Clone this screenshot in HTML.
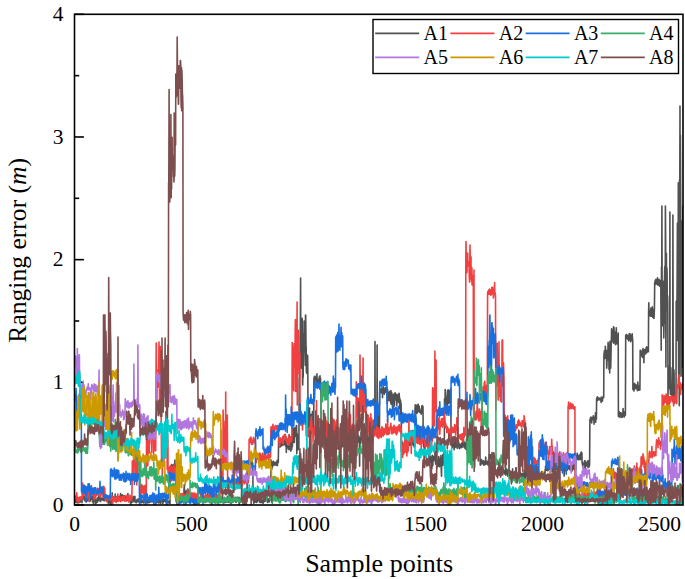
<!DOCTYPE html>
<html><head><meta charset="utf-8"><style>
html,body{margin:0;padding:0;background:#fff;}
body{width:685px;height:579px;overflow:hidden;}
svg{display:block;font-family:"Liberation Serif",serif;}
</style></head><body>
<svg width="685" height="579" viewBox="0 0 685 579">
<rect width="685" height="579" fill="#fff"/>
<line x1="74.5" y1="505.00" x2="83.9" y2="505.00" stroke="#000" stroke-width="1.6"/>
<line x1="74.5" y1="443.66" x2="79.2" y2="443.66" stroke="#000" stroke-width="1.6"/>
<text x="63.5" y="511.60" text-anchor="end" font-size="21.5">0</text>
<line x1="74.5" y1="382.32" x2="83.9" y2="382.32" stroke="#000" stroke-width="1.6"/>
<line x1="74.5" y1="320.99" x2="79.2" y2="320.99" stroke="#000" stroke-width="1.6"/>
<text x="63.5" y="388.93" text-anchor="end" font-size="21.5">1</text>
<line x1="74.5" y1="259.65" x2="83.9" y2="259.65" stroke="#000" stroke-width="1.6"/>
<line x1="74.5" y1="198.31" x2="79.2" y2="198.31" stroke="#000" stroke-width="1.6"/>
<text x="63.5" y="266.25" text-anchor="end" font-size="21.5">2</text>
<line x1="74.5" y1="136.98" x2="83.9" y2="136.98" stroke="#000" stroke-width="1.6"/>
<line x1="74.5" y1="75.64" x2="79.2" y2="75.64" stroke="#000" stroke-width="1.6"/>
<text x="63.5" y="143.58" text-anchor="end" font-size="21.5">3</text>
<line x1="74.5" y1="14.30" x2="83.9" y2="14.30" stroke="#000" stroke-width="1.6"/>
<text x="63.5" y="20.90" text-anchor="end" font-size="21.5">4</text>
<text x="74.50" y="531" text-anchor="middle" font-size="21.5">0</text>
<text x="191.52" y="531" text-anchor="middle" font-size="21.5">500</text>
<text x="308.54" y="531" text-anchor="middle" font-size="21.5">1000</text>
<text x="425.56" y="531" text-anchor="middle" font-size="21.5">1500</text>
<text x="542.58" y="531" text-anchor="middle" font-size="21.5">2000</text>
<text x="659.60" y="531" text-anchor="middle" font-size="21.5">2500</text>
<defs><clipPath id="clip"><rect x="74.5" y="14.3" width="608.5" height="490.7"/></clipPath></defs>
<g clip-path="url(#clip)"><path d="M74.5,501.6 74.7,502.0 75.0,499.0 75.2,500.4 75.4,499.7 75.7,499.9 75.9,502.1 76.1,499.4 76.4,500.3 76.6,501.5 76.8,502.1 77.1,502.8 77.3,501.6 77.5,501.6 77.8,502.4 78.0,502.8 78.2,502.1 78.5,500.7 78.7,500.3 78.9,501.8 79.2,498.3 79.4,499.5 79.6,502.4 79.9,500.5 80.1,500.8 80.4,501.8 80.6,500.5 80.8,500.7 81.1,499.7 81.3,501.2 81.5,501.6 81.8,500.5 82.0,502.8 82.2,496.5 82.5,500.8 82.7,498.5 82.9,495.9 83.2,496.4 83.4,498.8 83.6,497.3 83.9,497.6 84.1,496.0 84.3,497.2 84.6,497.9 84.8,500.6 85.0,500.0 85.3,501.0 85.5,498.0 85.7,500.6 86.0,498.7 86.2,501.7 86.4,498.8 86.7,497.4 86.9,499.2 87.1,500.7 87.4,499.4 87.6,500.9 87.8,496.7 88.1,496.4 88.3,499.7 88.5,499.4 88.8,496.1 89.0,496.1 89.2,499.0 89.5,500.8 89.7,496.5 89.9,496.8 90.2,501.3 90.4,497.5 90.6,499.4 90.9,497.3 91.1,498.3 91.4,495.9 91.6,499.2 91.8,498.4 92.1,496.2 92.3,499.3 92.5,502.0 92.8,497.1 93.0,499.3 93.2,500.6 93.5,503.6 93.7,499.8 93.9,501.6 94.2,499.1 94.4,500.4 94.6,498.6 94.9,499.2 95.1,500.7 95.3,500.0 95.6,503.9 95.8,501.0 96.0,501.1 96.3,502.9 96.5,500.6 96.7,500.9 97.0,498.8 97.2,500.1 97.4,502.1 97.7,499.5 97.9,497.5 98.1,500.8 98.4,499.8 98.6,497.4 98.8,495.7 99.1,498.7 99.3,499.0 99.5,496.2 99.8,493.5 100.0,500.7 100.2,501.5 100.5,501.5 100.7,500.2 100.9,501.0 101.2,498.7 101.4,498.2 101.6,498.6 101.9,498.1 102.1,498.1 102.4,498.4 102.6,499.2 102.8,500.2 103.1,498.5 103.3,500.5 103.5,499.1 103.8,498.9 104.0,498.4 104.2,499.5 104.5,500.7 104.7,498.9 104.9,498.2 105.2,495.5 105.4,500.2 105.6,499.9 105.9,495.8 106.1,499.1 106.3,496.9 106.6,500.4 106.8,498.5 107.0,501.0 107.3,498.2 107.5,498.4 107.7,500.1 108.0,497.8 108.2,503.3 108.4,501.6 108.7,499.7 108.9,502.1 109.1,497.7 109.4,499.1 109.6,500.7 109.8,500.1 110.1,504.5 110.3,498.1 110.5,498.8 110.8,500.5 111.0,500.6 111.2,498.6 111.5,500.6 111.7,506.4 111.9,501.5 112.2,492.7 112.4,498.4 112.6,502.9 112.9,500.5 113.1,500.4 113.4,496.8 113.6,500.4 113.8,497.6 114.1,498.8 114.3,500.5 114.5,497.9 114.8,498.4 115.0,501.2 115.2,494.1 115.5,498.4 115.7,500.0 115.9,501.1 116.2,500.4 116.4,497.0 116.6,497.5 116.9,498.0 117.1,499.7 117.3,500.4 117.6,499.9 117.8,500.8 118.0,499.5 118.3,500.6 118.5,496.5 118.7,498.7 119.0,496.3 119.2,497.2 119.4,499.3 119.7,498.0 119.9,497.5 120.1,497.9 120.4,495.8 120.6,493.6 120.8,496.1 121.1,496.5 121.3,495.8 121.5,500.0 121.8,497.3 122.0,496.1 122.2,494.9 122.5,498.8 122.7,495.7 122.9,496.3 123.2,496.4 123.4,497.3 123.6,498.4 123.9,495.5 124.1,500.3 124.4,496.4 124.6,496.4 124.8,495.5 125.1,497.2 125.3,499.0 125.5,497.0 125.8,499.0 126.0,500.9 126.2,498.3 126.5,497.8 126.7,496.7 126.9,497.4 127.2,500.6 127.4,500.1 127.6,495.7 127.9,493.5 128.1,498.2 128.3,497.2 128.6,500.3 128.8,497.9 129.0,498.5 129.3,498.9 129.5,500.8 129.7,501.0 130.0,499.1 130.2,499.2 130.4,497.1 130.7,506.7 130.9,496.6 131.1,501.6 131.4,497.5 131.6,502.6 131.8,498.1 132.1,502.1 132.3,500.9 132.5,497.5 132.8,500.7 133.0,498.0 133.2,501.8 133.5,496.5 133.7,500.5 133.9,498.0 134.2,500.5 134.4,498.2 134.6,499.2 134.9,496.4 135.1,502.1 135.3,500.4 135.6,500.5 135.8,501.6 136.1,502.1 136.3,502.7 136.5,501.7 136.8,501.9 137.0,499.5 137.2,499.3 137.5,499.4 137.7,500.8 137.9,501.6 138.2,500.0 138.4,499.0 138.6,499.3 138.9,501.9 139.1,499.1 139.3,500.4 139.6,502.6 139.8,499.7 140.0,502.2 140.3,499.5 140.5,501.5 140.7,500.4 141.0,502.8 141.2,501.5 141.4,500.0 141.7,502.8 141.9,502.5 142.1,502.4 142.4,501.5 142.6,502.0 142.8,502.1 143.1,499.7 143.3,500.8 143.5,501.7 143.8,503.0 144.0,500.5 144.2,502.3 144.5,501.4 144.7,500.1 144.9,501.0 145.2,499.7 145.4,501.7 145.6,501.8 145.9,502.5 146.1,501.2 146.3,499.7 146.6,500.4 146.8,501.1 147.1,503.2 147.3,500.8 147.5,502.0 147.8,500.8 148.0,502.2 148.2,501.8 148.5,499.7 148.7,502.8 148.9,499.5 149.2,502.1 149.4,502.5 149.6,501.2 149.9,499.3 150.1,499.9 150.3,499.8 150.6,501.9 150.8,500.5 151.0,499.8 151.3,500.6 151.5,500.8 151.7,501.8 152.0,498.8 152.2,498.4 152.4,499.8 152.7,501.8 152.9,499.4 153.1,502.0 153.4,499.7 153.6,501.1 153.8,500.2 154.1,499.8 154.3,500.3 154.5,500.4 154.8,499.7 155.0,499.9 155.2,502.2 155.5,503.4 155.7,501.9 155.9,503.1 156.2,500.8 156.4,502.6 156.6,499.8 156.9,501.6 157.1,500.1 157.3,499.4 157.6,499.3 157.8,500.5 158.1,502.7 158.3,502.5 158.5,503.0 158.8,501.1 159.0,502.0 159.2,501.4 159.5,498.2 159.7,499.8 159.9,502.1 160.2,502.9 160.4,503.4 160.6,500.2 160.9,500.5 161.1,501.3 161.3,499.8 161.6,501.0 161.8,500.6 162.0,501.5 162.3,502.2 162.5,503.3 162.7,498.5 163.0,503.1 163.2,502.4 163.4,500.7 163.7,500.3 163.9,501.2 164.1,500.4 164.4,499.7 164.6,500.2 164.8,501.5 165.1,499.8 165.3,501.7 165.5,501.1 165.8,501.3 166.0,499.2 166.2,502.7 166.5,504.6 166.7,500.1 166.9,500.6 167.2,501.6 167.4,500.6 167.6,501.2 167.9,501.4 168.1,502.6 168.3,502.8 168.6,501.9 168.8,501.2 169.1,501.0 169.3,503.3 169.5,500.9 169.8,503.6 170.0,503.7 170.2,468.8 170.5,465.7 170.7,466.2 170.9,467.7 171.2,467.4 171.4,467.9 171.6,464.5 171.9,467.0 172.1,464.9 172.3,465.3 172.6,465.7 172.8,473.6 173.0,466.6 173.3,468.3 173.5,467.5 173.7,468.6 174.0,464.3 174.2,468.6 174.4,468.8 174.7,466.9 174.9,460.0 175.1,467.6 175.4,467.0 175.6,465.3 175.8,466.7 176.1,498.2 176.3,502.0 176.5,499.5 176.8,499.9 177.0,499.1 177.2,499.1 177.5,499.6 177.7,500.1 177.9,500.0 178.2,502.2 178.4,502.0 178.6,502.2 178.9,499.3 179.1,501.7 179.3,500.8 179.6,500.2 179.8,500.4 180.1,499.8 180.3,499.3 180.5,498.5 180.8,498.7 181.0,499.6 181.2,498.1 181.5,500.6 181.7,498.2 181.9,499.6 182.2,498.0 182.4,498.9 182.6,501.2 182.9,500.1 183.1,499.1 183.3,498.6 183.6,501.5 183.8,499.6 184.0,489.8 184.3,484.6 184.5,492.5 184.7,490.1 185.0,491.3 185.2,493.0 185.4,491.7 185.7,495.4 185.9,495.3 186.1,494.6 186.4,493.7 186.6,491.5 186.8,490.3 187.1,492.3 187.3,491.6 187.5,490.3 187.8,489.4 188.0,489.3 188.2,490.0 188.5,491.9 188.7,493.7 188.9,494.6 189.2,491.6 189.4,494.3 189.6,493.7 189.9,493.7 190.1,500.2 190.3,501.5 190.6,499.8 190.8,501.9 191.1,500.3 191.3,499.1 191.5,500.6 191.8,499.4 192.0,498.5 192.2,499.5 192.5,500.6 192.7,502.2 192.9,502.1 193.2,499.3 193.4,499.9 193.6,501.6 193.9,498.0 194.1,505.7 194.3,498.5 194.6,500.4 194.8,500.7 195.0,502.7 195.3,501.7 195.5,500.9 195.7,497.0 196.0,498.0 196.2,501.0 196.4,500.4 196.7,498.5 196.9,502.5 197.1,497.7 197.4,498.9 197.6,502.5 197.8,500.2 198.1,501.8 198.3,503.2 198.5,503.4 198.8,501.5 199.0,500.6 199.2,501.1 199.5,498.9 199.7,498.3 199.9,501.5 200.2,498.3 200.4,497.4 200.6,501.9 200.9,495.6 201.1,501.5 201.3,499.4 201.6,499.1 201.8,498.3 202.1,499.1 202.3,500.6 202.5,501.2 202.8,498.6 203.0,498.2 203.2,499.1 203.5,499.5 203.7,500.9 203.9,498.1 204.2,501.4 204.4,499.9 204.6,498.3 204.9,502.5 205.1,495.7 205.3,500.6 205.6,502.4 205.8,499.7 206.0,501.0 206.3,501.6 206.5,497.2 206.7,501.0 207.0,499.6 207.2,497.5 207.4,493.7 207.7,501.1 207.9,497.1 208.1,498.7 208.4,495.3 208.6,498.9 208.8,500.8 209.1,497.2 209.3,497.6 209.5,497.7 209.8,499.3 210.0,501.2 210.2,502.4 210.5,500.5 210.7,498.9 210.9,499.8 211.2,500.2 211.4,505.0 211.6,501.0 211.9,500.6 212.1,501.4 212.3,501.7 212.6,497.2 212.8,499.0 213.1,498.3 213.3,497.6 213.5,499.1 213.8,497.7 214.0,495.1 214.2,502.8 214.5,500.6 214.7,500.3 214.9,498.5 215.2,501.3 215.4,501.7 215.6,500.2 215.9,494.6 216.1,501.2 216.3,499.2 216.6,497.1 216.8,499.6 217.0,495.3 217.3,501.0 217.5,503.5 217.7,502.0 218.0,500.5 218.2,502.1 218.4,498.0 218.7,501.9 218.9,498.6 219.1,501.6 219.4,500.3 219.6,498.7 219.8,497.8 220.1,501.9 220.3,502.6 220.5,498.8 220.8,500.7 221.0,498.2 221.2,497.5 221.5,500.5 221.7,498.0 221.9,498.2 222.2,499.2 222.4,500.3 222.6,498.5 222.9,497.5 223.1,501.3 223.3,500.3 223.6,503.5 223.8,499.1 224.1,502.3 224.3,500.3 224.5,502.4 224.8,499.9 225.0,499.6 225.2,500.0 225.5,501.5 225.7,501.9 225.9,502.3 226.2,498.7 226.4,501.5 226.6,498.6 226.9,499.1 227.1,500.9 227.3,496.5 227.6,502.3 227.8,501.8 228.0,501.8 228.3,499.5 228.5,498.5 228.7,502.1 229.0,501.5 229.2,500.2 229.4,498.8 229.7,499.8 229.9,502.6 230.1,500.5 230.4,501.5 230.6,499.5 230.8,503.4 231.1,503.6 231.3,501.2 231.5,500.9 231.8,501.8 232.0,501.3 232.2,500.1 232.5,500.8 232.7,500.8 232.9,499.9 233.2,502.0 233.4,497.5 233.6,499.1 233.9,498.3 234.1,500.7 234.3,498.9 234.6,498.8 234.8,501.2 235.1,498.1 235.3,497.2 235.5,498.6 235.8,499.0 236.0,502.4 236.2,497.8 236.5,497.5 236.7,498.3 236.9,500.0 237.2,499.8 237.4,497.3 237.6,497.6 237.9,497.5 238.1,498.6 238.3,500.8 238.6,502.2 238.8,498.8 239.0,497.4 239.3,506.5 239.5,501.1 239.7,500.2 240.0,502.5 240.2,502.3 240.4,501.8 240.7,501.7 240.9,498.4 241.1,498.3 241.4,498.2 241.6,501.7 241.8,498.8 242.1,499.7 242.3,500.0 242.5,497.8 242.8,496.4 243.0,499.0 243.2,500.4 243.5,498.3 243.7,500.8 243.9,499.2 244.2,498.1 244.4,492.1 244.6,501.0 244.9,504.6 245.1,498.7 245.3,500.2 245.6,497.1 245.8,497.2 246.1,499.3 246.3,498.6 246.5,500.7 246.8,500.1 247.0,501.4 247.2,464.4 247.5,466.3 247.7,463.8 247.9,462.3 248.2,464.1 248.4,465.5 248.6,470.7 248.9,461.2 249.1,463.4 249.3,465.3 249.6,464.8 249.8,465.4 250.0,460.5 250.3,466.0 250.5,461.1 250.7,462.4 251.0,464.2 251.2,466.6 251.4,466.0 251.7,465.6 251.9,463.3 252.1,465.1 252.4,464.7 252.6,462.8 252.8,465.2 253.1,500.4 253.3,497.8 253.5,499.5 253.8,503.4 254.0,500.9 254.2,499.0 254.5,498.2 254.7,500.9 254.9,502.2 255.2,499.7 255.4,500.9 255.6,498.6 255.9,498.3 256.1,499.6 256.3,502.5 256.6,501.2 256.8,497.6 257.0,498.9 257.3,501.8 257.5,500.9 257.8,497.3 258.0,500.3 258.2,499.0 258.5,497.8 258.7,500.2 258.9,499.9 259.2,498.2 259.4,502.0 259.6,499.3 259.9,502.5 260.1,500.8 260.3,501.7 260.6,498.5 260.8,495.3 261.0,502.5 261.3,499.9 261.5,497.2 261.7,500.4 262.0,502.4 262.2,499.8 262.4,501.5 262.7,501.8 262.9,501.6 263.1,503.5 263.4,500.1 263.6,502.0 263.8,502.1 264.1,499.4 264.3,498.9 264.5,497.8 264.8,501.3 265.0,497.4 265.2,494.0 265.5,498.9 265.7,499.1 265.9,497.5 266.2,500.4 266.4,500.3 266.6,499.3 266.9,497.0 267.1,501.2 267.3,500.2 267.6,502.4 267.8,498.6 268.0,501.5 268.3,501.6 268.5,502.0 268.8,500.7 269.0,498.8 269.2,499.7 269.5,501.8 269.7,498.1 269.9,498.7 270.2,500.0 270.4,498.3 270.6,497.3 270.9,459.7 271.1,466.8 271.3,464.1 271.6,462.0 271.8,469.4 272.0,462.0 272.3,467.5 272.5,462.1 272.7,463.4 273.0,464.8 273.2,463.4 273.4,461.2 273.7,464.5 273.9,465.5 274.1,463.6 274.4,462.7 274.6,462.4 274.8,462.5 275.1,463.3 275.3,463.5 275.5,464.9 275.8,462.3 276.0,465.1 276.2,464.5 276.5,462.1 276.7,462.0 276.9,463.5 277.2,460.3 277.4,465.6 277.6,461.7 277.9,462.8 278.1,462.6 278.3,462.2 278.6,440.7 278.8,441.9 279.0,443.8 279.3,442.1 279.5,443.8 279.8,444.9 280.0,445.8 280.2,447.0 280.5,442.4 280.7,446.3 280.9,445.0 281.2,445.0 281.4,442.8 281.6,445.8 281.9,445.4 282.1,442.1 282.3,443.9 282.6,442.3 282.8,443.8 283.0,445.1 283.3,442.9 283.5,443.0 283.7,440.5 284.0,444.5 284.2,444.1 284.4,444.0 284.7,442.7 284.9,443.7 285.1,437.3 285.4,446.0 285.6,442.5 285.8,438.4 286.1,438.9 286.3,452.5 286.5,445.5 286.8,449.3 287.0,446.5 287.2,446.8 287.5,445.8 287.7,446.4 287.9,447.7 288.2,443.4 288.4,446.7 288.6,440.4 288.9,449.7 289.1,434.5 289.3,449.2 289.6,440.8 289.8,438.3 290.0,444.8 290.3,437.8 290.5,448.5 290.8,451.1 291.0,443.8 291.2,450.0 291.5,448.9 291.7,449.6 291.9,441.1 292.2,441.0 292.4,446.8 292.6,425.0 292.9,431.9 293.1,431.9 293.3,437.1 293.6,428.5 293.8,442.5 294.0,442.5 294.3,442.5 294.5,436.8 294.7,432.0 295.0,427.5 295.2,427.5 295.4,433.7 295.7,433.7 295.9,433.7 296.1,436.6 296.4,425.5 296.6,425.5 296.8,453.7 297.1,433.4 297.3,434.8 297.5,445.4 297.8,442.1 298.0,449.8 298.2,448.7 298.5,440.5 298.7,449.2 298.9,446.8 299.2,378.4 299.4,378.4 299.6,358.7 299.9,364.7 300.1,355.7 300.3,327.4 300.6,278.0 300.8,344.6 301.0,368.2 301.3,353.5 301.5,342.1 301.8,358.7 302.0,348.6 302.2,318.3 302.5,383.0 302.7,385.0 302.9,377.1 303.2,377.1 303.4,341.0 303.6,333.9 303.9,346.8 304.1,321.0 304.3,343.6 304.6,338.1 304.8,352.8 305.0,352.8 305.3,365.5 305.5,315.2 305.7,315.1 306.0,345.9 306.2,347.3 306.4,371.7 306.7,373.2 306.9,373.2 307.1,367.7 307.4,367.7 307.6,355.2 307.8,367.2 308.1,428.3 308.3,420.9 308.5,420.9 308.8,427.5 309.0,427.5 309.2,427.5 309.5,408.1 309.7,426.9 309.9,420.5 310.2,417.4 310.4,420.6 310.6,423.4 310.9,414.2 311.1,414.2 311.3,415.2 311.6,415.2 311.8,415.1 312.0,417.5 312.3,427.5 312.5,411.5 312.8,411.5 313.0,424.9 313.2,429.1 313.5,433.8 313.7,433.8 313.9,379.2 314.2,377.1 314.4,380.7 314.6,376.3 314.9,378.3 315.1,376.4 315.3,380.7 315.6,384.1 315.8,385.4 316.0,380.9 316.3,379.3 316.5,385.2 316.7,379.0 317.0,373.9 317.2,383.1 317.4,383.2 317.7,383.3 317.9,384.4 318.1,381.2 318.4,379.6 318.6,383.0 318.8,379.0 319.1,379.7 319.3,376.7 319.5,383.7 319.8,380.4 320.0,375.7 320.2,381.0 320.5,378.2 320.7,385.0 320.9,384.2 321.2,433.2 321.4,445.2 321.6,441.5 321.9,445.3 322.1,434.1 322.3,446.9 322.6,437.2 322.8,434.9 323.0,442.3 323.3,442.4 323.5,438.9 323.8,436.7 324.0,438.8 324.2,434.9 324.5,439.5 324.7,436.2 324.9,435.8 325.2,422.9 325.4,445.4 325.6,437.2 325.9,433.6 326.1,440.3 326.3,443.2 326.6,441.1 326.8,446.6 327.0,442.7 327.3,438.0 327.5,440.6 327.7,448.3 328.0,439.5 328.2,438.9 328.4,445.4 328.7,438.8 328.9,436.8 329.1,442.7 329.4,436.0 329.6,433.2 329.8,438.7 330.1,458.7 330.3,435.8 330.5,433.4 330.8,446.2 331.0,436.7 331.2,435.4 331.5,433.4 331.7,445.6 331.9,443.2 332.2,434.1 332.4,442.7 332.6,430.9 332.9,446.3 333.1,439.5 333.3,446.2 333.6,438.5 333.8,437.9 334.0,437.0 334.3,440.1 334.5,440.4 334.8,443.3 335.0,436.9 335.2,436.1 335.5,434.2 335.7,444.4 335.9,443.9 336.2,445.8 336.4,436.3 336.6,440.6 336.9,439.4 337.1,440.6 337.3,435.2 337.6,434.1 337.8,442.3 338.0,442.7 338.3,441.5 338.5,436.3 338.7,444.2 339.0,433.2 339.2,443.1 339.4,446.6 339.7,448.8 339.9,441.4 340.1,437.3 340.4,451.1 340.6,446.0 340.8,440.0 341.1,437.1 341.3,447.9 341.5,447.3 341.8,442.4 342.0,440.0 342.2,446.8 342.5,442.0 342.7,438.7 342.9,439.5 343.2,439.2 343.4,440.4 343.6,445.2 343.9,444.8 344.1,443.1 344.3,442.0 344.6,435.5 344.8,430.2 345.0,443.9 345.3,433.6 345.5,427.1 345.8,433.8 346.0,440.5 346.2,432.9 346.5,438.8 346.7,442.3 346.9,429.5 347.2,439.1 347.4,425.3 347.6,444.2 347.9,438.2 348.1,428.5 348.3,444.1 348.6,427.9 348.8,442.1 349.0,448.3 349.3,439.0 349.5,447.5 349.7,438.5 350.0,440.9 350.2,433.3 350.4,448.6 350.7,432.4 350.9,435.9 351.1,447.1 351.4,441.7 351.6,447.4 351.8,444.5 352.1,442.2 352.3,446.9 352.5,432.6 352.8,441.0 353.0,438.1 353.2,436.6 353.5,435.2 353.7,444.0 353.9,425.3 354.2,447.0 354.4,436.2 354.6,444.3 354.9,447.7 355.1,444.3 355.3,436.0 355.6,448.6 355.8,442.2 356.0,449.3 356.3,440.9 356.5,451.7 356.8,455.7 357.0,423.0 357.2,433.4 357.5,440.6 357.7,442.3 357.9,441.1 358.2,441.8 358.4,436.5 358.6,435.6 358.9,442.0 359.1,437.5 359.3,437.3 359.6,466.2 359.8,445.3 360.0,443.2 360.3,440.3 360.5,440.2 360.7,443.3 361.0,436.9 361.2,432.4 361.4,432.0 361.7,438.5 361.9,434.7 362.1,437.4 362.4,430.9 362.6,442.5 362.8,439.0 363.1,437.0 363.3,445.9 363.5,439.3 363.8,439.1 364.0,434.6 364.2,442.2 364.5,435.2 364.7,423.7 364.9,437.0 365.2,429.1 365.4,433.6 365.6,439.5 365.9,446.4 366.1,444.5 366.3,439.2 366.6,439.1 366.8,438.6 367.0,448.5 367.3,448.5 367.5,434.8 367.8,448.8 368.0,437.1 368.2,442.4 368.5,438.4 368.7,448.9 368.9,446.5 369.2,448.4 369.4,446.4 369.6,434.8 369.9,443.9 370.1,443.3 370.3,431.8 370.6,434.4 370.8,443.1 371.0,435.6 371.3,437.3 371.5,438.6 371.7,434.8 372.0,442.3 372.2,421.8 372.4,442.2 372.7,445.9 372.9,437.6 373.1,427.1 373.4,420.2 373.6,424.3 373.8,421.2 374.1,425.3 374.3,431.6 374.5,425.7 374.8,421.8 375.0,341.5 375.2,420.6 375.5,429.8 375.7,422.4 375.9,420.3 376.2,427.2 376.4,421.6 376.6,419.5 376.9,432.2 377.1,345.0 377.3,427.5 377.6,428.3 377.8,423.2 378.0,409.5 378.3,423.6 378.5,430.3 378.8,425.7 379.0,430.5 379.2,431.7 379.5,426.2 379.7,392.5 379.9,390.2 380.2,391.2 380.4,392.4 380.6,389.0 380.9,392.5 381.1,388.5 381.3,392.7 381.6,388.1 381.8,388.7 382.0,390.6 382.3,390.9 382.5,397.6 382.7,392.9 383.0,389.6 383.2,386.5 383.4,388.9 383.7,391.9 383.9,392.8 384.1,389.8 384.4,394.2 384.6,391.6 384.8,390.6 385.1,388.5 385.3,387.5 385.5,392.1 385.8,390.3 386.0,389.7 386.2,389.2 386.5,392.0 386.7,391.1 386.9,387.7 387.2,403.5 387.4,400.4 387.6,389.5 387.9,398.2 388.1,394.7 388.3,396.2 388.6,394.3 388.8,392.6 389.0,400.7 389.3,394.5 389.5,391.6 389.7,392.2 390.0,398.6 390.2,400.1 390.5,393.7 390.7,403.0 390.9,390.6 391.2,404.3 391.4,398.0 391.6,392.4 391.9,393.6 392.1,401.0 392.3,397.2 392.6,410.5 392.8,395.6 393.0,395.8 393.3,401.6 393.5,404.6 393.7,394.3 394.0,395.4 394.2,397.5 394.4,405.9 394.7,393.2 394.9,397.5 395.1,392.8 395.4,395.5 395.6,393.5 395.8,400.0 396.1,399.0 396.3,398.7 396.5,394.8 396.8,405.6 397.0,394.5 397.2,401.8 397.5,395.0 397.7,398.2 397.9,400.1 398.2,400.4 398.4,398.5 398.6,402.4 398.9,393.5 399.1,393.3 399.3,396.2 399.6,398.7 399.8,408.7 400.0,399.1 400.3,418.0 400.5,400.3 400.7,402.5 401.0,403.1 401.2,406.5 401.5,448.0 401.7,445.3 401.9,441.0 402.2,443.3 402.4,446.9 402.6,442.9 402.9,445.5 403.1,444.7 403.3,444.2 403.6,444.4 403.8,446.0 404.0,445.4 404.3,445.5 404.5,446.7 404.7,441.4 405.0,444.4 405.2,441.3 405.4,440.5 405.7,441.7 405.9,442.8 406.1,434.5 406.4,443.7 406.6,444.5 406.8,445.6 407.1,441.8 407.3,441.8 407.5,443.1 407.8,441.8 408.0,441.0 408.2,442.9 408.5,444.7 408.7,441.4 408.9,442.2 409.2,444.0 409.4,441.6 409.6,445.3 409.9,442.0 410.1,443.5 410.3,441.2 410.6,441.4 410.8,445.4 411.0,443.5 411.3,439.3 411.5,442.2 411.7,444.5 412.0,443.9 412.2,439.4 412.5,442.2 412.7,440.2 412.9,443.6 413.2,443.5 413.4,445.6 413.6,444.0 413.9,443.8 414.1,443.1 414.3,447.1 414.6,446.3 414.8,446.2 415.0,408.8 415.3,404.9 415.5,405.4 415.7,412.4 416.0,408.1 416.2,410.3 416.4,406.6 416.7,413.8 416.9,406.1 417.1,405.0 417.4,412.8 417.6,405.1 417.8,409.0 418.1,405.8 418.3,404.2 418.5,410.5 418.8,411.3 419.0,411.6 419.2,406.2 419.5,412.2 419.7,408.6 419.9,412.1 420.2,412.5 420.4,411.5 420.6,412.9 420.9,411.8 421.1,410.6 421.3,414.2 421.6,410.8 421.8,406.0 422.0,409.9 422.3,405.5 422.5,405.6 422.7,406.4 423.0,406.9 423.2,441.7 423.5,441.6 423.7,446.9 423.9,443.4 424.2,436.9 424.4,445.6 424.6,445.2 424.9,454.2 425.1,442.3 425.3,442.0 425.6,440.0 425.8,440.2 426.0,443.1 426.3,444.2 426.5,442.3 426.7,442.8 427.0,444.3 427.2,438.0 427.4,433.1 427.7,437.5 427.9,437.9 428.1,436.6 428.4,439.8 428.6,440.3 428.8,437.3 429.1,462.2 429.3,447.5 429.5,442.6 429.8,456.4 430.0,456.4 430.2,462.6 430.5,456.6 430.7,458.1 430.9,459.5 431.2,458.0 431.4,465.9 431.6,464.6 431.9,468.7 432.1,457.5 432.3,455.3 432.6,464.4 432.8,465.8 433.0,456.0 433.3,458.5 433.5,458.2 433.7,461.0 434.0,459.0 434.2,456.2 434.5,459.8 434.7,458.1 434.9,456.1 435.2,445.0 435.4,455.3 435.6,464.1 435.9,458.5 436.1,462.3 436.3,461.3 436.6,459.1 436.8,460.1 437.0,467.9 437.3,458.8 437.5,462.4 437.7,464.7 438.0,457.2 438.2,465.9 438.4,461.4 438.7,456.6 438.9,460.5 439.1,463.0 439.4,466.8 439.6,460.6 439.8,461.5 440.1,466.0 440.3,463.2 440.5,458.1 440.8,458.0 441.0,455.2 441.2,468.0 441.5,476.2 441.7,458.0 441.9,462.6 442.2,465.6 442.4,465.0 442.6,459.9 442.9,454.6 443.1,465.1 443.3,459.7 443.6,458.6 443.8,455.5 444.0,452.8 444.3,459.4 444.5,398.8 444.7,402.0 445.0,404.5 445.2,389.5 445.5,397.5 445.7,397.0 445.9,397.8 446.2,402.4 446.4,404.6 446.6,402.6 446.9,399.1 447.1,412.7 447.3,395.2 447.6,390.4 447.8,392.3 448.0,401.8 448.3,389.9 448.5,392.4 448.7,403.8 449.0,403.8 449.2,392.0 449.4,390.9 449.7,394.2 449.9,393.2 450.1,390.5 450.4,402.2 450.6,388.7 450.8,389.3 451.1,445.2 451.3,440.6 451.5,439.9 451.8,439.6 452.0,439.8 452.2,447.7 452.5,441.3 452.7,444.6 452.9,446.1 453.2,445.8 453.4,436.9 453.6,446.4 453.9,444.2 454.1,449.8 454.3,448.9 454.6,443.2 454.8,442.6 455.0,442.4 455.3,440.6 455.5,447.1 455.7,441.0 456.0,443.8 456.2,441.6 456.5,443.5 456.7,446.8 456.9,443.2 457.2,448.3 457.4,446.4 457.6,435.3 457.9,442.0 458.1,446.0 458.3,440.6 458.6,442.0 458.8,447.0 459.0,443.6 459.3,448.6 459.5,448.8 459.7,447.3 460.0,447.0 460.2,446.7 460.4,444.3 460.7,444.8 460.9,447.4 461.1,445.9 461.4,447.7 461.6,443.5 461.8,445.4 462.1,442.2 462.3,445.4 462.5,446.4 462.8,441.4 463.0,447.1 463.2,445.9 463.5,437.9 463.7,444.8 463.9,444.5 464.2,442.9 464.4,444.7 464.6,442.3 464.9,448.1 465.1,445.0 465.3,443.0 465.6,447.4 465.8,449.1 466.0,446.0 466.3,447.8 466.5,439.2 466.7,442.6 467.0,443.5 467.2,453.8 467.5,450.2 467.7,447.4 467.9,448.2 468.2,453.5 468.4,446.1 468.6,446.9 468.9,448.9 469.1,449.2 469.3,446.4 469.6,452.9 469.8,449.8 470.0,451.3 470.3,450.3 470.5,453.0 470.7,454.6 471.0,452.8 471.2,449.7 471.4,452.2 471.7,452.5 471.9,450.9 472.1,453.9 472.4,452.9 472.6,454.9 472.8,449.8 473.1,451.5 473.3,450.4 473.5,453.4 473.8,446.4 474.0,453.3 474.2,437.3 474.5,452.0 474.7,445.2 474.9,450.7 475.2,449.4 475.4,446.9 475.6,452.8 475.9,458.6 476.1,446.0 476.3,444.8 476.6,445.2 476.8,443.6 477.0,450.1 477.3,451.3 477.5,447.2 477.7,448.3 478.0,452.5 478.2,452.9 478.5,450.0 478.7,453.3 478.9,447.1 479.2,451.4 479.4,453.1 479.6,445.7 479.9,448.1 480.1,461.1 480.3,465.1 480.6,464.9 480.8,465.0 481.0,464.3 481.3,462.3 481.5,459.6 481.7,462.1 482.0,460.5 482.2,462.6 482.4,463.3 482.7,463.6 482.9,461.6 483.1,463.1 483.4,464.4 483.6,460.9 483.8,465.3 484.1,462.1 484.3,461.7 484.5,465.0 484.8,464.3 485.0,461.2 485.2,461.6 485.5,464.5 485.7,457.0 485.9,463.3 486.2,463.5 486.4,461.2 486.6,463.7 486.9,461.8 487.1,463.1 487.3,462.4 487.6,464.7 487.8,461.9 488.0,462.2 488.3,460.2 488.5,465.4 488.7,465.6 489.0,461.2 489.2,454.6 489.5,456.5 489.7,454.5 489.9,455.0 490.2,458.7 490.4,456.8 490.6,454.7 490.9,457.3 491.1,460.2 491.3,454.7 491.6,454.8 491.8,456.7 492.0,457.0 492.3,456.7 492.5,458.3 492.7,457.8 493.0,455.8 493.2,457.2 493.4,453.8 493.7,455.5 493.9,455.8 494.1,454.0 494.4,461.5 494.6,457.1 494.8,456.9 495.1,471.3 495.3,473.6 495.5,471.6 495.8,472.1 496.0,474.4 496.2,470.0 496.5,473.7 496.7,474.0 496.9,473.9 497.2,472.2 497.4,472.4 497.6,474.3 497.9,467.8 498.1,469.8 498.3,472.3 498.6,471.8 498.8,470.0 499.0,469.4 499.3,469.9 499.5,472.0 499.7,472.8 500.0,463.6 500.2,471.3 500.4,469.3 500.7,473.1 500.9,470.5 501.2,471.2 501.4,471.1 501.6,469.8 501.9,468.0 502.1,465.5 502.3,472.9 502.6,471.2 502.8,467.8 503.0,468.7 503.3,471.7 503.5,470.7 503.7,472.2 504.0,470.8 504.2,471.2 504.4,474.0 504.7,471.8 504.9,471.9 505.1,470.7 505.4,468.9 505.6,467.9 505.8,475.1 506.1,468.6 506.3,472.9 506.5,469.7 506.8,471.2 507.0,473.5 507.2,472.6 507.5,474.0 507.7,476.2 507.9,472.2 508.2,469.4 508.4,469.5 508.6,470.9 508.9,470.9 509.1,473.0 509.3,473.5 509.6,472.5 509.8,474.5 510.0,472.1 510.3,476.6 510.5,474.8 510.7,475.0 511.0,474.9 511.2,472.7 511.4,472.1 511.7,476.4 511.9,476.9 512.2,472.6 512.4,475.7 512.6,468.9 512.9,476.5 513.1,473.3 513.3,475.0 513.6,472.7 513.8,475.2 514.0,476.9 514.3,472.6 514.5,471.7 514.7,473.6 515.0,475.0 515.2,475.4 515.4,471.0 515.7,474.0 515.9,473.3 516.1,467.9 516.4,474.8 516.6,473.0 516.8,475.8 517.1,476.8 517.3,473.6 517.5,479.9 517.8,473.3 518.0,477.0 518.2,476.6 518.5,476.2 518.7,475.2 518.9,472.4 519.2,476.2 519.4,474.1 519.6,472.4 519.9,476.8 520.1,474.5 520.3,472.5 520.6,475.3 520.8,474.0 521.0,474.7 521.3,474.9 521.5,473.5 521.7,476.2 522.0,474.3 522.2,477.6 522.4,474.6 522.7,473.4 522.9,473.4 523.2,476.5 523.4,476.2 523.6,480.5 523.9,476.0 524.1,473.7 524.3,470.1 524.6,477.4 524.8,471.6 525.0,472.2 525.3,473.6 525.5,480.3 525.7,473.0 526.0,472.9 526.2,473.7 526.4,472.7 526.7,473.0 526.9,472.6 527.1,476.2 527.4,472.1 527.6,472.2 527.8,470.5 528.1,474.8 528.3,475.0 528.5,475.1 528.8,474.5 529.0,474.2 529.2,476.8 529.5,476.2 529.7,472.1 529.9,471.6 530.2,472.8 530.4,475.9 530.6,475.3 530.9,474.0 531.1,475.7 531.3,474.8 531.6,476.2 531.8,476.8 532.0,475.7 532.3,475.7 532.5,471.6 532.7,475.1 533.0,476.4 533.2,476.9 533.4,474.7 533.7,472.7 533.9,475.4 534.2,473.0 534.4,473.6 534.6,472.5 534.9,474.4 535.1,475.4 535.3,471.8 535.6,472.4 535.8,474.3 536.0,476.0 536.3,474.2 536.5,473.0 536.7,476.0 537.0,474.8 537.2,469.2 537.4,472.6 537.7,472.3 537.9,474.4 538.1,475.7 538.4,471.4 538.6,469.7 538.8,472.0 539.1,474.7 539.3,474.0 539.5,477.2 539.8,474.1 540.0,473.5 540.2,475.1 540.5,475.1 540.7,474.0 540.9,475.8 541.2,473.1 541.4,472.4 541.6,471.7 541.9,471.6 542.1,473.1 542.3,477.4 542.6,473.1 542.8,476.9 543.0,473.4 543.3,476.3 543.5,473.4 543.7,473.2 544.0,472.8 544.2,474.9 544.4,472.4 544.7,472.0 544.9,476.2 545.2,469.4 545.4,470.7 545.6,466.1 545.9,467.5 546.1,469.4 546.3,470.2 546.6,470.1 546.8,467.6 547.0,469.9 547.3,469.9 547.5,470.8 547.7,468.9 548.0,465.8 548.2,468.4 548.4,470.1 548.7,469.2 548.9,465.5 549.1,468.2 549.4,469.4 549.6,468.7 549.8,469.0 550.1,465.5 550.3,467.3 550.5,468.3 550.8,466.9 551.0,468.2 551.2,467.4 551.5,470.1 551.7,470.4 551.9,471.5 552.2,468.2 552.4,469.8 552.6,468.2 552.9,468.5 553.1,469.6 553.3,475.6 553.6,466.1 553.8,466.3 554.0,468.2 554.3,468.3 554.5,466.3 554.7,468.9 555.0,464.9 555.2,468.8 555.4,467.1 555.7,467.4 555.9,467.8 556.2,464.8 556.4,469.4 556.6,467.1 556.9,465.8 557.1,465.5 557.3,469.8 557.6,469.8 557.8,469.5 558.0,470.2 558.3,470.7 558.5,469.6 558.7,469.9 559.0,471.9 559.2,469.7 559.4,469.1 559.7,467.0 559.9,466.7 560.1,466.8 560.4,468.2 560.6,466.8 560.8,468.1 561.1,466.5 561.3,469.4 561.5,470.1 561.8,469.7 562.0,468.6 562.2,469.7 562.5,465.6 562.7,466.7 562.9,466.0 563.2,469.5 563.4,467.9 563.6,470.6 563.9,466.4 564.1,476.1 564.3,470.8 564.6,469.5 564.8,465.5 565.0,468.6 565.3,471.0 565.5,464.7 565.7,469.5 566.0,467.9 566.2,466.8 566.4,468.2 566.7,467.4 566.9,467.7 567.2,470.2 567.4,469.7 567.6,467.4 567.9,464.9 568.1,465.2 568.3,465.2 568.6,466.9 568.8,468.8 569.0,466.1 569.3,465.9 569.5,466.8 569.7,468.1 570.0,469.8 570.2,467.7 570.4,468.7 570.7,466.8 570.9,462.7 571.1,468.2 571.4,467.3 571.6,470.3 571.8,465.9 572.1,471.0 572.3,469.2 572.5,465.9 572.8,468.4 573.0,463.0 573.2,468.9 573.5,466.6 573.7,467.6 573.9,469.5 574.2,468.7 574.4,469.7 574.6,461.3 574.9,469.5 575.1,469.4 575.3,469.3 575.6,468.9 575.8,457.8 576.0,457.8 576.3,457.4 576.5,456.0 576.7,456.9 577.0,455.5 577.2,453.3 577.4,459.3 577.7,455.4 577.9,457.8 578.2,459.8 578.4,456.9 578.6,458.1 578.9,458.4 579.1,455.0 579.3,459.4 579.6,459.1 579.8,455.2 580.0,454.8 580.3,459.7 580.5,457.1 580.7,452.8 581.0,452.6 581.2,458.6 581.4,452.1 581.7,458.6 581.9,452.9 582.1,462.4 582.4,464.4 582.6,465.3 582.8,463.0 583.1,468.0 583.3,465.3 583.5,465.3 583.8,466.6 584.0,467.1 584.2,462.0 584.5,466.4 584.7,460.7 584.9,460.6 585.2,468.4 585.4,461.7 585.6,462.2 585.9,464.7 586.1,466.3 586.3,462.8 586.6,464.2 586.8,462.8 587.0,463.3 587.3,465.5 587.5,461.1 587.7,461.1 588.0,467.7 588.2,465.8 588.4,460.9 588.7,461.1 588.9,466.4 589.2,466.9 589.4,465.4 589.6,464.9 589.9,419.3 590.1,420.9 590.3,421.5 590.6,417.4 590.8,420.4 591.0,418.8 591.3,419.4 591.5,417.3 591.7,422.9 592.0,417.7 592.2,418.1 592.4,419.6 592.7,417.9 592.9,417.1 593.1,418.7 593.4,415.7 593.6,418.2 593.8,417.1 594.1,424.2 594.3,418.1 594.5,417.4 594.8,418.1 595.0,420.1 595.2,421.4 595.5,412.7 595.7,422.3 595.9,415.4 596.2,416.6 596.4,419.1 596.6,398.5 596.9,401.5 597.1,397.6 597.3,396.8 597.6,400.3 597.8,399.4 598.0,398.6 598.3,399.8 598.5,397.9 598.7,398.0 599.0,399.3 599.2,398.4 599.4,399.6 599.7,398.2 599.9,399.9 600.2,399.3 600.4,399.0 600.6,399.5 600.9,398.8 601.1,402.4 601.3,397.0 601.6,399.5 601.8,398.8 602.0,398.2 602.3,401.1 602.5,400.8 602.7,397.4 603.0,398.1 603.2,397.3 603.4,396.2 603.7,397.4 603.9,356.7 604.1,353.4 604.4,350.8 604.6,356.6 604.8,355.3 605.1,358.5 605.3,346.3 605.5,348.2 605.8,350.6 606.0,355.5 606.2,356.7 606.5,354.0 606.7,368.1 606.9,365.2 607.2,350.6 607.4,360.4 607.6,353.1 607.9,353.4 608.1,342.3 608.3,344.2 608.6,350.3 608.8,351.0 609.0,369.6 609.3,352.0 609.5,357.0 609.7,373.0 610.0,341.2 610.2,347.0 610.4,362.4 610.7,368.2 610.9,359.2 611.2,344.3 611.4,339.6 611.6,328.8 611.9,342.2 612.1,339.8 612.3,334.4 612.6,338.8 612.8,339.8 613.0,330.0 613.3,334.5 613.5,326.9 613.7,343.2 614.0,327.3 614.2,333.6 614.4,333.5 614.7,338.3 614.9,340.0 615.1,332.4 615.4,344.6 615.6,331.7 615.8,339.9 616.1,337.9 616.3,327.7 616.5,337.3 616.8,343.9 617.0,339.3 617.2,341.2 617.5,339.6 617.7,335.8 617.9,337.7 618.2,333.0 618.4,416.6 618.6,415.5 618.9,414.0 619.1,413.8 619.3,411.8 619.6,415.8 619.8,415.7 620.0,417.4 620.3,415.6 620.5,412.8 620.7,416.5 621.0,412.8 621.2,414.6 621.4,416.0 621.7,415.9 621.9,417.5 622.1,417.1 622.4,417.2 622.6,413.9 622.9,412.5 623.1,408.6 623.3,411.9 623.6,414.0 623.8,411.6 624.0,416.2 624.3,417.0 624.5,412.7 624.7,415.2 625.0,414.0 625.2,415.4 625.4,414.7 625.7,335.2 625.9,339.1 626.1,335.5 626.4,334.4 626.6,338.0 626.8,335.8 627.1,337.3 627.3,335.3 627.5,336.7 627.8,339.4 628.0,338.9 628.2,337.4 628.5,335.5 628.7,337.4 628.9,341.0 629.2,333.6 629.4,339.8 629.6,339.2 629.9,334.0 630.1,334.0 630.3,336.0 630.6,337.7 630.8,341.7 631.0,340.0 631.3,336.5 631.5,336.2 631.7,335.0 632.0,340.0 632.2,333.8 632.4,337.7 632.7,340.1 632.9,389.4 633.1,388.8 633.4,386.1 633.6,385.2 633.9,390.9 634.1,390.3 634.3,384.1 634.6,383.2 634.8,387.8 635.0,386.6 635.3,388.6 635.5,385.9 635.7,388.1 636.0,384.8 636.2,387.2 636.4,386.9 636.7,388.5 636.9,386.9 637.1,386.1 637.4,390.8 637.6,386.4 637.8,382.0 638.1,387.3 638.3,386.4 638.5,390.2 638.8,386.5 639.0,389.9 639.2,389.0 639.5,385.8 639.7,388.4 639.9,390.2 640.2,350.2 640.4,354.3 640.6,351.1 640.9,350.5 641.1,352.4 641.3,353.7 641.6,353.4 641.8,356.3 642.0,352.1 642.3,354.8 642.5,357.5 642.7,351.1 643.0,348.5 643.2,353.7 643.4,351.0 643.7,351.5 643.9,362.8 644.1,351.5 644.4,349.7 644.6,354.7 644.9,352.7 645.1,349.8 645.3,351.9 645.6,353.0 645.8,353.8 646.0,348.1 646.3,347.6 646.5,348.0 646.7,346.9 647.0,352.4 647.2,349.0 647.4,348.2 647.7,350.3 647.9,349.1 648.1,347.6 648.4,351.7 648.6,312.8 648.8,302.8 649.1,315.5 649.3,314.7 649.5,313.8 649.8,312.4 650.0,313.7 650.2,316.1 650.5,310.3 650.7,310.8 650.9,308.1 651.2,313.2 651.4,312.7 651.6,316.2 651.9,308.3 652.1,310.6 652.3,306.7 652.6,311.2 652.8,317.4 653.0,309.3 653.3,312.0 653.5,310.7 653.7,318.2 654.0,318.4 654.2,313.1 654.4,309.8 654.7,282.2 654.9,285.1 655.1,281.0 655.4,280.1 655.6,283.6 655.9,279.4 656.1,284.0 656.3,283.7 656.6,281.2 656.8,280.0 657.0,284.2 657.3,282.6 657.5,277.9 657.7,283.1 658.0,285.2 658.2,284.1 658.4,282.2 658.7,284.1 658.9,283.8 659.1,279.3 659.4,285.2 659.6,286.1 659.8,280.3 660.1,285.3 660.3,282.4 660.5,281.1 660.8,281.4 661.0,320.5 661.2,350.2 661.5,267.1 661.7,299.9 661.9,206.0 662.2,312.8 662.4,325.8 662.6,293.0 662.9,296.8 663.1,313.9 663.3,281.3 663.6,293.6 663.8,338.0 664.0,326.3 664.3,285.5 664.5,278.5 664.7,268.1 665.0,266.0 665.2,323.4 665.4,206.0 665.7,243.2 665.9,367.0 666.1,313.9 666.4,253.3 666.6,310.1 666.9,268.1 667.1,273.2 667.3,307.3 667.6,295.7 667.8,303.1 668.0,398.7 668.3,365.6 668.5,365.6 668.7,376.1 669.0,376.1 669.2,376.1 669.4,376.1 669.7,389.0 669.9,212.0 670.1,383.7 670.4,394.3 670.6,367.7 670.8,367.7 671.1,384.7 671.3,384.7 671.5,392.3 671.8,398.4 672.0,398.4 672.2,398.4 672.5,398.4 672.7,398.4 672.9,215.0 673.2,371.8 673.4,371.8 673.6,371.8 673.9,369.7 674.1,373.7 674.3,403.2 674.6,403.2 674.8,403.2 675.0,400.6 675.3,400.6 675.5,400.6 675.7,400.6 676.0,400.6 676.2,301.9 676.4,300.9 676.7,302.7 676.9,314.2 677.1,285.3 677.4,223.4 677.6,340.4 677.9,271.8 678.1,335.4 678.3,182.9 678.6,377.1 678.8,235.2 679.0,358.4 679.3,405.7 679.5,180.0 679.7,211.2 680.0,106.0 680.2,264.9 680.4,135.3 680.7,205.5 680.9,309.8 681.1,376.3 681.4,347.1 681.6,290.0 681.8,290.9 682.1,220.7 682.3,367.5 682.5,298.8 682.8,210.0 683.0,205.3" fill="none" stroke="#515151" stroke-width="1.6" stroke-linejoin="round"/>
<path d="M74.5,501.5 74.7,497.6 75.0,497.2 75.2,496.0 75.4,497.3 75.7,497.8 75.9,498.8 76.1,498.0 76.4,496.0 76.6,496.2 76.8,492.8 77.1,501.2 77.3,497.5 77.5,497.5 77.8,497.4 78.0,499.3 78.2,500.3 78.5,502.0 78.7,502.7 78.9,498.4 79.2,501.3 79.4,497.4 79.6,497.6 79.9,497.3 80.1,496.8 80.4,497.1 80.6,498.2 80.8,497.4 81.1,499.8 81.3,500.0 81.5,500.4 81.8,498.9 82.0,498.8 82.2,495.2 82.5,491.0 82.7,483.1 82.9,497.7 83.2,491.9 83.4,494.9 83.6,489.7 83.9,495.1 84.1,495.0 84.3,490.1 84.6,489.0 84.8,493.9 85.0,489.8 85.3,493.2 85.5,491.8 85.7,494.0 86.0,494.0 86.2,498.5 86.4,491.2 86.7,491.9 86.9,490.7 87.1,498.3 87.4,496.6 87.6,489.5 87.8,495.8 88.1,490.3 88.3,488.4 88.5,493.9 88.8,494.2 89.0,495.4 89.2,501.8 89.5,489.6 89.7,490.9 89.9,492.2 90.2,492.6 90.4,494.7 90.6,490.3 90.9,496.2 91.1,491.3 91.4,485.6 91.6,489.6 91.8,491.8 92.1,495.2 92.3,492.4 92.5,491.2 92.8,494.3 93.0,491.2 93.2,492.3 93.5,488.6 93.7,496.0 93.9,499.7 94.2,496.7 94.4,491.8 94.6,493.2 94.9,489.9 95.1,490.1 95.3,493.0 95.6,498.1 95.8,496.2 96.0,493.6 96.3,494.6 96.5,493.9 96.7,495.3 97.0,494.9 97.2,488.6 97.4,492.7 97.7,493.3 97.9,488.2 98.1,491.8 98.4,491.1 98.6,488.9 98.8,488.8 99.1,491.0 99.3,496.1 99.5,495.9 99.8,494.3 100.0,494.3 100.2,494.5 100.5,490.1 100.7,497.1 100.9,491.8 101.2,494.9 101.4,493.0 101.6,491.1 101.9,488.2 102.1,488.5 102.4,487.9 102.6,488.9 102.8,491.7 103.1,497.2 103.3,493.9 103.5,495.8 103.8,486.4 104.0,490.1 104.2,489.2 104.5,491.8 104.7,488.1 104.9,494.1 105.2,499.5 105.4,497.1 105.6,500.0 105.9,497.3 106.1,496.8 106.3,497.8 106.6,501.7 106.8,500.2 107.0,500.4 107.3,500.5 107.5,500.3 107.7,495.6 108.0,498.0 108.2,498.0 108.4,499.3 108.7,499.2 108.9,499.2 109.1,496.9 109.4,496.7 109.6,498.0 109.8,500.4 110.1,497.4 110.3,498.3 110.5,497.8 110.8,499.5 111.0,497.2 111.2,497.0 111.5,499.3 111.7,497.0 111.9,499.7 112.2,496.1 112.4,505.8 112.6,497.5 112.9,499.9 113.1,500.4 113.4,497.2 113.6,498.8 113.8,497.4 114.1,498.7 114.3,499.4 114.5,500.7 114.8,498.9 115.0,500.7 115.2,497.4 115.5,501.0 115.7,499.5 115.9,501.9 116.2,502.5 116.4,500.4 116.6,500.8 116.9,497.2 117.1,496.7 117.3,497.4 117.6,501.1 117.8,494.0 118.0,499.5 118.3,497.7 118.5,498.2 118.7,501.5 119.0,497.3 119.2,497.6 119.4,498.1 119.7,498.2 119.9,499.8 120.1,496.9 120.4,498.4 120.6,501.7 120.8,499.1 121.1,500.3 121.3,499.7 121.5,499.4 121.8,500.6 122.0,496.7 122.2,497.0 122.5,500.6 122.7,496.6 122.9,497.3 123.2,498.9 123.4,499.9 123.6,497.6 123.9,497.1 124.1,500.5 124.4,495.7 124.6,501.3 124.8,497.9 125.1,498.9 125.3,499.9 125.5,500.2 125.8,499.6 126.0,499.5 126.2,501.0 126.5,499.0 126.7,500.3 126.9,495.2 127.2,496.8 127.4,498.3 127.6,498.0 127.9,495.7 128.1,496.3 128.3,500.6 128.6,498.2 128.8,500.5 129.0,502.2 129.3,500.8 129.5,497.5 129.7,500.0 130.0,495.1 130.2,495.9 130.4,497.8 130.7,500.1 130.9,500.4 131.1,500.1 131.4,496.6 131.6,497.0 131.8,499.9 132.1,485.0 132.3,461.0 132.5,472.4 132.8,472.4 133.0,471.3 133.2,479.5 133.5,474.2 133.7,451.0 133.9,451.0 134.2,466.1 134.4,462.2 134.6,462.2 134.9,464.9 135.1,453.6 135.3,478.7 135.6,464.1 135.8,476.8 136.1,481.2 136.3,445.0 136.5,460.0 136.8,485.0 137.0,459.5 137.2,475.7 137.5,461.9 137.7,472.9 137.9,472.9 138.2,448.9 138.4,465.4 138.6,465.4 138.9,464.9 139.1,465.1 139.3,455.9 139.6,455.9 139.8,455.9 140.0,493.2 140.3,489.9 140.5,491.8 140.7,493.8 141.0,494.4 141.2,484.4 141.4,492.5 141.7,493.0 141.9,491.2 142.1,488.7 142.4,485.4 142.6,492.6 142.8,486.9 143.1,488.1 143.3,487.3 143.5,495.8 143.8,492.3 144.0,489.1 144.2,485.8 144.5,491.5 144.7,495.1 144.9,488.7 145.2,486.8 145.4,485.3 145.6,489.1 145.9,491.7 146.1,491.4 146.3,494.5 146.6,419.0 146.8,423.4 147.1,438.3 147.3,465.7 147.5,465.7 147.8,465.7 148.0,448.1 148.2,438.9 148.5,448.5 148.7,425.3 148.9,424.2 149.2,453.0 149.4,437.4 149.6,437.4 149.9,437.1 150.1,436.9 150.3,426.2 150.6,435.4 150.8,435.4 151.0,435.4 151.3,443.5 151.5,428.2 151.7,452.6 152.0,425.5 152.2,439.9 152.4,419.8 152.7,419.8 152.9,429.1 153.1,429.9 153.4,429.9 153.6,454.9 153.8,422.7 154.1,438.0 154.3,450.3 154.5,450.3 154.8,450.3 155.0,428.9 155.2,450.8 155.5,450.8 155.7,450.8 155.9,405.0 156.2,343.0 156.4,343.0 156.6,372.4 156.9,410.3 157.1,369.9 157.3,380.8 157.6,380.8 157.8,387.1 158.1,383.3 158.3,383.3 158.5,383.3 158.8,359.4 159.0,342.0 159.2,359.4 159.5,404.8 159.7,394.6 159.9,387.7 160.2,412.0 160.4,346.6 160.6,403.4 160.9,403.4 161.1,410.0 161.3,433.1 161.6,465.4 161.8,465.4 162.0,437.9 162.3,480.0 162.5,451.0 162.7,446.2 163.0,446.2 163.2,452.8 163.4,452.8 163.7,452.8 163.9,460.6 164.1,454.2 164.4,429.6 164.6,426.9 164.8,443.8 165.1,451.4 165.3,425.1 165.5,441.6 165.8,411.6 166.0,419.1 166.2,441.9 166.5,414.1 166.7,414.1 166.9,427.9 167.2,469.4 167.4,433.4 167.6,434.0 167.9,441.6 168.1,473.1 168.3,472.7 168.6,470.6 168.8,472.0 169.1,469.0 169.3,467.5 169.5,467.8 169.8,481.9 170.0,473.3 170.2,473.0 170.5,466.1 170.7,473.4 170.9,466.0 171.2,470.3 171.4,473.8 171.6,481.0 171.9,466.4 172.1,472.7 172.3,467.6 172.6,470.4 172.8,469.0 173.0,467.3 173.3,475.2 173.5,475.1 173.7,474.9 174.0,473.4 174.2,465.4 174.4,469.1 174.7,471.0 174.9,469.9 175.1,474.0 175.4,470.2 175.6,475.3 175.8,467.7 176.1,499.1 176.3,497.4 176.5,495.7 176.8,500.0 177.0,505.2 177.2,497.4 177.5,495.2 177.7,497.9 177.9,498.2 178.2,498.5 178.4,495.1 178.6,502.2 178.9,498.7 179.1,499.2 179.3,494.7 179.6,494.1 179.8,493.7 180.1,499.3 180.3,500.5 180.5,499.2 180.8,493.8 181.0,497.8 181.2,497.8 181.5,498.8 181.7,494.9 181.9,498.8 182.2,493.6 182.4,495.4 182.6,495.3 182.9,497.8 183.1,500.1 183.3,493.8 183.6,500.0 183.8,499.8 184.0,494.4 184.3,494.7 184.5,498.9 184.7,500.4 185.0,496.1 185.2,496.1 185.4,494.8 185.7,495.0 185.9,499.7 186.1,497.9 186.4,501.1 186.6,496.8 186.8,496.3 187.1,491.9 187.3,498.0 187.5,501.4 187.8,489.1 188.0,499.6 188.2,497.4 188.5,497.8 188.7,495.3 188.9,494.9 189.2,494.8 189.4,493.9 189.6,498.5 189.9,494.3 190.1,493.2 190.3,497.7 190.6,494.8 190.8,497.2 191.1,494.5 191.3,498.2 191.5,498.2 191.8,492.7 192.0,493.4 192.2,496.6 192.5,494.6 192.7,497.3 192.9,493.0 193.2,493.5 193.4,494.3 193.6,496.6 193.9,494.3 194.1,498.1 194.3,498.9 194.6,499.1 194.8,493.0 195.0,496.2 195.3,497.4 195.5,495.5 195.7,495.5 196.0,499.0 196.2,494.1 196.4,494.7 196.7,497.8 196.9,500.4 197.1,499.3 197.4,493.5 197.6,498.7 197.8,499.3 198.1,500.9 198.3,496.3 198.5,499.7 198.8,499.2 199.0,500.1 199.2,497.7 199.5,500.0 199.7,498.2 199.9,499.5 200.2,497.0 200.4,497.3 200.6,493.4 200.9,497.4 201.1,501.5 201.3,500.2 201.6,494.2 201.8,494.1 202.1,494.4 202.3,495.3 202.5,493.9 202.8,498.3 203.0,493.7 203.2,496.7 203.5,499.1 203.7,497.3 203.9,496.3 204.2,497.4 204.4,501.5 204.6,500.8 204.9,500.8 205.1,496.3 205.3,498.1 205.6,493.9 205.8,495.1 206.0,497.8 206.3,495.6 206.5,497.8 206.7,496.5 207.0,498.3 207.2,495.8 207.4,495.7 207.7,496.5 207.9,499.8 208.1,496.8 208.4,498.2 208.6,498.2 208.8,500.2 209.1,496.6 209.3,493.4 209.5,495.0 209.8,497.3 210.0,499.0 210.2,494.6 210.5,497.4 210.7,496.3 210.9,493.5 211.2,493.2 211.4,498.8 211.6,498.9 211.9,492.6 212.1,499.1 212.3,499.1 212.6,495.4 212.8,498.3 213.1,495.1 213.3,497.2 213.5,499.5 213.8,495.6 214.0,496.5 214.2,497.1 214.5,494.0 214.7,496.5 214.9,499.6 215.2,494.6 215.4,498.7 215.6,493.5 215.9,499.6 216.1,498.3 216.3,497.8 216.6,494.0 216.8,494.0 217.0,496.0 217.3,497.2 217.5,496.8 217.7,498.6 218.0,495.4 218.2,497.3 218.4,497.8 218.7,496.2 218.9,498.0 219.1,494.8 219.4,497.5 219.6,495.6 219.8,498.6 220.1,492.2 220.3,464.3 220.5,464.3 220.8,485.4 221.0,430.0 221.2,475.6 221.5,469.0 221.7,449.7 221.9,479.3 222.2,467.8 222.4,462.6 222.6,462.6 222.9,491.8 223.1,410.0 223.3,425.1 223.6,454.3 223.8,443.4 224.1,438.6 224.3,438.6 224.5,465.0 224.8,444.0 225.0,421.0 225.2,436.0 225.5,436.0 225.7,392.0 225.9,462.5 226.2,417.6 226.4,444.7 226.6,432.5 226.9,465.0 227.1,415.0 227.3,415.0 227.6,479.5 227.8,477.6 228.0,486.8 228.3,480.0 228.5,484.0 228.7,481.9 229.0,484.4 229.2,482.7 229.4,481.4 229.7,484.7 229.9,482.1 230.1,484.5 230.4,486.4 230.6,485.4 230.8,481.7 231.1,480.7 231.3,485.3 231.5,481.9 231.8,484.2 232.0,486.8 232.2,482.8 232.5,482.2 232.7,482.3 232.9,476.9 233.2,476.9 233.4,470.8 233.6,478.6 233.9,480.2 234.1,479.8 234.3,481.7 234.6,485.1 234.8,484.8 235.1,483.6 235.3,481.7 235.5,481.0 235.8,480.7 236.0,480.1 236.2,481.0 236.5,484.6 236.7,482.3 236.9,484.0 237.2,483.4 237.4,479.0 237.6,485.1 237.9,479.0 238.1,481.6 238.3,485.3 238.6,479.9 238.8,481.3 239.0,480.8 239.3,484.7 239.5,481.1 239.7,482.4 240.0,482.3 240.2,481.0 240.4,482.9 240.7,480.5 240.9,480.0 241.1,484.8 241.4,478.1 241.6,478.5 241.8,490.4 242.1,482.6 242.3,484.2 242.5,485.6 242.8,478.8 243.0,480.8 243.2,481.5 243.5,482.2 243.7,481.1 243.9,481.0 244.2,483.0 244.4,477.2 244.6,483.7 244.9,482.4 245.1,480.1 245.3,478.9 245.6,477.7 245.8,477.2 246.1,478.2 246.3,482.7 246.5,475.0 246.8,481.4 247.0,483.4 247.2,480.6 247.5,481.9 247.7,478.0 247.9,480.0 248.2,483.0 248.4,480.5 248.6,479.5 248.9,468.3 249.1,440.0 249.3,439.1 249.6,442.7 249.8,440.5 250.0,440.0 250.3,441.0 250.5,437.2 250.7,438.7 251.0,437.1 251.2,443.9 251.4,438.6 251.7,443.5 251.9,442.3 252.1,444.4 252.4,442.6 252.6,444.2 252.8,442.2 253.1,440.0 253.3,440.5 253.5,437.3 253.8,440.4 254.0,440.7 254.2,442.3 254.5,439.3 254.7,442.5 254.9,442.6 255.2,443.7 255.4,443.5 255.6,457.1 255.9,458.4 256.1,456.8 256.3,462.8 256.6,457.9 256.8,458.6 257.0,453.1 257.3,458.4 257.5,458.5 257.8,459.0 258.0,455.9 258.2,454.9 258.5,454.0 258.7,458.9 258.9,453.8 259.2,454.1 259.4,460.1 259.6,458.7 259.9,453.1 260.1,455.8 260.3,453.9 260.6,458.9 260.8,466.3 261.0,455.6 261.3,457.1 261.5,457.9 261.7,457.2 262.0,460.4 262.2,458.8 262.4,453.4 262.7,457.6 262.9,458.0 263.1,456.9 263.4,460.6 263.6,457.5 263.8,462.9 264.1,461.0 264.3,450.9 264.5,457.2 264.8,449.0 265.0,462.2 265.2,453.9 265.5,454.1 265.7,457.9 265.9,455.8 266.2,459.0 266.4,457.0 266.6,459.6 266.9,456.4 267.1,459.0 267.3,456.2 267.6,457.1 267.8,456.6 268.0,453.2 268.3,454.1 268.5,456.4 268.8,460.7 269.0,457.5 269.2,457.5 269.5,454.5 269.7,456.0 269.9,458.0 270.2,455.6 270.4,457.4 270.6,455.5 270.9,428.8 271.1,426.8 271.3,430.1 271.6,432.5 271.8,432.4 272.0,427.9 272.3,431.3 272.5,428.5 272.7,426.4 273.0,424.4 273.2,427.5 273.4,429.8 273.7,427.1 273.9,430.1 274.1,429.4 274.4,429.9 274.6,430.4 274.8,431.6 275.1,426.0 275.3,425.8 275.5,425.9 275.8,425.6 276.0,428.4 276.2,428.4 276.5,426.2 276.7,429.4 276.9,429.3 277.2,426.3 277.4,425.5 277.6,427.7 277.9,428.2 278.1,426.7 278.3,429.0 278.6,442.1 278.8,435.6 279.0,441.8 279.3,442.2 279.5,447.3 279.8,439.6 280.0,438.2 280.2,442.0 280.5,438.0 280.7,438.9 280.9,442.7 281.2,441.5 281.4,441.4 281.6,439.6 281.9,439.4 282.1,441.9 282.3,438.2 282.6,436.6 282.8,439.0 283.0,443.9 283.3,442.4 283.5,440.1 283.7,435.9 284.0,436.5 284.2,435.7 284.4,434.6 284.7,435.8 284.9,435.6 285.1,435.6 285.4,434.2 285.6,440.3 285.8,437.7 286.1,440.2 286.3,436.7 286.5,440.4 286.8,442.5 287.0,440.5 287.2,439.2 287.5,438.8 287.7,441.3 287.9,440.3 288.2,439.4 288.4,444.3 288.6,443.2 288.9,436.8 289.1,443.6 289.3,445.1 289.6,438.5 289.8,438.5 290.0,442.0 290.3,438.3 290.5,438.3 290.8,436.6 291.0,437.8 291.2,441.6 291.5,437.2 291.7,440.3 291.9,438.2 292.2,342.6 292.4,385.6 292.6,389.3 292.9,389.3 293.1,348.4 293.3,384.4 293.6,350.1 293.8,391.0 294.0,343.7 294.3,364.1 294.5,352.4 294.7,359.7 295.0,367.4 295.2,330.8 295.4,319.5 295.7,391.4 295.9,391.4 296.1,373.0 296.4,389.0 296.6,389.0 296.8,359.3 297.1,302.0 297.3,405.0 297.5,359.4 297.8,374.0 298.0,374.0 298.2,346.1 298.5,330.2 298.7,335.0 298.9,369.5 299.2,369.5 299.4,369.5 299.6,369.5 299.9,353.5 300.1,419.2 300.3,418.0 300.6,410.6 300.8,416.9 301.0,418.1 301.3,422.1 301.5,416.2 301.8,419.9 302.0,420.9 302.2,419.6 302.5,429.9 302.7,422.7 302.9,423.5 303.2,418.7 303.4,419.0 303.6,422.3 303.9,418.8 304.1,421.0 304.3,416.9 304.6,420.0 304.8,419.3 305.0,418.9 305.3,418.4 305.5,414.8 305.7,420.1 306.0,420.6 306.2,435.7 306.4,431.7 306.7,434.4 306.9,427.8 307.1,429.4 307.4,432.9 307.6,436.5 307.8,430.7 308.1,429.6 308.3,432.0 308.5,430.3 308.8,431.5 309.0,436.6 309.2,432.8 309.5,435.7 309.7,426.8 309.9,430.4 310.2,436.4 310.4,435.6 310.6,420.8 310.9,421.0 311.1,433.5 311.3,416.7 311.6,430.9 311.8,421.1 312.0,426.2 312.3,430.0 312.5,429.6 312.8,428.5 313.0,442.5 313.2,428.8 313.5,438.4 313.7,431.4 313.9,434.9 314.2,432.8 314.4,426.6 314.6,427.1 314.9,426.0 315.1,430.0 315.3,426.2 315.6,437.8 315.8,429.0 316.0,431.0 316.3,429.3 316.5,400.6 316.7,421.9 317.0,422.8 317.2,422.2 317.4,428.1 317.7,426.0 317.9,422.9 318.1,421.6 318.4,426.6 318.6,436.8 318.8,425.0 319.1,426.3 319.3,422.6 319.5,418.8 319.8,430.6 320.0,434.5 320.2,430.0 320.5,439.2 320.7,432.4 320.9,427.7 321.2,431.6 321.4,421.8 321.6,424.6 321.9,426.8 322.1,429.0 322.3,439.9 322.6,429.4 322.8,425.2 323.0,439.8 323.3,430.1 323.5,424.3 323.8,435.8 324.0,433.7 324.2,434.4 324.5,439.2 324.7,429.3 324.9,434.4 325.2,448.0 325.4,432.0 325.6,417.3 325.9,436.8 326.1,430.0 326.3,433.0 326.6,421.6 326.8,426.0 327.0,421.1 327.3,422.4 327.5,435.4 327.7,438.0 328.0,426.9 328.2,425.5 328.4,434.4 328.7,436.7 328.9,434.1 329.1,434.7 329.4,424.6 329.6,425.9 329.8,433.8 330.1,436.9 330.3,429.2 330.5,436.2 330.8,430.0 331.0,438.2 331.2,439.1 331.5,427.3 331.7,435.3 331.9,436.2 332.2,438.5 332.4,441.0 332.6,418.1 332.9,432.3 333.1,431.6 333.3,438.4 333.6,428.4 333.8,436.2 334.0,419.9 334.3,422.3 334.5,426.2 334.8,432.3 335.0,421.2 335.2,425.3 335.5,428.2 335.7,429.2 335.9,432.9 336.2,430.8 336.4,432.7 336.6,439.8 336.9,419.7 337.1,437.2 337.3,448.6 337.6,436.1 337.8,427.8 338.0,434.0 338.3,435.8 338.5,429.3 338.7,427.6 339.0,443.8 339.2,438.3 339.4,434.1 339.7,429.3 339.9,439.0 340.1,434.3 340.4,432.3 340.6,432.8 340.8,433.5 341.1,432.4 341.3,434.3 341.5,429.5 341.8,432.3 342.0,432.0 342.2,433.3 342.5,435.7 342.7,436.4 342.9,432.6 343.2,438.2 343.4,438.2 343.6,446.6 343.9,433.6 344.1,428.4 344.3,423.7 344.6,427.0 344.8,433.1 345.0,431.3 345.3,429.5 345.5,434.5 345.8,432.3 346.0,429.3 346.2,425.4 346.5,440.2 346.7,429.3 346.9,426.2 347.2,420.4 347.4,426.1 347.6,434.2 347.9,434.0 348.1,427.9 348.3,418.3 348.6,422.9 348.8,433.4 349.0,423.8 349.3,412.3 349.5,431.0 349.7,428.8 350.0,422.2 350.2,428.4 350.4,414.5 350.7,436.1 350.9,426.1 351.1,438.6 351.4,433.7 351.6,428.2 351.8,429.7 352.1,432.2 352.3,425.5 352.5,424.3 352.8,431.7 353.0,425.8 353.2,429.2 353.5,424.5 353.7,431.4 353.9,429.2 354.2,434.5 354.4,430.6 354.6,430.3 354.9,429.8 355.1,427.0 355.3,428.4 355.6,430.8 355.8,435.9 356.0,424.1 356.3,381.9 356.5,406.6 356.8,393.5 357.0,414.0 357.2,414.0 357.5,401.5 357.7,418.1 357.9,398.2 358.2,398.2 358.4,398.2 358.6,403.4 358.9,399.1 359.1,421.4 359.3,404.8 359.6,415.1 359.8,415.1 360.0,355.0 360.3,385.3 360.5,399.0 360.7,405.5 361.0,411.2 361.2,411.4 361.4,411.4 361.7,404.7 361.9,404.7 362.1,382.5 362.4,404.5 362.6,394.9 362.8,382.3 363.1,358.0 363.3,419.5 363.5,400.7 363.8,400.7 364.0,400.7 364.2,410.7 364.5,383.2 364.7,412.0 364.9,412.0 365.2,406.8 365.4,394.3 365.6,403.0 365.9,399.1 366.1,422.2 366.3,418.6 366.6,423.0 366.8,415.1 367.0,414.9 367.3,414.9 367.5,433.5 367.8,425.3 368.0,435.2 368.2,415.4 368.5,426.7 368.7,420.1 368.9,417.6 369.2,420.2 369.4,430.6 369.6,430.6 369.9,435.9 370.1,423.9 370.3,423.9 370.6,426.7 370.8,413.7 371.0,436.0 371.3,436.0 371.5,421.5 371.7,418.5 372.0,422.7 372.2,422.7 372.4,426.3 372.7,424.6 372.9,421.5 373.1,432.0 373.4,428.2 373.6,428.8 373.8,436.7 374.1,428.9 374.3,435.8 374.5,434.5 374.8,432.5 375.0,428.2 375.2,428.4 375.5,433.6 375.7,432.5 375.9,430.4 376.2,436.0 376.4,426.2 376.6,426.5 376.9,430.0 377.1,436.9 377.3,428.8 377.6,437.7 377.8,436.0 378.0,434.7 378.3,428.1 378.5,430.5 378.8,438.4 379.0,431.3 379.2,434.5 379.5,436.5 379.7,436.5 379.9,429.4 380.2,436.7 380.4,435.6 380.6,434.5 380.9,432.8 381.1,428.8 381.3,437.5 381.6,434.7 381.8,426.9 382.0,426.9 382.3,434.5 382.5,428.0 382.7,427.9 383.0,433.5 383.2,436.0 383.4,435.4 383.7,433.5 383.9,431.2 384.1,428.8 384.4,434.4 384.6,430.9 384.8,429.6 385.1,432.7 385.3,429.6 385.5,429.7 385.8,424.0 386.0,432.9 386.2,431.9 386.5,426.9 386.7,428.5 386.9,434.6 387.2,428.6 387.4,430.3 387.6,419.3 387.9,431.1 388.1,434.4 388.3,427.9 388.6,434.3 388.8,433.3 389.0,430.1 389.3,433.5 389.5,429.4 389.7,429.7 390.0,426.8 390.2,426.9 390.5,428.6 390.7,428.4 390.9,423.3 391.2,430.2 391.4,431.4 391.6,433.6 391.9,427.4 392.1,429.4 392.3,430.2 392.6,428.0 392.8,433.6 393.0,431.8 393.3,431.6 393.5,426.5 393.7,427.0 394.0,425.4 394.2,432.5 394.4,426.1 394.7,427.0 394.9,431.1 395.1,427.3 395.4,432.1 395.6,430.6 395.8,433.6 396.1,427.0 396.3,430.6 396.5,434.7 396.8,430.2 397.0,433.5 397.2,429.8 397.5,432.4 397.7,429.7 397.9,426.2 398.2,430.2 398.4,426.3 398.6,429.5 398.9,430.4 399.1,427.2 399.3,424.6 399.6,427.6 399.8,425.3 400.0,431.8 400.3,426.2 400.5,430.9 400.7,429.4 401.0,426.9 401.2,451.2 401.5,442.9 401.7,449.9 401.9,450.2 402.2,457.3 402.4,446.8 402.6,457.4 402.9,450.9 403.1,453.5 403.3,444.2 403.6,454.5 403.8,446.3 404.0,443.4 404.3,443.0 404.5,446.8 404.7,439.7 405.0,452.5 405.2,449.8 405.4,441.5 405.7,450.8 405.9,440.1 406.1,435.9 406.4,447.9 406.6,444.0 406.8,455.9 407.1,448.3 407.3,441.1 407.5,444.9 407.8,452.2 408.0,442.5 408.2,450.9 408.5,438.7 408.7,439.6 408.9,419.7 409.2,440.0 409.4,436.4 409.6,441.1 409.9,441.5 410.1,432.0 410.3,436.9 410.6,432.7 410.8,432.9 411.0,437.4 411.3,453.4 411.5,430.7 411.7,433.7 412.0,431.7 412.2,433.3 412.5,431.2 412.7,430.9 412.9,430.3 413.2,441.7 413.4,430.9 413.6,440.6 413.9,437.3 414.1,442.7 414.3,442.3 414.6,437.4 414.8,431.1 415.0,435.3 415.3,438.8 415.5,439.6 415.7,437.1 416.0,436.4 416.2,431.5 416.4,437.8 416.7,442.6 416.9,427.0 417.1,432.3 417.4,432.7 417.6,443.5 417.8,439.4 418.1,430.7 418.3,440.9 418.5,443.5 418.8,442.5 419.0,428.2 419.2,442.8 419.5,444.2 419.7,434.0 419.9,435.1 420.2,443.9 420.4,437.8 420.6,434.2 420.9,434.2 421.1,442.2 421.3,449.6 421.6,435.6 421.8,435.7 422.0,443.7 422.3,441.0 422.5,426.3 422.7,430.5 423.0,432.8 423.2,430.4 423.5,439.2 423.7,429.4 423.9,438.1 424.2,440.8 424.4,443.0 424.6,444.3 424.9,445.6 425.1,447.0 425.3,442.6 425.6,443.8 425.8,446.5 426.0,440.7 426.3,444.8 426.5,438.5 426.7,443.3 427.0,440.3 427.2,446.8 427.4,444.2 427.7,447.3 427.9,432.9 428.1,442.4 428.4,437.5 428.6,439.6 428.8,447.8 429.1,437.7 429.3,449.3 429.5,450.1 429.8,443.8 430.0,446.8 430.2,452.1 430.5,448.9 430.7,445.7 430.9,441.9 431.2,441.4 431.4,439.7 431.6,445.5 431.9,438.8 432.1,441.5 432.3,440.8 432.6,387.9 432.8,387.9 433.0,429.7 433.3,390.2 433.5,405.0 433.7,399.9 434.0,388.6 434.2,388.6 434.5,425.7 434.7,425.7 434.9,351.0 435.2,401.5 435.4,401.5 435.6,380.0 435.9,401.2 436.1,360.0 436.3,411.6 436.6,411.6 436.8,411.6 437.0,411.9 437.3,411.9 437.5,437.7 437.7,428.3 438.0,426.1 438.2,424.2 438.4,428.9 438.7,423.2 438.9,418.1 439.1,419.2 439.4,423.1 439.6,421.5 439.8,434.2 440.1,428.3 440.3,423.3 440.5,424.6 440.8,426.1 441.0,421.1 441.2,421.1 441.5,418.7 441.7,418.9 441.9,424.0 442.2,426.3 442.4,419.9 442.6,427.2 442.9,425.4 443.1,418.1 443.3,425.5 443.6,421.8 443.8,422.2 444.0,425.3 444.3,408.2 444.5,418.2 444.7,417.5 445.0,422.6 445.2,422.0 445.5,427.8 445.7,423.6 445.9,424.3 446.2,427.9 446.4,428.5 446.6,428.3 446.9,432.7 447.1,426.6 447.3,429.0 447.6,428.6 447.8,427.6 448.0,428.5 448.3,432.4 448.5,430.3 448.7,433.3 449.0,437.6 449.2,431.9 449.4,432.2 449.7,429.0 449.9,432.5 450.1,432.8 450.4,436.9 450.6,434.4 450.8,431.2 451.1,429.1 451.3,433.2 451.5,426.7 451.8,432.7 452.0,427.0 452.2,430.2 452.5,432.0 452.7,431.2 452.9,427.8 453.2,432.4 453.4,430.8 453.6,432.4 453.9,429.6 454.1,432.3 454.3,429.8 454.6,424.5 454.8,425.1 455.0,431.8 455.3,426.0 455.5,432.7 455.7,434.9 456.0,431.9 456.2,425.5 456.5,426.1 456.7,424.7 456.9,417.8 457.2,430.3 457.4,425.7 457.6,427.5 457.9,429.9 458.1,436.6 458.3,438.7 458.6,438.0 458.8,435.2 459.0,436.5 459.3,437.0 459.5,436.2 459.7,437.6 460.0,434.7 460.2,438.9 460.4,436.1 460.7,439.4 460.9,434.9 461.1,436.9 461.4,437.6 461.6,440.0 461.8,436.8 462.1,433.5 462.3,439.2 462.5,433.8 462.8,434.4 463.0,442.3 463.2,433.5 463.5,435.4 463.7,435.6 463.9,427.4 464.2,437.1 464.4,433.1 464.6,434.6 464.9,433.1 465.1,434.2 465.3,435.3 465.6,434.9 465.8,266.4 466.0,241.5 466.3,266.4 466.5,272.7 466.7,272.7 467.0,272.7 467.2,263.2 467.5,264.0 467.7,253.0 467.9,266.3 468.2,266.3 468.4,262.0 468.6,261.9 468.9,266.1 469.1,266.1 469.3,276.9 469.6,282.1 469.8,260.9 470.0,245.0 470.3,260.9 470.5,272.6 470.7,272.6 471.0,256.7 471.2,279.4 471.4,279.4 471.7,282.0 471.9,267.7 472.1,284.9 472.4,277.1 472.6,277.1 472.8,277.1 473.1,277.1 473.3,275.3 473.5,407.3 473.8,418.8 474.0,270.0 474.2,416.3 474.5,411.9 474.7,419.4 474.9,415.9 475.2,419.9 475.4,419.4 475.6,416.6 475.9,413.7 476.1,418.8 476.3,411.1 476.6,419.6 476.8,417.0 477.0,414.6 477.3,400.5 477.5,415.1 477.7,408.2 478.0,415.3 478.2,417.6 478.5,418.1 478.7,414.5 478.9,421.1 479.2,419.6 479.4,414.8 479.6,409.1 479.9,420.0 480.1,418.5 480.3,419.0 480.6,415.4 480.8,412.3 481.0,411.6 481.3,427.8 481.5,414.3 481.7,419.1 482.0,418.6 482.2,401.8 482.4,393.6 482.7,393.6 482.9,394.9 483.1,387.2 483.4,386.6 483.6,386.6 483.8,386.6 484.1,395.7 484.3,382.6 484.5,389.9 484.8,381.4 485.0,386.5 485.2,386.5 485.5,385.2 485.7,385.2 485.9,396.5 486.2,399.3 486.4,399.3 486.6,389.8 486.9,392.0 487.1,389.0 487.3,384.9 487.6,294.1 487.8,291.5 488.0,291.3 488.3,294.5 488.5,293.2 488.7,292.0 489.0,289.7 489.2,294.2 489.5,289.1 489.7,294.3 489.9,290.9 490.2,293.1 490.4,290.9 490.6,293.4 490.9,295.3 491.1,289.7 491.3,294.7 491.6,293.2 491.8,287.3 492.0,290.8 492.3,293.2 492.5,293.8 492.7,287.3 493.0,290.9 493.2,292.5 493.4,298.0 493.7,293.2 493.9,293.6 494.1,290.1 494.4,293.9 494.6,282.5 494.8,292.5 495.1,293.0 495.3,294.9 495.5,295.0 495.8,410.3 496.0,386.8 496.2,386.8 496.5,357.9 496.7,357.9 496.9,385.2 497.2,343.2 497.4,362.8 497.6,362.8 497.9,375.0 498.1,400.1 498.3,394.8 498.6,393.9 498.8,387.5 499.0,341.8 499.3,396.2 499.5,396.2 499.7,375.6 500.0,376.2 500.2,392.2 500.4,400.9 500.7,390.8 500.9,390.8 501.2,390.8 501.4,402.1 501.6,402.1 501.9,370.9 502.1,340.0 502.3,340.0 502.6,340.0 502.8,376.1 503.0,367.1 503.3,386.3 503.5,362.6 503.7,369.9 504.0,380.3 504.2,418.4 504.4,429.0 504.7,421.1 504.9,428.8 505.1,417.5 505.4,421.6 505.6,424.3 505.8,428.6 506.1,426.2 506.3,427.7 506.5,417.3 506.8,420.0 507.0,417.8 507.2,424.3 507.5,426.6 507.7,415.7 507.9,419.3 508.2,425.2 508.4,422.0 508.6,424.8 508.9,420.2 509.1,425.1 509.3,427.8 509.6,431.0 509.8,442.3 510.0,428.0 510.3,422.2 510.5,430.7 510.7,430.1 511.0,430.1 511.2,426.9 511.4,432.9 511.7,433.9 511.9,427.1 512.2,427.5 512.4,426.4 512.6,426.7 512.9,425.3 513.1,424.6 513.3,435.1 513.6,426.1 513.8,430.5 514.0,425.6 514.3,425.8 514.5,432.2 514.7,428.3 515.0,427.7 515.2,426.8 515.4,429.9 515.7,430.4 515.9,426.6 516.1,424.7 516.4,424.9 516.6,428.3 516.8,428.3 517.1,427.9 517.3,426.9 517.5,425.6 517.8,421.2 518.0,425.5 518.2,425.4 518.5,425.4 518.7,419.7 518.9,423.0 519.2,421.5 519.4,421.1 519.6,425.4 519.9,422.3 520.1,423.8 520.3,423.8 520.6,425.2 520.8,425.1 521.0,423.5 521.3,427.2 521.5,423.8 521.7,424.5 522.0,421.1 522.2,422.2 522.4,420.6 522.7,424.0 522.9,422.1 523.2,426.9 523.4,427.0 523.6,422.2 523.9,424.0 524.1,415.7 524.3,417.6 524.6,422.9 524.8,420.4 525.0,467.3 525.3,459.1 525.5,468.6 525.7,467.0 526.0,468.1 526.2,465.4 526.4,468.9 526.7,469.4 526.9,466.7 527.1,464.9 527.4,470.4 527.6,471.2 527.8,464.9 528.1,467.8 528.3,469.3 528.5,467.4 528.8,468.7 529.0,467.7 529.2,465.8 529.5,467.2 529.7,464.1 529.9,465.8 530.2,470.9 530.4,471.4 530.6,465.5 530.9,466.9 531.1,467.3 531.3,465.2 531.6,470.4 531.8,465.9 532.0,455.1 532.3,464.6 532.5,459.6 532.7,460.5 533.0,462.6 533.2,462.2 533.4,461.2 533.7,464.2 533.9,457.4 534.2,457.6 534.4,462.8 534.6,461.5 534.9,463.1 535.1,458.8 535.3,459.1 535.6,464.8 535.8,464.8 536.0,462.0 536.3,463.2 536.5,465.9 536.7,462.5 537.0,460.8 537.2,464.7 537.4,461.8 537.7,462.2 537.9,464.1 538.1,459.1 538.4,458.9 538.6,459.5 538.8,459.1 539.1,443.1 539.3,446.8 539.5,442.4 539.8,446.4 540.0,440.7 540.2,447.2 540.5,445.9 540.7,441.4 540.9,445.3 541.2,445.1 541.4,441.1 541.6,444.0 541.9,444.1 542.1,444.2 542.3,442.2 542.6,446.2 542.8,438.9 543.0,441.0 543.3,440.6 543.5,441.7 543.7,451.0 544.0,444.1 544.2,446.4 544.4,448.9 544.7,450.3 544.9,449.1 545.2,445.3 545.4,448.0 545.6,444.9 545.9,444.2 546.1,449.6 546.3,442.3 546.6,449.6 546.8,450.8 547.0,449.4 547.3,447.7 547.5,446.6 547.7,451.4 548.0,454.1 548.2,452.1 548.4,452.7 548.7,461.8 548.9,451.0 549.1,451.2 549.4,452.1 549.6,454.4 549.8,446.5 550.1,454.1 550.3,449.6 550.5,451.5 550.8,447.5 551.0,446.6 551.2,453.4 551.5,448.9 551.7,439.3 551.9,445.1 552.2,446.3 552.4,447.4 552.6,454.7 552.9,453.7 553.1,451.8 553.3,456.6 553.6,458.9 553.8,452.0 554.0,454.5 554.3,454.4 554.5,468.7 554.7,461.9 555.0,455.2 555.2,465.1 555.4,457.3 555.7,457.9 555.9,454.2 556.2,454.4 556.4,459.0 556.6,459.8 556.9,458.7 557.1,455.8 557.3,454.3 557.6,460.4 557.8,453.3 558.0,453.4 558.3,457.6 558.5,453.7 558.7,459.0 559.0,457.1 559.2,459.0 559.4,453.8 559.7,451.8 559.9,459.6 560.1,452.7 560.4,458.9 560.6,455.1 560.8,458.5 561.1,454.6 561.3,459.4 561.5,454.0 561.8,461.6 562.0,455.6 562.2,458.7 562.5,459.7 562.7,459.2 562.9,459.6 563.2,460.7 563.4,452.9 563.6,457.5 563.9,458.0 564.1,461.4 564.3,459.9 564.6,458.2 564.8,457.8 565.0,454.3 565.3,469.0 565.5,463.3 565.7,459.9 566.0,456.9 566.2,457.3 566.4,453.5 566.7,459.4 566.9,456.5 567.2,452.4 567.4,456.0 567.6,454.5 567.9,455.1 568.1,406.2 568.3,408.8 568.6,402.1 568.8,405.3 569.0,405.4 569.3,405.4 569.5,405.9 569.7,409.0 570.0,408.4 570.2,406.9 570.4,403.1 570.7,405.1 570.9,404.5 571.1,405.4 571.4,408.5 571.6,406.4 571.8,404.8 572.1,403.7 572.3,406.1 572.5,404.6 572.8,408.3 573.0,404.7 573.2,405.5 573.5,408.4 573.7,409.0 573.9,408.1 574.2,406.9 574.4,407.2 574.6,408.5 574.9,406.9 575.1,490.9 575.3,493.6 575.6,498.0 575.8,494.2 576.0,493.5 576.3,493.5 576.5,496.5 576.7,494.0 577.0,486.1 577.2,493.2 577.4,494.6 577.7,496.9 577.9,495.7 578.2,494.5 578.4,496.0 578.6,492.4 578.9,498.9 579.1,493.8 579.3,495.8 579.6,496.1 579.8,495.6 580.0,495.5 580.3,496.1 580.5,495.7 580.7,495.4 581.0,494.5 581.2,496.3 581.4,495.0 581.7,493.9 581.9,494.8 582.1,493.3 582.4,497.6 582.6,496.5 582.8,496.2 583.1,491.7 583.3,493.2 583.5,497.7 583.8,501.3 584.0,491.3 584.2,491.4 584.5,492.4 584.7,496.3 584.9,496.7 585.2,494.1 585.4,498.2 585.6,496.3 585.9,497.8 586.1,492.4 586.3,488.1 586.6,497.8 586.8,495.0 587.0,493.3 587.3,497.1 587.5,492.7 587.7,491.4 588.0,496.1 588.2,492.6 588.4,491.1 588.7,492.0 588.9,493.9 589.2,493.4 589.4,498.6 589.6,493.3 589.9,495.7 590.1,495.8 590.3,498.5 590.6,494.7 590.8,498.2 591.0,493.1 591.3,495.5 591.5,496.6 591.7,493.6 592.0,494.8 592.2,497.7 592.4,497.0 592.7,495.3 592.9,492.3 593.1,494.4 593.4,493.7 593.6,491.6 593.8,494.3 594.1,497.9 594.3,495.1 594.5,492.7 594.8,492.4 595.0,496.9 595.2,494.8 595.5,494.7 595.7,499.5 595.9,497.2 596.2,492.0 596.4,493.2 596.6,491.7 596.9,491.1 597.1,494.3 597.3,492.8 597.6,492.4 597.8,495.9 598.0,492.9 598.3,502.0 598.5,492.9 598.7,494.4 599.0,496.6 599.2,497.4 599.4,494.0 599.7,494.4 599.9,485.5 600.2,491.8 600.4,496.9 600.6,496.5 600.9,493.0 601.1,493.5 601.3,491.6 601.6,497.1 601.8,493.3 602.0,495.8 602.3,497.4 602.5,497.6 602.7,498.0 603.0,496.1 603.2,492.8 603.4,492.0 603.7,494.6 603.9,492.3 604.1,497.5 604.4,495.4 604.6,489.6 604.8,495.8 605.1,493.1 605.3,497.6 605.5,493.8 605.8,492.1 606.0,492.5 606.2,498.0 606.5,499.1 606.7,505.3 606.9,494.7 607.2,504.1 607.4,494.5 607.6,500.6 607.9,500.4 608.1,495.0 608.3,495.6 608.6,491.9 608.8,498.0 609.0,494.5 609.3,493.7 609.5,494.4 609.7,495.9 610.0,496.2 610.2,497.2 610.4,493.8 610.7,492.3 610.9,493.8 611.2,496.1 611.4,492.8 611.6,472.4 611.9,474.6 612.1,472.4 612.3,476.2 612.6,476.0 612.8,474.2 613.0,476.0 613.3,472.4 613.5,468.8 613.7,477.7 614.0,475.5 614.2,474.8 614.4,478.4 614.7,472.4 614.9,475.8 615.1,476.1 615.4,479.8 615.6,472.6 615.8,476.3 616.1,477.8 616.3,477.1 616.5,479.1 616.8,479.0 617.0,478.6 617.2,474.2 617.5,478.4 617.7,476.3 617.9,478.0 618.2,474.0 618.4,474.9 618.6,476.6 618.9,476.2 619.1,477.3 619.3,480.7 619.6,483.0 619.8,479.2 620.0,480.1 620.3,479.4 620.5,477.2 620.7,479.4 621.0,478.9 621.2,484.7 621.4,480.0 621.7,485.4 621.9,480.8 622.1,474.7 622.4,477.0 622.6,477.3 622.9,478.0 623.1,477.7 623.3,476.6 623.6,482.3 623.8,483.7 624.0,480.5 624.3,482.2 624.5,482.3 624.7,477.9 625.0,475.0 625.2,479.0 625.4,480.0 625.7,472.8 625.9,482.5 626.1,478.7 626.4,480.8 626.6,474.7 626.8,482.5 627.1,476.0 627.3,475.1 627.5,476.0 627.8,480.2 628.0,477.3 628.2,475.6 628.5,482.8 628.7,476.6 628.9,483.7 629.2,482.4 629.4,479.5 629.6,470.4 629.9,480.7 630.1,477.1 630.3,481.3 630.6,483.8 630.8,482.6 631.0,480.4 631.3,480.9 631.5,478.2 631.7,476.4 632.0,468.8 632.2,470.9 632.4,469.1 632.7,474.9 632.9,475.7 633.1,473.8 633.4,469.9 633.6,469.7 633.9,468.9 634.1,468.4 634.3,466.0 634.6,472.8 634.8,466.8 635.0,472.4 635.3,474.3 635.5,474.0 635.7,469.5 636.0,473.5 636.2,474.6 636.4,468.9 636.7,470.2 636.9,463.0 637.1,471.9 637.4,475.9 637.6,475.5 637.8,468.1 638.1,472.1 638.3,469.2 638.5,472.4 638.8,471.5 639.0,469.9 639.2,470.8 639.5,470.5 639.7,478.5 639.9,467.9 640.2,469.5 640.4,466.1 640.6,473.6 640.9,467.2 641.1,457.7 641.3,456.7 641.6,466.2 641.8,457.2 642.0,464.0 642.3,464.3 642.5,458.5 642.7,463.5 643.0,453.9 643.2,456.2 643.4,455.3 643.7,458.1 643.9,458.3 644.1,467.6 644.4,460.4 644.6,460.4 644.9,473.2 645.1,462.2 645.3,462.2 645.6,467.0 645.8,464.1 646.0,468.9 646.3,482.0 646.5,468.6 646.7,463.8 647.0,463.8 647.2,460.0 647.4,460.0 647.7,468.5 647.9,468.5 648.1,470.3 648.4,470.7 648.6,471.6 648.8,464.9 649.1,453.2 649.3,453.3 649.5,451.2 649.8,452.3 650.0,453.9 650.2,457.4 650.5,452.9 650.7,456.9 650.9,454.9 651.2,455.8 651.4,455.3 651.6,454.4 651.9,446.6 652.1,455.7 652.3,457.8 652.6,452.1 652.8,454.7 653.0,452.6 653.3,453.0 653.5,451.9 653.7,453.0 654.0,454.2 654.2,456.1 654.4,454.2 654.7,454.4 654.9,451.9 655.1,455.1 655.4,452.1 655.6,452.8 655.9,455.7 656.1,445.3 656.3,444.9 656.6,439.9 656.8,442.4 657.0,443.0 657.3,443.8 657.5,440.9 657.7,442.2 658.0,447.8 658.2,440.7 658.4,440.9 658.7,437.9 658.9,442.9 659.1,439.7 659.4,441.6 659.6,441.1 659.8,444.5 660.1,441.2 660.3,442.9 660.5,449.1 660.8,445.2 661.0,443.5 661.2,445.8 661.5,442.8 661.7,440.8 661.9,442.1 662.2,394.7 662.4,398.1 662.6,403.3 662.9,414.6 663.1,397.6 663.3,397.4 663.6,407.3 663.8,402.6 664.0,395.5 664.3,403.1 664.5,402.0 664.7,401.0 665.0,397.1 665.2,396.3 665.4,402.3 665.7,399.9 665.9,397.6 666.1,394.0 666.4,398.0 666.6,401.4 666.9,404.9 667.1,396.8 667.3,401.1 667.6,405.6 667.8,404.2 668.0,404.3 668.3,403.4 668.5,396.1 668.7,405.6 669.0,401.2 669.2,406.6 669.4,397.5 669.7,403.5 669.9,396.8 670.1,402.1 670.4,399.0 670.6,398.6 670.8,396.8 671.1,398.8 671.3,398.9 671.5,396.0 671.8,396.7 672.0,400.7 672.2,401.7 672.5,396.3 672.7,400.2 672.9,401.0 673.2,401.0 673.4,401.6 673.6,406.0 673.9,403.0 674.1,397.0 674.3,396.8 674.6,397.7 674.8,400.7 675.0,395.3 675.3,397.9 675.5,395.9 675.7,399.9 676.0,399.4 676.2,400.1 676.4,400.8 676.7,403.6 676.9,402.1 677.1,386.9 677.4,385.1 677.6,386.9 677.9,387.6 678.1,388.0 678.3,377.9 678.6,383.3 678.8,385.1 679.0,374.9 679.3,382.4 679.5,382.5 679.7,385.5 680.0,385.6 680.2,385.3 680.4,383.0 680.7,394.5 680.9,385.7 681.1,384.4 681.4,384.6 681.6,389.6 681.8,387.1 682.1,385.9 682.3,386.9 682.5,385.5 682.8,387.1 683.0,382.5" fill="none" stroke="#F14040" stroke-width="1.6" stroke-linejoin="round"/>
<path d="M74.5,402.1 74.7,409.6 75.0,408.5 75.2,395.1 75.4,395.1 75.7,403.6 75.9,399.2 76.1,388.5 76.4,411.4 76.6,406.9 76.8,406.6 77.1,418.9 77.3,415.4 77.5,418.8 77.8,417.9 78.0,417.5 78.2,417.5 78.5,403.3 78.7,403.5 78.9,407.8 79.2,395.6 79.4,393.5 79.6,398.4 79.9,390.8 80.1,396.7 80.4,396.7 80.6,396.7 80.8,386.6 81.1,425.0 81.3,387.1 81.5,491.6 81.8,491.3 82.0,493.1 82.2,488.5 82.5,490.8 82.7,489.2 82.9,489.1 83.2,487.8 83.4,485.2 83.6,489.6 83.9,492.5 84.1,490.0 84.3,492.0 84.6,485.2 84.8,493.4 85.0,488.3 85.3,486.2 85.5,489.2 85.7,489.9 86.0,491.6 86.2,502.1 86.4,486.7 86.7,491.6 86.9,493.3 87.1,486.9 87.4,490.8 87.6,491.0 87.8,489.9 88.1,483.9 88.3,491.3 88.5,488.6 88.8,487.7 89.0,485.9 89.2,483.8 89.5,485.7 89.7,487.9 89.9,491.0 90.2,492.6 90.4,486.9 90.6,496.7 90.9,497.8 91.1,489.0 91.4,488.5 91.6,488.8 91.8,492.1 92.1,488.1 92.3,490.0 92.5,494.2 92.8,493.4 93.0,493.8 93.2,489.5 93.5,488.3 93.7,492.7 93.9,489.0 94.2,493.4 94.4,489.5 94.6,487.7 94.9,488.2 95.1,489.7 95.3,487.8 95.6,487.8 95.8,488.6 96.0,490.7 96.3,493.0 96.5,492.6 96.7,493.7 97.0,492.1 97.2,492.6 97.4,493.2 97.7,490.1 97.9,494.1 98.1,493.4 98.4,493.0 98.6,490.4 98.8,490.8 99.1,492.1 99.3,490.0 99.5,490.7 99.8,487.8 100.0,481.4 100.2,488.2 100.5,491.5 100.7,489.3 100.9,487.9 101.2,493.0 101.4,487.2 101.6,490.8 101.9,492.3 102.1,489.1 102.4,486.7 102.6,490.2 102.8,490.0 103.1,491.8 103.3,489.1 103.5,496.5 103.8,496.3 104.0,495.6 104.2,497.8 104.5,497.9 104.7,496.9 104.9,498.2 105.2,495.0 105.4,494.7 105.6,496.0 105.9,497.2 106.1,497.6 106.3,497.6 106.6,495.1 106.8,496.6 107.0,495.6 107.3,496.0 107.5,497.3 107.7,498.5 108.0,496.1 108.2,499.0 108.4,498.1 108.7,498.2 108.9,498.3 109.1,496.0 109.4,497.0 109.6,498.3 109.8,498.7 110.1,494.0 110.3,497.2 110.5,469.7 110.8,473.1 111.0,468.9 111.2,472.2 111.5,469.1 111.7,475.1 111.9,474.7 112.2,476.7 112.4,471.4 112.6,474.5 112.9,470.4 113.1,471.7 113.4,474.7 113.6,476.0 113.8,472.6 114.1,474.9 114.3,468.0 114.5,477.6 114.8,477.9 115.0,479.1 115.2,476.8 115.5,470.8 115.7,470.7 115.9,470.1 116.2,470.9 116.4,478.6 116.6,475.6 116.9,469.8 117.1,475.3 117.3,471.2 117.6,477.7 117.8,476.3 118.0,470.4 118.3,472.7 118.5,475.3 118.7,470.7 119.0,475.0 119.2,479.3 119.4,480.1 119.7,478.7 119.9,478.5 120.1,476.7 120.4,480.0 120.6,474.5 120.8,478.4 121.1,479.6 121.3,480.2 121.5,474.2 121.8,475.5 122.0,475.2 122.2,477.8 122.5,475.5 122.7,477.3 122.9,474.2 123.2,479.1 123.4,473.1 123.6,481.1 123.9,478.7 124.1,479.8 124.4,473.8 124.6,475.0 124.8,474.6 125.1,481.9 125.3,480.9 125.5,474.0 125.8,479.2 126.0,471.4 126.2,481.2 126.5,477.0 126.7,480.4 126.9,476.3 127.2,474.0 127.4,478.2 127.6,475.9 127.9,473.4 128.1,475.8 128.3,474.3 128.6,479.8 128.8,476.8 129.0,475.9 129.3,474.6 129.5,480.1 129.7,473.5 130.0,474.4 130.2,479.5 130.4,479.3 130.7,484.5 130.9,479.0 131.1,480.1 131.4,480.5 131.6,477.5 131.8,473.8 132.1,479.1 132.3,479.5 132.5,476.5 132.8,473.6 133.0,475.5 133.2,477.3 133.5,477.1 133.7,476.1 133.9,480.6 134.2,475.9 134.4,484.4 134.6,473.5 134.9,478.3 135.1,478.3 135.3,481.1 135.6,474.1 135.8,479.7 136.1,480.9 136.3,475.3 136.5,479.2 136.8,481.1 137.0,474.8 137.2,481.0 137.5,479.8 137.7,473.9 137.9,473.7 138.2,477.4 138.4,477.0 138.6,474.3 138.9,474.2 139.1,473.7 139.3,480.2 139.6,506.7 139.8,501.2 140.0,495.7 140.3,500.6 140.5,495.9 140.7,494.8 141.0,499.9 141.2,497.5 141.4,495.6 141.7,495.6 141.9,498.5 142.1,498.1 142.4,495.7 142.6,497.4 142.8,495.8 143.1,497.5 143.3,497.6 143.5,497.0 143.8,498.3 144.0,501.2 144.2,497.7 144.5,497.9 144.7,499.9 144.9,494.6 145.2,497.5 145.4,500.1 145.6,508.1 145.9,499.3 146.1,493.9 146.3,494.7 146.6,495.0 146.8,493.5 147.1,496.9 147.3,494.3 147.5,497.2 147.8,499.7 148.0,499.0 148.2,498.1 148.5,500.7 148.7,497.6 148.9,499.6 149.2,500.7 149.4,499.8 149.6,496.7 149.9,495.6 150.1,498.9 150.3,500.7 150.6,496.5 150.8,499.2 151.0,501.2 151.3,495.6 151.5,495.0 151.7,495.7 152.0,500.7 152.2,500.1 152.4,496.4 152.7,496.5 152.9,492.9 153.1,495.8 153.4,497.8 153.6,496.8 153.8,504.3 154.1,494.5 154.3,496.2 154.5,493.9 154.8,494.9 155.0,496.1 155.2,497.5 155.5,498.2 155.7,506.3 155.9,500.3 156.2,497.8 156.4,496.2 156.6,495.4 156.9,494.8 157.1,496.1 157.3,498.8 157.6,496.3 157.8,500.9 158.1,499.6 158.3,499.4 158.5,498.2 158.8,487.3 159.0,497.9 159.2,494.3 159.5,494.4 159.7,493.8 159.9,493.7 160.2,499.9 160.4,499.2 160.6,500.0 160.9,499.5 161.1,498.0 161.3,493.7 161.6,500.4 161.8,494.3 162.0,495.1 162.3,499.8 162.5,493.4 162.7,497.2 163.0,493.8 163.2,498.3 163.4,493.5 163.7,495.5 163.9,496.2 164.1,496.4 164.4,495.2 164.6,497.7 164.8,492.9 165.1,498.3 165.3,496.6 165.5,497.9 165.8,499.1 166.0,498.9 166.2,493.1 166.5,497.1 166.7,494.8 166.9,505.7 167.2,494.7 167.4,496.6 167.6,496.1 167.9,495.6 168.1,495.9 168.3,496.0 168.6,498.8 168.8,496.8 169.1,472.9 169.3,478.1 169.5,474.3 169.8,474.6 170.0,480.2 170.2,477.4 170.5,475.3 170.7,472.5 170.9,476.1 171.2,479.0 171.4,478.4 171.6,474.2 171.9,475.1 172.1,473.8 172.3,478.7 172.6,473.9 172.8,477.1 173.0,475.7 173.3,480.4 173.5,476.3 173.7,479.3 174.0,474.2 174.2,474.2 174.4,473.5 174.7,477.8 174.9,479.2 175.1,481.0 175.4,478.9 175.6,476.6 175.8,475.7 176.1,498.7 176.3,499.1 176.5,499.6 176.8,501.8 177.0,503.0 177.2,502.7 177.5,501.2 177.7,500.9 177.9,499.7 178.2,500.5 178.4,502.4 178.6,508.5 178.9,499.6 179.1,499.9 179.3,498.5 179.6,500.5 179.8,500.3 180.1,503.3 180.3,498.2 180.5,502.0 180.8,502.7 181.0,500.3 181.2,501.7 181.5,498.2 181.7,502.8 181.9,500.0 182.2,501.5 182.4,501.9 182.6,499.7 182.9,500.3 183.1,498.1 183.3,497.8 183.6,498.1 183.8,502.4 184.0,500.0 184.3,498.5 184.5,501.8 184.7,498.3 185.0,498.7 185.2,499.4 185.4,502.0 185.7,504.9 185.9,499.8 186.1,500.1 186.4,502.0 186.6,502.8 186.8,500.8 187.1,499.4 187.3,499.7 187.5,499.9 187.8,497.1 188.0,498.6 188.2,498.8 188.5,502.1 188.7,502.0 188.9,499.6 189.2,499.2 189.4,502.1 189.6,501.7 189.9,503.2 190.1,499.9 190.3,498.1 190.6,503.2 190.8,499.6 191.1,497.9 191.3,497.8 191.5,500.0 191.8,498.2 192.0,498.3 192.2,501.2 192.5,500.8 192.7,502.1 192.9,499.9 193.2,502.6 193.4,502.5 193.6,503.6 193.9,503.4 194.1,503.4 194.3,500.1 194.6,502.7 194.8,502.9 195.0,499.8 195.3,498.9 195.5,503.2 195.7,503.6 196.0,500.7 196.2,501.4 196.4,504.1 196.7,502.7 196.9,502.4 197.1,499.5 197.4,503.1 197.6,500.4 197.8,501.8 198.1,486.3 198.3,489.3 198.5,487.9 198.8,494.0 199.0,491.8 199.2,493.0 199.5,489.8 199.7,487.7 199.9,491.5 200.2,487.7 200.4,491.6 200.6,489.4 200.9,489.8 201.1,494.1 201.3,491.4 201.6,494.0 201.8,490.2 202.1,487.4 202.3,492.3 202.5,491.2 202.8,493.6 203.0,504.6 203.2,487.5 203.5,488.0 203.7,492.8 203.9,493.0 204.2,488.5 204.4,490.3 204.6,490.6 204.9,482.4 205.1,493.4 205.3,493.4 205.6,491.5 205.8,476.7 206.0,489.8 206.3,491.2 206.5,487.6 206.7,492.0 207.0,484.5 207.2,492.1 207.4,489.5 207.7,489.9 207.9,488.1 208.1,486.7 208.4,492.6 208.6,493.0 208.8,489.1 209.1,488.3 209.3,485.0 209.5,492.1 209.8,492.4 210.0,494.7 210.2,488.2 210.5,490.9 210.7,487.5 210.9,486.2 211.2,488.6 211.4,488.7 211.6,488.2 211.9,505.5 212.1,489.4 212.3,490.3 212.6,496.3 212.8,489.4 213.1,487.6 213.3,488.5 213.5,483.1 213.8,490.2 214.0,496.9 214.2,488.6 214.5,487.5 214.7,486.5 214.9,490.6 215.2,479.8 215.4,485.7 215.6,488.7 215.9,490.7 216.1,494.8 216.3,488.6 216.6,489.0 216.8,487.4 217.0,492.5 217.3,491.2 217.5,487.6 217.7,486.0 218.0,491.7 218.2,481.2 218.4,486.1 218.7,492.6 218.9,490.2 219.1,488.9 219.4,486.6 219.6,477.3 219.8,485.2 220.1,480.0 220.3,478.5 220.5,481.5 220.8,478.1 221.0,481.8 221.2,477.2 221.5,477.8 221.7,479.4 221.9,478.2 222.2,480.1 222.4,480.3 222.6,477.3 222.9,482.4 223.1,477.6 223.3,482.2 223.6,480.1 223.8,481.9 224.1,483.2 224.3,480.7 224.5,482.0 224.8,481.3 225.0,480.6 225.2,481.0 225.5,483.3 225.7,480.9 225.9,485.4 226.2,482.2 226.4,482.1 226.6,480.9 226.9,481.5 227.1,485.1 227.3,479.8 227.6,479.5 227.8,479.3 228.0,478.1 228.3,477.5 228.5,481.3 228.7,477.7 229.0,478.2 229.2,480.8 229.4,481.9 229.7,480.0 229.9,482.7 230.1,483.6 230.4,480.8 230.6,481.6 230.8,480.3 231.1,481.3 231.3,482.0 231.5,480.3 231.8,478.8 232.0,482.4 232.2,475.0 232.5,482.2 232.7,478.9 232.9,482.7 233.2,478.3 233.4,478.7 233.6,479.9 233.9,480.4 234.1,481.0 234.3,479.0 234.6,480.9 234.8,482.2 235.1,481.7 235.3,482.5 235.5,479.4 235.8,482.9 236.0,479.1 236.2,480.0 236.5,481.1 236.7,480.9 236.9,481.5 237.2,482.5 237.4,481.6 237.6,476.6 237.9,478.1 238.1,479.0 238.3,481.1 238.6,481.0 238.8,479.1 239.0,479.0 239.3,477.6 239.5,481.8 239.7,477.7 240.0,479.6 240.2,482.3 240.4,481.2 240.7,478.7 240.9,478.0 241.1,478.8 241.4,481.5 241.6,465.2 241.8,462.8 242.1,468.5 242.3,461.8 242.5,465.0 242.8,462.2 243.0,461.3 243.2,464.3 243.5,463.0 243.7,467.4 243.9,464.0 244.2,463.7 244.4,462.1 244.6,461.0 244.9,461.7 245.1,461.7 245.3,464.3 245.6,465.0 245.8,461.3 246.1,463.0 246.3,464.8 246.5,466.2 246.8,464.8 247.0,464.0 247.2,460.7 247.5,462.7 247.7,460.9 247.9,464.1 248.2,463.3 248.4,463.0 248.6,463.4 248.9,463.2 249.1,464.1 249.3,462.7 249.6,458.2 249.8,456.7 250.0,462.8 250.3,462.0 250.5,460.6 250.7,468.5 251.0,461.4 251.2,464.4 251.4,467.1 251.7,464.7 251.9,467.8 252.1,465.6 252.4,467.6 252.6,466.7 252.8,465.8 253.1,468.5 253.3,466.0 253.5,468.9 253.8,466.7 254.0,466.0 254.2,467.3 254.5,470.2 254.7,467.3 254.9,467.2 255.2,467.7 255.4,469.9 255.6,433.7 255.9,431.7 256.1,428.7 256.3,431.3 256.6,432.3 256.8,431.6 257.0,433.6 257.3,436.4 257.5,432.2 257.8,438.7 258.0,433.4 258.2,435.5 258.5,429.8 258.7,433.9 258.9,435.6 259.2,430.6 259.4,431.6 259.6,433.5 259.9,426.9 260.1,433.6 260.3,435.4 260.6,435.8 260.8,432.7 261.0,434.2 261.3,431.6 261.5,429.7 261.7,430.4 262.0,431.2 262.2,434.8 262.4,431.7 262.7,429.4 262.9,428.8 263.1,449.1 263.4,448.8 263.6,449.6 263.8,446.7 264.1,450.2 264.3,450.5 264.5,450.4 264.8,453.7 265.0,450.0 265.2,451.4 265.5,450.9 265.7,449.3 265.9,453.8 266.2,450.0 266.4,450.5 266.6,451.7 266.9,452.7 267.1,447.6 267.3,449.9 267.6,450.0 267.8,449.7 268.0,446.2 268.3,449.1 268.5,452.5 268.8,447.9 269.0,452.4 269.2,451.5 269.5,449.9 269.7,452.4 269.9,446.1 270.2,445.9 270.4,450.4 270.6,445.6 270.9,438.0 271.1,438.5 271.3,442.0 271.6,431.8 271.8,430.5 272.0,432.0 272.3,445.6 272.5,435.0 272.7,432.5 273.0,431.1 273.2,437.1 273.4,432.7 273.7,433.0 273.9,430.6 274.1,438.5 274.4,432.7 274.6,435.0 274.8,439.8 275.1,433.3 275.3,433.5 275.5,437.9 275.8,432.8 276.0,436.8 276.2,437.2 276.5,434.4 276.7,431.8 276.9,435.2 277.2,430.6 277.4,430.8 277.6,432.9 277.9,434.4 278.1,433.9 278.3,436.5 278.6,428.9 278.8,425.5 279.0,430.0 279.3,431.0 279.5,426.0 279.8,423.6 280.0,429.6 280.2,426.8 280.5,429.4 280.7,423.1 280.9,425.5 281.2,427.8 281.4,425.6 281.6,429.2 281.9,422.7 282.1,429.3 282.3,428.4 282.6,426.2 282.8,429.8 283.0,423.9 283.3,428.0 283.5,424.5 283.7,427.1 284.0,429.0 284.2,425.9 284.4,424.3 284.7,425.2 284.9,427.2 285.1,418.6 285.4,431.1 285.6,395.0 285.8,422.1 286.1,408.9 286.3,416.2 286.5,423.4 286.8,414.4 287.0,417.2 287.2,432.5 287.5,419.6 287.7,426.8 287.9,420.4 288.2,414.5 288.4,421.7 288.6,423.9 288.9,424.6 289.1,420.2 289.3,421.3 289.6,414.8 289.8,424.1 290.0,420.0 290.3,421.1 290.5,425.4 290.8,423.8 291.0,420.8 291.2,406.8 291.5,419.7 291.7,420.4 291.9,417.4 292.2,428.3 292.4,416.0 292.6,414.6 292.9,412.4 293.1,413.4 293.3,415.6 293.6,421.8 293.8,425.9 294.0,415.6 294.3,420.3 294.5,412.5 294.7,418.9 295.0,418.3 295.2,412.0 295.4,413.8 295.7,415.0 295.9,417.2 296.1,419.5 296.4,412.0 296.6,414.0 296.8,414.5 297.1,422.0 297.3,412.1 297.5,421.0 297.8,419.1 298.0,416.3 298.2,422.6 298.5,414.7 298.7,419.0 298.9,413.0 299.2,416.6 299.4,419.2 299.6,420.0 299.9,423.3 300.1,403.8 300.3,419.7 300.6,411.3 300.8,421.4 301.0,425.2 301.3,412.4 301.5,419.8 301.8,414.0 302.0,422.9 302.2,418.7 302.5,420.4 302.7,414.3 302.9,417.8 303.2,423.7 303.4,422.1 303.6,419.7 303.9,424.3 304.1,415.5 304.3,421.4 304.6,417.1 304.8,411.9 305.0,412.8 305.3,421.5 305.5,416.7 305.7,420.2 306.0,424.4 306.2,416.1 306.4,422.0 306.7,408.1 306.9,423.2 307.1,408.8 307.4,423.3 307.6,397.5 307.8,402.5 308.1,398.8 308.3,401.3 308.5,400.0 308.8,398.1 309.0,403.4 309.2,400.2 309.5,403.2 309.7,402.3 309.9,401.3 310.2,401.8 310.4,400.5 310.6,402.2 310.9,394.6 311.1,398.4 311.3,403.5 311.6,401.5 311.8,400.7 312.0,400.1 312.3,399.4 312.5,401.9 312.8,402.2 313.0,404.2 313.2,402.6 313.5,401.2 313.7,400.1 313.9,399.2 314.2,401.5 314.4,399.4 314.6,397.7 314.9,387.5 315.1,382.5 315.3,384.3 315.6,380.7 315.8,385.9 316.0,386.3 316.3,386.0 316.5,387.5 316.7,383.4 317.0,383.8 317.2,388.5 317.4,383.9 317.7,385.9 317.9,387.2 318.1,385.8 318.4,382.9 318.6,385.2 318.8,385.0 319.1,387.8 319.3,384.8 319.5,387.5 319.8,389.1 320.0,389.1 320.2,384.8 320.5,389.4 320.7,389.7 320.9,383.6 321.2,388.2 321.4,387.8 321.6,388.2 321.9,387.8 322.1,383.4 322.3,385.6 322.6,382.6 322.8,384.6 323.0,382.8 323.3,387.4 323.5,383.0 323.8,385.3 324.0,381.5 324.2,385.4 324.5,381.1 324.7,393.3 324.9,387.9 325.2,388.7 325.4,384.3 325.6,387.0 325.9,385.2 326.1,385.9 326.3,382.2 326.6,384.6 326.8,385.3 327.0,384.9 327.3,386.9 327.5,387.7 327.7,383.4 328.0,385.8 328.2,392.4 328.4,394.5 328.7,392.4 328.9,392.1 329.1,385.8 329.4,393.0 329.6,388.8 329.8,388.9 330.1,392.0 330.3,393.2 330.5,387.1 330.8,395.1 331.0,390.5 331.2,390.9 331.5,387.0 331.7,387.9 331.9,383.3 332.2,388.2 332.4,389.5 332.6,392.3 332.9,384.7 333.1,391.8 333.3,376.1 333.6,388.5 333.8,378.5 334.0,386.6 334.3,384.4 334.5,388.7 334.8,393.2 335.0,394.2 335.2,386.0 335.5,387.8 335.7,337.1 335.9,351.3 336.2,339.4 336.4,341.2 336.6,335.0 336.9,351.9 337.1,345.2 337.3,348.3 337.6,343.2 337.8,332.6 338.0,351.2 338.3,345.1 338.5,334.9 338.7,337.6 339.0,324.0 339.2,341.1 339.4,348.9 339.7,344.5 339.9,350.2 340.1,336.8 340.4,341.1 340.6,342.2 340.8,335.2 341.1,327.2 341.3,342.7 341.5,346.8 341.8,332.7 342.0,338.9 342.2,344.2 342.5,335.8 342.7,336.1 342.9,366.9 343.2,369.2 343.4,368.1 343.6,367.2 343.9,362.0 344.1,369.8 344.3,366.5 344.6,362.6 344.8,369.2 345.0,364.4 345.3,363.2 345.5,361.0 345.8,360.7 346.0,358.9 346.2,359.9 346.5,366.1 346.7,359.3 346.9,361.8 347.2,361.4 347.4,360.3 347.6,361.8 347.9,362.9 348.1,360.0 348.3,361.0 348.6,366.8 348.8,369.0 349.0,367.2 349.3,364.7 349.5,366.8 349.7,368.7 350.0,367.9 350.2,369.9 350.4,371.2 350.7,370.1 350.9,365.0 351.1,394.0 351.4,391.8 351.6,388.9 351.8,392.1 352.1,392.8 352.3,393.6 352.5,391.3 352.8,389.6 353.0,394.9 353.2,389.5 353.5,389.6 353.7,391.7 353.9,395.8 354.2,393.6 354.4,393.4 354.6,395.2 354.9,389.3 355.1,393.4 355.3,390.1 355.6,396.7 355.8,389.5 356.0,393.0 356.3,393.0 356.5,387.9 356.8,394.8 357.0,392.5 357.2,384.6 357.5,385.9 357.7,387.8 357.9,385.4 358.2,383.7 358.4,387.0 358.6,383.9 358.9,385.9 359.1,388.4 359.3,388.6 359.6,387.4 359.8,386.7 360.0,382.7 360.3,383.7 360.5,385.6 360.7,382.7 361.0,385.0 361.2,389.2 361.4,376.0 361.7,388.2 361.9,386.5 362.1,387.2 362.4,388.4 362.6,385.1 362.8,384.6 363.1,389.1 363.3,388.7 363.5,389.4 363.8,389.8 364.0,383.1 364.2,388.7 364.5,392.9 364.7,388.4 364.9,386.5 365.2,386.8 365.4,384.9 365.6,388.5 365.9,389.6 366.1,403.7 366.3,402.4 366.6,404.7 366.8,407.0 367.0,404.1 367.3,404.7 367.5,399.9 367.8,399.5 368.0,401.5 368.2,402.4 368.5,405.6 368.7,404.2 368.9,405.6 369.2,402.0 369.4,405.1 369.6,401.9 369.9,401.1 370.1,403.6 370.3,404.4 370.6,405.9 370.8,406.1 371.0,400.9 371.3,402.3 371.5,401.4 371.7,404.9 372.0,404.4 372.2,403.4 372.4,400.5 372.7,400.2 372.9,405.3 373.1,401.4 373.4,399.0 373.6,402.7 373.8,404.6 374.1,405.3 374.3,404.9 374.5,405.8 374.8,410.7 375.0,419.2 375.2,429.1 375.5,416.1 375.7,417.0 375.9,403.5 376.2,402.4 376.4,414.8 376.6,424.3 376.9,401.5 377.1,412.9 377.3,404.3 377.6,413.2 377.8,413.7 378.0,407.1 378.3,404.9 378.5,412.0 378.8,408.2 379.0,415.4 379.2,402.0 379.5,404.2 379.7,383.7 379.9,381.3 380.2,383.3 380.4,384.7 380.6,383.1 380.9,382.9 381.1,383.6 381.3,386.5 381.6,380.8 381.8,383.2 382.0,384.7 382.3,379.3 382.5,379.7 382.7,381.3 383.0,383.9 383.2,382.9 383.4,385.9 383.7,385.0 383.9,379.7 384.1,378.7 384.4,379.3 384.6,385.1 384.8,381.7 385.1,385.5 385.3,383.7 385.5,381.1 385.8,384.4 386.0,381.7 386.2,376.3 386.5,384.3 386.7,386.2 386.9,381.6 387.2,412.6 387.4,411.3 387.6,421.8 387.9,413.5 388.1,411.2 388.3,411.4 388.6,413.8 388.8,414.7 389.0,411.7 389.3,410.9 389.5,411.3 389.7,409.1 390.0,414.3 390.2,409.7 390.5,409.1 390.7,412.8 390.9,411.1 391.2,414.8 391.4,417.2 391.6,409.7 391.9,412.7 392.1,410.8 392.3,416.4 392.6,415.4 392.8,410.3 393.0,412.5 393.3,404.6 393.5,412.3 393.7,409.4 394.0,413.4 394.2,410.3 394.4,419.8 394.7,414.0 394.9,408.5 395.1,409.7 395.4,407.5 395.6,409.9 395.8,408.1 396.1,407.5 396.3,410.2 396.5,409.0 396.8,414.6 397.0,409.3 397.2,413.9 397.5,411.2 397.7,412.8 397.9,410.0 398.2,406.5 398.4,413.5 398.6,412.2 398.9,411.8 399.1,420.1 399.3,421.0 399.6,413.7 399.8,415.8 400.0,420.8 400.3,416.9 400.5,419.9 400.7,415.9 401.0,419.1 401.2,415.1 401.5,422.7 401.7,420.4 401.9,423.4 402.2,419.1 402.4,420.7 402.6,418.4 402.9,412.8 403.1,414.1 403.3,420.0 403.6,422.6 403.8,421.5 404.0,418.3 404.3,419.7 404.5,419.1 404.7,414.1 405.0,421.4 405.2,413.9 405.4,421.0 405.7,416.7 405.9,414.0 406.1,417.9 406.4,421.9 406.6,415.0 406.8,418.7 407.1,415.3 407.3,422.2 407.5,416.6 407.8,414.2 408.0,420.1 408.2,415.8 408.5,414.4 408.7,418.1 408.9,419.0 409.2,413.7 409.4,414.3 409.6,417.5 409.9,415.7 410.1,421.0 410.3,420.5 410.6,417.2 410.8,414.6 411.0,418.5 411.3,417.1 411.5,421.4 411.7,414.0 412.0,421.1 412.2,413.7 412.5,415.5 412.7,410.6 412.9,415.3 413.2,422.2 413.4,418.1 413.6,422.5 413.9,419.5 414.1,421.7 414.3,421.2 414.6,414.4 414.8,419.5 415.0,427.6 415.3,415.6 415.5,420.2 415.7,414.7 416.0,417.8 416.2,418.9 416.4,436.3 416.7,426.9 416.9,429.2 417.1,425.1 417.4,437.3 417.6,432.7 417.8,433.2 418.1,429.7 418.3,427.1 418.5,425.5 418.8,426.7 419.0,434.3 419.2,431.4 419.5,436.0 419.7,439.2 419.9,439.5 420.2,433.6 420.4,426.5 420.6,429.4 420.9,429.4 421.1,426.7 421.3,432.2 421.6,430.5 421.8,430.9 422.0,431.2 422.3,437.3 422.5,436.7 422.7,433.7 423.0,429.0 423.2,425.5 423.5,436.3 423.7,434.5 423.9,427.0 424.2,436.1 424.4,427.0 424.6,434.5 424.9,438.5 425.1,432.2 425.3,429.3 425.6,431.7 425.8,432.0 426.0,430.7 426.3,432.9 426.5,434.5 426.7,430.0 427.0,427.4 427.2,444.0 427.4,432.6 427.7,433.9 427.9,426.1 428.1,425.8 428.4,431.4 428.6,430.1 428.8,432.2 429.1,427.5 429.3,429.6 429.5,441.6 429.8,440.1 430.0,429.4 430.2,433.4 430.5,436.7 430.7,431.3 430.9,441.7 431.2,436.7 431.4,433.3 431.6,432.9 431.9,428.9 432.1,432.2 432.3,431.9 432.6,431.8 432.8,426.3 433.0,438.4 433.3,433.8 433.5,433.5 433.7,434.0 434.0,434.3 434.2,429.2 434.5,430.1 434.7,436.3 434.9,437.7 435.2,434.3 435.4,437.6 435.6,429.0 435.9,437.4 436.1,427.1 436.3,428.6 436.6,431.1 436.8,415.9 437.0,415.8 437.3,410.0 437.5,413.5 437.7,413.6 438.0,413.4 438.2,415.1 438.4,409.1 438.7,411.6 438.9,407.4 439.1,410.6 439.4,412.4 439.6,417.1 439.8,401.7 440.1,414.8 440.3,410.4 440.5,413.9 440.8,412.8 441.0,415.3 441.2,413.4 441.5,408.9 441.7,409.4 441.9,415.1 442.2,408.6 442.4,414.0 442.6,413.0 442.9,408.1 443.1,413.6 443.3,415.3 443.6,408.4 443.8,409.5 444.0,409.0 444.3,408.1 444.5,408.2 444.7,407.3 445.0,405.4 445.2,403.8 445.5,411.9 445.7,413.3 445.9,412.7 446.2,408.1 446.4,412.7 446.6,411.7 446.9,415.3 447.1,405.9 447.3,407.4 447.6,410.5 447.8,409.6 448.0,406.8 448.3,407.1 448.5,409.4 448.7,415.3 449.0,406.0 449.2,409.1 449.4,409.9 449.7,406.5 449.9,407.5 450.1,411.4 450.4,405.3 450.6,415.9 450.8,414.0 451.1,381.3 451.3,377.1 451.5,383.1 451.8,379.6 452.0,379.5 452.2,382.1 452.5,376.8 452.7,381.3 452.9,376.4 453.2,378.6 453.4,378.0 453.6,378.7 453.9,381.8 454.1,382.8 454.3,379.6 454.6,378.4 454.8,385.4 455.0,379.6 455.3,379.4 455.5,381.7 455.7,379.6 456.0,380.6 456.2,380.7 456.5,376.2 456.7,377.6 456.9,380.0 457.2,383.0 457.4,382.0 457.6,378.7 457.9,374.3 458.1,385.6 458.3,379.0 458.6,378.6 458.8,383.6 459.0,385.3 459.3,380.2 459.5,383.1 459.7,404.4 460.0,401.4 460.2,399.9 460.4,402.7 460.7,401.1 460.9,403.9 461.1,400.7 461.4,399.8 461.6,404.1 461.8,401.8 462.1,405.1 462.3,403.5 462.5,404.3 462.8,407.7 463.0,402.8 463.2,406.7 463.5,403.2 463.7,405.0 463.9,401.0 464.2,404.3 464.4,404.6 464.6,405.7 464.9,400.8 465.1,402.9 465.3,405.2 465.6,399.5 465.8,403.8 466.0,406.6 466.3,401.8 466.5,406.9 466.7,409.1 467.0,392.2 467.2,407.4 467.5,404.9 467.7,404.1 467.9,401.2 468.2,408.2 468.4,409.0 468.6,407.5 468.9,402.9 469.1,405.9 469.3,405.3 469.6,407.3 469.8,401.0 470.0,394.6 470.3,405.4 470.5,410.0 470.7,415.5 471.0,403.8 471.2,405.4 471.4,409.5 471.7,407.1 471.9,400.6 472.1,405.7 472.4,402.7 472.6,401.9 472.8,404.8 473.1,402.2 473.3,402.6 473.5,397.7 473.8,398.2 474.0,401.3 474.2,402.7 474.5,403.8 474.7,401.8 474.9,403.5 475.2,401.2 475.4,396.5 475.6,388.6 475.9,403.4 476.1,402.1 476.3,402.2 476.6,394.4 476.8,402.3 477.0,399.0 477.3,397.4 477.5,392.7 477.7,403.9 478.0,395.4 478.2,394.4 478.5,395.2 478.7,398.5 478.9,398.0 479.2,401.7 479.4,400.3 479.6,397.9 479.9,399.4 480.1,394.5 480.3,398.8 480.6,393.5 480.8,396.6 481.0,400.0 481.3,397.8 481.5,393.1 481.7,392.4 482.0,391.8 482.2,395.9 482.4,394.9 482.7,394.3 482.9,394.1 483.1,391.5 483.4,397.1 483.6,400.4 483.8,399.4 484.1,401.5 484.3,401.0 484.5,394.6 484.8,391.9 485.0,393.5 485.2,397.9 485.5,402.5 485.7,401.3 485.9,400.5 486.2,404.4 486.4,398.8 486.6,393.9 486.9,398.7 487.1,404.1 487.3,393.0 487.6,396.8 487.8,394.5 488.0,346.3 488.3,359.9 488.5,367.4 488.7,367.4 489.0,362.9 489.2,340.4 489.5,340.4 489.7,320.0 489.9,315.0 490.2,342.7 490.4,348.6 490.6,370.1 490.9,335.3 491.1,344.5 491.3,372.5 491.6,363.0 491.8,322.8 492.0,322.8 492.3,343.4 492.5,326.3 492.7,337.6 493.0,337.6 493.2,337.6 493.4,328.5 493.7,358.0 493.9,358.0 494.1,355.4 494.4,351.2 494.6,351.2 494.8,346.4 495.1,333.7 495.3,333.7 495.5,341.6 495.8,364.5 496.0,370.3 496.2,374.8 496.5,374.2 496.7,371.0 496.9,372.0 497.2,370.2 497.4,370.8 497.6,370.4 497.9,373.5 498.1,373.1 498.3,367.3 498.6,373.7 498.8,370.7 499.0,373.8 499.3,365.8 499.5,375.6 499.7,382.3 500.0,375.9 500.2,370.8 500.4,374.0 500.7,369.9 500.9,368.1 501.2,369.1 501.4,373.9 501.6,371.2 501.9,373.7 502.1,370.7 502.3,370.6 502.6,372.5 502.8,372.3 503.0,367.4 503.3,369.8 503.5,419.6 503.7,436.2 504.0,427.4 504.2,436.8 504.4,435.5 504.7,425.1 504.9,427.9 505.1,417.7 505.4,421.2 505.6,428.2 505.8,438.3 506.1,438.3 506.3,438.3 506.5,438.3 506.8,438.3 507.0,428.9 507.2,442.0 507.5,432.1 507.7,442.0 507.9,425.0 508.2,420.0 508.4,426.6 508.6,434.2 508.9,434.2 509.1,420.9 509.3,449.9 509.6,424.0 509.8,424.0 510.0,438.1 510.3,440.2 510.5,440.2 510.7,415.2 511.0,437.9 511.2,439.4 511.4,439.4 511.7,415.0 511.9,417.3 512.2,429.8 512.4,434.9 512.6,415.0 512.9,432.6 513.1,446.8 513.3,438.4 513.6,425.1 513.8,445.1 514.0,445.1 514.3,418.0 514.5,427.2 514.7,436.8 515.0,435.9 515.2,443.9 515.4,443.9 515.7,436.1 515.9,437.1 516.1,434.0 516.4,434.0 516.6,435.9 516.8,435.9 517.1,454.0 517.3,454.9 517.5,453.3 517.8,449.8 518.0,454.6 518.2,451.1 518.5,453.2 518.7,449.9 518.9,448.8 519.2,452.0 519.4,453.3 519.6,446.7 519.9,449.8 520.1,453.2 520.3,453.5 520.6,447.6 520.8,452.6 521.0,446.2 521.3,450.0 521.5,446.6 521.7,448.6 522.0,453.0 522.2,447.3 522.4,448.1 522.7,450.7 522.9,449.6 523.2,452.0 523.4,447.5 523.6,451.1 523.9,447.0 524.1,450.8 524.3,453.7 524.6,454.0 524.8,451.2 525.0,450.2 525.3,439.9 525.5,433.4 525.7,450.6 526.0,460.8 526.2,470.1 526.4,470.1 526.7,446.6 526.9,448.0 527.1,463.4 527.4,463.4 527.6,472.6 527.8,472.6 528.1,472.6 528.3,436.8 528.5,445.2 528.8,475.0 529.0,450.2 529.2,474.1 529.5,439.8 529.7,451.0 529.9,451.0 530.2,459.5 530.4,437.8 530.6,435.3 530.9,452.4 531.1,452.4 531.3,431.9 531.6,464.6 531.8,438.8 532.0,461.4 532.3,454.0 532.5,446.9 532.7,471.6 533.0,475.4 533.2,473.7 533.4,472.6 533.7,469.4 533.9,471.5 534.2,465.0 534.4,466.7 534.6,471.3 534.9,465.8 535.1,471.3 535.3,473.5 535.6,465.3 535.8,465.4 536.0,467.2 536.3,471.9 536.5,464.7 536.7,466.7 537.0,467.5 537.2,468.5 537.4,470.2 537.7,470.1 537.9,467.0 538.1,466.2 538.4,468.4 538.6,471.8 538.8,471.9 539.1,450.9 539.3,450.9 539.5,455.7 539.8,455.7 540.0,455.7 540.2,454.8 540.5,454.8 540.7,454.8 540.9,439.9 541.2,456.5 541.4,456.5 541.6,442.4 541.9,438.7 542.1,450.9 542.3,434.8 542.6,439.7 542.8,459.2 543.0,459.2 543.3,459.2 543.5,450.5 543.7,445.5 544.0,459.8 544.2,448.5 544.4,448.5 544.7,448.5 544.9,447.6 545.2,447.6 545.4,442.9 545.6,454.8 545.9,442.3 546.1,465.6 546.3,448.0 546.6,452.3 546.8,468.0 547.0,468.6 547.3,467.6 547.5,467.8 547.7,465.4 548.0,463.1 548.2,461.3 548.4,464.5 548.7,463.2 548.9,465.9 549.1,468.5 549.4,461.0 549.6,463.1 549.8,468.6 550.1,464.5 550.3,463.7 550.5,465.7 550.8,461.4 551.0,466.8 551.2,465.1 551.5,466.1 551.7,465.9 551.9,464.3 552.2,465.2 552.4,467.0 552.6,462.6 552.9,468.3 553.1,467.6 553.3,466.4 553.6,465.3 553.8,463.6 554.0,463.6 554.3,462.1 554.5,468.8 554.7,465.6 555.0,462.4 555.2,467.8 555.4,466.8 555.7,468.5 555.9,466.4 556.2,465.3 556.4,464.5 556.6,463.9 556.9,463.2 557.1,467.2 557.3,462.9 557.6,463.9 557.8,467.7 558.0,464.7 558.3,469.0 558.5,464.4 558.7,463.2 559.0,468.0 559.2,463.9 559.4,464.3 559.7,464.7 559.9,465.5 560.1,464.8 560.4,458.7 560.6,469.9 560.8,466.2 561.1,464.9 561.3,466.7 561.5,465.5 561.8,462.4 562.0,462.1 562.2,468.1 562.5,473.0 562.7,465.1 562.9,461.3 563.2,468.0 563.4,463.5 563.6,467.3 563.9,463.7 564.1,463.6 564.3,464.9 564.6,467.3 564.8,468.3 565.0,463.2 565.3,466.9 565.5,464.8 565.7,462.7 566.0,462.3 566.2,474.2 566.4,462.3 566.7,467.0 566.9,462.4 567.2,468.3 567.4,467.4 567.6,464.6 567.9,464.7 568.1,453.4 568.3,454.1 568.6,457.5 568.8,453.7 569.0,460.0 569.3,456.1 569.5,454.0 569.7,457.6 570.0,456.5 570.2,454.6 570.4,453.9 570.7,457.8 570.9,457.5 571.1,456.2 571.4,455.4 571.6,457.8 571.8,455.0 572.1,454.3 572.3,455.0 572.5,458.1 572.8,456.4 573.0,454.5 573.2,459.3 573.5,458.4 573.7,457.6 573.9,456.2 574.2,455.3 574.4,453.5 574.6,458.1 574.9,458.0 575.1,454.0 575.3,457.4 575.6,453.8 575.8,484.6 576.0,485.4 576.3,485.0 576.5,487.4 576.7,485.9 577.0,481.9 577.2,483.5 577.4,485.7 577.7,484.2 577.9,483.9 578.2,483.6 578.4,484.7 578.6,487.0 578.9,486.2 579.1,492.1 579.3,493.9 579.6,487.3 579.8,482.5 580.0,487.1 580.3,486.6 580.5,487.4 580.7,483.7 581.0,487.2 581.2,483.0 581.4,485.6 581.7,486.4 581.9,483.4 582.1,483.3 582.4,484.6 582.6,487.2 582.8,484.2 583.1,485.3 583.3,482.7 583.5,486.2 583.8,481.8 584.0,486.2 584.2,484.4 584.5,482.0 584.7,483.3 584.9,483.7 585.2,485.0 585.4,483.2 585.6,485.9 585.9,483.3 586.1,485.6 586.3,482.9 586.6,485.6 586.8,484.9 587.0,486.2 587.3,483.3 587.5,482.8 587.7,484.0 588.0,486.1 588.2,484.8 588.4,486.6 588.7,485.9 588.9,487.1 589.2,486.0 589.4,484.1 589.6,486.4 589.9,482.4 590.1,484.9 590.3,482.6 590.6,484.3 590.8,483.2 591.0,483.3 591.3,486.8 591.5,482.3 591.7,484.1 592.0,482.6 592.2,482.5 592.4,486.0 592.7,484.7 592.9,483.8 593.1,487.9 593.4,480.2 593.6,487.8 593.8,487.4 594.1,487.9 594.3,482.9 594.5,486.6 594.8,485.6 595.0,487.4 595.2,486.5 595.5,487.3 595.7,485.6 595.9,485.7 596.2,485.0 596.4,481.8 596.6,482.0 596.9,484.1 597.1,482.8 597.3,482.7 597.6,492.9 597.8,492.2 598.0,493.8 598.3,494.6 598.5,490.4 598.7,490.4 599.0,492.0 599.2,497.9 599.4,490.9 599.7,490.5 599.9,493.3 600.2,491.9 600.4,495.7 600.6,493.1 600.9,494.2 601.1,493.4 601.3,494.9 601.6,493.8 601.8,491.3 602.0,494.4 602.3,492.3 602.5,491.7 602.7,493.4 603.0,494.1 603.2,495.5 603.4,495.6 603.7,495.3 603.9,492.6 604.1,492.6 604.4,490.9 604.6,494.2 604.8,492.9 605.1,493.2 605.3,493.4 605.5,492.5 605.8,491.1 606.0,493.3 606.2,493.8 606.5,493.7 606.7,494.1 606.9,493.9 607.2,492.7 607.4,493.1 607.6,490.9 607.9,492.1 608.1,492.0 608.3,490.1 608.6,493.6 608.8,495.7 609.0,490.1 609.3,495.3 609.5,494.8 609.7,494.4 610.0,495.6 610.2,491.4 610.4,491.1 610.7,492.1 610.9,490.6 611.2,498.3 611.4,491.5 611.6,461.4 611.9,465.8 612.1,464.5 612.3,463.1 612.6,459.1 612.8,461.4 613.0,462.7 613.3,463.2 613.5,462.0 613.7,461.8 614.0,462.0 614.2,462.9 614.4,460.7 614.7,460.4 614.9,464.0 615.1,458.9 615.4,460.7 615.6,460.5 615.8,462.8 616.1,463.6 616.3,460.3 616.5,464.4 616.8,459.9 617.0,461.0 617.2,460.0 617.5,459.5 617.7,457.4 617.9,465.0 618.2,463.8 618.4,458.1 618.6,464.1 618.9,458.0 619.1,493.6 619.3,492.9 619.6,493.2 619.8,494.0 620.0,494.2 620.3,484.5 620.5,498.3 620.7,495.8 621.0,491.6 621.2,492.8 621.4,491.4 621.7,490.3 621.9,495.2 622.1,485.1 622.4,496.4 622.6,494.0 622.9,493.7 623.1,494.1 623.3,491.2 623.6,491.1 623.8,491.9 624.0,494.2 624.3,494.4 624.5,488.8 624.7,492.8 625.0,495.1 625.2,490.0 625.4,488.6 625.7,489.8 625.9,493.5 626.1,489.1 626.4,495.4 626.6,489.2 626.8,492.5 627.1,493.5 627.3,489.6 627.5,492.7 627.8,492.8 628.0,491.2 628.2,490.0 628.5,493.7 628.7,495.5 628.9,491.8 629.2,499.1 629.4,489.9 629.6,498.1 629.9,489.2 630.1,489.1 630.3,490.4 630.6,494.8 630.8,492.5 631.0,488.2 631.3,494.5 631.5,493.5 631.7,491.7 632.0,490.2 632.2,494.1 632.4,494.4 632.7,499.6 632.9,494.7 633.1,488.4 633.4,490.7 633.6,488.9 633.9,491.5 634.1,488.7 634.3,493.0 634.6,492.3 634.8,494.9 635.0,489.6 635.3,491.7 635.5,492.1 635.7,495.1 636.0,491.8 636.2,490.5 636.4,493.5 636.7,489.1 636.9,488.6 637.1,488.2 637.4,491.2 637.6,489.8 637.8,496.4 638.1,494.5 638.3,494.1 638.5,489.6 638.8,494.0 639.0,489.9 639.2,493.5 639.5,494.5 639.7,495.1 639.9,493.3 640.2,495.4 640.4,492.9 640.6,496.8 640.9,494.1 641.1,480.9 641.3,478.3 641.6,469.3 641.8,480.8 642.0,474.0 642.3,482.1 642.5,480.6 642.7,475.2 643.0,476.0 643.2,476.6 643.4,474.6 643.7,475.7 643.9,476.1 644.1,480.1 644.4,481.3 644.6,473.8 644.9,475.8 645.1,478.1 645.3,477.1 645.6,473.3 645.8,474.1 646.0,477.6 646.3,473.3 646.5,474.9 646.7,479.7 647.0,478.8 647.2,475.4 647.4,476.0 647.7,476.5 647.9,473.4 648.1,475.1 648.4,472.7 648.6,473.9 648.8,477.8 649.1,474.0 649.3,471.8 649.5,477.3 649.8,478.9 650.0,477.8 650.2,475.7 650.5,477.2 650.7,473.6 650.9,476.2 651.2,472.4 651.4,476.1 651.6,474.5 651.9,474.3 652.1,477.7 652.3,481.4 652.6,489.3 652.8,475.4 653.0,473.6 653.3,481.0 653.5,479.5 653.7,478.8 654.0,473.1 654.2,479.3 654.4,475.5 654.7,475.9 654.9,476.6 655.1,477.4 655.4,473.7 655.6,478.6 655.9,479.8 656.1,480.1 656.3,479.3 656.6,477.8 656.8,473.3 657.0,473.3 657.3,477.6 657.5,473.9 657.7,474.1 658.0,478.3 658.2,474.7 658.4,470.3 658.7,472.9 658.9,470.3 659.1,478.3 659.4,481.3 659.6,475.7 659.8,477.7 660.1,474.2 660.3,474.8 660.5,477.7 660.8,473.6 661.0,476.2 661.2,481.5 661.5,481.0 661.7,476.4 661.9,471.5 662.2,468.5 662.4,472.9 662.6,477.4 662.9,475.1 663.1,489.3 663.3,488.9 663.6,490.8 663.8,488.0 664.0,482.9 664.3,482.6 664.5,482.4 664.7,482.1 665.0,481.0 665.2,478.7 665.4,486.9 665.7,488.1 665.9,486.9 666.1,484.4 666.4,487.7 666.6,483.0 666.9,483.2 667.1,483.2 667.3,489.1 667.6,490.9 667.8,481.6 668.0,481.8 668.3,483.2 668.5,487.8 668.7,487.5 669.0,487.6 669.2,484.3 669.4,481.2 669.7,487.3 669.9,490.8 670.1,490.3 670.4,483.2 670.6,487.7 670.8,490.6 671.1,489.6 671.3,490.8 671.5,480.6 671.8,488.0 672.0,449.3 672.2,462.3 672.5,460.6 672.7,453.0 672.9,456.3 673.2,456.3 673.4,456.7 673.6,451.5 673.9,447.6 674.1,451.1 674.3,439.3 674.6,452.4 674.8,455.0 675.0,464.1 675.3,451.0 675.5,456.8 675.7,452.9 676.0,455.5 676.2,458.2 676.4,447.7 676.7,445.9 676.9,447.9 677.1,454.4 677.4,456.7 677.6,458.8 677.9,449.2 678.1,451.2 678.3,458.4 678.6,447.8 678.8,458.5 679.0,450.6 679.3,457.9 679.5,445.8 679.7,453.9 680.0,448.4 680.2,456.7 680.4,456.0 680.7,460.7 680.9,452.9 681.1,454.1 681.4,457.2 681.6,452.6 681.8,446.0 682.1,470.7 682.3,457.8 682.5,456.7 682.8,446.3 683.0,449.9" fill="none" stroke="#1A6FDF" stroke-width="1.6" stroke-linejoin="round"/>
<path d="M74.5,451.8 74.7,450.7 75.0,451.9 75.2,445.5 75.4,448.7 75.7,451.2 75.9,451.1 76.1,451.0 76.4,452.5 76.6,450.2 76.8,452.1 77.1,450.2 77.3,452.4 77.5,453.0 77.8,447.6 78.0,451.4 78.2,452.2 78.5,448.9 78.7,448.0 78.9,449.9 79.2,448.4 79.4,449.1 79.6,449.2 79.9,450.3 80.1,450.3 80.4,449.5 80.6,451.4 80.8,450.3 81.1,451.4 81.3,448.4 81.5,450.4 81.8,448.5 82.0,451.3 82.2,451.4 82.5,450.7 82.7,449.1 82.9,449.6 83.2,447.0 83.4,448.1 83.6,449.7 83.9,448.8 84.1,448.2 84.3,450.9 84.6,451.0 84.8,450.2 85.0,451.4 85.3,447.8 85.5,449.0 85.7,453.3 86.0,452.1 86.2,449.4 86.4,447.9 86.7,453.1 86.9,448.5 87.1,451.0 87.4,453.4 87.6,448.3 87.8,448.8 88.1,413.7 88.3,413.7 88.5,424.2 88.8,409.1 89.0,421.7 89.2,423.2 89.5,423.2 89.7,418.4 89.9,418.4 90.2,408.1 90.4,414.0 90.6,427.0 90.9,427.0 91.1,412.1 91.4,414.4 91.6,418.3 91.8,418.3 92.1,418.3 92.3,409.2 92.5,414.1 92.8,410.2 93.0,410.2 93.2,422.2 93.5,408.7 93.7,421.8 93.9,411.8 94.2,421.7 94.4,412.6 94.6,412.1 94.9,409.4 95.1,412.7 95.3,412.7 95.6,424.6 95.8,423.2 96.0,427.0 96.3,418.2 96.5,425.6 96.7,424.0 97.0,424.0 97.2,424.0 97.4,427.0 97.7,423.3 97.9,409.6 98.1,409.6 98.4,409.6 98.6,417.3 98.8,416.8 99.1,433.3 99.3,435.9 99.5,437.9 99.8,446.1 100.0,441.8 100.2,442.6 100.5,443.5 100.7,437.8 100.9,443.5 101.2,439.8 101.4,435.9 101.6,440.1 101.9,438.3 102.1,434.9 102.4,444.3 102.6,440.9 102.8,444.3 103.1,439.1 103.3,444.3 103.5,441.7 103.8,435.2 104.0,440.9 104.2,434.1 104.5,444.5 104.7,442.7 104.9,439.8 105.2,442.3 105.4,439.3 105.6,439.8 105.9,438.9 106.1,439.2 106.3,438.8 106.6,440.8 106.8,439.0 107.0,437.1 107.3,443.9 107.5,445.2 107.7,440.7 108.0,438.8 108.2,436.2 108.4,437.9 108.7,438.3 108.9,445.5 109.1,432.9 109.4,445.2 109.6,444.7 109.8,446.4 110.1,424.7 110.3,433.4 110.5,444.6 110.8,451.1 111.0,432.6 111.2,427.9 111.5,431.9 111.7,439.4 111.9,446.1 112.2,444.3 112.4,439.3 112.6,448.4 112.9,449.4 113.1,442.2 113.4,445.0 113.6,439.9 113.8,442.6 114.1,445.5 114.3,448.1 114.5,441.1 114.8,437.6 115.0,449.4 115.2,419.3 115.5,420.6 115.7,433.3 115.9,451.5 116.2,437.3 116.4,444.1 116.6,441.1 116.9,435.3 117.1,436.4 117.3,439.5 117.6,451.0 117.8,452.3 118.0,440.6 118.3,460.1 118.5,449.4 118.7,418.3 119.0,434.0 119.2,448.3 119.4,440.2 119.7,442.4 119.9,431.1 120.1,434.5 120.4,438.0 120.6,439.6 120.8,450.0 121.1,440.7 121.3,441.8 121.5,442.6 121.8,446.7 122.0,434.6 122.2,450.2 122.5,447.3 122.7,434.8 122.9,436.1 123.2,432.2 123.4,434.7 123.6,445.7 123.9,430.1 124.1,443.4 124.4,443.1 124.6,439.7 124.8,444.3 125.1,452.3 125.3,452.3 125.5,452.7 125.8,450.6 126.0,451.9 126.2,450.0 126.5,450.4 126.7,452.7 126.9,451.5 127.2,446.0 127.4,448.6 127.6,449.6 127.9,451.4 128.1,451.4 128.3,455.8 128.6,455.7 128.8,453.5 129.0,454.6 129.3,451.7 129.5,452.2 129.7,452.9 130.0,454.0 130.2,450.8 130.4,454.3 130.7,450.2 130.9,451.1 131.1,448.8 131.4,455.1 131.6,452.5 131.8,455.1 132.1,452.9 132.3,452.4 132.5,451.7 132.8,450.9 133.0,454.0 133.2,454.5 133.5,454.2 133.7,451.3 133.9,455.6 134.2,452.1 134.4,452.1 134.6,454.5 134.9,454.0 135.1,450.7 135.3,455.3 135.6,449.3 135.8,461.9 136.1,454.2 136.3,449.4 136.5,447.3 136.8,443.7 137.0,448.9 137.2,451.0 137.5,449.1 137.7,451.2 137.9,449.8 138.2,450.6 138.4,452.9 138.6,453.9 138.9,453.4 139.1,472.5 139.3,471.7 139.6,472.5 139.8,465.8 140.0,485.3 140.3,470.4 140.5,474.3 140.7,460.0 141.0,471.4 141.2,470.9 141.4,471.1 141.7,476.1 141.9,472.6 142.1,476.6 142.4,475.1 142.6,476.3 142.8,476.3 143.1,468.5 143.3,469.8 143.5,470.6 143.8,470.7 144.0,472.3 144.2,474.0 144.5,474.9 144.7,465.8 144.9,458.5 145.2,469.0 145.4,468.5 145.6,473.7 145.9,470.4 146.1,477.3 146.3,468.6 146.6,474.7 146.8,472.4 147.1,471.6 147.3,475.5 147.5,477.7 147.8,476.0 148.0,475.7 148.2,475.5 148.5,478.7 148.7,474.2 148.9,471.4 149.2,474.9 149.4,475.3 149.6,467.4 149.9,471.1 150.1,466.7 150.3,466.9 150.6,468.4 150.8,474.9 151.0,475.8 151.3,466.9 151.5,475.7 151.7,469.6 152.0,476.1 152.2,468.0 152.4,468.4 152.7,471.2 152.9,470.7 153.1,474.6 153.4,469.8 153.6,473.1 153.8,462.1 154.1,478.4 154.3,478.9 154.5,479.2 154.8,478.6 155.0,476.4 155.2,470.9 155.5,469.0 155.7,490.0 155.9,474.5 156.2,475.0 156.4,473.9 156.6,469.7 156.9,468.5 157.1,481.3 157.3,480.2 157.6,479.3 157.8,476.6 158.1,480.3 158.3,477.9 158.5,476.6 158.8,477.6 159.0,477.9 159.2,482.8 159.5,477.1 159.7,476.0 159.9,476.0 160.2,483.1 160.4,481.8 160.6,478.8 160.9,477.4 161.1,482.5 161.3,480.5 161.6,477.8 161.8,475.9 162.0,478.0 162.3,477.9 162.5,475.3 162.7,482.3 163.0,480.5 163.2,483.9 163.4,482.0 163.7,477.5 163.9,481.5 164.1,484.0 164.4,482.7 164.6,482.6 164.8,476.9 165.1,478.7 165.3,475.3 165.5,482.2 165.8,474.3 166.0,476.4 166.2,480.1 166.5,475.7 166.7,479.5 166.9,474.9 167.2,475.4 167.4,478.8 167.6,480.2 167.9,481.7 168.1,482.4 168.3,478.9 168.6,477.0 168.8,484.1 169.1,487.5 169.3,487.0 169.5,484.7 169.8,485.0 170.0,482.9 170.2,486.8 170.5,483.3 170.7,484.8 170.9,486.1 171.2,484.7 171.4,487.2 171.6,486.2 171.9,487.1 172.1,486.4 172.3,485.0 172.6,484.2 172.8,488.2 173.0,485.0 173.3,483.4 173.5,483.8 173.7,487.3 174.0,484.8 174.2,486.3 174.4,484.1 174.7,485.6 174.9,486.0 175.1,487.6 175.4,485.3 175.6,486.6 175.8,487.4 176.1,500.1 176.3,497.2 176.5,500.0 176.8,500.9 177.0,501.1 177.2,497.6 177.5,501.3 177.7,500.6 177.9,498.8 178.2,501.8 178.4,501.1 178.6,500.3 178.9,500.2 179.1,496.7 179.3,496.4 179.6,499.8 179.8,498.1 180.1,497.4 180.3,500.7 180.5,498.3 180.8,500.8 181.0,500.5 181.2,494.8 181.5,498.6 181.7,496.2 181.9,500.0 182.2,500.1 182.4,496.5 182.6,499.0 182.9,499.9 183.1,497.6 183.3,497.7 183.6,498.0 183.8,505.4 184.0,500.5 184.3,497.9 184.5,496.9 184.7,500.2 185.0,496.8 185.2,498.7 185.4,501.3 185.7,497.5 185.9,496.2 186.1,500.4 186.4,495.3 186.6,494.3 186.8,499.4 187.1,499.9 187.3,501.8 187.5,496.9 187.8,501.3 188.0,499.1 188.2,500.5 188.5,497.7 188.7,495.2 188.9,498.4 189.2,495.3 189.4,495.3 189.6,496.3 189.9,496.2 190.1,480.3 190.3,486.1 190.6,485.0 190.8,486.4 191.1,484.6 191.3,484.1 191.5,487.4 191.8,484.1 192.0,483.1 192.2,487.4 192.5,487.6 192.7,482.3 192.9,482.9 193.2,484.0 193.4,485.1 193.6,485.1 193.9,486.5 194.1,485.7 194.3,485.9 194.6,483.8 194.8,483.0 195.0,483.8 195.3,483.3 195.5,485.4 195.7,485.3 196.0,487.8 196.2,485.1 196.4,486.8 196.7,486.6 196.9,483.7 197.1,483.6 197.4,488.1 197.6,486.0 197.8,485.9 198.1,502.2 198.3,497.8 198.5,502.4 198.8,499.1 199.0,498.2 199.2,501.5 199.5,503.3 199.7,498.3 199.9,499.0 200.2,499.1 200.4,497.4 200.6,497.5 200.9,500.3 201.1,501.6 201.3,498.9 201.6,500.1 201.8,501.5 202.1,500.2 202.3,501.1 202.5,498.9 202.8,501.9 203.0,498.6 203.2,499.5 203.5,499.5 203.7,501.0 203.9,500.7 204.2,502.1 204.4,498.9 204.6,501.2 204.9,498.5 205.1,498.8 205.3,500.8 205.6,502.0 205.8,501.4 206.0,500.7 206.3,501.7 206.5,497.8 206.7,501.5 207.0,499.6 207.2,500.8 207.4,498.3 207.7,501.7 207.9,501.6 208.1,501.5 208.4,498.3 208.6,499.0 208.8,499.6 209.1,498.3 209.3,502.4 209.5,498.2 209.8,502.8 210.0,501.8 210.2,502.1 210.5,500.8 210.7,502.3 210.9,502.2 211.2,498.1 211.4,502.4 211.6,497.9 211.9,501.1 212.1,500.6 212.3,502.4 212.6,502.4 212.8,499.0 213.1,498.7 213.3,502.0 213.5,502.2 213.8,502.3 214.0,501.0 214.2,499.7 214.5,497.9 214.7,497.8 214.9,499.6 215.2,497.7 215.4,499.1 215.6,503.1 215.9,502.7 216.1,501.4 216.3,498.8 216.6,501.9 216.8,498.2 217.0,500.3 217.3,498.3 217.5,502.6 217.7,503.4 218.0,499.7 218.2,499.6 218.4,505.9 218.7,501.1 218.9,492.5 219.1,501.3 219.4,501.2 219.6,500.9 219.8,497.6 220.1,500.1 220.3,500.6 220.5,499.0 220.8,502.1 221.0,496.1 221.2,501.6 221.5,502.2 221.7,499.4 221.9,501.8 222.2,502.4 222.4,501.8 222.6,500.0 222.9,499.8 223.1,500.6 223.3,503.4 223.6,498.9 223.8,501.8 224.1,499.4 224.3,499.2 224.5,497.3 224.8,499.9 225.0,501.3 225.2,501.2 225.5,498.1 225.7,500.0 225.9,498.3 226.2,501.7 226.4,501.7 226.6,501.5 226.9,502.2 227.1,498.9 227.3,501.6 227.6,501.8 227.8,500.7 228.0,499.6 228.3,497.6 228.5,493.6 228.7,498.0 229.0,499.8 229.2,499.6 229.4,497.8 229.7,502.2 229.9,499.1 230.1,500.8 230.4,503.0 230.6,499.0 230.8,497.2 231.1,497.6 231.3,501.5 231.5,500.9 231.8,501.7 232.0,502.7 232.2,497.5 232.5,496.0 232.7,502.3 232.9,500.1 233.2,497.5 233.4,495.2 233.6,499.3 233.9,501.2 234.1,499.6 234.3,501.5 234.6,498.7 234.8,501.1 235.1,500.8 235.3,500.4 235.5,498.9 235.8,497.9 236.0,497.9 236.2,497.9 236.5,500.7 236.7,499.6 236.9,501.2 237.2,499.2 237.4,497.3 237.6,497.7 237.9,501.0 238.1,498.4 238.3,499.4 238.6,502.2 238.8,501.4 239.0,502.2 239.3,500.1 239.5,499.7 239.7,500.5 240.0,501.5 240.2,500.4 240.4,499.8 240.7,500.0 240.9,499.3 241.1,500.8 241.4,501.8 241.6,494.9 241.8,494.0 242.1,493.1 242.3,491.6 242.5,494.7 242.8,494.5 243.0,492.5 243.2,493.8 243.5,493.7 243.7,491.5 243.9,493.1 244.2,495.2 244.4,493.8 244.6,492.6 244.9,494.2 245.1,495.0 245.3,492.4 245.6,492.8 245.8,491.5 246.1,491.3 246.3,493.6 246.5,492.5 246.8,489.2 247.0,492.7 247.2,492.9 247.5,495.6 247.7,492.4 247.9,490.0 248.2,496.2 248.4,490.2 248.6,493.2 248.9,496.8 249.1,493.6 249.3,489.3 249.6,491.5 249.8,495.0 250.0,489.9 250.3,490.9 250.5,493.3 250.7,493.4 251.0,493.3 251.2,491.2 251.4,495.9 251.7,495.9 251.9,492.7 252.1,495.5 252.4,493.2 252.6,495.9 252.8,491.5 253.1,494.6 253.3,493.6 253.5,493.5 253.8,490.8 254.0,490.7 254.2,494.9 254.5,494.8 254.7,493.5 254.9,492.8 255.2,495.6 255.4,492.3 255.6,493.7 255.9,495.6 256.1,492.5 256.3,493.1 256.6,492.0 256.8,491.5 257.0,490.9 257.3,492.9 257.5,486.1 257.8,494.2 258.0,492.4 258.2,494.9 258.5,491.8 258.7,494.4 258.9,494.1 259.2,494.4 259.4,492.6 259.6,493.5 259.9,489.7 260.1,493.6 260.3,494.3 260.6,489.6 260.8,490.9 261.0,494.5 261.3,494.6 261.5,490.6 261.7,490.8 262.0,492.4 262.2,491.2 262.4,492.5 262.7,495.2 262.9,490.4 263.1,492.6 263.4,494.1 263.6,492.0 263.8,491.9 264.1,492.1 264.3,494.9 264.5,494.6 264.8,491.9 265.0,494.9 265.2,493.3 265.5,494.8 265.7,491.2 265.9,492.0 266.2,492.8 266.4,491.7 266.6,500.4 266.9,493.7 267.1,493.2 267.3,491.3 267.6,490.6 267.8,492.2 268.0,493.5 268.3,493.1 268.5,494.1 268.8,491.3 269.0,494.2 269.2,494.2 269.5,494.4 269.7,493.0 269.9,493.8 270.2,499.7 270.4,499.2 270.6,497.8 270.9,499.0 271.1,499.6 271.3,493.6 271.6,499.2 271.8,499.2 272.0,495.0 272.3,503.5 272.5,498.9 272.7,498.7 273.0,499.7 273.2,500.4 273.4,499.8 273.7,497.3 273.9,496.5 274.1,500.7 274.4,499.7 274.6,500.1 274.8,495.5 275.1,494.7 275.3,499.5 275.5,500.1 275.8,498.7 276.0,501.4 276.2,493.1 276.5,496.5 276.7,500.5 276.9,496.7 277.2,500.2 277.4,496.2 277.6,495.6 277.9,498.0 278.1,499.6 278.3,501.8 278.6,498.6 278.8,501.2 279.0,500.2 279.3,496.1 279.5,503.0 279.8,500.6 280.0,500.6 280.2,498.6 280.5,502.7 280.7,501.1 280.9,499.4 281.2,496.9 281.4,499.1 281.6,498.8 281.9,499.9 282.1,500.3 282.3,497.8 282.6,498.4 282.8,495.0 283.0,498.4 283.3,497.1 283.5,500.2 283.7,497.2 284.0,495.4 284.2,499.2 284.4,494.6 284.7,495.5 284.9,501.1 285.1,501.5 285.4,495.4 285.6,501.6 285.8,498.2 286.1,498.5 286.3,501.3 286.5,500.3 286.8,498.9 287.0,496.1 287.2,498.3 287.5,494.4 287.7,495.7 287.9,499.6 288.2,498.0 288.4,497.8 288.6,500.8 288.9,496.6 289.1,500.9 289.3,500.5 289.6,500.6 289.8,500.7 290.0,500.5 290.3,498.6 290.5,496.8 290.8,498.4 291.0,498.7 291.2,497.2 291.5,491.0 291.7,498.5 291.9,496.5 292.2,496.6 292.4,494.7 292.6,498.1 292.9,501.7 293.1,498.0 293.3,489.2 293.6,502.6 293.8,500.7 294.0,500.1 294.3,496.1 294.5,495.0 294.7,495.4 295.0,497.6 295.2,494.7 295.4,496.0 295.7,499.2 295.9,497.2 296.1,496.4 296.4,496.2 296.6,498.6 296.8,496.9 297.1,494.4 297.3,496.5 297.5,497.6 297.8,501.6 298.0,497.5 298.2,504.6 298.5,497.9 298.7,501.5 298.9,499.8 299.2,497.7 299.4,498.3 299.6,498.2 299.9,495.9 300.1,497.3 300.3,502.3 300.6,492.0 300.8,497.0 301.0,496.2 301.3,495.7 301.5,491.1 301.8,491.4 302.0,493.6 302.2,490.9 302.5,497.1 302.7,494.8 302.9,496.4 303.2,493.0 303.4,495.7 303.6,494.7 303.9,494.6 304.1,492.9 304.3,494.1 304.6,488.6 304.8,496.6 305.0,496.1 305.3,494.4 305.5,492.8 305.7,494.6 306.0,497.0 306.2,486.6 306.4,491.0 306.7,496.8 306.9,498.1 307.1,494.4 307.4,493.7 307.6,492.6 307.8,495.5 308.1,494.7 308.3,491.7 308.5,495.6 308.8,493.8 309.0,493.2 309.2,494.4 309.5,493.7 309.7,495.9 309.9,491.6 310.2,497.7 310.4,492.4 310.6,497.6 310.9,497.3 311.1,497.5 311.3,496.0 311.6,494.9 311.8,496.2 312.0,491.9 312.3,496.0 312.5,490.5 312.8,497.5 313.0,497.2 313.2,490.7 313.5,493.3 313.7,494.4 313.9,496.7 314.2,497.9 314.4,497.9 314.6,489.8 314.9,492.2 315.1,494.8 315.3,496.5 315.6,494.3 315.8,494.0 316.0,493.4 316.3,500.0 316.5,499.2 316.7,492.5 317.0,494.8 317.2,497.0 317.4,493.4 317.7,494.5 317.9,495.2 318.1,487.6 318.4,495.4 318.6,496.5 318.8,496.9 319.1,506.6 319.3,494.5 319.5,496.2 319.8,494.8 320.0,494.5 320.2,497.4 320.5,495.4 320.7,494.0 320.9,494.8 321.2,392.5 321.4,392.5 321.6,383.9 321.9,396.9 322.1,401.8 322.3,401.8 322.6,401.8 322.8,385.2 323.0,383.4 323.3,382.6 323.5,382.6 323.8,396.0 324.0,383.1 324.2,394.2 324.5,394.2 324.7,394.2 324.9,400.0 325.2,400.0 325.4,400.0 325.6,391.5 325.9,391.5 326.1,383.7 326.3,394.9 326.6,394.9 326.8,391.4 327.0,399.8 327.3,390.0 327.5,383.1 327.7,381.3 328.0,381.6 328.2,470.6 328.4,467.9 328.7,467.5 328.9,469.4 329.1,467.1 329.4,469.9 329.6,465.7 329.8,468.8 330.1,470.2 330.3,470.7 330.5,468.6 330.8,464.9 331.0,471.0 331.2,458.7 331.5,471.5 331.7,473.4 331.9,473.1 332.2,477.0 332.4,467.3 332.6,472.0 332.9,471.1 333.1,469.7 333.3,471.7 333.6,470.7 333.8,471.3 334.0,459.8 334.3,461.2 334.5,466.6 334.8,466.6 335.0,469.3 335.2,461.3 335.5,468.2 335.7,458.7 335.9,465.4 336.2,467.2 336.4,459.1 336.6,462.5 336.9,464.7 337.1,459.4 337.3,457.7 337.6,461.3 337.8,462.0 338.0,456.1 338.3,468.3 338.5,465.9 338.7,463.5 339.0,460.3 339.2,451.6 339.4,457.6 339.7,460.2 339.9,460.9 340.1,462.4 340.4,456.1 340.6,454.4 340.8,463.3 341.1,456.9 341.3,462.8 341.5,458.8 341.8,466.1 342.0,460.6 342.2,461.6 342.5,461.2 342.7,465.5 342.9,466.6 343.2,460.9 343.4,470.6 343.6,467.4 343.9,461.5 344.1,460.8 344.3,462.2 344.6,453.2 344.8,457.1 345.0,462.8 345.3,457.9 345.5,456.7 345.8,462.1 346.0,459.2 346.2,463.0 346.5,462.8 346.7,459.6 346.9,457.8 347.2,456.0 347.4,458.5 347.6,460.6 347.9,455.4 348.1,467.6 348.3,455.9 348.6,462.9 348.8,466.7 349.0,459.2 349.3,458.2 349.5,457.7 349.7,461.0 350.0,462.1 350.2,456.5 350.4,455.8 350.7,459.2 350.9,456.2 351.1,454.8 351.4,461.2 351.6,456.1 351.8,460.3 352.1,463.4 352.3,458.3 352.5,462.5 352.8,458.1 353.0,460.4 353.2,458.9 353.5,459.2 353.7,463.1 353.9,460.5 354.2,463.2 354.4,462.7 354.6,459.1 354.9,458.2 355.1,459.6 355.3,460.5 355.6,461.9 355.8,459.2 356.0,451.6 356.3,450.3 356.5,450.7 356.8,449.4 357.0,447.2 357.2,449.4 357.5,448.6 357.7,452.9 357.9,452.5 358.2,450.9 358.4,449.6 358.6,448.7 358.9,451.5 359.1,453.1 359.3,449.8 359.6,450.6 359.8,449.4 360.0,451.2 360.3,451.3 360.5,452.5 360.7,445.1 361.0,448.5 361.2,448.6 361.4,451.8 361.7,453.2 361.9,452.5 362.1,451.3 362.4,449.6 362.6,449.0 362.8,452.6 363.1,453.5 363.3,449.9 363.5,451.4 363.8,450.8 364.0,446.9 364.2,446.3 364.5,445.6 364.7,450.9 364.9,445.0 365.2,451.6 365.4,446.6 365.6,450.9 365.9,451.7 366.1,450.9 366.3,449.9 366.6,449.8 366.8,446.8 367.0,447.6 367.3,447.8 367.5,450.7 367.8,448.7 368.0,444.4 368.2,447.8 368.5,451.1 368.7,445.4 368.9,450.8 369.2,446.5 369.4,446.2 369.6,447.8 369.9,446.9 370.1,448.9 370.3,447.9 370.6,446.6 370.8,452.2 371.0,451.0 371.3,448.7 371.5,448.0 371.7,452.1 372.0,452.5 372.2,447.8 372.4,448.6 372.7,449.5 372.9,451.6 373.1,484.2 373.4,475.1 373.6,483.4 373.8,462.5 374.1,462.5 374.3,478.2 374.5,470.6 374.8,479.0 375.0,479.0 375.2,477.9 375.5,454.0 375.7,467.2 375.9,467.6 376.2,476.0 376.4,477.4 376.6,477.4 376.9,476.9 377.1,455.1 377.3,464.8 377.6,465.5 377.8,460.4 378.0,460.4 378.3,460.4 378.5,473.8 378.8,461.8 379.0,473.7 379.2,470.9 379.5,470.9 379.7,453.7 379.9,469.8 380.2,466.0 380.4,458.4 380.6,458.4 380.9,465.4 381.1,454.1 381.3,457.2 381.6,457.2 381.8,474.7 382.0,458.4 382.3,469.1 382.5,466.7 382.7,474.7 383.0,474.7 383.2,468.1 383.4,460.9 383.7,472.8 383.9,472.8 384.1,450.0 384.4,450.0 384.6,452.3 384.8,452.3 385.1,458.5 385.3,474.3 385.5,462.8 385.8,475.4 386.0,475.4 386.2,475.4 386.5,451.9 386.7,461.3 386.9,461.3 387.2,461.3 387.4,461.3 387.6,457.1 387.9,474.7 388.1,471.0 388.3,459.1 388.6,492.4 388.8,487.5 389.0,486.8 389.3,489.8 389.5,498.7 389.7,493.9 390.0,493.0 390.2,483.9 390.5,488.8 390.7,492.3 390.9,489.2 391.2,487.8 391.4,487.7 391.6,492.3 391.9,491.2 392.1,489.1 392.3,490.9 392.6,489.8 392.8,490.3 393.0,489.9 393.3,491.1 393.5,489.9 393.7,489.5 394.0,485.9 394.2,490.9 394.4,489.0 394.7,492.0 394.9,487.2 395.1,489.6 395.4,488.4 395.6,486.3 395.8,487.8 396.1,487.2 396.3,490.0 396.5,491.6 396.8,492.6 397.0,486.8 397.2,489.8 397.5,491.3 397.7,490.6 397.9,493.2 398.2,491.7 398.4,491.6 398.6,489.5 398.9,490.6 399.1,486.6 399.3,491.1 399.6,488.3 399.8,493.3 400.0,491.6 400.3,487.3 400.5,489.1 400.7,486.5 401.0,486.9 401.2,489.8 401.5,487.1 401.7,487.9 401.9,492.1 402.2,491.4 402.4,490.6 402.6,488.9 402.9,492.8 403.1,489.5 403.3,491.9 403.6,486.7 403.8,488.3 404.0,487.2 404.3,487.3 404.5,488.9 404.7,487.2 405.0,491.6 405.2,488.9 405.4,488.9 405.7,489.1 405.9,491.4 406.1,492.9 406.4,492.2 406.6,493.0 406.8,491.6 407.1,489.6 407.3,484.9 407.5,491.0 407.8,488.0 408.0,491.7 408.2,489.4 408.5,486.5 408.7,490.5 408.9,489.9 409.2,491.7 409.4,493.4 409.6,487.5 409.9,492.6 410.1,489.7 410.3,489.5 410.6,490.4 410.8,488.6 411.0,490.0 411.3,490.0 411.5,492.3 411.7,491.3 412.0,488.2 412.2,487.5 412.5,489.5 412.7,486.3 412.9,488.2 413.2,491.7 413.4,489.5 413.6,488.2 413.9,489.4 414.1,488.7 414.3,492.7 414.6,488.6 414.8,491.2 415.0,490.9 415.3,492.4 415.5,490.6 415.7,489.3 416.0,499.1 416.2,498.8 416.4,487.1 416.7,488.5 416.9,488.2 417.1,486.2 417.4,490.9 417.6,486.8 417.8,490.4 418.1,486.7 418.3,488.1 418.5,490.6 418.8,488.8 419.0,491.8 419.2,490.5 419.5,489.6 419.7,487.5 419.9,487.8 420.2,493.2 420.4,487.9 420.6,489.2 420.9,490.2 421.1,487.7 421.3,488.9 421.6,484.0 421.8,492.5 422.0,491.2 422.3,489.0 422.5,493.6 422.7,491.4 423.0,488.2 423.2,492.7 423.5,494.2 423.7,489.6 423.9,487.4 424.2,489.7 424.4,490.1 424.6,487.7 424.9,491.1 425.1,492.8 425.3,493.5 425.6,492.0 425.8,491.3 426.0,493.5 426.3,492.1 426.5,488.0 426.7,493.6 427.0,490.9 427.2,493.0 427.4,491.3 427.7,490.8 427.9,488.5 428.1,489.2 428.4,487.0 428.6,488.5 428.8,492.3 429.1,488.1 429.3,490.7 429.5,488.3 429.8,487.7 430.0,492.0 430.2,490.7 430.5,490.3 430.7,491.0 430.9,491.3 431.2,488.4 431.4,491.2 431.6,492.1 431.9,493.9 432.1,488.0 432.3,491.0 432.6,494.7 432.8,489.5 433.0,490.1 433.3,493.8 433.5,488.0 433.7,492.9 434.0,491.9 434.2,489.0 434.5,492.7 434.7,488.3 434.9,492.1 435.2,485.9 435.4,492.1 435.6,487.5 435.9,486.9 436.1,489.8 436.3,491.2 436.6,493.3 436.8,489.2 437.0,494.3 437.3,495.2 437.5,491.3 437.7,495.8 438.0,498.6 438.2,494.3 438.4,494.2 438.7,493.3 438.9,495.5 439.1,494.7 439.4,492.4 439.6,494.1 439.8,493.6 440.1,492.0 440.3,498.8 440.5,492.6 440.8,490.0 441.0,494.0 441.2,489.3 441.5,491.7 441.7,493.6 441.9,489.8 442.2,489.7 442.4,492.5 442.6,492.3 442.9,489.1 443.1,487.1 443.3,489.6 443.6,500.6 443.8,482.9 444.0,489.5 444.3,489.6 444.5,492.8 444.7,494.7 445.0,485.5 445.2,490.1 445.5,493.6 445.7,500.0 445.9,490.8 446.2,489.2 446.4,492.6 446.6,488.8 446.9,489.4 447.1,494.0 447.3,490.9 447.6,490.9 447.8,492.2 448.0,495.1 448.3,494.1 448.5,493.6 448.7,489.7 449.0,488.8 449.2,495.0 449.4,493.1 449.7,492.3 449.9,492.4 450.1,494.7 450.4,495.9 450.6,493.3 450.8,489.8 451.1,493.4 451.3,495.5 451.5,494.5 451.8,493.0 452.0,493.3 452.2,494.0 452.5,490.8 452.7,495.3 452.9,489.6 453.2,490.0 453.4,491.3 453.6,495.3 453.9,492.7 454.1,488.2 454.3,493.8 454.6,495.2 454.8,493.6 455.0,494.1 455.3,492.6 455.5,490.5 455.7,492.8 456.0,493.0 456.2,495.3 456.5,489.1 456.7,489.3 456.9,489.1 457.2,494.5 457.4,490.6 457.6,496.8 457.9,491.4 458.1,495.0 458.3,491.3 458.6,491.5 458.8,492.7 459.0,492.3 459.3,492.1 459.5,491.0 459.7,493.2 460.0,489.3 460.2,493.0 460.4,493.3 460.7,491.6 460.9,493.9 461.1,492.7 461.4,492.7 461.6,494.3 461.8,492.0 462.1,492.2 462.3,493.8 462.5,488.0 462.8,494.6 463.0,492.0 463.2,487.8 463.5,491.1 463.7,493.7 463.9,490.2 464.2,489.6 464.4,486.8 464.6,500.6 464.9,494.7 465.1,495.8 465.3,488.8 465.6,492.2 465.8,494.4 466.0,491.5 466.3,499.8 466.5,490.3 466.7,490.1 467.0,496.1 467.2,433.3 467.5,442.6 467.7,464.3 467.9,436.7 468.2,455.3 468.4,439.4 468.6,441.8 468.9,459.8 469.1,444.1 469.3,462.4 469.6,422.1 469.8,430.3 470.0,421.7 470.3,423.9 470.5,430.2 470.7,464.5 471.0,424.5 471.2,416.8 471.4,425.4 471.7,446.1 471.9,417.7 472.1,468.0 472.4,461.4 472.6,424.9 472.8,419.6 473.1,444.1 473.3,447.7 473.5,447.8 473.8,400.5 474.0,370.3 474.2,383.4 474.5,383.4 474.7,383.4 474.9,383.4 475.2,382.4 475.4,382.4 475.6,377.2 475.9,377.2 476.1,377.2 476.3,358.3 476.6,358.3 476.8,385.8 477.0,384.1 477.3,362.1 477.5,375.4 477.7,375.4 478.0,375.4 478.2,375.4 478.5,359.7 478.7,374.8 478.9,374.8 479.2,365.6 479.4,387.6 479.6,403.0 479.9,386.1 480.1,382.3 480.3,373.9 480.6,373.9 480.8,390.9 481.0,390.9 481.3,367.7 481.5,384.0 481.7,391.3 482.0,393.5 482.2,425.7 482.4,422.5 482.7,419.2 482.9,422.3 483.1,419.8 483.4,424.1 483.6,424.0 483.8,425.4 484.1,411.6 484.3,416.5 484.5,411.2 484.8,418.2 485.0,422.3 485.2,424.5 485.5,422.2 485.7,413.4 485.9,426.7 486.2,414.5 486.4,413.4 486.6,415.0 486.9,428.2 487.1,415.6 487.3,415.2 487.6,415.2 487.8,429.6 488.0,378.0 488.3,375.8 488.5,380.2 488.7,380.2 489.0,380.2 489.2,371.9 489.5,383.3 489.7,383.3 489.9,382.0 490.2,382.0 490.4,366.0 490.6,366.9 490.9,380.1 491.1,379.6 491.3,383.2 491.6,381.0 491.8,381.0 492.0,376.5 492.3,373.4 492.5,369.9 492.7,374.7 493.0,381.6 493.2,381.6 493.4,372.2 493.7,377.0 493.9,377.6 494.1,377.6 494.4,377.6 494.6,382.0 494.8,378.3 495.1,375.0 495.3,375.0 495.5,382.8 495.8,368.5 496.0,464.1 496.2,461.0 496.5,459.1 496.7,462.1 496.9,464.6 497.2,460.7 497.4,460.2 497.6,460.7 497.9,463.2 498.1,462.7 498.3,464.6 498.6,463.0 498.8,463.6 499.0,461.1 499.3,463.8 499.5,458.7 499.7,460.9 500.0,464.5 500.2,459.6 500.4,462.8 500.7,463.4 500.9,458.3 501.2,455.0 501.4,458.7 501.6,460.7 501.9,461.8 502.1,460.1 502.3,461.3 502.6,456.7 502.8,464.3 503.0,449.9 503.3,451.9 503.5,447.3 503.7,443.6 504.0,442.8 504.2,447.2 504.4,455.6 504.7,451.5 504.9,451.5 505.1,433.4 505.4,438.0 505.6,433.0 505.8,448.6 506.1,444.4 506.3,448.4 506.5,448.4 506.8,448.4 507.0,448.4 507.2,443.0 507.5,445.8 507.7,445.8 507.9,445.7 508.2,445.7 508.4,445.7 508.6,446.9 508.9,441.8 509.1,478.9 509.3,477.4 509.6,479.2 509.8,479.0 510.0,476.8 510.3,478.8 510.5,477.4 510.7,476.9 511.0,478.9 511.2,479.4 511.4,481.7 511.7,482.1 511.9,482.2 512.2,482.1 512.4,481.5 512.6,478.1 512.9,477.5 513.1,479.8 513.3,477.2 513.6,478.9 513.8,480.1 514.0,480.3 514.3,479.4 514.5,476.9 514.7,478.6 515.0,477.2 515.2,481.7 515.4,478.7 515.7,478.8 515.9,482.8 516.1,481.3 516.4,480.6 516.6,481.0 516.8,480.5 517.1,479.8 517.3,482.2 517.5,475.0 517.8,477.2 518.0,477.8 518.2,477.7 518.5,479.3 518.7,479.8 518.9,473.6 519.2,481.7 519.4,478.2 519.6,483.2 519.9,482.0 520.1,479.3 520.3,479.8 520.6,480.9 520.8,479.5 521.0,482.0 521.3,480.8 521.5,478.1 521.7,481.1 522.0,478.3 522.2,481.6 522.4,477.4 522.7,479.8 522.9,477.4 523.2,481.2 523.4,477.8 523.6,485.5 523.9,478.4 524.1,479.3 524.3,479.4 524.6,481.8 524.8,480.6 525.0,497.4 525.3,499.9 525.5,498.8 525.7,496.9 526.0,499.0 526.2,498.4 526.4,500.4 526.7,499.4 526.9,502.3 527.1,497.5 527.4,500.5 527.6,500.6 527.8,497.4 528.1,497.3 528.3,499.5 528.5,498.1 528.8,495.3 529.0,495.6 529.2,496.9 529.5,500.4 529.7,501.1 529.9,497.9 530.2,499.4 530.4,497.9 530.6,503.0 530.9,500.9 531.1,497.8 531.3,498.7 531.6,500.9 531.8,500.4 532.0,500.0 532.3,498.0 532.5,501.0 532.7,496.2 533.0,496.4 533.2,492.9 533.4,499.1 533.7,498.3 533.9,497.2 534.2,498.9 534.4,498.0 534.6,496.1 534.9,498.4 535.1,498.7 535.3,501.6 535.6,498.9 535.8,501.8 536.0,497.5 536.3,499.2 536.5,497.1 536.7,502.6 537.0,502.0 537.2,501.6 537.4,498.1 537.7,500.5 537.9,496.7 538.1,495.4 538.4,499.8 538.6,497.0 538.8,496.9 539.1,497.5 539.3,499.4 539.5,498.6 539.8,498.0 540.0,499.1 540.2,498.8 540.5,500.3 540.7,501.0 540.9,500.1 541.2,500.0 541.4,498.5 541.6,500.5 541.9,497.5 542.1,497.5 542.3,497.1 542.6,500.3 542.8,500.5 543.0,500.8 543.3,499.4 543.5,497.4 543.7,496.8 544.0,498.4 544.2,492.6 544.4,498.4 544.7,497.0 544.9,494.9 545.2,502.4 545.4,501.3 545.6,501.4 545.9,501.0 546.1,497.4 546.3,500.8 546.6,498.9 546.8,496.7 547.0,499.4 547.3,499.6 547.5,499.4 547.7,501.2 548.0,504.8 548.2,498.2 548.4,499.7 548.7,496.9 548.9,501.3 549.1,500.9 549.4,497.2 549.6,496.6 549.8,495.8 550.1,501.0 550.3,501.1 550.5,500.9 550.8,498.2 551.0,501.1 551.2,501.0 551.5,498.5 551.7,499.9 551.9,501.7 552.2,499.7 552.4,500.8 552.6,500.5 552.9,496.7 553.1,496.7 553.3,497.8 553.6,500.7 553.8,500.4 554.0,491.1 554.3,499.4 554.5,500.1 554.7,498.1 555.0,501.7 555.2,494.2 555.4,497.6 555.7,499.8 555.9,497.8 556.2,498.4 556.4,501.2 556.6,500.2 556.9,497.3 557.1,502.3 557.3,498.6 557.6,500.6 557.8,499.3 558.0,500.4 558.3,499.2 558.5,498.9 558.7,497.2 559.0,498.1 559.2,497.0 559.4,496.8 559.7,498.3 559.9,496.8 560.1,499.1 560.4,499.1 560.6,500.2 560.8,499.5 561.1,492.2 561.3,497.5 561.5,497.0 561.8,496.2 562.0,497.4 562.2,499.6 562.5,501.0 562.7,498.2 562.9,498.4 563.2,500.1 563.4,500.5 563.6,500.3 563.9,499.3 564.1,500.6 564.3,498.6 564.6,499.0 564.8,498.9 565.0,498.6 565.3,499.4 565.5,500.6 565.7,497.6 566.0,496.3 566.2,497.6 566.4,495.8 566.7,496.9 566.9,501.1 567.2,496.1 567.4,498.4 567.6,495.9 567.9,500.1 568.1,500.2 568.3,498.1 568.6,500.0 568.8,501.4 569.0,501.3 569.3,497.5 569.5,498.1 569.7,497.0 570.0,497.5 570.2,496.5 570.4,496.8 570.7,498.4 570.9,499.8 571.1,503.8 571.4,492.7 571.6,498.3 571.8,496.3 572.1,495.6 572.3,498.8 572.5,496.9 572.8,498.4 573.0,496.4 573.2,498.1 573.5,495.3 573.7,497.5 573.9,500.6 574.2,498.4 574.4,492.0 574.6,499.2 574.9,499.3 575.1,499.2 575.3,499.2 575.6,496.1 575.8,498.9 576.0,497.1 576.3,498.8 576.5,496.8 576.7,498.0 577.0,503.3 577.2,499.2 577.4,493.5 577.7,499.7 577.9,497.6 578.2,496.0 578.4,496.6 578.6,499.0 578.9,500.6 579.1,500.2 579.3,495.5 579.6,497.9 579.8,498.4 580.0,496.4 580.3,498.7 580.5,496.7 580.7,499.8 581.0,499.8 581.2,497.5 581.4,497.9 581.7,501.0 581.9,497.1 582.1,500.3 582.4,499.8 582.6,496.1 582.8,495.1 583.1,498.6 583.3,499.9 583.5,497.4 583.8,500.9 584.0,497.0 584.2,497.1 584.5,496.5 584.7,506.7 584.9,500.7 585.2,501.6 585.4,497.6 585.6,499.1 585.9,499.9 586.1,498.0 586.3,502.3 586.6,498.8 586.8,496.8 587.0,498.4 587.3,496.8 587.5,505.6 587.7,496.8 588.0,501.0 588.2,497.0 588.4,496.5 588.7,499.7 588.9,497.0 589.2,501.5 589.4,496.2 589.6,498.8 589.9,497.2 590.1,500.7 590.3,498.6 590.6,497.7 590.8,500.1 591.0,499.8 591.3,498.7 591.5,497.3 591.7,496.9 592.0,498.8 592.2,500.0 592.4,499.5 592.7,497.2 592.9,498.8 593.1,496.2 593.4,500.8 593.6,501.3 593.8,500.2 594.1,500.0 594.3,498.5 594.5,499.1 594.8,496.6 595.0,503.1 595.2,498.5 595.5,499.7 595.7,500.6 595.9,500.2 596.2,496.6 596.4,499.3 596.6,495.8 596.9,497.5 597.1,500.8 597.3,501.8 597.6,496.6 597.8,500.8 598.0,498.7 598.3,499.8 598.5,498.7 598.7,497.7 599.0,499.2 599.2,497.6 599.4,501.4 599.7,500.2 599.9,500.2 600.2,500.4 600.4,497.4 600.6,501.0 600.9,499.1 601.1,502.3 601.3,501.1 601.6,499.8 601.8,498.4 602.0,500.9 602.3,500.2 602.5,504.9 602.7,497.4 603.0,498.1 603.2,500.1 603.4,498.3 603.7,499.1 603.9,500.5 604.1,495.4 604.4,496.4 604.6,496.4 604.8,495.7 605.1,497.1 605.3,500.9 605.5,498.2 605.8,499.5 606.0,504.3 606.2,499.9 606.5,495.8 606.7,498.5 606.9,500.0 607.2,499.8 607.4,498.5 607.6,500.8 607.9,501.4 608.1,497.8 608.3,497.2 608.6,501.0 608.8,499.4 609.0,496.7 609.3,499.0 609.5,500.2 609.7,498.1 610.0,498.5 610.2,501.5 610.4,500.8 610.7,505.5 610.9,499.2 611.2,499.2 611.4,501.7 611.6,498.7 611.9,502.0 612.1,502.6 612.3,499.3 612.6,500.0 612.8,497.5 613.0,503.1 613.3,500.6 613.5,501.1 613.7,502.6 614.0,502.2 614.2,502.1 614.4,503.6 614.7,501.0 614.9,498.4 615.1,497.8 615.4,499.0 615.6,498.7 615.8,499.5 616.1,497.2 616.3,497.6 616.5,497.8 616.8,497.6 617.0,493.2 617.2,499.7 617.5,499.3 617.7,499.0 617.9,497.0 618.2,499.6 618.4,500.5 618.6,500.5 618.9,497.0 619.1,474.3 619.3,475.9 619.6,476.0 619.8,475.4 620.0,470.7 620.3,470.5 620.5,469.6 620.7,473.6 621.0,474.4 621.2,469.3 621.4,475.1 621.7,477.9 621.9,477.5 622.1,483.5 622.4,472.6 622.6,470.0 622.9,477.5 623.1,473.0 623.3,473.2 623.6,473.0 623.8,476.4 624.0,477.9 624.3,477.8 624.5,476.9 624.7,473.3 625.0,477.9 625.2,472.7 625.4,473.1 625.7,479.3 625.9,471.3 626.1,479.4 626.4,472.8 626.6,475.4 626.8,477.9 627.1,478.5 627.3,475.4 627.5,464.7 627.8,479.8 628.0,473.6 628.2,471.5 628.5,471.8 628.7,472.9 628.9,474.6 629.2,471.0 629.4,472.8 629.6,467.9 629.9,470.0 630.1,473.8 630.3,469.6 630.6,474.5 630.8,472.4 631.0,478.2 631.3,479.4 631.5,478.1 631.7,477.8 632.0,499.5 632.2,495.4 632.4,496.9 632.7,497.8 632.9,500.8 633.1,499.2 633.4,502.3 633.6,500.7 633.9,498.8 634.1,500.9 634.3,494.1 634.6,496.3 634.8,497.2 635.0,497.5 635.3,497.9 635.5,502.2 635.7,497.5 636.0,497.4 636.2,499.6 636.4,498.7 636.7,499.4 636.9,501.1 637.1,496.2 637.4,498.9 637.6,500.2 637.8,497.3 638.1,500.6 638.3,495.5 638.5,499.8 638.8,499.5 639.0,497.7 639.2,499.0 639.5,505.0 639.7,497.6 639.9,496.3 640.2,500.4 640.4,501.7 640.6,498.5 640.9,499.5 641.1,497.3 641.3,498.9 641.6,501.8 641.8,501.1 642.0,498.6 642.3,496.4 642.5,495.7 642.7,499.1 643.0,498.9 643.2,500.9 643.4,497.6 643.7,497.0 643.9,498.5 644.1,496.9 644.4,496.8 644.6,500.2 644.9,498.5 645.1,497.3 645.3,496.2 645.6,496.5 645.8,497.0 646.0,497.0 646.3,497.5 646.5,497.0 646.7,495.8 647.0,498.2 647.2,499.4 647.4,497.4 647.7,500.7 647.9,499.4 648.1,497.4 648.4,500.5 648.6,499.8 648.8,498.2 649.1,494.7 649.3,498.3 649.5,500.6 649.8,497.2 650.0,499.7 650.2,499.0 650.5,496.4 650.7,497.9 650.9,499.2 651.2,499.9 651.4,500.9 651.6,496.8 651.9,501.7 652.1,498.1 652.3,499.2 652.6,500.4 652.8,497.7 653.0,498.9 653.3,499.3 653.5,499.6 653.7,498.5 654.0,498.1 654.2,499.0 654.4,497.2 654.7,498.7 654.9,501.2 655.1,497.4 655.4,497.3 655.6,500.5 655.9,497.7 656.1,499.8 656.3,505.3 656.6,498.4 656.8,500.8 657.0,500.0 657.3,499.6 657.5,501.7 657.7,497.0 658.0,499.9 658.2,496.9 658.4,501.8 658.7,497.9 658.9,501.1 659.1,499.0 659.4,499.2 659.6,498.5 659.8,500.8 660.1,496.7 660.3,500.0 660.5,499.9 660.8,500.6 661.0,495.6 661.2,497.9 661.5,500.7 661.7,497.4 661.9,500.5 662.2,497.5 662.4,501.1 662.6,498.2 662.9,502.1 663.1,496.9 663.3,497.1 663.6,499.7 663.8,499.2 664.0,499.7 664.3,501.0 664.5,501.4 664.7,501.5 665.0,501.1 665.2,500.7 665.4,497.5 665.7,496.7 665.9,498.9 666.1,498.3 666.4,498.1 666.6,501.0 666.9,499.6 667.1,499.0 667.3,500.8 667.6,501.0 667.8,500.7 668.0,502.6 668.3,500.3 668.5,502.0 668.7,499.4 669.0,498.1 669.2,492.8 669.4,488.5 669.7,489.3 669.9,491.8 670.1,489.7 670.4,494.9 670.6,488.3 670.8,493.5 671.1,486.0 671.3,491.2 671.5,492.6 671.8,485.5 672.0,490.8 672.2,489.5 672.5,489.5 672.7,490.3 672.9,490.3 673.2,493.2 673.4,498.7 673.6,488.6 673.9,488.0 674.1,487.6 674.3,490.3 674.6,491.9 674.8,487.6 675.0,488.9 675.3,494.1 675.5,493.5 675.7,493.0 676.0,493.9 676.2,487.5 676.4,491.6 676.7,490.0 676.9,493.8 677.1,493.9 677.4,489.0 677.6,486.2 677.9,492.2 678.1,487.8 678.3,485.8 678.6,486.1 678.8,491.9 679.0,492.4 679.3,485.1 679.5,488.0 679.7,487.3 680.0,483.6 680.2,487.3 680.4,485.7 680.7,484.4 680.9,493.9 681.1,489.2 681.4,487.3 681.6,492.2 681.8,503.4 682.1,494.0 682.3,494.6 682.5,486.7 682.8,494.3 683.0,491.1" fill="none" stroke="#37AD6B" stroke-width="1.6" stroke-linejoin="round"/>
<path d="M74.5,363.0 74.7,364.1 75.0,364.6 75.2,362.4 75.4,355.8 75.7,359.9 75.9,356.7 76.1,378.7 76.4,369.8 76.6,360.0 76.8,360.0 77.1,383.0 77.3,348.5 77.5,355.7 77.8,364.4 78.0,371.7 78.2,363.7 78.5,381.7 78.7,369.4 78.9,365.9 79.2,354.8 79.4,354.8 79.6,376.1 79.9,376.1 80.1,387.2 80.4,385.0 80.6,394.2 80.8,389.4 81.1,385.7 81.3,389.6 81.5,389.5 81.8,392.8 82.0,383.7 82.2,400.3 82.5,386.0 82.7,399.8 82.9,394.0 83.2,381.2 83.4,396.6 83.6,387.4 83.9,384.8 84.1,392.4 84.3,397.7 84.6,397.0 84.8,390.9 85.0,396.3 85.3,398.0 85.5,397.6 85.7,392.8 86.0,393.8 86.2,389.4 86.4,390.6 86.7,389.9 86.9,389.5 87.1,388.5 87.4,386.6 87.6,389.7 87.8,388.1 88.1,390.0 88.3,383.7 88.5,387.9 88.8,389.7 89.0,388.7 89.2,387.9 89.5,389.7 89.7,388.3 89.9,388.0 90.2,389.3 90.4,389.8 90.6,392.5 90.9,399.1 91.1,391.1 91.4,393.7 91.6,385.9 91.8,384.6 92.1,387.2 92.3,385.2 92.5,386.0 92.8,387.6 93.0,387.3 93.2,388.4 93.5,390.5 93.7,386.2 93.9,387.4 94.2,383.9 94.4,386.6 94.6,384.4 94.9,392.0 95.1,391.4 95.3,390.4 95.6,389.2 95.8,384.8 96.0,390.9 96.3,390.3 96.5,388.8 96.7,391.6 97.0,386.2 97.2,389.6 97.4,395.5 97.7,389.4 97.9,390.3 98.1,387.0 98.4,385.6 98.6,388.2 98.8,384.1 99.1,370.0 99.3,431.3 99.5,431.3 99.8,437.0 100.0,444.4 100.2,441.8 100.5,448.5 100.7,448.5 100.9,434.6 101.2,445.5 101.4,433.4 101.6,447.2 101.9,433.3 102.1,415.7 102.4,425.8 102.6,425.8 102.8,416.7 103.1,416.7 103.3,416.7 103.5,405.5 103.8,422.2 104.0,426.0 104.2,412.2 104.5,424.9 104.7,411.9 104.9,405.8 105.2,427.1 105.4,427.1 105.6,429.2 105.9,408.6 106.1,419.7 106.3,415.1 106.6,414.8 106.8,418.1 107.0,421.7 107.3,418.4 107.5,419.2 107.7,419.2 108.0,407.1 108.2,414.0 108.4,418.7 108.7,427.8 108.9,413.0 109.1,419.4 109.4,412.4 109.6,401.5 109.8,413.7 110.1,413.5 110.3,413.5 110.5,407.2 110.8,407.2 111.0,418.5 111.2,411.4 111.5,407.5 111.7,407.5 111.9,420.9 112.2,405.5 112.4,405.5 112.6,403.2 112.9,395.4 113.1,385.0 113.4,422.0 113.6,401.3 113.8,406.1 114.1,406.1 114.3,406.1 114.5,416.2 114.8,408.6 115.0,408.6 115.2,411.2 115.5,407.1 115.7,393.2 115.9,393.2 116.2,393.7 116.4,412.3 116.6,382.8 116.9,410.7 117.1,396.5 117.3,411.1 117.6,414.2 117.8,399.6 118.0,405.9 118.3,407.6 118.5,405.8 118.7,415.3 119.0,385.2 119.2,410.0 119.4,415.9 119.7,404.2 119.9,411.5 120.1,411.2 120.4,412.0 120.6,414.7 120.8,412.7 121.1,417.3 121.3,414.6 121.5,415.6 121.8,412.3 122.0,413.5 122.2,414.4 122.5,410.1 122.7,414.6 122.9,411.9 123.2,411.8 123.4,411.4 123.6,419.8 123.9,413.0 124.1,419.4 124.4,416.6 124.6,415.0 124.8,416.4 125.1,407.5 125.3,398.7 125.5,407.5 125.8,404.2 126.0,401.4 126.2,406.4 126.5,406.5 126.7,403.5 126.9,406.5 127.2,407.1 127.4,402.7 127.6,406.1 127.9,400.9 128.1,403.7 128.3,402.4 128.6,407.9 128.8,403.2 129.0,406.6 129.3,408.0 129.5,405.8 129.7,404.7 130.0,403.8 130.2,402.7 130.4,406.8 130.7,405.6 130.9,403.3 131.1,403.8 131.4,406.9 131.6,405.5 131.8,402.2 132.1,405.2 132.3,406.1 132.5,401.5 132.8,404.5 133.0,404.9 133.2,403.9 133.5,400.2 133.7,403.8 133.9,364.0 134.2,404.8 134.4,400.4 134.6,401.7 134.9,404.9 135.1,406.0 135.3,401.3 135.6,402.2 135.8,402.0 136.1,404.4 136.3,406.6 136.5,401.8 136.8,402.6 137.0,407.1 137.2,398.2 137.5,404.1 137.7,407.2 137.9,345.0 138.2,403.4 138.4,403.8 138.6,404.9 138.9,403.9 139.1,405.6 139.3,407.6 139.6,404.8 139.8,405.3 140.0,427.8 140.3,417.1 140.5,422.5 140.7,421.0 141.0,415.0 141.2,421.5 141.4,414.3 141.7,421.3 141.9,425.1 142.1,416.3 142.4,424.5 142.6,423.9 142.8,416.6 143.1,421.1 143.3,416.5 143.5,413.9 143.8,420.4 144.0,426.7 144.2,423.3 144.5,414.5 144.7,426.3 144.9,422.4 145.2,419.2 145.4,426.9 145.6,418.9 145.9,420.5 146.1,419.2 146.3,418.4 146.6,421.1 146.8,417.3 147.1,426.0 147.3,421.6 147.5,416.3 147.8,421.1 148.0,415.7 148.2,438.4 148.5,435.2 148.7,439.4 148.9,436.7 149.2,436.0 149.4,433.1 149.6,434.7 149.9,434.7 150.1,433.2 150.3,436.8 150.6,437.6 150.8,434.4 151.0,435.9 151.3,434.7 151.5,439.5 151.7,436.4 152.0,433.1 152.2,434.7 152.4,432.6 152.7,437.1 152.9,438.3 153.1,436.6 153.4,433.0 153.6,437.3 153.8,430.2 154.1,439.5 154.3,433.9 154.5,439.6 154.8,439.2 155.0,437.4 155.2,437.7 155.5,429.1 155.7,432.0 155.9,433.5 156.2,379.3 156.4,375.4 156.6,380.3 156.9,376.9 157.1,378.6 157.3,372.5 157.6,374.4 157.8,373.1 158.1,378.7 158.3,376.1 158.5,381.0 158.8,381.0 159.0,382.0 159.2,379.6 159.5,375.7 159.7,379.1 159.9,381.4 160.2,380.1 160.4,388.8 160.6,374.3 160.9,381.7 161.1,385.7 161.3,387.8 161.6,385.1 161.8,389.4 162.0,385.6 162.3,385.0 162.5,391.2 162.7,393.8 163.0,394.4 163.2,388.6 163.4,386.2 163.7,396.2 163.9,386.4 164.1,386.2 164.4,392.9 164.6,387.6 164.8,397.1 165.1,390.9 165.3,396.7 165.5,394.8 165.8,391.3 166.0,397.1 166.2,390.7 166.5,385.1 166.7,390.9 166.9,391.1 167.2,386.7 167.4,389.0 167.6,387.2 167.9,392.7 168.1,388.3 168.3,384.9 168.6,393.8 168.8,386.0 169.1,387.1 169.3,389.1 169.5,392.2 169.8,388.7 170.0,384.5 170.2,401.9 170.5,397.2 170.7,397.3 170.9,401.0 171.2,397.2 171.4,398.8 171.6,402.8 171.9,399.4 172.1,400.9 172.3,398.3 172.6,396.3 172.8,401.3 173.0,399.6 173.3,396.6 173.5,404.3 173.7,402.2 174.0,400.8 174.2,402.6 174.4,395.8 174.7,397.9 174.9,401.7 175.1,404.3 175.4,399.0 175.6,403.8 175.8,399.9 176.1,403.2 176.3,402.9 176.5,401.0 176.8,399.4 177.0,427.8 177.2,423.7 177.5,433.5 177.7,423.3 177.9,422.2 178.2,423.3 178.4,427.9 178.6,419.2 178.9,423.4 179.1,424.8 179.3,423.7 179.6,426.3 179.8,419.5 180.1,429.3 180.3,421.0 180.5,421.4 180.8,428.9 181.0,428.1 181.2,429.7 181.5,427.2 181.7,422.4 181.9,422.6 182.2,423.4 182.4,428.4 182.6,424.4 182.9,424.8 183.1,421.2 183.3,422.0 183.6,426.0 183.8,427.1 184.0,427.8 184.3,421.7 184.5,424.9 184.7,420.5 185.0,422.6 185.2,420.9 185.4,426.8 185.7,421.1 185.9,424.9 186.1,421.7 186.4,428.2 186.6,421.1 186.8,423.1 187.1,419.0 187.3,427.7 187.5,422.4 187.8,420.8 188.0,426.8 188.2,423.6 188.5,418.0 188.7,425.1 188.9,429.1 189.2,422.4 189.4,423.4 189.6,426.6 189.9,426.2 190.1,421.9 190.3,427.0 190.6,423.0 190.8,422.8 191.1,426.3 191.3,426.1 191.5,423.4 191.8,427.6 192.0,421.8 192.2,425.1 192.5,427.7 192.7,431.1 192.9,422.1 193.2,424.5 193.4,417.8 193.6,423.0 193.9,421.9 194.1,423.0 194.3,423.3 194.6,420.8 194.8,423.9 195.0,424.0 195.3,420.7 195.5,420.8 195.7,421.7 196.0,423.5 196.2,425.7 196.4,424.1 196.7,428.6 196.9,428.5 197.1,426.3 197.4,425.2 197.6,425.7 197.8,420.8 198.1,441.9 198.3,442.7 198.5,440.5 198.8,442.8 199.0,435.6 199.2,439.2 199.5,435.8 199.7,439.2 199.9,438.6 200.2,437.0 200.4,441.8 200.6,441.0 200.9,443.6 201.1,442.8 201.3,441.7 201.6,439.2 201.8,438.7 202.1,442.9 202.3,441.5 202.5,440.0 202.8,438.4 203.0,442.0 203.2,440.5 203.5,442.0 203.7,443.1 203.9,442.5 204.2,438.2 204.4,442.6 204.6,439.9 204.9,442.6 205.1,438.0 205.3,438.0 205.6,437.2 205.8,441.8 206.0,432.2 206.3,435.1 206.5,432.0 206.7,431.7 207.0,433.0 207.2,436.4 207.4,435.4 207.7,436.2 207.9,436.8 208.1,436.5 208.4,437.4 208.6,433.0 208.8,432.2 209.1,436.3 209.3,432.9 209.5,435.8 209.8,434.5 210.0,437.4 210.2,436.9 210.5,435.3 210.7,433.9 210.9,437.6 211.2,437.0 211.4,435.9 211.6,438.2 211.9,436.2 212.1,453.2 212.3,450.5 212.6,451.4 212.8,451.1 213.1,451.2 213.3,446.0 213.5,451.5 213.8,453.5 214.0,451.2 214.2,454.8 214.5,451.8 214.7,451.3 214.9,451.3 215.2,452.4 215.4,451.3 215.6,449.1 215.9,451.9 216.1,450.1 216.3,450.4 216.6,450.6 216.8,452.5 217.0,451.4 217.3,451.7 217.5,454.2 217.7,453.6 218.0,451.9 218.2,451.1 218.4,449.8 218.7,451.7 218.9,451.3 219.1,454.6 219.4,450.2 219.6,451.3 219.8,452.8 220.1,455.5 220.3,453.0 220.5,456.0 220.8,452.1 221.0,448.7 221.2,452.9 221.5,451.4 221.7,450.3 221.9,450.6 222.2,450.7 222.4,454.3 222.6,453.4 222.9,452.3 223.1,454.0 223.3,451.4 223.6,449.5 223.8,449.1 224.1,451.8 224.3,454.7 224.5,455.0 224.8,456.3 225.0,450.2 225.2,456.3 225.5,456.7 225.7,451.5 225.9,451.7 226.2,455.1 226.4,454.7 226.6,456.6 226.9,453.5 227.1,454.0 227.3,454.1 227.6,466.7 227.8,464.8 228.0,466.0 228.3,464.0 228.5,463.2 228.7,466.2 229.0,463.1 229.2,464.6 229.4,463.9 229.7,466.7 229.9,465.8 230.1,466.0 230.4,464.2 230.6,463.8 230.8,463.9 231.1,464.2 231.3,462.1 231.5,466.7 231.8,466.2 232.0,465.2 232.2,465.9 232.5,472.8 232.7,464.0 232.9,467.6 233.2,463.1 233.4,465.6 233.6,463.8 233.9,467.2 234.1,472.7 234.3,468.4 234.6,473.2 234.8,468.1 235.1,471.8 235.3,471.2 235.5,468.5 235.8,471.4 236.0,471.0 236.2,472.5 236.5,475.9 236.7,466.3 236.9,469.5 237.2,472.9 237.4,472.5 237.6,469.6 237.9,470.3 238.1,469.1 238.3,472.3 238.6,472.4 238.8,468.7 239.0,468.3 239.3,472.0 239.5,470.2 239.7,472.5 240.0,472.8 240.2,472.3 240.4,470.2 240.7,473.5 240.9,473.6 241.1,470.2 241.4,472.1 241.6,471.8 241.8,477.1 242.1,478.2 242.3,475.5 242.5,479.5 242.8,475.4 243.0,477.4 243.2,475.6 243.5,477.4 243.7,478.3 243.9,475.4 244.2,478.6 244.4,480.1 244.6,480.2 244.9,477.8 245.1,475.3 245.3,475.2 245.6,478.8 245.8,473.5 246.1,478.8 246.3,475.3 246.5,476.4 246.8,482.5 247.0,475.8 247.2,477.2 247.5,478.5 247.7,478.8 247.9,477.9 248.2,475.9 248.4,479.1 248.6,478.2 248.9,476.5 249.1,473.3 249.3,472.5 249.6,470.2 249.8,474.3 250.0,474.9 250.3,473.2 250.5,465.9 250.7,469.4 251.0,474.7 251.2,470.9 251.4,473.4 251.7,471.3 251.9,472.9 252.1,471.4 252.4,474.6 252.6,475.8 252.8,472.4 253.1,474.4 253.3,472.6 253.5,470.5 253.8,471.1 254.0,467.8 254.2,473.1 254.5,472.3 254.7,473.4 254.9,474.1 255.2,475.5 255.4,471.5 255.6,474.0 255.9,472.2 256.1,473.3 256.3,473.1 256.6,471.9 256.8,474.0 257.0,479.1 257.3,480.3 257.5,481.0 257.8,481.6 258.0,478.6 258.2,481.5 258.5,481.9 258.7,478.8 258.9,482.1 259.2,478.6 259.4,481.5 259.6,481.5 259.9,478.9 260.1,482.2 260.3,482.6 260.6,480.8 260.8,478.0 261.0,480.3 261.3,481.6 261.5,482.5 261.7,482.2 262.0,481.2 262.2,484.1 262.4,479.4 262.7,479.9 262.9,481.6 263.1,477.9 263.4,482.2 263.6,479.4 263.8,479.7 264.1,478.2 264.3,478.2 264.5,479.9 264.8,478.1 265.0,480.0 265.2,482.5 265.5,481.9 265.7,479.9 265.9,479.5 266.2,479.3 266.4,479.3 266.6,481.1 266.9,479.0 267.1,481.6 267.3,477.8 267.6,477.4 267.8,477.7 268.0,484.9 268.3,478.0 268.5,478.3 268.8,476.2 269.0,479.5 269.2,479.0 269.5,480.5 269.7,481.0 269.9,479.7 270.2,481.2 270.4,478.4 270.6,480.5 270.9,491.7 271.1,485.9 271.3,489.6 271.6,485.0 271.8,485.1 272.0,487.1 272.3,486.2 272.5,490.4 272.7,491.3 273.0,483.9 273.2,486.7 273.4,487.9 273.7,493.0 273.9,492.3 274.1,492.5 274.4,492.6 274.6,491.4 274.8,485.5 275.1,493.2 275.3,484.9 275.5,490.5 275.8,489.7 276.0,490.5 276.2,490.7 276.5,486.0 276.7,492.6 276.9,483.7 277.2,489.7 277.4,487.5 277.6,491.7 277.9,492.0 278.1,488.3 278.3,487.0 278.6,487.8 278.8,490.4 279.0,487.4 279.3,492.7 279.5,491.0 279.8,491.0 280.0,492.0 280.2,499.3 280.5,483.9 280.7,486.2 280.9,490.2 281.2,479.9 281.4,486.6 281.6,486.5 281.9,488.7 282.1,489.1 282.3,492.3 282.6,485.6 282.8,479.4 283.0,488.0 283.3,487.2 283.5,486.4 283.7,488.4 284.0,489.5 284.2,487.5 284.4,487.1 284.7,487.3 284.9,499.2 285.1,500.3 285.4,497.1 285.6,494.3 285.8,495.7 286.1,499.9 286.3,500.1 286.5,497.4 286.8,497.2 287.0,501.0 287.2,496.3 287.5,497.8 287.7,497.3 287.9,496.3 288.2,497.7 288.4,495.1 288.6,498.1 288.9,500.0 289.1,496.4 289.3,495.1 289.6,498.0 289.8,497.2 290.0,498.8 290.3,496.0 290.5,494.8 290.8,506.9 291.0,497.8 291.2,493.6 291.5,495.1 291.7,495.1 291.9,499.4 292.2,499.2 292.4,499.3 292.6,499.7 292.9,498.2 293.1,499.0 293.3,499.4 293.6,496.8 293.8,498.1 294.0,491.1 294.3,499.2 294.5,498.5 294.7,492.7 295.0,499.4 295.2,496.0 295.4,499.2 295.7,496.4 295.9,490.8 296.1,494.1 296.4,499.1 296.6,490.3 296.8,495.1 297.1,495.4 297.3,493.8 297.5,496.5 297.8,499.0 298.0,500.5 298.2,494.7 298.5,495.5 298.7,498.2 298.9,496.5 299.2,498.4 299.4,497.0 299.6,499.2 299.9,496.5 300.1,499.2 300.3,498.4 300.6,500.9 300.8,498.9 301.0,498.8 301.3,498.1 301.5,498.7 301.8,497.3 302.0,498.9 302.2,499.2 302.5,497.1 302.7,494.1 302.9,502.5 303.2,501.0 303.4,501.7 303.6,499.4 303.9,502.5 304.1,499.8 304.3,500.7 304.6,499.7 304.8,498.1 305.0,500.0 305.3,498.1 305.5,497.4 305.7,500.4 306.0,501.5 306.2,498.5 306.4,499.3 306.7,502.2 306.9,501.5 307.1,501.7 307.4,502.1 307.6,500.5 307.8,498.6 308.1,497.5 308.3,496.8 308.5,496.8 308.8,500.9 309.0,501.4 309.2,503.2 309.5,502.4 309.7,500.6 309.9,500.0 310.2,499.3 310.4,500.5 310.6,502.7 310.9,502.5 311.1,501.5 311.3,498.2 311.6,498.6 311.8,498.7 312.0,501.5 312.3,501.3 312.5,500.5 312.8,502.5 313.0,499.1 313.2,498.7 313.5,502.1 313.7,500.4 313.9,501.0 314.2,500.9 314.4,499.2 314.6,499.4 314.9,501.5 315.1,500.2 315.3,502.3 315.6,498.7 315.8,499.5 316.0,500.9 316.3,502.2 316.5,502.1 316.7,499.7 317.0,503.1 317.2,502.0 317.4,499.4 317.7,503.5 317.9,502.4 318.1,498.7 318.4,499.9 318.6,500.4 318.8,499.3 319.1,500.1 319.3,501.9 319.5,499.6 319.8,498.4 320.0,498.9 320.2,501.1 320.5,497.9 320.7,501.1 320.9,503.6 321.2,499.9 321.4,499.6 321.6,499.2 321.9,495.6 322.1,497.4 322.3,501.9 322.6,499.4 322.8,498.4 323.0,498.0 323.3,500.7 323.5,499.4 323.8,499.2 324.0,502.3 324.2,500.9 324.5,502.0 324.7,502.7 324.9,504.6 325.2,498.2 325.4,501.3 325.6,499.8 325.9,499.3 326.1,497.1 326.3,500.5 326.6,501.0 326.8,497.5 327.0,498.6 327.3,499.9 327.5,497.2 327.7,497.7 328.0,501.1 328.2,502.4 328.4,493.3 328.7,501.0 328.9,501.2 329.1,498.7 329.4,501.2 329.6,501.4 329.8,498.8 330.1,499.5 330.3,499.6 330.5,501.0 330.8,500.3 331.0,501.9 331.2,500.5 331.5,498.1 331.7,498.4 331.9,498.6 332.2,499.4 332.4,503.6 332.6,501.9 332.9,506.2 333.1,502.2 333.3,501.2 333.6,502.6 333.8,500.8 334.0,501.9 334.3,500.7 334.5,498.6 334.8,503.4 335.0,503.1 335.2,502.6 335.5,502.5 335.7,502.0 335.9,500.6 336.2,501.0 336.4,499.3 336.6,501.9 336.9,501.4 337.1,493.9 337.3,498.8 337.6,499.1 337.8,499.6 338.0,501.0 338.3,502.1 338.5,500.5 338.7,500.8 339.0,498.6 339.2,502.2 339.4,499.4 339.7,497.4 339.9,500.4 340.1,499.8 340.4,497.6 340.6,502.8 340.8,498.4 341.1,502.9 341.3,499.3 341.5,501.6 341.8,496.3 342.0,500.5 342.2,501.4 342.5,505.6 342.7,497.9 342.9,502.7 343.2,499.4 343.4,502.0 343.6,500.5 343.9,502.3 344.1,501.7 344.3,502.1 344.6,501.8 344.8,502.5 345.0,501.5 345.3,499.6 345.5,498.9 345.8,499.9 346.0,498.7 346.2,500.3 346.5,497.6 346.7,502.0 346.9,499.0 347.2,498.8 347.4,503.0 347.6,498.3 347.9,499.8 348.1,496.9 348.3,497.7 348.6,498.6 348.8,501.6 349.0,501.2 349.3,498.0 349.5,495.5 349.7,500.6 350.0,500.9 350.2,501.1 350.4,499.0 350.7,502.7 350.9,503.0 351.1,495.2 351.4,500.2 351.6,499.1 351.8,502.9 352.1,499.8 352.3,498.3 352.5,501.5 352.8,499.4 353.0,499.9 353.2,501.7 353.5,498.6 353.7,501.8 353.9,498.9 354.2,503.6 354.4,499.1 354.6,502.8 354.9,498.2 355.1,500.8 355.3,501.3 355.6,501.7 355.8,500.3 356.0,499.5 356.3,496.7 356.5,498.3 356.8,499.7 357.0,498.4 357.2,497.9 357.5,499.7 357.7,498.9 357.9,498.7 358.2,500.7 358.4,497.5 358.6,501.3 358.9,499.6 359.1,500.5 359.3,501.5 359.6,499.5 359.8,502.6 360.0,504.4 360.3,499.4 360.5,499.8 360.7,500.1 361.0,497.7 361.2,499.5 361.4,502.3 361.7,500.0 361.9,502.4 362.1,501.1 362.4,501.9 362.6,500.6 362.8,503.2 363.1,500.9 363.3,500.6 363.5,499.6 363.8,500.6 364.0,497.2 364.2,502.2 364.5,501.4 364.7,502.3 364.9,495.8 365.2,502.0 365.4,501.1 365.6,501.7 365.9,502.5 366.1,498.3 366.3,499.3 366.6,501.1 366.8,501.5 367.0,503.1 367.3,501.4 367.5,499.8 367.8,502.3 368.0,500.3 368.2,501.8 368.5,497.7 368.7,498.0 368.9,501.7 369.2,498.2 369.4,499.0 369.6,494.4 369.9,498.8 370.1,498.8 370.3,501.4 370.6,499.7 370.8,501.9 371.0,499.3 371.3,503.4 371.5,499.8 371.7,501.8 372.0,502.9 372.2,497.9 372.4,496.9 372.7,500.9 372.9,500.4 373.1,499.6 373.4,497.4 373.6,501.0 373.8,498.9 374.1,499.8 374.3,499.4 374.5,496.0 374.8,496.7 375.0,497.8 375.2,499.3 375.5,500.1 375.7,499.1 375.9,500.7 376.2,499.1 376.4,501.0 376.6,500.6 376.9,498.6 377.1,498.9 377.3,501.5 377.6,497.2 377.8,497.4 378.0,502.1 378.3,501.0 378.5,499.8 378.8,497.7 379.0,499.2 379.2,501.6 379.5,499.0 379.7,501.0 379.9,498.8 380.2,499.6 380.4,500.7 380.6,498.5 380.9,500.0 381.1,500.0 381.3,501.0 381.6,497.9 381.8,502.6 382.0,499.9 382.3,499.7 382.5,502.0 382.7,497.7 383.0,496.4 383.2,497.2 383.4,499.6 383.7,501.1 383.9,501.5 384.1,498.7 384.4,500.3 384.6,498.2 384.8,499.5 385.1,499.4 385.3,496.0 385.5,496.8 385.8,498.0 386.0,498.6 386.2,497.1 386.5,499.8 386.7,498.1 386.9,496.1 387.2,498.8 387.4,499.3 387.6,497.3 387.9,500.3 388.1,489.6 388.3,496.0 388.6,494.1 388.8,489.2 389.0,490.8 389.3,491.8 389.5,489.5 389.7,493.0 390.0,490.8 390.2,493.3 390.5,489.3 390.7,494.1 390.9,494.5 391.2,493.6 391.4,493.6 391.6,489.4 391.9,491.8 392.1,495.5 392.3,493.1 392.6,494.8 392.8,491.6 393.0,493.8 393.3,485.4 393.5,492.6 393.7,493.8 394.0,495.6 394.2,490.4 394.4,493.3 394.7,495.4 394.9,494.8 395.1,496.5 395.4,491.3 395.6,492.0 395.8,492.8 396.1,497.4 396.3,491.7 396.5,491.5 396.8,490.6 397.0,493.6 397.2,493.2 397.5,492.6 397.7,488.8 397.9,492.4 398.2,498.0 398.4,499.4 398.6,501.5 398.9,497.3 399.1,501.1 399.3,501.6 399.6,501.0 399.8,499.6 400.0,500.5 400.3,502.3 400.5,498.6 400.7,500.0 401.0,501.5 401.2,499.0 401.5,500.1 401.7,500.8 401.9,502.8 402.2,502.3 402.4,498.6 402.6,501.1 402.9,499.5 403.1,498.2 403.3,502.1 403.6,501.1 403.8,502.1 404.0,497.7 404.3,498.7 404.5,500.7 404.7,497.7 405.0,501.5 405.2,502.4 405.4,500.9 405.7,499.8 405.9,500.3 406.1,499.0 406.4,503.3 406.6,503.3 406.8,502.7 407.1,500.8 407.3,499.5 407.5,501.7 407.8,500.3 408.0,503.4 408.2,500.2 408.5,502.5 408.7,501.0 408.9,500.7 409.2,498.0 409.4,502.0 409.6,498.2 409.9,499.8 410.1,497.9 410.3,497.4 410.6,498.7 410.8,499.0 411.0,497.9 411.3,499.2 411.5,501.6 411.7,499.5 412.0,499.3 412.2,501.1 412.5,501.4 412.7,498.5 412.9,497.8 413.2,501.8 413.4,498.5 413.6,497.9 413.9,498.4 414.1,501.9 414.3,501.7 414.6,501.0 414.8,501.7 415.0,501.3 415.3,499.8 415.5,499.1 415.7,502.1 416.0,499.4 416.2,498.9 416.4,502.8 416.7,500.5 416.9,497.5 417.1,498.7 417.4,499.1 417.6,496.9 417.8,499.1 418.1,500.3 418.3,499.7 418.5,502.6 418.8,500.9 419.0,498.7 419.2,500.3 419.5,500.2 419.7,499.2 419.9,498.6 420.2,500.8 420.4,499.3 420.6,498.7 420.9,499.5 421.1,501.2 421.3,498.8 421.6,498.7 421.8,502.4 422.0,500.2 422.3,497.9 422.5,502.0 422.7,500.4 423.0,497.9 423.2,502.0 423.5,502.1 423.7,501.0 423.9,501.2 424.2,491.3 424.4,494.2 424.6,491.6 424.9,492.5 425.1,489.8 425.3,492.2 425.6,491.8 425.8,493.3 426.0,495.5 426.3,495.5 426.5,490.7 426.7,496.8 427.0,495.8 427.2,493.2 427.4,493.6 427.7,493.2 427.9,496.7 428.1,490.8 428.4,494.7 428.6,497.6 428.8,495.0 429.1,489.2 429.3,493.1 429.5,498.5 429.8,492.0 430.0,490.8 430.2,490.3 430.5,492.3 430.7,494.5 430.9,493.7 431.2,500.0 431.4,493.9 431.6,490.9 431.9,489.2 432.1,490.9 432.3,491.4 432.6,490.5 432.8,495.6 433.0,493.4 433.3,489.7 433.5,492.3 433.7,493.7 434.0,490.4 434.2,490.8 434.5,491.5 434.7,492.6 434.9,490.4 435.2,489.3 435.4,494.7 435.6,490.3 435.9,491.2 436.1,498.6 436.3,499.7 436.6,501.1 436.8,500.2 437.0,500.1 437.3,502.2 437.5,499.9 437.7,501.2 438.0,501.9 438.2,500.8 438.4,499.6 438.7,497.8 438.9,500.9 439.1,498.1 439.4,499.3 439.6,499.2 439.8,499.0 440.1,498.0 440.3,500.3 440.5,496.5 440.8,502.0 441.0,501.1 441.2,502.2 441.5,499.4 441.7,500.8 441.9,500.2 442.2,498.8 442.4,502.0 442.6,502.0 442.9,502.6 443.1,503.3 443.3,501.9 443.6,497.8 443.8,498.3 444.0,498.5 444.3,499.2 444.5,498.0 444.7,502.0 445.0,498.8 445.2,499.5 445.5,500.5 445.7,501.3 445.9,497.0 446.2,502.1 446.4,498.8 446.6,502.2 446.9,501.0 447.1,501.6 447.3,499.0 447.6,498.4 447.8,498.4 448.0,497.6 448.3,499.9 448.5,500.7 448.7,501.1 449.0,501.1 449.2,499.3 449.4,497.9 449.7,501.5 449.9,499.7 450.1,497.0 450.4,498.7 450.6,502.5 450.8,501.7 451.1,499.7 451.3,501.8 451.5,500.6 451.8,500.0 452.0,500.2 452.2,499.8 452.5,498.3 452.7,497.1 452.9,498.0 453.2,501.8 453.4,499.1 453.6,500.1 453.9,497.6 454.1,498.1 454.3,498.8 454.6,501.3 454.8,499.5 455.0,497.4 455.3,500.4 455.5,499.4 455.7,497.2 456.0,497.8 456.2,500.1 456.5,497.0 456.7,499.3 456.9,502.5 457.2,498.0 457.4,506.6 457.6,501.4 457.9,499.3 458.1,502.2 458.3,503.2 458.6,501.4 458.8,498.9 459.0,498.2 459.3,501.5 459.5,499.9 459.7,500.8 460.0,499.7 460.2,498.0 460.4,499.9 460.7,498.6 460.9,498.2 461.1,501.3 461.4,497.5 461.6,500.8 461.8,499.5 462.1,502.2 462.3,497.8 462.5,502.0 462.8,498.8 463.0,501.5 463.2,499.3 463.5,500.9 463.7,501.1 463.9,500.5 464.2,498.7 464.4,500.0 464.6,503.1 464.9,499.5 465.1,500.7 465.3,502.6 465.6,499.4 465.8,500.4 466.0,498.6 466.3,499.1 466.5,500.2 466.7,498.2 467.0,499.1 467.2,501.5 467.5,502.2 467.7,499.3 467.9,497.2 468.2,501.7 468.4,498.8 468.6,500.0 468.9,501.3 469.1,499.5 469.3,501.4 469.6,498.9 469.8,500.8 470.0,502.4 470.3,497.8 470.5,499.9 470.7,498.2 471.0,500.8 471.2,499.2 471.4,502.4 471.7,500.5 471.9,500.8 472.1,498.1 472.4,501.5 472.6,501.4 472.8,502.8 473.1,502.2 473.3,498.8 473.5,502.5 473.8,502.3 474.0,500.8 474.2,501.7 474.5,502.6 474.7,500.6 474.9,498.6 475.2,497.2 475.4,495.3 475.6,500.9 475.9,499.6 476.1,498.3 476.3,498.3 476.6,500.9 476.8,502.9 477.0,502.3 477.3,501.2 477.5,502.6 477.7,498.8 478.0,501.8 478.2,500.1 478.5,502.5 478.7,499.7 478.9,500.5 479.2,502.8 479.4,501.2 479.6,500.6 479.9,501.0 480.1,500.0 480.3,500.1 480.6,501.2 480.8,499.8 481.0,499.2 481.3,501.1 481.5,502.4 481.7,503.0 482.0,501.9 482.2,499.2 482.4,501.6 482.7,497.9 482.9,500.0 483.1,501.1 483.4,501.3 483.6,502.2 483.8,502.7 484.1,500.3 484.3,501.4 484.5,500.5 484.8,499.5 485.0,499.1 485.2,497.4 485.5,499.5 485.7,500.3 485.9,502.3 486.2,502.5 486.4,499.1 486.6,498.2 486.9,500.7 487.1,498.6 487.3,499.8 487.6,493.0 487.8,499.6 488.0,497.8 488.3,498.1 488.5,498.8 488.7,500.6 489.0,502.6 489.2,501.0 489.5,498.0 489.7,499.3 489.9,501.2 490.2,500.5 490.4,498.9 490.6,501.1 490.9,506.2 491.1,497.2 491.3,500.3 491.6,499.6 491.8,497.7 492.0,500.3 492.3,501.5 492.5,496.7 492.7,502.2 493.0,502.3 493.2,496.5 493.4,501.1 493.7,494.4 493.9,497.4 494.1,498.7 494.4,501.0 494.6,501.2 494.8,499.2 495.1,501.7 495.3,499.3 495.5,507.7 495.8,500.4 496.0,500.2 496.2,498.6 496.5,501.9 496.7,499.8 496.9,497.6 497.2,501.7 497.4,500.0 497.6,499.8 497.9,500.5 498.1,500.6 498.3,500.8 498.6,499.5 498.8,497.0 499.0,500.3 499.3,501.8 499.5,498.8 499.7,502.0 500.0,497.7 500.2,501.3 500.4,498.9 500.7,501.0 500.9,499.4 501.2,498.0 501.4,500.6 501.6,498.7 501.9,497.3 502.1,497.3 502.3,500.4 502.6,500.1 502.8,501.8 503.0,499.9 503.3,500.2 503.5,497.6 503.7,498.6 504.0,500.4 504.2,502.1 504.4,494.4 504.7,497.0 504.9,496.5 505.1,499.2 505.4,499.8 505.6,500.7 505.8,498.4 506.1,500.8 506.3,500.3 506.5,500.9 506.8,500.4 507.0,497.2 507.2,499.9 507.5,508.3 507.7,501.9 507.9,499.4 508.2,498.9 508.4,501.1 508.6,501.5 508.9,500.5 509.1,500.0 509.3,497.0 509.6,499.5 509.8,498.3 510.0,498.2 510.3,496.6 510.5,499.0 510.7,501.5 511.0,500.4 511.2,498.3 511.4,499.0 511.7,503.0 511.9,499.3 512.2,499.1 512.4,498.3 512.6,498.8 512.9,497.8 513.1,502.3 513.3,502.7 513.6,500.1 513.8,499.9 514.0,498.1 514.3,499.5 514.5,500.8 514.7,499.1 515.0,498.1 515.2,497.9 515.4,499.9 515.7,500.7 515.9,498.4 516.1,500.2 516.4,499.0 516.6,492.6 516.8,500.8 517.1,501.8 517.3,498.7 517.5,500.6 517.8,499.7 518.0,500.4 518.2,499.5 518.5,500.0 518.7,500.8 518.9,498.6 519.2,499.7 519.4,501.3 519.6,500.3 519.9,504.0 520.1,497.0 520.3,497.1 520.6,497.6 520.8,498.1 521.0,499.8 521.3,499.9 521.5,498.7 521.7,498.4 522.0,499.9 522.2,500.3 522.4,500.0 522.7,499.5 522.9,493.1 523.2,497.8 523.4,502.3 523.6,499.7 523.9,500.1 524.1,498.4 524.3,500.6 524.6,498.0 524.8,499.7 525.0,493.1 525.3,495.0 525.5,492.8 525.7,488.1 526.0,493.1 526.2,487.5 526.4,492.8 526.7,485.9 526.9,488.8 527.1,489.5 527.4,490.1 527.6,495.2 527.8,488.6 528.1,490.0 528.3,490.8 528.5,488.7 528.8,490.8 529.0,494.4 529.2,490.1 529.5,492.4 529.7,500.1 529.9,495.8 530.2,495.6 530.4,492.6 530.6,496.3 530.9,495.3 531.1,489.8 531.3,491.2 531.6,488.7 531.8,486.8 532.0,489.9 532.3,496.9 532.5,491.4 532.7,489.3 533.0,494.2 533.2,489.3 533.4,488.8 533.7,491.5 533.9,493.1 534.2,491.6 534.4,492.2 534.6,491.2 534.9,492.4 535.1,493.8 535.3,488.5 535.6,492.5 535.8,488.8 536.0,485.3 536.3,495.1 536.5,489.6 536.7,492.2 537.0,487.3 537.2,491.9 537.4,489.0 537.7,490.0 537.9,491.1 538.1,488.5 538.4,490.6 538.6,493.1 538.8,495.3 539.1,489.7 539.3,492.9 539.5,492.0 539.8,492.8 540.0,501.2 540.2,505.0 540.5,500.7 540.7,494.0 540.9,497.3 541.2,497.0 541.4,499.7 541.6,491.5 541.9,499.9 542.1,500.2 542.3,496.5 542.6,495.3 542.8,496.8 543.0,499.4 543.3,495.9 543.5,497.2 543.7,496.7 544.0,497.9 544.2,497.2 544.4,500.1 544.7,504.4 544.9,497.3 545.2,492.8 545.4,497.4 545.6,496.0 545.9,499.9 546.1,500.6 546.3,497.1 546.6,497.5 546.8,498.6 547.0,499.5 547.3,496.1 547.5,497.1 547.7,492.9 548.0,497.5 548.2,499.3 548.4,498.7 548.7,500.3 548.9,501.0 549.1,497.2 549.4,500.6 549.6,498.9 549.8,497.6 550.1,504.6 550.3,499.1 550.5,498.2 550.8,496.9 551.0,447.5 551.2,456.2 551.5,458.8 551.7,461.7 551.9,461.9 552.2,456.2 552.4,465.0 552.6,460.0 552.9,466.0 553.1,466.0 553.3,461.8 553.6,468.3 553.8,458.0 554.0,460.9 554.3,461.5 554.5,459.5 554.7,465.2 555.0,462.8 555.2,447.3 555.4,460.9 555.7,462.8 555.9,455.4 556.2,458.6 556.4,457.4 556.6,458.6 556.9,462.1 557.1,441.9 557.3,445.8 557.6,458.2 557.8,473.1 558.0,456.8 558.3,461.1 558.5,464.8 558.7,460.8 559.0,458.1 559.2,457.5 559.4,455.5 559.7,455.7 559.9,456.9 560.1,457.3 560.4,455.4 560.6,458.7 560.8,452.3 561.1,455.8 561.3,457.8 561.5,456.2 561.8,460.6 562.0,461.4 562.2,457.5 562.5,456.5 562.7,459.1 562.9,456.8 563.2,455.3 563.4,456.6 563.6,457.5 563.9,456.4 564.1,460.1 564.3,460.7 564.6,460.7 564.8,454.8 565.0,455.4 565.3,456.2 565.5,454.1 565.7,455.4 566.0,463.6 566.2,458.0 566.4,453.4 566.7,455.7 566.9,453.5 567.2,458.5 567.4,454.3 567.6,455.9 567.9,456.5 568.1,459.4 568.3,459.4 568.6,464.6 568.8,458.5 569.0,462.4 569.3,460.0 569.5,462.7 569.7,462.7 570.0,462.7 570.2,462.0 570.4,459.7 570.7,462.8 570.9,462.0 571.1,472.9 571.4,463.2 571.6,465.1 571.8,463.0 572.1,463.6 572.3,463.9 572.5,461.2 572.8,461.3 573.0,464.1 573.2,459.3 573.5,459.4 573.7,458.1 573.9,461.1 574.2,459.6 574.4,462.9 574.6,456.5 574.9,460.9 575.1,461.9 575.3,456.3 575.6,459.0 575.8,483.4 576.0,487.3 576.3,475.0 576.5,480.9 576.7,478.7 577.0,476.3 577.2,479.3 577.4,481.8 577.7,481.8 577.9,478.5 578.2,483.1 578.4,486.3 578.6,480.6 578.9,477.0 579.1,485.2 579.3,477.7 579.6,482.7 579.8,485.4 580.0,485.0 580.3,474.9 580.5,486.6 580.7,475.5 581.0,483.9 581.2,475.2 581.4,489.0 581.7,485.0 581.9,495.8 582.1,472.0 582.4,471.0 582.6,473.7 582.8,470.4 583.1,472.6 583.3,466.1 583.5,473.2 583.8,473.4 584.0,476.3 584.2,472.7 584.5,469.8 584.7,474.2 584.9,468.7 585.2,474.4 585.4,471.5 585.6,472.8 585.9,470.2 586.1,469.6 586.3,472.9 586.6,468.9 586.8,477.9 587.0,475.0 587.3,470.7 587.5,474.4 587.7,473.3 588.0,470.9 588.2,472.3 588.4,470.6 588.7,470.1 588.9,473.3 589.2,469.8 589.4,471.8 589.6,474.8 589.9,478.8 590.1,479.7 590.3,479.6 590.6,479.2 590.8,480.6 591.0,481.1 591.3,480.6 591.5,480.6 591.7,479.2 592.0,480.4 592.2,481.8 592.4,482.4 592.7,480.1 592.9,481.2 593.1,479.3 593.4,477.7 593.6,478.9 593.8,480.7 594.1,474.5 594.3,479.9 594.5,479.3 594.8,476.7 595.0,473.3 595.2,478.4 595.5,478.3 595.7,481.1 595.9,477.8 596.2,477.6 596.4,485.4 596.6,477.7 596.9,480.2 597.1,478.7 597.3,477.3 597.6,482.1 597.8,482.8 598.0,482.7 598.3,484.4 598.5,482.4 598.7,483.5 599.0,484.5 599.2,482.8 599.4,483.9 599.7,484.7 599.9,483.6 600.2,481.5 600.4,486.5 600.6,483.0 600.9,485.4 601.1,482.3 601.3,481.9 601.6,485.2 601.8,483.5 602.0,481.1 602.3,485.8 602.5,487.3 602.7,486.1 603.0,482.6 603.2,485.2 603.4,485.6 603.7,480.7 603.9,480.7 604.1,481.6 604.4,482.1 604.6,479.9 604.8,481.6 605.1,483.9 605.3,482.9 605.5,483.3 605.8,486.8 606.0,483.4 606.2,487.3 606.5,485.8 606.7,489.7 606.9,488.1 607.2,482.4 607.4,485.9 607.6,489.5 607.9,488.1 608.1,484.8 608.3,486.4 608.6,483.3 608.8,485.3 609.0,487.1 609.3,486.6 609.5,483.6 609.7,483.2 610.0,485.8 610.2,490.8 610.4,482.9 610.7,482.2 610.9,484.6 611.2,486.7 611.4,486.6 611.6,486.7 611.9,487.8 612.1,485.1 612.3,485.3 612.6,485.1 612.8,485.0 613.0,485.2 613.3,482.6 613.5,483.6 613.7,485.3 614.0,484.8 614.2,482.8 614.4,488.8 614.7,485.6 614.9,487.7 615.1,480.8 615.4,485.4 615.6,481.8 615.8,485.6 616.1,478.2 616.3,488.3 616.5,479.0 616.8,479.7 617.0,479.0 617.2,481.7 617.5,477.5 617.7,482.0 617.9,479.3 618.2,485.4 618.4,480.1 618.6,477.2 618.9,481.0 619.1,481.7 619.3,476.6 619.6,479.8 619.8,483.3 620.0,477.9 620.3,477.2 620.5,476.2 620.7,481.0 621.0,480.1 621.2,476.9 621.4,481.1 621.7,480.5 621.9,477.9 622.1,476.3 622.4,476.9 622.6,475.6 622.9,479.8 623.1,482.0 623.3,481.4 623.6,479.6 623.8,477.5 624.0,482.4 624.3,483.4 624.5,482.6 624.7,479.6 625.0,479.8 625.2,481.2 625.4,482.8 625.7,477.3 625.9,474.2 626.1,475.3 626.4,475.0 626.6,472.8 626.8,474.7 627.1,471.1 627.3,474.3 627.5,473.2 627.8,472.6 628.0,473.3 628.2,477.2 628.5,475.8 628.7,471.8 628.9,472.8 629.2,477.1 629.4,475.9 629.6,475.9 629.9,477.9 630.1,476.9 630.3,475.8 630.6,474.9 630.8,477.6 631.0,479.7 631.3,477.5 631.5,474.6 631.7,477.7 632.0,474.2 632.2,473.1 632.4,476.1 632.7,474.0 632.9,477.4 633.1,476.3 633.4,476.3 633.6,471.9 633.9,473.0 634.1,475.5 634.3,467.8 634.6,476.7 634.8,474.5 635.0,483.4 635.3,480.2 635.5,481.0 635.7,476.6 636.0,480.8 636.2,481.4 636.4,477.1 636.7,482.1 636.9,477.5 637.1,478.9 637.4,478.7 637.6,476.7 637.8,482.5 638.1,476.5 638.3,475.7 638.5,478.3 638.8,477.4 639.0,474.2 639.2,474.9 639.5,475.1 639.7,478.8 639.9,489.7 640.2,475.7 640.4,477.6 640.6,477.5 640.9,481.1 641.1,479.7 641.3,475.1 641.6,477.0 641.8,479.6 642.0,478.5 642.3,480.4 642.5,475.8 642.7,487.3 643.0,478.0 643.2,480.5 643.4,476.1 643.7,484.0 643.9,483.0 644.1,478.4 644.4,483.1 644.6,480.4 644.9,481.5 645.1,483.3 645.3,477.9 645.6,481.9 645.8,480.1 646.0,477.8 646.3,484.4 646.5,475.5 646.7,475.4 647.0,474.9 647.2,466.2 647.4,470.5 647.7,464.1 647.9,476.1 648.1,474.6 648.4,474.3 648.6,468.5 648.8,474.2 649.1,468.4 649.3,463.2 649.5,467.1 649.8,469.7 650.0,466.7 650.2,468.0 650.5,467.4 650.7,471.0 650.9,463.2 651.2,470.8 651.4,466.1 651.6,476.7 651.9,468.7 652.1,462.0 652.3,469.0 652.6,469.5 652.8,463.7 653.0,472.7 653.3,471.3 653.5,467.9 653.7,473.4 654.0,468.7 654.2,467.4 654.4,465.0 654.7,469.7 654.9,470.6 655.1,468.8 655.4,472.1 655.6,469.9 655.9,473.1 656.1,476.7 656.3,468.4 656.6,466.0 656.8,472.4 657.0,468.0 657.3,468.7 657.5,474.6 657.7,467.9 658.0,468.7 658.2,473.5 658.4,474.3 658.7,468.9 658.9,467.8 659.1,473.4 659.4,468.5 659.6,472.4 659.8,473.9 660.1,471.8 660.3,474.0 660.5,472.4 660.8,474.1 661.0,476.0 661.2,467.3 661.5,471.5 661.7,474.4 661.9,475.3 662.2,462.5 662.4,456.5 662.6,425.1 662.9,458.6 663.1,458.6 663.3,458.6 663.6,458.6 663.8,442.3 664.0,440.7 664.3,450.5 664.5,450.5 664.7,432.7 665.0,446.4 665.2,452.1 665.4,440.5 665.7,446.5 665.9,452.9 666.1,452.9 666.4,452.5 666.6,433.8 666.9,433.8 667.1,430.0 667.3,455.2 667.6,453.2 667.8,458.9 668.0,480.4 668.3,474.5 668.5,455.0 668.7,455.0 669.0,473.7 669.2,462.1 669.4,467.8 669.7,467.8 669.9,467.8 670.1,467.8 670.4,468.9 670.6,478.6 670.8,478.6 671.1,481.2 671.3,461.6 671.5,481.6 671.8,463.9 672.0,468.8 672.2,467.4 672.5,479.8 672.7,479.8 672.9,479.8 673.2,479.8 673.4,466.0 673.6,463.6 673.9,466.1 674.1,466.1 674.3,463.9 674.6,477.2 674.8,477.2 675.0,467.1 675.3,469.8 675.5,477.2 675.7,477.2 676.0,477.2 676.2,474.3 676.4,471.5 676.7,455.0 676.9,480.1 677.1,480.1 677.4,480.2 677.6,475.0 677.9,475.6 678.1,473.7 678.3,473.7 678.6,473.7 678.8,474.1 679.0,477.8 679.3,475.8 679.5,463.2 679.7,463.2 680.0,463.2 680.2,473.5 680.4,473.4 680.7,468.3 680.9,467.5 681.1,469.7 681.4,469.7 681.6,463.1 681.8,466.2 682.1,473.2 682.3,481.9 682.5,476.9 682.8,471.8 683.0,481.9" fill="none" stroke="#B177DE" stroke-width="1.6" stroke-linejoin="round"/>
<path d="M74.5,429.7 74.7,429.7 75.0,415.2 75.2,402.2 75.4,420.7 75.7,426.5 75.9,426.5 76.1,431.0 76.4,426.2 76.6,426.2 76.8,411.3 77.1,411.3 77.3,411.3 77.5,430.0 77.8,402.7 78.0,395.8 78.2,395.8 78.5,395.8 78.7,396.1 78.9,416.9 79.2,416.9 79.4,412.8 79.6,416.7 79.9,429.1 80.1,410.2 80.4,407.9 80.6,422.4 80.8,408.3 81.1,414.3 81.3,401.5 81.5,399.9 81.8,399.9 82.0,397.8 82.2,408.7 82.5,389.1 82.7,389.1 82.9,411.2 83.2,411.2 83.4,411.8 83.6,392.5 83.9,395.7 84.1,386.0 84.3,400.3 84.6,409.9 84.8,425.0 85.0,409.4 85.3,409.4 85.5,415.8 85.7,420.6 86.0,415.3 86.2,395.2 86.4,411.0 86.7,411.2 86.9,415.2 87.1,396.1 87.4,401.8 87.6,403.8 87.8,403.7 88.1,405.8 88.3,392.6 88.5,392.8 88.8,425.0 89.0,413.2 89.2,405.7 89.5,393.1 89.7,399.3 89.9,399.3 90.2,402.2 90.4,412.3 90.6,412.3 90.9,417.2 91.1,414.1 91.4,408.8 91.6,413.3 91.8,426.5 92.1,398.2 92.3,423.5 92.5,423.5 92.8,400.9 93.0,392.1 93.2,392.1 93.5,392.1 93.7,401.5 93.9,401.5 94.2,416.9 94.4,412.0 94.6,397.0 94.9,428.0 95.1,428.0 95.3,428.0 95.6,393.9 95.8,420.8 96.0,404.8 96.3,396.6 96.5,396.6 96.7,418.3 97.0,418.3 97.2,418.1 97.4,416.8 97.7,414.4 97.9,414.4 98.1,411.6 98.4,392.7 98.6,418.7 98.8,396.0 99.1,382.8 99.3,382.8 99.5,422.4 99.8,399.8 100.0,402.4 100.2,409.5 100.5,409.5 100.7,395.9 100.9,395.9 101.2,414.5 101.4,414.5 101.6,412.3 101.9,396.6 102.1,385.9 102.4,412.1 102.6,384.8 102.8,384.8 103.1,421.7 103.3,421.7 103.5,421.7 103.8,413.6 104.0,419.0 104.2,404.3 104.5,409.4 104.7,409.4 104.9,409.4 105.2,404.3 105.4,405.7 105.6,415.0 105.9,418.0 106.1,418.0 106.3,418.0 106.6,429.5 106.8,398.8 107.0,404.3 107.3,388.1 107.5,404.4 107.7,402.4 108.0,445.0 108.2,417.8 108.4,391.1 108.7,393.2 108.9,393.2 109.1,404.8 109.4,398.9 109.6,429.5 109.8,391.0 110.1,385.3 110.3,385.3 110.5,409.3 110.8,381.8 111.0,374.4 111.2,375.1 111.5,371.2 111.7,371.5 111.9,371.6 112.2,379.3 112.4,375.4 112.6,371.1 112.9,371.3 113.1,370.9 113.4,375.3 113.6,375.8 113.8,372.1 114.1,374.1 114.3,374.2 114.5,372.9 114.8,372.8 115.0,376.6 115.2,378.3 115.5,370.9 115.7,374.2 115.9,378.6 116.2,371.5 116.4,372.9 116.6,369.6 116.9,370.8 117.1,376.8 117.3,371.3 117.6,438.4 117.8,447.5 118.0,461.3 118.3,427.3 118.5,441.6 118.7,447.4 119.0,452.6 119.2,444.9 119.4,437.1 119.7,442.8 119.9,444.0 120.1,436.7 120.4,441.1 120.6,438.8 120.8,451.9 121.1,441.2 121.3,444.5 121.5,452.0 121.8,443.7 122.0,446.3 122.2,439.1 122.5,435.6 122.7,450.8 122.9,440.9 123.2,440.1 123.4,443.6 123.6,442.7 123.9,438.7 124.1,443.1 124.4,439.4 124.6,442.1 124.8,430.0 125.1,443.9 125.3,447.0 125.5,446.4 125.8,447.6 126.0,449.9 126.2,442.5 126.5,443.5 126.7,438.6 126.9,449.0 127.2,443.9 127.4,438.9 127.6,451.4 127.9,441.5 128.1,442.6 128.3,445.7 128.6,447.7 128.8,447.7 129.0,450.6 129.3,447.1 129.5,454.2 129.7,442.1 130.0,449.4 130.2,452.3 130.4,448.4 130.7,440.5 130.9,450.5 131.1,450.9 131.4,440.2 131.6,432.4 131.8,451.6 132.1,450.9 132.3,449.2 132.5,455.2 132.8,451.6 133.0,451.8 133.2,453.7 133.5,457.3 133.7,458.0 133.9,447.5 134.2,458.9 134.4,454.9 134.6,444.5 134.9,451.0 135.1,453.8 135.3,451.3 135.6,448.3 135.8,450.4 136.1,454.0 136.3,453.9 136.5,451.5 136.8,450.3 137.0,450.8 137.2,456.1 137.5,450.6 137.7,447.5 137.9,456.0 138.2,455.5 138.4,453.8 138.6,453.2 138.9,460.9 139.1,451.1 139.3,451.7 139.6,450.5 139.8,458.1 140.0,461.0 140.3,459.6 140.5,456.9 140.7,460.6 141.0,460.2 141.2,461.0 141.4,460.9 141.7,462.1 141.9,458.8 142.1,457.2 142.4,458.4 142.6,460.6 142.8,455.6 143.1,457.4 143.3,454.0 143.5,461.3 143.8,459.4 144.0,463.0 144.2,461.6 144.5,459.3 144.7,456.0 144.9,455.8 145.2,455.6 145.4,461.0 145.6,456.9 145.9,455.8 146.1,462.5 146.3,459.8 146.6,455.7 146.8,457.1 147.1,456.5 147.3,459.8 147.5,460.5 147.8,456.8 148.0,459.2 148.2,459.5 148.5,459.9 148.7,459.4 148.9,455.8 149.2,456.3 149.4,460.8 149.6,458.7 149.9,457.7 150.1,456.4 150.3,456.5 150.6,458.3 150.8,452.3 151.0,458.4 151.3,454.7 151.5,457.2 151.7,458.5 152.0,458.4 152.2,460.7 152.4,456.0 152.7,459.9 152.9,456.0 153.1,460.3 153.4,457.0 153.6,458.5 153.8,454.9 154.1,458.0 154.3,460.2 154.5,460.2 154.8,460.1 155.0,455.0 155.2,459.8 155.5,454.8 155.7,455.9 155.9,460.0 156.2,457.4 156.4,455.6 156.6,456.9 156.9,460.3 157.1,466.1 157.3,465.8 157.6,460.5 157.8,464.0 158.1,467.3 158.3,461.9 158.5,474.1 158.8,466.6 159.0,463.3 159.2,461.6 159.5,469.5 159.7,469.1 159.9,461.5 160.2,468.4 160.4,460.1 160.6,462.4 160.9,465.1 161.1,462.5 161.3,463.1 161.6,466.3 161.8,463.0 162.0,464.4 162.3,464.2 162.5,464.3 162.7,467.0 163.0,465.7 163.2,461.9 163.4,464.0 163.7,464.6 163.9,462.3 164.1,465.8 164.4,466.0 164.6,461.1 164.8,462.4 165.1,489.3 165.3,489.5 165.5,493.0 165.8,489.7 166.0,491.8 166.2,492.7 166.5,486.7 166.7,492.7 166.9,487.2 167.2,488.0 167.4,490.6 167.6,490.6 167.9,491.2 168.1,493.1 168.3,491.3 168.6,491.8 168.8,489.8 169.1,491.2 169.3,489.7 169.5,488.0 169.8,499.2 170.0,489.9 170.2,487.4 170.5,490.2 170.7,491.9 170.9,490.0 171.2,487.3 171.4,490.8 171.6,486.8 171.9,487.2 172.1,486.8 172.3,488.0 172.6,492.6 172.8,489.3 173.0,487.4 173.3,491.0 173.5,494.1 173.7,487.8 174.0,490.1 174.2,493.7 174.4,486.6 174.7,493.4 174.9,487.3 175.1,497.5 175.4,492.1 175.6,489.6 175.8,488.3 176.1,491.0 176.3,486.4 176.5,453.3 176.8,453.3 177.0,474.7 177.2,478.1 177.5,503.0 177.7,503.0 177.9,477.7 178.2,477.7 178.4,449.8 178.6,449.8 178.9,494.3 179.1,491.9 179.3,494.9 179.6,461.1 179.8,474.0 180.1,474.0 180.3,474.0 180.5,454.5 180.8,472.8 181.0,454.0 181.2,487.4 181.5,487.4 181.7,487.4 181.9,476.7 182.2,466.7 182.4,477.2 182.6,473.5 182.9,473.5 183.1,475.8 183.3,481.2 183.6,477.3 183.8,477.9 184.0,475.1 184.3,476.1 184.5,474.5 184.7,474.5 185.0,474.4 185.2,484.9 185.4,478.3 185.7,476.3 185.9,478.2 186.1,476.5 186.4,477.3 186.6,481.3 186.8,474.3 187.1,480.1 187.3,472.7 187.5,478.9 187.8,477.8 188.0,474.1 188.2,478.5 188.5,469.8 188.7,475.1 188.9,475.8 189.2,480.0 189.4,478.4 189.6,477.3 189.9,477.5 190.1,476.1 190.3,475.5 190.6,437.8 190.8,436.9 191.1,433.3 191.3,435.9 191.5,432.1 191.8,436.6 192.0,440.7 192.2,431.7 192.5,433.1 192.7,432.4 192.9,434.3 193.2,434.4 193.4,437.0 193.6,433.9 193.9,436.4 194.1,436.5 194.3,432.5 194.6,437.0 194.8,430.6 195.0,437.0 195.3,431.1 195.5,436.0 195.7,432.0 196.0,439.3 196.2,435.3 196.4,433.8 196.7,433.3 196.9,436.0 197.1,436.5 197.4,432.3 197.6,434.5 197.8,439.8 198.1,418.7 198.3,421.5 198.5,421.6 198.8,426.8 199.0,418.1 199.2,424.7 199.5,420.4 199.7,423.7 199.9,424.8 200.2,424.7 200.4,423.2 200.6,422.1 200.9,426.2 201.1,428.9 201.3,425.6 201.6,421.8 201.8,427.6 202.1,426.7 202.3,423.5 202.5,423.5 202.8,424.6 203.0,424.7 203.2,423.1 203.5,427.1 203.7,421.4 203.9,424.0 204.2,426.5 204.4,419.6 204.6,425.5 204.9,422.9 205.1,420.6 205.3,426.7 205.6,423.5 205.8,453.7 206.0,455.1 206.3,446.5 206.5,451.5 206.7,448.4 207.0,455.4 207.2,451.4 207.4,449.9 207.7,450.8 207.9,453.1 208.1,451.5 208.4,453.3 208.6,455.8 208.8,455.4 209.1,455.3 209.3,448.8 209.5,450.5 209.8,450.6 210.0,448.0 210.2,448.6 210.5,454.8 210.7,450.9 210.9,452.8 211.2,449.5 211.4,453.0 211.6,448.8 211.9,450.3 212.1,454.3 212.3,448.6 212.6,452.7 212.8,450.2 213.1,419.3 213.3,411.6 213.5,418.4 213.8,419.6 214.0,419.7 214.2,424.9 214.5,419.6 214.7,418.0 214.9,419.9 215.2,416.3 215.4,418.7 215.6,414.3 215.9,415.6 216.1,416.5 216.3,417.6 216.6,419.0 216.8,416.1 217.0,414.8 217.3,419.2 217.5,417.0 217.7,413.6 218.0,415.7 218.2,421.6 218.4,418.9 218.7,419.9 218.9,419.5 219.1,415.2 219.4,413.9 219.6,418.4 219.8,416.5 220.1,420.8 220.3,419.7 220.5,415.3 220.8,421.4 221.0,466.7 221.2,469.2 221.5,464.9 221.7,464.1 221.9,466.0 222.2,464.0 222.4,465.7 222.6,470.5 222.9,468.2 223.1,470.1 223.3,466.0 223.6,464.4 223.8,465.5 224.1,466.0 224.3,463.8 224.5,468.1 224.8,467.9 225.0,463.0 225.2,469.3 225.5,469.2 225.7,465.1 225.9,469.8 226.2,465.2 226.4,470.0 226.6,464.4 226.9,463.5 227.1,468.5 227.3,467.3 227.6,469.3 227.8,468.3 228.0,465.2 228.3,466.6 228.5,468.7 228.7,463.2 229.0,465.8 229.2,466.3 229.4,463.2 229.7,463.1 229.9,465.5 230.1,462.8 230.4,469.6 230.6,464.5 230.8,467.5 231.1,465.6 231.3,468.9 231.5,467.1 231.8,467.5 232.0,467.3 232.2,465.8 232.5,467.2 232.7,468.2 232.9,467.8 233.2,462.4 233.4,469.2 233.6,463.3 233.9,476.2 234.1,467.0 234.3,473.7 234.6,469.8 234.8,466.6 235.1,463.8 235.3,468.2 235.5,468.6 235.8,463.0 236.0,464.2 236.2,468.1 236.5,465.9 236.7,468.7 236.9,466.4 237.2,466.5 237.4,464.1 237.6,463.0 237.9,463.4 238.1,467.6 238.3,468.3 238.6,467.5 238.8,469.0 239.0,468.4 239.3,463.8 239.5,463.8 239.7,467.7 240.0,468.4 240.2,463.4 240.4,465.5 240.7,463.8 240.9,464.7 241.1,466.7 241.4,466.6 241.6,469.2 241.8,465.5 242.1,465.2 242.3,464.4 242.5,469.0 242.8,464.4 243.0,469.7 243.2,460.8 243.5,468.3 243.7,464.9 243.9,467.0 244.2,466.9 244.4,465.9 244.6,464.7 244.9,464.7 245.1,469.4 245.3,463.9 245.6,467.9 245.8,464.3 246.1,465.3 246.3,470.0 246.5,468.5 246.8,469.7 247.0,466.8 247.2,470.7 247.5,464.2 247.7,471.0 247.9,466.1 248.2,466.8 248.4,474.5 248.6,468.0 248.9,465.6 249.1,469.3 249.3,469.3 249.6,466.4 249.8,464.5 250.0,455.6 250.3,455.5 250.5,453.5 250.7,453.5 251.0,451.1 251.2,453.3 251.4,461.2 251.7,457.3 251.9,456.3 252.1,458.5 252.4,461.5 252.6,453.4 252.8,458.1 253.1,455.8 253.3,458.5 253.5,456.7 253.8,455.1 254.0,456.0 254.2,451.4 254.5,447.5 254.7,455.9 254.9,456.3 255.2,450.6 255.4,456.6 255.6,451.1 255.9,451.4 256.1,451.8 256.3,457.9 256.6,456.4 256.8,453.2 257.0,454.4 257.3,455.9 257.5,453.5 257.8,457.5 258.0,454.0 258.2,457.4 258.5,455.2 258.7,461.9 258.9,463.9 259.2,467.8 259.4,463.8 259.6,462.3 259.9,464.9 260.1,461.1 260.3,466.3 260.6,466.3 260.8,466.4 261.0,465.5 261.3,465.3 261.5,465.5 261.7,468.9 262.0,467.4 262.2,462.9 262.4,462.3 262.7,461.2 262.9,465.0 263.1,465.5 263.4,463.0 263.6,462.5 263.8,463.9 264.1,460.5 264.3,464.6 264.5,465.6 264.8,464.4 265.0,462.8 265.2,464.1 265.5,462.3 265.7,465.9 265.9,468.1 266.2,459.3 266.4,467.8 266.6,461.2 266.9,465.3 267.1,462.6 267.3,465.2 267.6,466.6 267.8,461.4 268.0,468.3 268.3,466.3 268.5,463.8 268.8,466.1 269.0,467.4 269.2,464.1 269.5,458.5 269.7,464.2 269.9,467.2 270.2,461.1 270.4,465.4 270.6,469.9 270.9,466.8 271.1,467.2 271.3,466.7 271.6,478.9 271.8,479.5 272.0,482.7 272.3,477.6 272.5,481.3 272.7,481.1 273.0,482.3 273.2,476.8 273.4,478.7 273.7,478.8 273.9,479.5 274.1,482.7 274.4,480.3 274.6,477.4 274.8,476.2 275.1,481.0 275.3,478.9 275.5,481.4 275.8,480.7 276.0,481.3 276.2,477.3 276.5,483.4 276.7,482.0 276.9,483.3 277.2,482.2 277.4,482.3 277.6,477.7 277.9,478.3 278.1,482.6 278.3,478.6 278.6,478.8 278.8,481.4 279.0,481.8 279.3,480.5 279.5,481.5 279.8,486.1 280.0,480.9 280.2,480.6 280.5,481.8 280.7,478.5 280.9,482.3 281.2,470.0 281.4,480.6 281.6,480.7 281.9,479.5 282.1,476.8 282.3,481.9 282.6,479.3 282.8,484.8 283.0,482.2 283.3,488.0 283.5,478.8 283.7,480.2 284.0,478.4 284.2,482.8 284.4,481.3 284.7,472.8 284.9,477.7 285.1,481.1 285.4,481.6 285.6,482.9 285.8,486.1 286.1,479.7 286.3,483.7 286.5,482.7 286.8,478.2 287.0,475.9 287.2,481.0 287.5,477.6 287.7,481.2 287.9,478.9 288.2,477.5 288.4,482.3 288.6,479.7 288.9,476.1 289.1,477.0 289.3,478.1 289.6,480.7 289.8,477.5 290.0,483.7 290.3,487.6 290.5,479.9 290.8,481.0 291.0,483.1 291.2,481.2 291.5,478.7 291.7,483.1 291.9,481.8 292.2,479.5 292.4,476.8 292.6,478.0 292.9,479.2 293.1,477.3 293.3,481.3 293.6,483.4 293.8,479.3 294.0,479.5 294.3,477.4 294.5,477.1 294.7,484.0 295.0,480.4 295.2,477.0 295.4,481.6 295.7,478.8 295.9,480.7 296.1,479.2 296.4,477.8 296.6,479.9 296.8,482.6 297.1,478.3 297.3,479.8 297.5,482.4 297.8,481.7 298.0,481.5 298.2,482.3 298.5,478.1 298.7,482.1 298.9,480.8 299.2,478.6 299.4,496.5 299.6,497.9 299.9,496.5 300.1,497.3 300.3,494.9 300.6,491.5 300.8,494.1 301.0,493.7 301.3,494.6 301.5,489.7 301.8,495.0 302.0,495.5 302.2,490.3 302.5,494.2 302.7,492.0 302.9,495.4 303.2,494.9 303.4,495.2 303.6,492.6 303.9,494.0 304.1,493.3 304.3,494.5 304.6,494.1 304.8,491.8 305.0,492.7 305.3,495.9 305.5,490.6 305.7,493.1 306.0,490.4 306.2,494.7 306.4,494.4 306.7,494.6 306.9,491.4 307.1,496.1 307.4,490.8 307.6,495.4 307.8,495.5 308.1,497.1 308.3,491.6 308.5,493.6 308.8,500.1 309.0,493.6 309.2,494.5 309.5,496.7 309.7,487.8 309.9,494.9 310.2,492.4 310.4,494.0 310.6,495.2 310.9,497.6 311.1,493.5 311.3,490.6 311.6,492.0 311.8,494.4 312.0,491.3 312.3,493.8 312.5,491.0 312.8,492.4 313.0,492.8 313.2,493.8 313.5,496.0 313.7,495.3 313.9,496.1 314.2,497.7 314.4,495.6 314.6,497.8 314.9,498.1 315.1,497.1 315.3,488.1 315.6,495.8 315.8,494.1 316.0,492.9 316.3,496.1 316.5,498.2 316.7,492.7 317.0,494.1 317.2,494.5 317.4,497.4 317.7,491.4 317.9,497.6 318.1,492.5 318.4,497.5 318.6,495.9 318.8,497.8 319.1,493.2 319.3,495.3 319.5,494.6 319.8,490.9 320.0,495.3 320.2,496.2 320.5,489.9 320.7,492.9 320.9,490.7 321.2,493.6 321.4,491.8 321.6,491.4 321.9,493.8 322.1,499.9 322.3,496.7 322.6,494.4 322.8,497.1 323.0,491.6 323.3,491.3 323.5,491.9 323.8,496.8 324.0,493.6 324.2,494.1 324.5,491.4 324.7,493.0 324.9,496.8 325.2,496.5 325.4,493.4 325.6,497.7 325.9,495.8 326.1,494.7 326.3,491.9 326.6,497.1 326.8,496.9 327.0,489.6 327.3,497.3 327.5,495.3 327.7,491.1 328.0,495.6 328.2,494.6 328.4,492.3 328.7,497.2 328.9,497.1 329.1,492.3 329.4,493.1 329.6,493.6 329.8,490.7 330.1,495.7 330.3,496.8 330.5,498.2 330.8,494.4 331.0,488.1 331.2,494.1 331.5,496.8 331.7,491.3 331.9,492.3 332.2,496.6 332.4,490.3 332.6,494.9 332.9,491.2 333.1,496.3 333.3,493.5 333.6,493.7 333.8,491.4 334.0,494.5 334.3,496.1 334.5,498.0 334.8,491.7 335.0,498.3 335.2,496.7 335.5,492.5 335.7,494.6 335.9,500.6 336.2,496.1 336.4,499.1 336.6,499.4 336.9,495.0 337.1,498.0 337.3,498.1 337.6,494.0 337.8,493.4 338.0,495.2 338.3,491.1 338.5,492.5 338.7,491.7 339.0,497.4 339.2,497.6 339.4,493.5 339.7,492.7 339.9,493.6 340.1,497.7 340.4,492.0 340.6,497.6 340.8,493.6 341.1,496.5 341.3,491.7 341.5,493.9 341.8,496.7 342.0,494.9 342.2,493.2 342.5,491.9 342.7,492.8 342.9,491.9 343.2,489.0 343.4,493.1 343.6,494.7 343.9,491.6 344.1,493.7 344.3,487.6 344.6,492.4 344.8,491.8 345.0,493.1 345.3,491.4 345.5,494.3 345.8,497.1 346.0,490.2 346.2,490.1 346.5,493.0 346.7,493.3 346.9,492.6 347.2,493.2 347.4,490.5 347.6,491.7 347.9,493.7 348.1,492.0 348.3,495.3 348.6,496.2 348.8,493.7 349.0,493.6 349.3,495.6 349.5,494.4 349.7,492.3 350.0,492.8 350.2,496.4 350.4,496.8 350.7,495.2 350.9,491.0 351.1,492.2 351.4,495.9 351.6,497.2 351.8,502.6 352.1,495.8 352.3,497.4 352.5,493.9 352.8,484.3 353.0,497.8 353.2,497.1 353.5,492.0 353.7,486.9 353.9,494.5 354.2,492.4 354.4,496.5 354.6,492.7 354.9,494.3 355.1,497.1 355.3,494.1 355.6,494.1 355.8,496.5 356.0,493.5 356.3,496.2 356.5,499.1 356.8,498.0 357.0,493.4 357.2,496.5 357.5,495.6 357.7,497.5 357.9,496.0 358.2,491.8 358.4,495.5 358.6,494.0 358.9,496.8 359.1,491.9 359.3,492.3 359.6,492.6 359.8,491.4 360.0,490.9 360.3,491.1 360.5,494.9 360.7,493.9 361.0,494.6 361.2,495.6 361.4,497.2 361.7,495.7 361.9,489.3 362.1,489.6 362.4,491.7 362.6,488.4 362.8,494.9 363.1,495.5 363.3,487.5 363.5,495.0 363.8,494.4 364.0,498.4 364.2,492.5 364.5,492.5 364.7,493.1 364.9,490.1 365.2,497.1 365.4,492.8 365.6,498.0 365.9,491.7 366.1,498.2 366.3,502.9 366.6,499.1 366.8,496.2 367.0,497.6 367.3,497.8 367.5,495.8 367.8,497.9 368.0,495.2 368.2,497.7 368.5,498.7 368.7,498.3 368.9,496.2 369.2,497.8 369.4,498.4 369.6,495.9 369.9,496.0 370.1,498.8 370.3,495.9 370.6,497.4 370.8,498.9 371.0,498.8 371.3,495.2 371.5,498.1 371.7,493.0 372.0,498.4 372.2,497.0 372.4,495.1 372.7,495.7 372.9,493.7 373.1,497.0 373.4,498.0 373.6,495.2 373.8,498.7 374.1,495.7 374.3,496.1 374.5,496.6 374.8,495.4 375.0,498.0 375.2,494.7 375.5,494.7 375.7,495.4 375.9,494.8 376.2,498.3 376.4,495.8 376.6,497.4 376.9,493.9 377.1,493.6 377.3,498.0 377.6,497.6 377.8,498.4 378.0,495.5 378.3,496.1 378.5,500.6 378.8,500.3 379.0,498.5 379.2,499.8 379.5,499.1 379.7,496.6 379.9,499.0 380.2,496.4 380.4,498.9 380.6,497.5 380.9,496.8 381.1,498.3 381.3,498.8 381.6,497.8 381.8,499.8 382.0,500.1 382.3,500.7 382.5,497.1 382.7,496.8 383.0,496.9 383.2,497.7 383.4,498.7 383.7,496.3 383.9,495.9 384.1,494.4 384.4,497.0 384.6,495.9 384.8,494.9 385.1,500.2 385.3,498.7 385.5,501.0 385.8,500.1 386.0,500.0 386.2,497.6 386.5,497.5 386.7,496.0 386.9,499.3 387.2,496.1 387.4,497.7 387.6,498.1 387.9,496.9 388.1,500.7 388.3,498.2 388.6,492.4 388.8,496.9 389.0,499.0 389.3,500.6 389.5,498.3 389.7,498.8 390.0,499.4 390.2,498.1 390.5,497.7 390.7,499.1 390.9,497.7 391.2,490.8 391.4,497.4 391.6,499.4 391.9,496.3 392.1,499.4 392.3,499.9 392.6,500.6 392.8,498.5 393.0,483.6 393.3,493.9 393.5,487.3 393.7,489.4 394.0,486.5 394.2,488.0 394.4,492.6 394.7,486.6 394.9,496.8 395.1,485.3 395.4,488.9 395.6,487.0 395.8,484.8 396.1,485.8 396.3,485.2 396.5,484.9 396.8,490.8 397.0,490.2 397.2,488.3 397.5,486.8 397.7,487.0 397.9,487.3 398.2,485.0 398.4,487.6 398.6,489.6 398.9,488.1 399.1,489.0 399.3,490.1 399.6,485.8 399.8,483.6 400.0,483.2 400.3,489.5 400.5,483.9 400.7,485.9 401.0,487.9 401.2,486.0 401.5,484.9 401.7,488.5 401.9,489.5 402.2,486.1 402.4,490.7 402.6,491.5 402.9,492.6 403.1,492.4 403.3,495.9 403.6,495.4 403.8,498.5 404.0,496.7 404.3,493.0 404.5,497.0 404.7,494.2 405.0,496.4 405.2,494.6 405.4,493.5 405.7,493.0 405.9,492.3 406.1,492.2 406.4,494.2 406.6,494.1 406.8,495.9 407.1,497.2 407.3,496.4 407.5,498.8 407.8,500.0 408.0,493.4 408.2,496.9 408.5,498.2 408.7,492.5 408.9,496.5 409.2,493.1 409.4,496.3 409.6,495.1 409.9,494.8 410.1,495.4 410.3,495.2 410.6,494.1 410.8,494.3 411.0,498.9 411.3,494.9 411.5,494.1 411.7,495.4 412.0,492.5 412.2,492.9 412.5,498.0 412.7,495.1 412.9,494.8 413.2,498.3 413.4,492.9 413.6,492.6 413.9,497.7 414.1,495.2 414.3,497.6 414.6,494.2 414.8,496.1 415.0,496.9 415.3,495.5 415.5,499.1 415.7,493.5 416.0,498.1 416.2,496.6 416.4,495.6 416.7,494.5 416.9,497.5 417.1,499.5 417.4,498.7 417.6,497.7 417.8,493.7 418.1,493.2 418.3,494.7 418.5,495.0 418.8,491.0 419.0,496.6 419.2,500.4 419.5,496.2 419.7,492.5 419.9,494.5 420.2,493.9 420.4,496.9 420.6,492.8 420.9,494.4 421.1,492.5 421.3,500.7 421.6,503.1 421.8,495.8 422.0,497.1 422.3,495.8 422.5,500.5 422.7,493.3 423.0,493.3 423.2,496.6 423.5,497.1 423.7,494.0 423.9,498.7 424.2,490.7 424.4,492.4 424.6,489.8 424.9,490.0 425.1,490.8 425.3,490.9 425.6,489.1 425.8,488.3 426.0,493.0 426.3,484.2 426.5,491.2 426.7,496.8 427.0,489.5 427.2,490.7 427.4,490.8 427.7,489.4 427.9,490.3 428.1,492.7 428.4,492.7 428.6,490.4 428.8,494.4 429.1,487.9 429.3,489.6 429.5,488.1 429.8,491.1 430.0,491.4 430.2,491.6 430.5,490.6 430.7,491.1 430.9,489.5 431.2,487.2 431.4,488.6 431.6,486.4 431.9,491.8 432.1,488.5 432.3,492.3 432.6,490.1 432.8,489.5 433.0,495.6 433.3,490.8 433.5,492.2 433.7,491.0 434.0,491.2 434.2,489.8 434.5,491.2 434.7,492.0 434.9,494.7 435.2,489.4 435.4,492.0 435.6,489.6 435.9,489.8 436.1,499.3 436.3,490.0 436.6,490.1 436.8,498.5 437.0,498.9 437.3,499.3 437.5,493.2 437.7,495.5 438.0,495.5 438.2,500.2 438.4,497.2 438.7,497.9 438.9,502.1 439.1,505.5 439.4,501.5 439.6,496.9 439.8,496.8 440.1,499.9 440.3,496.6 440.5,501.0 440.8,498.7 441.0,499.7 441.2,500.3 441.5,498.0 441.7,496.7 441.9,499.7 442.2,498.7 442.4,495.3 442.6,495.8 442.9,498.2 443.1,499.0 443.3,498.8 443.6,493.6 443.8,497.3 444.0,500.3 444.3,497.4 444.5,498.4 444.7,498.8 445.0,497.2 445.2,497.1 445.5,495.3 445.7,495.5 445.9,496.8 446.2,497.6 446.4,497.7 446.6,497.8 446.9,499.7 447.1,495.7 447.3,499.7 447.6,500.9 447.8,501.5 448.0,504.9 448.3,498.8 448.5,495.8 448.7,496.2 449.0,496.7 449.2,499.1 449.4,500.1 449.7,508.9 449.9,500.2 450.1,500.8 450.4,491.9 450.6,503.1 450.8,497.8 451.1,500.8 451.3,502.6 451.5,499.7 451.8,502.0 452.0,493.0 452.2,497.8 452.5,493.7 452.7,498.6 452.9,497.3 453.2,499.2 453.4,498.3 453.6,495.8 453.9,496.5 454.1,496.1 454.3,496.0 454.6,499.1 454.8,497.9 455.0,495.1 455.3,502.5 455.5,496.1 455.7,501.2 456.0,502.1 456.2,501.5 456.5,502.1 456.7,500.7 456.9,496.5 457.2,496.9 457.4,498.3 457.6,500.4 457.9,498.6 458.1,493.2 458.3,485.6 458.6,488.4 458.8,490.7 459.0,492.9 459.3,489.6 459.5,490.5 459.7,489.7 460.0,491.7 460.2,490.0 460.4,492.3 460.7,488.9 460.9,490.8 461.1,486.9 461.4,490.6 461.6,493.5 461.8,491.9 462.1,489.7 462.3,493.3 462.5,490.7 462.8,497.6 463.0,492.9 463.2,493.5 463.5,489.4 463.7,491.9 463.9,493.0 464.2,491.2 464.4,492.1 464.6,491.8 464.9,490.8 465.1,493.3 465.3,491.4 465.6,490.7 465.8,490.5 466.0,487.6 466.3,489.5 466.5,492.4 466.7,491.8 467.0,491.6 467.2,496.7 467.5,498.8 467.7,494.9 467.9,494.2 468.2,497.8 468.4,499.0 468.6,499.9 468.9,502.0 469.1,493.7 469.3,497.8 469.6,495.6 469.8,498.4 470.0,492.6 470.3,498.9 470.5,499.0 470.7,494.7 471.0,500.4 471.2,494.9 471.4,494.9 471.7,497.7 471.9,496.6 472.1,497.5 472.4,497.8 472.6,497.8 472.8,496.4 473.1,494.5 473.3,499.4 473.5,495.6 473.8,493.9 474.0,497.4 474.2,496.9 474.5,493.0 474.7,492.7 474.9,493.3 475.2,494.8 475.4,497.3 475.6,498.6 475.9,496.3 476.1,494.7 476.3,496.0 476.6,498.1 476.8,494.6 477.0,498.7 477.3,495.5 477.5,496.0 477.7,495.9 478.0,494.2 478.2,495.6 478.5,495.4 478.7,494.6 478.9,494.3 479.2,496.5 479.4,496.8 479.6,494.3 479.9,497.9 480.1,494.3 480.3,499.6 480.6,495.9 480.8,496.8 481.0,497.8 481.3,503.1 481.5,500.1 481.7,497.5 482.0,496.5 482.2,498.2 482.4,497.9 482.7,498.6 482.9,497.6 483.1,494.5 483.4,495.9 483.6,498.5 483.8,494.1 484.1,492.7 484.3,497.3 484.5,496.8 484.8,496.3 485.0,495.6 485.2,488.6 485.5,497.3 485.7,495.1 485.9,496.6 486.2,495.3 486.4,494.7 486.6,496.2 486.9,497.2 487.1,495.8 487.3,493.4 487.6,496.4 487.8,498.1 488.0,494.4 488.3,497.9 488.5,496.1 488.7,497.8 489.0,497.7 489.2,493.6 489.5,496.9 489.7,493.8 489.9,496.6 490.2,494.7 490.4,495.0 490.6,493.7 490.9,496.5 491.1,495.5 491.3,495.9 491.6,492.9 491.8,495.3 492.0,495.3 492.3,492.5 492.5,494.6 492.7,496.2 493.0,496.8 493.2,497.8 493.4,495.1 493.7,496.0 493.9,497.9 494.1,494.4 494.4,495.0 494.6,497.1 494.8,492.0 495.1,488.0 495.3,484.0 495.5,485.7 495.8,486.3 496.0,488.4 496.2,488.7 496.5,489.6 496.7,488.5 496.9,484.2 497.2,495.8 497.4,490.2 497.6,483.1 497.9,490.2 498.1,489.4 498.3,486.1 498.6,488.7 498.8,483.9 499.0,482.4 499.3,487.6 499.5,487.5 499.7,491.5 500.0,489.2 500.2,483.2 500.4,484.2 500.7,489.3 500.9,490.4 501.2,484.1 501.4,484.0 501.6,483.6 501.9,489.1 502.1,483.9 502.3,487.3 502.6,487.3 502.8,489.3 503.0,493.9 503.3,491.4 503.5,493.6 503.7,492.6 504.0,493.7 504.2,493.9 504.4,492.6 504.7,490.3 504.9,494.9 505.1,494.6 505.4,494.0 505.6,492.9 505.8,494.5 506.1,490.2 506.3,492.2 506.5,492.8 506.8,493.2 507.0,494.9 507.2,494.5 507.5,494.4 507.7,491.1 507.9,494.1 508.2,490.8 508.4,493.5 508.6,494.4 508.9,494.1 509.1,493.6 509.3,495.0 509.6,496.6 509.8,493.5 510.0,495.0 510.3,498.3 510.5,498.0 510.7,494.7 511.0,495.4 511.2,498.2 511.4,495.4 511.7,496.9 511.9,493.1 512.2,493.6 512.4,496.8 512.6,493.9 512.9,494.1 513.1,493.6 513.3,493.8 513.6,493.2 513.8,497.4 514.0,492.7 514.3,496.4 514.5,495.4 514.7,497.1 515.0,496.6 515.2,496.4 515.4,496.9 515.7,498.1 515.9,495.6 516.1,496.1 516.4,497.0 516.6,495.2 516.8,496.4 517.1,492.3 517.3,490.4 517.5,494.8 517.8,490.3 518.0,492.9 518.2,495.2 518.5,493.9 518.7,494.0 518.9,495.8 519.2,487.1 519.4,491.7 519.6,497.6 519.9,495.1 520.1,491.0 520.3,486.2 520.6,493.8 520.8,490.1 521.0,493.6 521.3,494.2 521.5,494.1 521.7,495.8 522.0,489.4 522.2,489.7 522.4,493.4 522.7,491.5 522.9,491.6 523.2,494.2 523.4,493.6 523.6,492.2 523.9,494.4 524.1,495.3 524.3,494.3 524.6,496.4 524.8,489.4 525.0,481.7 525.3,484.1 525.5,479.2 525.7,479.9 526.0,484.4 526.2,483.1 526.4,484.1 526.7,482.6 526.9,483.3 527.1,482.4 527.4,485.4 527.6,480.9 527.8,481.1 528.1,480.3 528.3,484.4 528.5,473.7 528.8,479.3 529.0,482.6 529.2,483.1 529.5,485.9 529.7,480.4 529.9,479.5 530.2,483.3 530.4,482.9 530.6,485.6 530.9,481.1 531.1,484.3 531.3,479.5 531.6,485.0 531.8,484.6 532.0,483.2 532.3,475.7 532.5,483.6 532.7,478.1 533.0,484.7 533.2,481.3 533.4,482.9 533.7,483.9 533.9,479.5 534.2,481.3 534.4,482.2 534.6,485.2 534.9,479.7 535.1,482.1 535.3,485.7 535.6,480.8 535.8,482.4 536.0,479.8 536.3,483.9 536.5,484.9 536.7,484.0 537.0,481.3 537.2,485.5 537.4,483.1 537.7,479.2 537.9,482.7 538.1,483.2 538.4,478.8 538.6,482.5 538.8,482.7 539.1,485.1 539.3,485.3 539.5,483.7 539.8,481.2 540.0,484.4 540.2,480.1 540.5,476.5 540.7,474.7 540.9,477.9 541.2,479.0 541.4,475.4 541.6,477.9 541.9,474.0 542.1,474.6 542.3,477.5 542.6,479.9 542.8,471.5 543.0,476.8 543.3,476.6 543.5,478.0 543.7,476.6 544.0,476.0 544.2,477.6 544.4,477.4 544.7,476.8 544.9,477.5 545.2,475.5 545.4,479.1 545.6,479.4 545.9,476.0 546.1,475.7 546.3,478.0 546.6,477.0 546.8,476.1 547.0,475.6 547.3,478.2 547.5,476.2 547.7,474.0 548.0,476.3 548.2,478.4 548.4,477.5 548.7,478.3 548.9,478.7 549.1,478.1 549.4,480.1 549.6,471.5 549.8,476.2 550.1,479.0 550.3,479.6 550.5,476.2 550.8,477.5 551.0,494.3 551.2,484.4 551.5,485.3 551.7,486.1 551.9,487.1 552.2,483.7 552.4,486.6 552.6,489.9 552.9,491.2 553.1,484.8 553.3,489.1 553.6,485.9 553.8,488.9 554.0,483.0 554.3,482.0 554.5,489.5 554.7,482.7 555.0,487.1 555.2,478.2 555.4,481.2 555.7,488.8 555.9,476.4 556.2,482.8 556.4,483.2 556.6,488.0 556.9,487.9 557.1,483.6 557.3,486.5 557.6,488.6 557.8,483.9 558.0,483.3 558.3,482.4 558.5,483.9 558.7,487.9 559.0,484.0 559.2,483.1 559.4,485.6 559.7,485.0 559.9,486.3 560.1,487.0 560.4,488.6 560.6,483.6 560.8,485.7 561.1,487.1 561.3,484.5 561.5,489.1 561.8,486.4 562.0,483.2 562.2,481.4 562.5,486.1 562.7,485.7 562.9,484.1 563.2,484.0 563.4,486.9 563.6,487.0 563.9,484.3 564.1,486.9 564.3,480.9 564.6,486.4 564.8,483.2 565.0,487.2 565.3,484.0 565.5,485.0 565.7,481.0 566.0,484.5 566.2,482.7 566.4,482.1 566.7,482.3 566.9,481.0 567.2,480.7 567.4,487.0 567.6,480.7 567.9,486.3 568.1,482.7 568.3,481.2 568.6,478.4 568.8,477.3 569.0,482.4 569.3,484.6 569.5,480.9 569.7,480.0 570.0,481.6 570.2,481.3 570.4,480.6 570.7,485.0 570.9,482.6 571.1,482.7 571.4,478.9 571.6,483.5 571.8,483.7 572.1,482.6 572.3,481.3 572.5,482.8 572.8,480.0 573.0,484.1 573.2,477.7 573.5,482.2 573.7,477.0 573.9,479.5 574.2,481.1 574.4,478.6 574.6,480.9 574.9,483.2 575.1,479.7 575.3,485.2 575.6,484.4 575.8,489.0 576.0,491.6 576.3,491.3 576.5,488.4 576.7,492.1 577.0,486.9 577.2,489.5 577.4,490.4 577.7,492.1 577.9,492.4 578.2,492.0 578.4,493.7 578.6,493.3 578.9,492.4 579.1,491.6 579.3,489.2 579.6,491.1 579.8,488.8 580.0,488.7 580.3,491.3 580.5,491.0 580.7,489.2 581.0,487.8 581.2,491.7 581.4,491.9 581.7,490.8 581.9,490.3 582.1,491.0 582.4,488.1 582.6,487.6 582.8,488.9 583.1,488.2 583.3,493.0 583.5,489.2 583.8,491.1 584.0,488.8 584.2,485.2 584.5,491.7 584.7,489.5 584.9,488.3 585.2,491.4 585.4,492.7 585.6,490.7 585.9,491.1 586.1,493.4 586.3,493.9 586.6,489.2 586.8,492.4 587.0,488.0 587.3,489.7 587.5,488.0 587.7,492.0 588.0,490.1 588.2,492.3 588.4,491.1 588.7,491.2 588.9,487.8 589.2,491.7 589.4,483.7 589.6,491.1 589.9,483.4 590.1,487.5 590.3,483.0 590.6,483.3 590.8,484.3 591.0,487.1 591.3,483.1 591.5,487.2 591.7,483.8 592.0,485.3 592.2,485.5 592.4,486.4 592.7,482.9 592.9,485.8 593.1,488.1 593.4,488.3 593.6,485.7 593.8,492.6 594.1,485.6 594.3,484.5 594.5,482.9 594.8,486.4 595.0,484.0 595.2,485.0 595.5,485.5 595.7,487.7 595.9,485.9 596.2,487.5 596.4,483.4 596.6,484.0 596.9,487.8 597.1,484.8 597.3,487.1 597.6,484.1 597.8,487.6 598.0,486.5 598.3,487.1 598.5,489.1 598.7,487.9 599.0,486.5 599.2,487.8 599.4,480.1 599.7,487.9 599.9,487.8 600.2,487.2 600.4,484.7 600.6,488.4 600.9,486.3 601.1,485.9 601.3,485.4 601.6,487.0 601.8,487.9 602.0,487.2 602.3,484.6 602.5,485.6 602.7,483.6 603.0,485.3 603.2,486.6 603.4,484.6 603.7,485.1 603.9,488.5 604.1,486.4 604.4,485.1 604.6,484.6 604.8,484.5 605.1,488.0 605.3,485.9 605.5,474.2 605.8,471.2 606.0,471.9 606.2,471.8 606.5,471.3 606.7,472.9 606.9,469.3 607.2,470.8 607.4,471.7 607.6,468.3 607.9,468.2 608.1,472.4 608.3,473.3 608.6,470.0 608.8,466.7 609.0,472.0 609.3,473.8 609.5,468.9 609.7,471.0 610.0,473.6 610.2,474.0 610.4,468.8 610.7,475.0 610.9,473.1 611.2,469.6 611.4,473.7 611.6,475.4 611.9,474.3 612.1,473.1 612.3,472.3 612.6,469.8 612.8,472.0 613.0,490.9 613.3,489.2 613.5,488.3 613.7,490.3 614.0,491.6 614.2,484.9 614.4,488.4 614.7,488.4 614.9,483.6 615.1,484.4 615.4,484.2 615.6,483.6 615.8,483.5 616.1,488.3 616.3,488.5 616.5,484.8 616.8,486.5 617.0,483.7 617.2,490.7 617.5,488.9 617.7,486.5 617.9,489.7 618.2,484.1 618.4,486.4 618.6,486.8 618.9,487.1 619.1,483.5 619.3,484.2 619.6,456.0 619.8,475.1 620.0,483.8 620.3,470.7 620.5,477.6 620.7,481.0 621.0,475.4 621.2,484.0 621.4,473.1 621.7,477.1 621.9,476.9 622.1,476.6 622.4,485.1 622.6,472.4 622.9,484.2 623.1,474.7 623.3,483.1 623.6,480.4 623.8,462.1 624.0,475.0 624.3,474.3 624.5,483.0 624.7,479.7 625.0,479.2 625.2,476.7 625.4,480.0 625.7,470.8 625.9,475.6 626.1,473.5 626.4,481.9 626.6,485.5 626.8,477.8 627.1,472.1 627.3,481.9 627.5,500.6 627.8,483.9 628.0,477.1 628.2,484.4 628.5,488.7 628.7,476.6 628.9,471.9 629.2,477.9 629.4,476.8 629.6,481.0 629.9,479.7 630.1,475.9 630.3,481.7 630.6,485.2 630.8,482.2 631.0,481.8 631.3,477.5 631.5,482.4 631.7,486.2 632.0,484.6 632.2,485.3 632.4,485.9 632.7,485.1 632.9,483.4 633.1,477.2 633.4,478.1 633.6,476.1 633.9,481.9 634.1,480.0 634.3,479.9 634.6,478.5 634.8,482.0 635.0,482.6 635.3,478.1 635.5,479.4 635.7,472.0 636.0,482.2 636.2,477.5 636.4,481.0 636.7,481.5 636.9,478.9 637.1,477.4 637.4,480.1 637.6,474.8 637.8,481.2 638.1,474.1 638.3,469.7 638.5,479.9 638.8,478.9 639.0,478.7 639.2,481.9 639.5,475.9 639.7,474.2 639.9,477.6 640.2,476.1 640.4,478.5 640.6,480.5 640.9,477.7 641.1,482.0 641.3,482.2 641.6,477.7 641.8,475.8 642.0,478.3 642.3,476.1 642.5,481.9 642.7,484.8 643.0,480.7 643.2,476.7 643.4,479.4 643.7,478.0 643.9,477.8 644.1,475.4 644.4,478.1 644.6,483.7 644.9,478.6 645.1,475.9 645.3,478.1 645.6,477.9 645.8,481.0 646.0,482.1 646.3,475.0 646.5,487.9 646.7,482.7 647.0,475.5 647.2,478.5 647.4,417.9 647.7,419.2 647.9,414.2 648.1,421.3 648.4,414.3 648.6,420.4 648.8,420.6 649.1,421.3 649.3,415.1 649.5,413.5 649.8,416.7 650.0,418.4 650.2,416.7 650.5,426.3 650.7,426.2 650.9,413.2 651.2,420.5 651.4,418.6 651.6,419.5 651.9,415.0 652.1,415.9 652.3,418.8 652.6,414.3 652.8,418.4 653.0,418.1 653.3,420.1 653.5,417.1 653.7,411.6 654.0,420.9 654.2,416.4 654.4,426.5 654.7,426.4 654.9,433.0 655.1,427.4 655.4,424.5 655.6,426.2 655.9,433.6 656.1,424.5 656.3,427.8 656.6,429.5 656.8,428.1 657.0,425.3 657.3,424.7 657.5,423.8 657.7,426.4 658.0,426.0 658.2,422.0 658.4,429.9 658.7,424.4 658.9,426.5 659.1,420.0 659.4,427.5 659.6,424.9 659.8,424.3 660.1,423.4 660.3,429.0 660.5,429.3 660.8,429.0 661.0,437.3 661.2,424.9 661.5,428.2 661.7,421.9 661.9,429.5 662.2,407.2 662.4,406.5 662.6,411.3 662.9,412.3 663.1,412.5 663.3,407.2 663.6,409.4 663.8,405.9 664.0,407.6 664.3,414.4 664.5,413.8 664.7,413.8 665.0,414.1 665.2,415.4 665.4,406.6 665.7,407.1 665.9,405.8 666.1,406.4 666.4,411.8 666.6,408.7 666.9,409.6 667.1,406.7 667.3,407.9 667.6,417.1 667.8,406.3 668.0,410.0 668.3,407.1 668.5,407.9 668.7,405.1 669.0,409.1 669.2,405.2 669.4,405.9 669.7,409.0 669.9,405.5 670.1,441.4 670.4,437.2 670.6,430.3 670.8,433.5 671.1,430.4 671.3,439.0 671.5,429.8 671.8,426.3 672.0,436.8 672.2,433.7 672.5,429.8 672.7,429.6 672.9,433.3 673.2,430.3 673.4,432.4 673.6,430.4 673.9,431.5 674.1,434.5 674.3,437.6 674.6,428.5 674.8,427.1 675.0,436.4 675.3,439.2 675.5,432.7 675.7,430.3 676.0,439.5 676.2,429.0 676.4,427.1 676.7,426.4 676.9,433.7 677.1,444.6 677.4,444.1 677.6,445.8 677.9,437.6 678.1,437.7 678.3,442.5 678.6,447.5 678.8,443.3 679.0,438.3 679.3,445.1 679.5,445.1 679.7,446.4 680.0,437.5 680.2,443.8 680.4,443.5 680.7,438.2 680.9,436.3 681.1,438.3 681.4,441.0 681.6,439.3 681.8,444.5 682.1,441.6 682.3,445.2 682.5,444.7 682.8,441.6 683.0,443.7" fill="none" stroke="#CC9900" stroke-width="1.6" stroke-linejoin="round"/>
<path d="M74.5,375.5 74.7,384.6 75.0,378.8 75.2,383.2 75.4,378.1 75.7,382.5 75.9,381.6 76.1,377.8 76.4,378.3 76.6,375.6 76.8,375.8 77.1,383.5 77.3,379.8 77.5,380.9 77.8,382.6 78.0,371.5 78.2,381.6 78.5,386.3 78.7,384.8 78.9,380.7 79.2,384.9 79.4,381.6 79.6,371.4 79.9,374.4 80.1,421.5 80.4,421.8 80.6,416.6 80.8,420.8 81.1,417.1 81.3,419.1 81.5,422.2 81.8,417.8 82.0,421.9 82.2,422.5 82.5,417.4 82.7,417.6 82.9,420.6 83.2,419.9 83.4,422.5 83.6,422.0 83.9,417.8 84.1,414.8 84.3,419.9 84.6,423.5 84.8,422.1 85.0,420.4 85.3,416.9 85.5,418.8 85.7,421.7 86.0,419.7 86.2,421.8 86.4,418.0 86.7,423.1 86.9,418.0 87.1,421.0 87.4,424.0 87.6,423.1 87.8,422.9 88.1,427.2 88.3,421.7 88.5,423.3 88.8,420.3 89.0,422.4 89.2,417.4 89.5,423.1 89.7,423.4 89.9,422.0 90.2,418.4 90.4,419.0 90.6,422.3 90.9,418.7 91.1,419.8 91.4,419.9 91.6,422.4 91.8,422.5 92.1,419.0 92.3,421.7 92.5,422.8 92.8,417.8 93.0,424.3 93.2,418.3 93.5,418.6 93.7,422.8 93.9,423.4 94.2,421.3 94.4,423.6 94.6,421.9 94.9,418.5 95.1,419.5 95.3,422.4 95.6,420.1 95.8,422.2 96.0,423.9 96.3,425.3 96.5,424.8 96.7,426.0 97.0,425.9 97.2,424.1 97.4,422.7 97.7,424.3 97.9,426.5 98.1,422.6 98.4,424.1 98.6,424.8 98.8,427.6 99.1,423.7 99.3,424.0 99.5,425.8 99.8,424.4 100.0,424.0 100.2,425.4 100.5,426.2 100.7,421.6 100.9,422.6 101.2,425.1 101.4,426.6 101.6,423.4 101.9,424.0 102.1,422.3 102.4,427.3 102.6,424.0 102.8,422.9 103.1,423.8 103.3,424.7 103.5,437.2 103.8,437.6 104.0,429.9 104.2,438.1 104.5,436.2 104.7,432.5 104.9,437.5 105.2,432.5 105.4,434.1 105.6,436.6 105.9,432.4 106.1,432.4 106.3,437.7 106.6,434.6 106.8,436.2 107.0,435.7 107.3,434.3 107.5,435.9 107.7,436.8 108.0,433.9 108.2,431.6 108.4,431.2 108.7,434.2 108.9,432.7 109.1,431.2 109.4,435.2 109.6,433.2 109.8,434.1 110.1,432.2 110.3,433.9 110.5,439.0 110.8,436.3 111.0,435.4 111.2,435.0 111.5,435.5 111.7,434.4 111.9,437.3 112.2,438.2 112.4,428.1 112.6,432.2 112.9,438.6 113.1,438.0 113.4,435.2 113.6,429.4 113.8,431.4 114.1,436.3 114.3,433.7 114.5,431.3 114.8,431.6 115.0,434.7 115.2,430.8 115.5,437.5 115.7,437.3 115.9,434.0 116.2,429.2 116.4,433.1 116.6,435.0 116.9,433.3 117.1,432.1 117.3,434.1 117.6,438.6 117.8,434.1 118.0,438.1 118.3,436.5 118.5,433.1 118.7,437.0 119.0,432.4 119.2,430.8 119.4,432.7 119.7,432.8 119.9,436.5 120.1,435.9 120.4,436.4 120.6,438.0 120.8,439.1 121.1,443.6 121.3,450.0 121.5,442.4 121.8,438.9 122.0,442.9 122.2,438.8 122.5,438.4 122.7,444.9 122.9,445.2 123.2,439.6 123.4,444.5 123.6,441.2 123.9,440.1 124.1,439.2 124.4,441.8 124.6,441.1 124.8,442.4 125.1,443.0 125.3,444.8 125.5,444.5 125.8,440.3 126.0,442.3 126.2,441.4 126.5,446.0 126.7,445.1 126.9,441.9 127.2,442.3 127.4,439.1 127.6,439.1 127.9,444.2 128.1,438.8 128.3,446.0 128.6,444.4 128.8,440.8 129.0,449.0 129.3,443.3 129.5,444.0 129.7,444.4 130.0,445.0 130.2,441.4 130.4,440.1 130.7,440.7 130.9,444.9 131.1,438.2 131.4,444.6 131.6,439.8 131.8,441.5 132.1,439.1 132.3,443.4 132.5,440.0 132.8,442.3 133.0,444.9 133.2,443.0 133.5,442.8 133.7,446.3 133.9,439.7 134.2,442.3 134.4,440.6 134.6,446.0 134.9,441.7 135.1,441.8 135.3,445.7 135.6,450.5 135.8,443.2 136.1,450.9 136.3,441.1 136.5,445.9 136.8,443.1 137.0,442.5 137.2,438.4 137.5,441.6 137.7,439.0 137.9,438.0 138.2,441.4 138.4,439.8 138.6,445.0 138.9,448.1 139.1,439.2 139.3,443.1 139.6,443.4 139.8,440.6 140.0,438.8 140.3,433.6 140.5,435.2 140.7,432.5 141.0,431.2 141.2,431.6 141.4,430.5 141.7,429.9 141.9,432.9 142.1,434.4 142.4,432.1 142.6,433.7 142.8,434.4 143.1,435.0 143.3,430.5 143.5,432.6 143.8,433.5 144.0,430.7 144.2,430.4 144.5,430.7 144.7,431.7 144.9,432.3 145.2,434.6 145.4,431.4 145.6,431.5 145.9,435.8 146.1,430.7 146.3,431.3 146.6,430.1 146.8,432.2 147.1,432.7 147.3,431.5 147.5,434.3 147.8,433.8 148.0,432.2 148.2,425.3 148.5,428.6 148.7,426.2 148.9,426.8 149.2,424.1 149.4,422.6 149.6,421.0 149.9,421.4 150.1,421.7 150.3,432.0 150.6,421.3 150.8,427.5 151.0,423.9 151.3,419.4 151.5,425.1 151.7,424.2 152.0,421.8 152.2,423.1 152.4,419.9 152.7,423.9 152.9,423.4 153.1,425.1 153.4,425.1 153.6,425.2 153.8,423.7 154.1,424.6 154.3,420.9 154.5,421.6 154.8,423.3 155.0,422.0 155.2,427.2 155.5,429.5 155.7,420.3 155.9,421.2 156.2,427.4 156.4,422.5 156.6,425.3 156.9,428.0 157.1,430.1 157.3,423.0 157.6,429.3 157.8,427.6 158.1,428.0 158.3,427.5 158.5,425.2 158.8,431.8 159.0,432.9 159.2,434.6 159.5,429.1 159.7,423.8 159.9,424.9 160.2,432.4 160.4,430.5 160.6,423.0 160.9,429.0 161.1,421.2 161.3,426.4 161.6,430.6 161.8,423.3 162.0,438.9 162.3,446.7 162.5,457.1 162.7,424.4 163.0,424.4 163.2,461.4 163.4,440.4 163.7,439.7 163.9,458.2 164.1,452.1 164.4,452.1 164.6,445.4 164.8,422.4 165.1,422.4 165.3,432.9 165.5,434.7 165.8,458.2 166.0,434.6 166.2,435.5 166.5,417.4 166.7,446.2 166.9,443.7 167.2,407.2 167.4,447.8 167.6,440.6 167.9,419.7 168.1,428.3 168.3,428.6 168.6,428.3 168.8,427.4 169.1,425.5 169.3,426.0 169.5,431.5 169.8,429.3 170.0,429.8 170.2,429.2 170.5,425.7 170.7,429.3 170.9,432.5 171.2,433.5 171.4,432.6 171.6,428.8 171.9,414.3 172.1,428.7 172.3,425.0 172.6,426.2 172.8,424.7 173.0,426.0 173.3,427.9 173.5,427.0 173.7,424.3 174.0,431.2 174.2,440.5 174.4,428.3 174.7,422.9 174.9,423.8 175.1,429.3 175.4,427.0 175.6,423.2 175.8,422.6 176.1,436.7 176.3,440.1 176.5,439.7 176.8,440.4 177.0,439.8 177.2,440.8 177.5,437.8 177.7,440.8 177.9,442.5 178.2,436.8 178.4,440.0 178.6,438.3 178.9,439.3 179.1,430.9 179.3,439.5 179.6,437.5 179.8,442.9 180.1,441.1 180.3,438.9 180.5,436.8 180.8,434.6 181.0,441.3 181.2,441.5 181.5,437.1 181.7,439.9 181.9,437.5 182.2,437.1 182.4,437.7 182.6,438.1 182.9,441.2 183.1,438.0 183.3,439.7 183.6,440.7 183.8,437.4 184.0,449.2 184.3,452.0 184.5,447.1 184.7,446.8 185.0,447.2 185.2,449.4 185.4,450.2 185.7,449.3 185.9,455.8 186.1,452.7 186.4,446.6 186.6,446.7 186.8,452.2 187.1,448.2 187.3,450.9 187.5,446.6 187.8,446.9 188.0,450.4 188.2,449.5 188.5,450.2 188.7,449.6 188.9,450.4 189.2,448.7 189.4,451.6 189.6,447.7 189.9,452.1 190.1,454.1 190.3,459.9 190.6,461.8 190.8,459.6 191.1,459.2 191.3,459.7 191.5,461.1 191.8,458.6 192.0,463.1 192.2,458.9 192.5,459.6 192.7,459.2 192.9,458.1 193.2,461.6 193.4,459.9 193.6,458.9 193.9,461.7 194.1,460.3 194.3,462.3 194.6,460.0 194.8,458.0 195.0,461.6 195.3,456.8 195.5,460.2 195.7,452.9 196.0,457.9 196.2,459.0 196.4,459.3 196.7,459.6 196.9,461.5 197.1,461.3 197.4,461.9 197.6,459.2 197.8,456.5 198.1,478.9 198.3,478.0 198.5,481.0 198.8,480.7 199.0,479.6 199.2,480.8 199.5,478.0 199.7,481.2 199.9,479.0 200.2,480.3 200.4,474.2 200.6,477.8 200.9,477.4 201.1,479.3 201.3,477.6 201.6,481.6 201.8,481.1 202.1,478.7 202.3,479.3 202.5,480.9 202.8,479.7 203.0,479.7 203.2,483.1 203.5,479.5 203.7,482.2 203.9,482.8 204.2,479.7 204.4,479.0 204.6,478.6 204.9,482.4 205.1,479.3 205.3,477.8 205.6,477.7 205.8,478.1 206.0,478.6 206.3,481.6 206.5,479.8 206.7,482.1 207.0,475.2 207.2,481.6 207.4,478.6 207.7,482.3 207.9,479.1 208.1,483.1 208.4,480.3 208.6,484.8 208.8,479.9 209.1,482.6 209.3,482.5 209.5,478.3 209.8,482.4 210.0,479.8 210.2,481.9 210.5,482.0 210.7,482.5 210.9,480.8 211.2,479.9 211.4,479.2 211.6,478.9 211.9,482.6 212.1,482.4 212.3,481.7 212.6,481.5 212.8,481.9 213.1,480.2 213.3,480.9 213.5,483.0 213.8,476.9 214.0,484.0 214.2,481.3 214.5,483.1 214.7,479.8 214.9,480.6 215.2,480.5 215.4,479.7 215.6,479.3 215.9,486.0 216.1,480.7 216.3,479.2 216.6,480.5 216.8,482.4 217.0,481.9 217.3,479.3 217.5,483.0 217.7,476.5 218.0,480.9 218.2,480.5 218.4,482.2 218.7,477.8 218.9,477.5 219.1,478.1 219.4,477.0 219.6,480.8 219.8,478.5 220.1,481.1 220.3,482.8 220.5,483.5 220.8,480.9 221.0,486.6 221.2,484.7 221.5,487.7 221.7,483.4 221.9,486.3 222.2,482.9 222.4,484.2 222.6,487.9 222.9,485.8 223.1,482.8 223.3,486.7 223.6,484.1 223.8,483.6 224.1,484.4 224.3,486.9 224.5,483.2 224.8,483.9 225.0,482.7 225.2,483.3 225.5,486.0 225.7,484.4 225.9,483.9 226.2,485.9 226.4,487.3 226.6,482.8 226.9,485.3 227.1,485.1 227.3,487.5 227.6,488.0 227.8,483.8 228.0,484.2 228.3,485.7 228.5,488.6 228.7,486.3 229.0,484.4 229.2,487.5 229.4,484.1 229.7,486.3 229.9,485.8 230.1,485.9 230.4,485.7 230.6,484.3 230.8,487.0 231.1,487.6 231.3,483.9 231.5,483.8 231.8,487.8 232.0,486.3 232.2,485.7 232.5,488.2 232.7,488.5 232.9,485.5 233.2,490.3 233.4,485.7 233.6,487.4 233.9,490.0 234.1,486.3 234.3,484.8 234.6,479.5 234.8,488.7 235.1,489.4 235.3,487.5 235.5,489.5 235.8,489.5 236.0,487.6 236.2,487.8 236.5,486.7 236.7,486.6 236.9,484.6 237.2,484.8 237.4,487.4 237.6,487.6 237.9,488.5 238.1,487.3 238.3,485.6 238.6,485.3 238.8,487.6 239.0,485.7 239.3,488.1 239.5,487.0 239.7,485.8 240.0,484.5 240.2,486.0 240.4,487.9 240.7,487.8 240.9,487.6 241.1,484.3 241.4,483.8 241.6,489.0 241.8,489.0 242.1,489.4 242.3,492.1 242.5,494.5 242.8,497.3 243.0,492.0 243.2,492.2 243.5,492.8 243.7,493.7 243.9,489.0 244.2,493.0 244.4,492.7 244.6,490.0 244.9,491.5 245.1,488.3 245.3,493.2 245.6,493.1 245.8,490.9 246.1,492.5 246.3,492.6 246.5,494.3 246.8,490.3 247.0,490.0 247.2,491.2 247.5,492.8 247.7,492.1 247.9,491.8 248.2,489.6 248.4,492.0 248.6,491.1 248.9,491.5 249.1,484.8 249.3,492.0 249.6,487.7 249.8,490.9 250.0,492.8 250.3,491.3 250.5,488.8 250.7,490.9 251.0,490.9 251.2,492.5 251.4,490.9 251.7,488.8 251.9,493.5 252.1,486.0 252.4,489.1 252.6,489.2 252.8,492.3 253.1,492.7 253.3,493.1 253.5,489.9 253.8,489.9 254.0,488.4 254.2,492.5 254.5,492.0 254.7,490.8 254.9,488.7 255.2,491.3 255.4,487.7 255.6,491.6 255.9,488.6 256.1,493.1 256.3,489.3 256.6,490.8 256.8,492.2 257.0,490.4 257.3,493.4 257.5,490.6 257.8,492.2 258.0,489.8 258.2,490.7 258.5,487.4 258.7,490.3 258.9,491.1 259.2,491.3 259.4,492.5 259.6,491.4 259.9,491.7 260.1,497.8 260.3,489.4 260.6,490.9 260.8,494.0 261.0,493.2 261.3,492.3 261.5,491.4 261.7,490.9 262.0,490.0 262.2,493.8 262.4,489.7 262.7,492.0 262.9,491.3 263.1,492.6 263.4,486.0 263.6,493.5 263.8,493.3 264.1,491.5 264.3,493.6 264.5,494.4 264.8,489.4 265.0,494.9 265.2,489.9 265.5,493.6 265.7,493.8 265.9,491.9 266.2,489.3 266.4,487.0 266.6,482.8 266.9,489.3 267.1,485.2 267.3,485.9 267.6,485.9 267.8,483.5 268.0,481.9 268.3,485.2 268.5,484.0 268.8,488.3 269.0,483.4 269.2,488.2 269.5,482.6 269.7,487.6 269.9,484.6 270.2,486.1 270.4,484.5 270.6,484.0 270.9,487.5 271.1,484.4 271.3,484.1 271.6,488.0 271.8,490.8 272.0,488.6 272.3,480.2 272.5,488.0 272.7,486.9 273.0,486.7 273.2,483.8 273.4,483.1 273.7,485.3 273.9,476.8 274.1,483.7 274.4,483.2 274.6,489.1 274.8,486.7 275.1,482.9 275.3,482.3 275.5,482.0 275.8,488.6 276.0,486.8 276.2,487.1 276.5,483.8 276.7,482.6 276.9,485.9 277.2,484.6 277.4,483.6 277.6,484.2 277.9,480.5 278.1,483.0 278.3,482.7 278.6,487.2 278.8,487.6 279.0,482.7 279.3,488.7 279.5,487.8 279.8,482.0 280.0,486.0 280.2,485.0 280.5,482.2 280.7,488.5 280.9,482.7 281.2,485.6 281.4,484.5 281.6,484.5 281.9,483.1 282.1,485.0 282.3,487.2 282.6,485.9 282.8,486.2 283.0,482.7 283.3,483.6 283.5,484.1 283.7,485.3 284.0,483.1 284.2,480.8 284.4,484.7 284.7,485.4 284.9,487.4 285.1,485.8 285.4,485.4 285.6,484.8 285.8,486.7 286.1,481.6 286.3,476.2 286.5,476.4 286.8,479.7 287.0,478.8 287.2,480.6 287.5,477.5 287.7,482.1 287.9,479.5 288.2,479.5 288.4,483.6 288.6,480.9 288.9,477.0 289.1,480.1 289.3,479.0 289.6,483.9 289.8,480.5 290.0,480.2 290.3,480.9 290.5,476.9 290.8,479.4 291.0,478.2 291.2,484.6 291.5,482.6 291.7,483.7 291.9,479.4 292.2,483.1 292.4,479.0 292.6,466.9 292.9,462.6 293.1,467.6 293.3,473.1 293.6,457.4 293.8,466.8 294.0,464.2 294.3,457.0 294.5,459.9 294.7,462.9 295.0,455.9 295.2,463.9 295.4,461.8 295.7,457.7 295.9,456.8 296.1,464.3 296.4,455.6 296.6,456.4 296.8,467.0 297.1,459.9 297.3,469.3 297.5,458.6 297.8,456.3 298.0,462.2 298.2,463.1 298.5,461.4 298.7,460.9 298.9,456.1 299.2,459.3 299.4,483.7 299.6,475.3 299.9,480.8 300.1,483.8 300.3,476.6 300.6,483.2 300.8,491.4 301.0,475.5 301.3,479.6 301.5,482.7 301.8,489.6 302.0,477.6 302.2,476.6 302.5,488.9 302.7,477.6 302.9,475.4 303.2,478.5 303.4,478.7 303.6,483.8 303.9,483.1 304.1,469.0 304.3,480.8 304.6,480.4 304.8,481.5 305.0,478.6 305.3,481.5 305.5,478.8 305.7,480.3 306.0,481.1 306.2,478.1 306.4,476.7 306.7,483.8 306.9,400.0 307.1,482.6 307.4,476.2 307.6,483.8 307.8,479.3 308.1,480.2 308.3,487.0 308.5,474.8 308.8,475.5 309.0,483.4 309.2,480.9 309.5,481.5 309.7,476.7 309.9,476.0 310.2,475.9 310.4,476.4 310.6,481.2 310.9,478.2 311.1,479.5 311.3,475.5 311.6,481.7 311.8,482.3 312.0,480.5 312.3,479.9 312.5,482.2 312.8,479.2 313.0,475.5 313.2,480.1 313.5,480.3 313.7,475.9 313.9,482.5 314.2,479.7 314.4,480.9 314.6,480.4 314.9,476.4 315.1,480.0 315.3,484.3 315.6,480.2 315.8,479.1 316.0,484.1 316.3,481.0 316.5,480.0 316.7,479.9 317.0,478.1 317.2,475.1 317.4,486.6 317.7,480.9 317.9,481.8 318.1,480.7 318.4,479.2 318.6,479.5 318.8,475.6 319.1,478.1 319.3,479.3 319.5,481.0 319.8,476.2 320.0,484.4 320.2,475.8 320.5,482.1 320.7,471.8 320.9,483.9 321.2,483.5 321.4,476.7 321.6,478.6 321.9,478.1 322.1,475.9 322.3,477.9 322.6,480.7 322.8,477.6 323.0,474.9 323.3,477.7 323.5,483.3 323.8,485.7 324.0,482.8 324.2,481.4 324.5,478.1 324.7,481.0 324.9,473.4 325.2,483.0 325.4,478.7 325.6,474.3 325.9,478.8 326.1,479.9 326.3,481.5 326.6,478.6 326.8,480.8 327.0,475.4 327.3,475.9 327.5,477.6 327.7,478.4 328.0,478.7 328.2,482.5 328.4,481.0 328.7,485.2 328.9,481.4 329.1,485.0 329.4,483.8 329.6,486.4 329.8,481.6 330.1,477.6 330.3,479.8 330.5,479.9 330.8,480.0 331.0,478.5 331.2,479.8 331.5,480.8 331.7,482.4 331.9,483.4 332.2,480.4 332.4,478.8 332.6,485.3 332.9,482.4 333.1,480.0 333.3,485.4 333.6,489.1 333.8,474.4 334.0,478.7 334.3,482.6 334.5,482.9 334.8,479.5 335.0,479.3 335.2,479.1 335.5,478.6 335.7,482.8 335.9,490.8 336.2,481.6 336.4,478.7 336.6,478.7 336.9,482.5 337.1,478.9 337.3,482.6 337.6,479.5 337.8,481.5 338.0,483.0 338.3,480.5 338.5,483.0 338.7,476.8 339.0,476.5 339.2,475.7 339.4,477.9 339.7,480.7 339.9,480.5 340.1,478.7 340.4,482.8 340.6,475.2 340.8,478.9 341.1,483.9 341.3,483.0 341.5,476.2 341.8,481.6 342.0,475.3 342.2,477.6 342.5,483.4 342.7,479.1 342.9,481.9 343.2,484.3 343.4,479.3 343.6,487.8 343.9,484.0 344.1,479.0 344.3,480.5 344.6,481.3 344.8,477.9 345.0,481.1 345.3,481.3 345.5,483.7 345.8,479.0 346.0,476.0 346.2,480.8 346.5,477.4 346.7,482.9 346.9,475.9 347.2,476.2 347.4,483.3 347.6,480.9 347.9,477.6 348.1,481.8 348.3,476.4 348.6,480.2 348.8,479.6 349.0,481.1 349.3,478.8 349.5,481.0 349.7,477.7 350.0,480.6 350.2,481.2 350.4,481.2 350.7,476.3 350.9,484.6 351.1,479.4 351.4,482.0 351.6,481.8 351.8,483.7 352.1,483.6 352.3,481.7 352.5,480.5 352.8,480.3 353.0,495.0 353.2,478.6 353.5,480.6 353.7,483.7 353.9,478.3 354.2,477.1 354.4,476.3 354.6,479.0 354.9,483.3 355.1,476.9 355.3,486.2 355.6,482.3 355.8,478.9 356.0,478.8 356.3,480.3 356.5,472.6 356.8,480.0 357.0,478.4 357.2,480.9 357.5,481.2 357.7,478.1 357.9,485.4 358.2,484.1 358.4,483.5 358.6,483.6 358.9,482.3 359.1,480.1 359.3,477.9 359.6,482.2 359.8,477.8 360.0,480.2 360.3,479.4 360.5,478.6 360.7,483.3 361.0,479.2 361.2,483.3 361.4,479.6 361.7,486.0 361.9,479.0 362.1,484.4 362.4,480.0 362.6,482.9 362.8,477.6 363.1,477.0 363.3,482.1 363.5,477.9 363.8,481.3 364.0,484.8 364.2,482.8 364.5,478.7 364.7,481.9 364.9,484.1 365.2,481.5 365.4,481.6 365.6,477.5 365.9,479.2 366.1,482.4 366.3,481.2 366.6,479.1 366.8,483.0 367.0,479.4 367.3,477.5 367.5,488.3 367.8,480.3 368.0,479.3 368.2,480.8 368.5,480.7 368.7,481.2 368.9,482.8 369.2,483.8 369.4,484.6 369.6,480.9 369.9,483.4 370.1,482.5 370.3,483.6 370.6,479.8 370.8,479.3 371.0,477.8 371.3,477.4 371.5,482.8 371.7,478.5 372.0,474.3 372.2,482.6 372.4,480.4 372.7,477.4 372.9,483.3 373.1,478.3 373.4,475.0 373.6,475.0 373.8,478.9 374.1,480.8 374.3,475.2 374.5,478.0 374.8,480.6 375.0,480.2 375.2,482.2 375.5,483.7 375.7,475.9 375.9,479.2 376.2,480.5 376.4,481.0 376.6,481.6 376.9,480.4 377.1,485.6 377.3,481.2 377.6,475.3 377.8,482.5 378.0,478.6 378.3,479.2 378.5,482.3 378.8,481.1 379.0,478.7 379.2,475.8 379.5,482.3 379.7,471.3 379.9,475.2 380.2,474.4 380.4,476.1 380.6,480.9 380.9,476.8 381.1,475.7 381.3,473.0 381.6,473.9 381.8,474.3 382.0,480.9 382.3,475.8 382.5,476.3 382.7,477.2 383.0,480.7 383.2,478.9 383.4,480.2 383.7,481.1 383.9,483.1 384.1,479.1 384.4,479.4 384.6,477.9 384.8,479.6 385.1,449.9 385.3,456.7 385.5,453.6 385.8,454.2 386.0,453.7 386.2,453.7 386.5,445.0 386.7,451.7 386.9,439.0 387.2,467.5 387.4,467.5 387.6,439.4 387.9,474.2 388.1,453.8 388.3,444.3 388.6,444.3 388.8,442.4 389.0,439.0 389.3,439.0 389.5,478.6 389.7,473.8 390.0,473.8 390.2,473.8 390.5,449.5 390.7,449.9 390.9,449.9 391.2,455.4 391.4,462.9 391.6,462.9 391.9,456.6 392.1,441.4 392.3,441.4 392.6,441.4 392.8,453.3 393.0,457.7 393.3,447.5 393.5,445.0 393.7,448.9 394.0,457.4 394.2,457.4 394.4,449.7 394.7,458.1 394.9,470.9 395.1,469.8 395.4,462.3 395.6,469.2 395.8,464.5 396.1,461.8 396.3,462.2 396.5,469.5 396.8,467.8 397.0,467.9 397.2,460.9 397.5,470.6 397.7,465.1 397.9,466.3 398.2,464.3 398.4,464.2 398.6,471.5 398.9,467.4 399.1,464.5 399.3,471.2 399.6,463.2 399.8,462.3 400.0,463.3 400.3,466.9 400.5,463.3 400.7,467.2 401.0,467.7 401.2,436.9 401.5,434.3 401.7,435.2 401.9,436.0 402.2,435.5 402.4,436.1 402.6,436.3 402.9,433.6 403.1,435.7 403.3,435.0 403.6,434.3 403.8,436.1 404.0,436.0 404.3,436.2 404.5,438.6 404.7,438.3 405.0,435.4 405.2,438.4 405.4,433.5 405.7,433.4 405.9,433.7 406.1,436.6 406.4,438.8 406.6,434.6 406.8,436.4 407.1,437.5 407.3,433.6 407.5,434.0 407.8,439.0 408.0,435.5 408.2,433.0 408.5,439.6 408.7,440.6 408.9,438.5 409.2,439.4 409.4,432.9 409.6,432.5 409.9,436.7 410.1,432.0 410.3,430.6 410.6,434.3 410.8,435.2 411.0,430.8 411.3,434.2 411.5,435.1 411.7,435.1 412.0,434.7 412.2,434.6 412.5,435.2 412.7,432.9 412.9,431.2 413.2,436.1 413.4,434.6 413.6,432.7 413.9,434.2 414.1,438.1 414.3,439.2 414.6,439.6 414.8,426.6 415.0,455.2 415.3,454.6 415.5,451.6 415.7,456.3 416.0,451.2 416.2,452.9 416.4,454.6 416.7,455.8 416.9,456.1 417.1,456.3 417.4,454.1 417.6,453.6 417.8,456.9 418.1,452.1 418.3,454.0 418.5,456.4 418.8,455.2 419.0,453.8 419.2,460.4 419.5,449.6 419.7,450.8 419.9,455.2 420.2,449.1 420.4,456.1 420.6,451.2 420.9,457.6 421.1,450.2 421.3,454.6 421.6,450.0 421.8,450.3 422.0,449.9 422.3,450.0 422.5,449.6 422.7,454.9 423.0,453.3 423.2,449.5 423.5,448.9 423.7,452.4 423.9,453.7 424.2,458.7 424.4,456.0 424.6,450.0 424.9,449.3 425.1,456.2 425.3,454.8 425.6,452.0 425.8,457.6 426.0,454.1 426.3,457.9 426.5,453.2 426.7,450.2 427.0,452.7 427.2,454.4 427.4,449.1 427.7,450.8 427.9,448.0 428.1,453.5 428.4,449.2 428.6,449.3 428.8,454.4 429.1,449.5 429.3,448.5 429.5,455.7 429.8,447.4 430.0,450.1 430.2,450.0 430.5,452.6 430.7,451.8 430.9,450.5 431.2,441.1 431.4,452.1 431.6,451.9 431.9,445.7 432.1,447.7 432.3,450.0 432.6,446.9 432.8,448.7 433.0,447.9 433.3,450.1 433.5,450.1 433.7,451.6 434.0,449.5 434.2,444.7 434.5,447.1 434.7,442.9 434.9,442.5 435.2,446.1 435.4,447.1 435.6,450.3 435.9,449.5 436.1,450.5 436.3,448.3 436.6,448.8 436.8,459.2 437.0,453.1 437.3,450.1 437.5,452.4 437.7,452.3 438.0,451.6 438.2,443.0 438.4,444.1 438.7,442.2 438.9,445.6 439.1,446.2 439.4,449.8 439.6,444.1 439.8,446.0 440.1,446.7 440.3,445.7 440.5,444.4 440.8,451.3 441.0,445.3 441.2,445.0 441.5,445.3 441.7,443.2 441.9,447.8 442.2,447.0 442.4,451.2 442.6,446.5 442.9,448.7 443.1,446.5 443.3,448.0 443.6,448.9 443.8,447.5 444.0,445.8 444.3,444.9 444.5,468.5 444.7,445.7 445.0,477.2 445.2,449.5 445.5,473.6 445.7,485.2 445.9,481.8 446.2,456.9 446.4,471.5 446.6,478.5 446.9,455.5 447.1,450.4 447.3,455.8 447.6,482.9 447.8,458.7 448.0,477.9 448.3,454.9 448.5,459.1 448.7,481.6 449.0,477.4 449.2,465.0 449.4,450.5 449.7,466.5 449.9,485.7 450.1,477.7 450.4,451.8 450.6,485.8 450.8,456.7 451.1,461.1 451.3,484.3 451.5,448.4 451.8,456.4 452.0,479.4 452.2,478.6 452.5,481.3 452.7,478.8 452.9,483.0 453.2,478.8 453.4,480.4 453.6,477.1 453.9,482.5 454.1,483.1 454.3,478.4 454.6,480.3 454.8,481.6 455.0,483.5 455.3,479.7 455.5,482.3 455.7,477.1 456.0,481.3 456.2,478.5 456.5,483.3 456.7,478.4 456.9,479.1 457.2,481.3 457.4,484.2 457.6,480.4 457.9,490.1 458.1,478.0 458.3,483.1 458.6,478.6 458.8,481.8 459.0,483.5 459.3,479.7 459.5,477.2 459.7,483.0 460.0,477.3 460.2,481.4 460.4,480.0 460.7,483.2 460.9,480.1 461.1,481.0 461.4,481.6 461.6,480.6 461.8,478.8 462.1,478.9 462.3,481.0 462.5,480.4 462.8,482.1 463.0,481.7 463.2,480.2 463.5,481.1 463.7,481.6 463.9,479.7 464.2,481.6 464.4,481.9 464.6,480.1 464.9,485.0 465.1,481.0 465.3,480.6 465.6,483.1 465.8,484.6 466.0,484.4 466.3,480.9 466.5,484.1 466.7,479.9 467.0,482.4 467.2,482.0 467.5,487.7 467.7,482.8 467.9,482.8 468.2,485.9 468.4,484.9 468.6,480.5 468.9,482.3 469.1,487.3 469.3,486.6 469.6,476.3 469.8,484.3 470.0,483.1 470.3,485.5 470.5,483.7 470.7,481.3 471.0,483.1 471.2,486.7 471.4,482.6 471.7,491.7 471.9,484.9 472.1,489.0 472.4,484.6 472.6,490.6 472.8,483.0 473.1,481.1 473.3,483.9 473.5,484.8 473.8,483.4 474.0,482.7 474.2,490.0 474.5,485.1 474.7,485.1 474.9,484.9 475.2,491.7 475.4,492.5 475.6,484.2 475.9,490.5 476.1,491.9 476.3,488.4 476.6,491.8 476.8,488.0 477.0,492.3 477.3,491.4 477.5,492.1 477.7,492.1 478.0,490.8 478.2,488.0 478.5,491.5 478.7,491.2 478.9,491.7 479.2,489.4 479.4,489.0 479.6,489.1 479.9,491.1 480.1,490.9 480.3,489.5 480.6,489.2 480.8,493.6 481.0,492.2 481.3,496.7 481.5,490.0 481.7,488.5 482.0,490.1 482.2,488.8 482.4,493.5 482.7,492.0 482.9,491.4 483.1,489.3 483.4,487.7 483.6,492.4 483.8,490.8 484.1,493.0 484.3,490.7 484.5,488.2 484.8,490.0 485.0,489.3 485.2,491.3 485.5,490.1 485.7,490.5 485.9,493.0 486.2,491.3 486.4,489.8 486.6,489.4 486.9,488.0 487.1,491.9 487.3,488.9 487.6,490.4 487.8,490.2 488.0,492.1 488.3,490.6 488.5,492.5 488.7,488.7 489.0,491.4 489.2,491.7 489.5,490.6 489.7,491.9 489.9,493.4 490.2,489.3 490.4,488.0 490.6,491.3 490.9,493.1 491.1,492.0 491.3,488.6 491.6,492.2 491.8,487.9 492.0,488.5 492.3,489.5 492.5,490.1 492.7,491.2 493.0,490.2 493.2,487.5 493.4,491.7 493.7,489.7 493.9,490.9 494.1,493.1 494.4,488.1 494.6,488.8 494.8,488.3 495.1,485.6 495.3,482.7 495.5,486.8 495.8,485.3 496.0,493.1 496.2,482.1 496.5,489.3 496.7,492.6 496.9,497.5 497.2,496.8 497.4,484.9 497.6,493.1 497.9,496.0 498.1,493.2 498.3,485.5 498.6,482.2 498.8,484.5 499.0,511.6 499.3,490.7 499.5,488.4 499.7,485.7 500.0,492.7 500.2,482.6 500.4,498.6 500.7,485.0 500.9,491.7 501.2,494.3 501.4,489.6 501.6,486.2 501.9,486.6 502.1,486.8 502.3,493.8 502.6,489.8 502.8,478.7 503.0,483.3 503.3,485.4 503.5,481.9 503.7,492.6 504.0,491.3 504.2,494.5 504.4,493.3 504.7,480.9 504.9,495.7 505.1,494.5 505.4,482.6 505.6,485.1 505.8,490.2 506.1,485.6 506.3,492.7 506.5,486.5 506.8,493.4 507.0,495.5 507.2,495.1 507.5,490.2 507.7,485.9 507.9,483.3 508.2,491.5 508.4,487.2 508.6,491.7 508.9,480.6 509.1,486.7 509.3,487.4 509.6,486.2 509.8,487.7 510.0,496.3 510.3,497.7 510.5,496.5 510.7,493.9 511.0,496.2 511.2,489.1 511.4,495.3 511.7,491.4 511.9,497.1 512.2,496.6 512.4,491.1 512.6,487.0 512.9,495.4 513.1,496.4 513.3,491.1 513.6,487.4 513.8,497.6 514.0,495.0 514.3,500.0 514.5,496.0 514.7,497.5 515.0,489.4 515.2,495.8 515.4,490.5 515.7,488.0 515.9,488.3 516.1,494.5 516.4,489.0 516.6,489.1 516.8,494.3 517.1,493.8 517.3,495.1 517.5,499.3 517.8,490.9 518.0,492.1 518.2,498.6 518.5,497.0 518.7,489.5 518.9,496.9 519.2,496.0 519.4,490.2 519.6,488.1 519.9,490.0 520.1,494.2 520.3,486.0 520.6,492.2 520.8,496.5 521.0,495.4 521.3,489.2 521.5,486.9 521.7,486.4 522.0,498.4 522.2,494.3 522.4,486.8 522.7,492.4 522.9,494.0 523.2,487.8 523.4,494.9 523.6,493.4 523.9,495.2 524.1,492.3 524.3,495.7 524.6,494.6 524.8,497.0 525.0,498.7 525.3,500.4 525.5,500.9 525.7,502.5 526.0,499.8 526.2,500.5 526.4,500.8 526.7,501.6 526.9,502.5 527.1,501.2 527.4,500.3 527.6,501.2 527.8,499.6 528.1,501.9 528.3,502.1 528.5,502.5 528.8,498.0 529.0,500.6 529.2,502.0 529.5,502.1 529.7,501.8 529.9,500.5 530.2,502.3 530.4,502.4 530.6,500.0 530.9,502.9 531.1,501.2 531.3,502.8 531.6,500.2 531.8,501.9 532.0,502.2 532.3,499.1 532.5,502.3 532.7,499.5 533.0,499.3 533.2,496.6 533.4,499.9 533.7,499.7 533.9,501.6 534.2,501.3 534.4,499.7 534.6,499.6 534.9,502.1 535.1,500.0 535.3,501.4 535.6,499.5 535.8,502.1 536.0,501.3 536.3,500.0 536.5,501.0 536.7,499.5 537.0,502.2 537.2,499.4 537.4,499.0 537.7,499.5 537.9,500.4 538.1,501.5 538.4,498.6 538.6,499.6 538.8,500.0 539.1,502.2 539.3,501.7 539.5,499.9 539.8,501.5 540.0,500.8 540.2,500.0 540.5,501.5 540.7,500.2 540.9,501.7 541.2,500.4 541.4,499.3 541.6,502.3 541.9,499.5 542.1,500.8 542.3,499.9 542.6,499.6 542.8,500.7 543.0,502.2 543.3,502.6 543.5,500.8 543.7,499.8 544.0,501.9 544.2,499.7 544.4,502.2 544.7,503.2 544.9,498.9 545.2,500.1 545.4,499.9 545.6,501.2 545.9,502.3 546.1,500.2 546.3,499.5 546.6,500.7 546.8,502.0 547.0,502.5 547.3,503.0 547.5,502.8 547.7,501.6 548.0,502.4 548.2,501.2 548.4,501.1 548.7,501.3 548.9,501.6 549.1,500.0 549.4,501.5 549.6,501.6 549.8,499.7 550.1,500.8 550.3,500.4 550.5,501.9 550.8,498.3 551.0,500.1 551.2,499.0 551.5,499.5 551.7,500.3 551.9,499.1 552.2,500.4 552.4,500.2 552.6,501.2 552.9,502.1 553.1,499.3 553.3,500.2 553.6,502.3 553.8,500.5 554.0,499.6 554.3,503.0 554.5,499.7 554.7,501.0 555.0,501.0 555.2,501.9 555.4,502.6 555.7,500.3 555.9,503.1 556.2,501.1 556.4,500.9 556.6,501.6 556.9,501.3 557.1,496.7 557.3,499.8 557.6,499.2 557.8,499.8 558.0,498.9 558.3,499.0 558.5,498.4 558.7,500.7 559.0,502.8 559.2,497.3 559.4,499.4 559.7,501.0 559.9,496.7 560.1,498.9 560.4,502.0 560.6,502.1 560.8,501.6 561.1,501.4 561.3,500.9 561.5,501.6 561.8,501.6 562.0,497.7 562.2,499.9 562.5,501.3 562.7,503.8 562.9,500.5 563.2,500.3 563.4,499.6 563.6,501.1 563.9,499.7 564.1,500.4 564.3,501.4 564.6,500.1 564.8,499.9 565.0,504.0 565.3,502.0 565.5,499.7 565.7,500.0 566.0,502.2 566.2,501.2 566.4,501.5 566.7,500.7 566.9,499.6 567.2,501.6 567.4,502.4 567.6,502.1 567.9,500.1 568.1,502.5 568.3,500.2 568.6,500.1 568.8,500.1 569.0,502.2 569.3,499.7 569.5,502.4 569.7,502.2 570.0,500.1 570.2,501.2 570.4,501.7 570.7,500.5 570.9,501.9 571.1,499.3 571.4,500.2 571.6,500.1 571.8,498.8 572.1,501.5 572.3,500.8 572.5,502.1 572.8,498.9 573.0,499.2 573.2,501.2 573.5,501.5 573.7,500.1 573.9,501.8 574.2,502.6 574.4,499.7 574.6,501.2 574.9,502.6 575.1,501.0 575.3,498.3 575.6,500.8 575.8,502.1 576.0,501.2 576.3,501.7 576.5,501.2 576.7,504.5 577.0,501.2 577.2,502.1 577.4,501.1 577.7,500.6 577.9,500.5 578.2,499.0 578.4,500.3 578.6,505.6 578.9,500.2 579.1,500.5 579.3,502.6 579.6,502.5 579.8,502.8 580.0,500.0 580.3,501.5 580.5,499.8 580.7,499.8 581.0,502.3 581.2,502.2 581.4,502.3 581.7,502.1 581.9,502.5 582.1,501.3 582.4,500.4 582.6,499.1 582.8,499.5 583.1,499.3 583.3,499.2 583.5,500.6 583.8,501.2 584.0,499.2 584.2,500.2 584.5,502.6 584.7,501.0 584.9,500.2 585.2,500.8 585.4,501.9 585.6,500.3 585.9,502.0 586.1,502.7 586.3,501.2 586.6,500.6 586.8,500.4 587.0,501.8 587.3,500.2 587.5,501.3 587.7,502.0 588.0,500.7 588.2,501.3 588.4,501.0 588.7,501.2 588.9,501.5 589.2,499.9 589.4,499.6 589.6,499.9 589.9,498.3 590.1,497.5 590.3,494.0 590.6,494.6 590.8,494.2 591.0,496.8 591.3,497.7 591.5,490.2 591.7,497.2 592.0,493.1 592.2,493.8 592.4,494.7 592.7,495.0 592.9,496.1 593.1,496.8 593.4,495.8 593.6,493.6 593.8,498.0 594.1,497.5 594.3,497.9 594.5,498.1 594.8,499.2 595.0,497.7 595.2,498.3 595.5,496.3 595.7,499.0 595.9,498.7 596.2,495.2 596.4,495.0 596.6,498.6 596.9,497.5 597.1,498.3 597.3,496.3 597.6,501.5 597.8,500.8 598.0,504.3 598.3,501.9 598.5,501.1 598.7,504.3 599.0,500.9 599.2,501.3 599.4,502.9 599.7,502.5 599.9,504.2 600.2,504.5 600.4,502.2 600.6,501.2 600.9,502.6 601.1,502.6 601.3,502.1 601.6,504.1 601.8,501.2 602.0,503.1 602.3,503.5 602.5,503.1 602.7,501.4 603.0,502.1 603.2,500.5 603.4,501.6 603.7,503.7 603.9,500.8 604.1,501.9 604.4,501.5 604.6,502.8 604.8,503.5 605.1,503.2 605.3,501.0 605.5,502.0 605.8,503.2 606.0,502.6 606.2,502.4 606.5,501.7 606.7,504.1 606.9,502.7 607.2,503.1 607.4,501.9 607.6,502.2 607.9,502.8 608.1,504.3 608.3,501.9 608.6,501.5 608.8,501.1 609.0,501.9 609.3,501.5 609.5,502.9 609.7,501.4 610.0,501.7 610.2,500.8 610.4,503.3 610.7,503.8 610.9,503.1 611.2,501.6 611.4,500.4 611.6,500.5 611.9,497.7 612.1,500.3 612.3,498.7 612.6,496.8 612.8,497.5 613.0,499.4 613.3,500.2 613.5,498.4 613.7,499.8 614.0,496.8 614.2,499.7 614.4,496.3 614.7,495.8 614.9,498.4 615.1,497.1 615.4,496.4 615.6,496.2 615.8,499.8 616.1,497.9 616.3,502.5 616.5,498.9 616.8,501.1 617.0,500.3 617.2,498.7 617.5,501.1 617.7,497.5 617.9,497.0 618.2,500.0 618.4,495.5 618.6,497.8 618.9,497.1 619.1,503.7 619.3,501.3 619.6,501.0 619.8,503.2 620.0,500.5 620.3,501.4 620.5,501.3 620.7,502.6 621.0,501.2 621.2,502.1 621.4,500.8 621.7,502.9 621.9,503.1 622.1,501.9 622.4,502.4 622.6,501.5 622.9,503.0 623.1,501.7 623.3,500.3 623.6,502.5 623.8,501.9 624.0,503.1 624.3,502.8 624.5,500.3 624.7,500.8 625.0,501.5 625.2,502.3 625.4,502.2 625.7,499.4 625.9,502.4 626.1,500.6 626.4,499.9 626.6,500.1 626.8,501.3 627.1,503.1 627.3,500.8 627.5,500.1 627.8,502.1 628.0,502.7 628.2,502.3 628.5,501.9 628.7,502.6 628.9,501.8 629.2,500.8 629.4,502.1 629.6,502.7 629.9,502.7 630.1,498.7 630.3,500.8 630.6,503.7 630.8,502.3 631.0,502.6 631.3,501.9 631.5,503.3 631.7,501.1 632.0,501.5 632.2,501.9 632.4,501.3 632.7,502.2 632.9,501.0 633.1,500.0 633.4,500.1 633.6,500.1 633.9,505.6 634.1,506.9 634.3,503.2 634.6,500.8 634.8,502.9 635.0,502.4 635.3,503.0 635.5,502.0 635.7,498.5 636.0,499.5 636.2,502.4 636.4,499.9 636.7,501.1 636.9,500.7 637.1,502.2 637.4,503.2 637.6,499.9 637.8,499.7 638.1,500.4 638.3,502.5 638.5,503.1 638.8,501.6 639.0,501.5 639.2,503.1 639.5,503.8 639.7,501.8 639.9,501.3 640.2,501.1 640.4,502.6 640.6,501.5 640.9,503.2 641.1,502.1 641.3,502.0 641.6,503.7 641.8,506.7 642.0,503.1 642.3,500.3 642.5,502.4 642.7,502.7 643.0,498.1 643.2,503.2 643.4,503.0 643.7,501.4 643.9,503.1 644.1,502.0 644.4,502.4 644.6,501.0 644.9,501.6 645.1,504.3 645.3,504.1 645.6,500.9 645.8,502.7 646.0,501.6 646.3,501.3 646.5,502.4 646.7,501.2 647.0,501.9 647.2,502.3 647.4,500.6 647.7,502.6 647.9,503.0 648.1,501.7 648.4,504.5 648.6,504.3 648.8,500.0 649.1,501.9 649.3,502.6 649.5,500.4 649.8,501.9 650.0,501.1 650.2,503.2 650.5,500.9 650.7,502.7 650.9,501.9 651.2,502.6 651.4,501.0 651.6,501.3 651.9,500.0 652.1,502.6 652.3,500.4 652.6,503.3 652.8,502.9 653.0,500.7 653.3,501.7 653.5,502.6 653.7,501.3 654.0,500.7 654.2,501.2 654.4,501.3 654.7,499.8 654.9,502.7 655.1,501.2 655.4,503.0 655.6,502.0 655.9,502.3 656.1,502.3 656.3,500.5 656.6,501.6 656.8,503.2 657.0,501.2 657.3,502.1 657.5,502.1 657.7,501.8 658.0,501.4 658.2,501.0 658.4,501.3 658.7,500.9 658.9,502.5 659.1,503.8 659.4,501.2 659.6,502.1 659.8,501.7 660.1,503.5 660.3,502.8 660.5,502.7 660.8,501.8 661.0,503.2 661.2,501.9 661.5,500.6 661.7,501.8 661.9,503.5 662.2,507.2 662.4,504.0 662.6,500.1 662.9,500.8 663.1,502.9 663.3,502.4 663.6,502.5 663.8,501.2 664.0,502.0 664.3,502.6 664.5,500.9 664.7,501.7 665.0,504.6 665.2,503.6 665.4,500.7 665.7,502.6 665.9,504.1 666.1,500.9 666.4,503.5 666.6,500.4 666.9,500.6 667.1,501.4 667.3,502.7 667.6,501.2 667.8,503.3 668.0,503.1 668.3,500.9 668.5,502.0 668.7,503.8 669.0,503.5 669.2,502.6 669.4,500.6 669.7,501.7 669.9,500.9 670.1,501.2 670.4,502.8 670.6,500.1 670.8,502.4 671.1,502.0 671.3,502.8 671.5,502.9 671.8,500.0 672.0,500.2 672.2,503.2 672.5,501.8 672.7,501.1 672.9,502.7 673.2,501.9 673.4,501.3 673.6,500.8 673.9,501.5 674.1,502.4 674.3,503.7 674.6,502.0 674.8,501.2 675.0,502.5 675.3,501.7 675.5,503.4 675.7,500.8 676.0,500.5 676.2,500.6 676.4,504.1 676.7,502.9 676.9,501.7 677.1,501.7 677.4,502.6 677.6,501.8 677.9,502.1 678.1,504.1 678.3,501.7 678.6,501.5 678.8,503.2 679.0,502.2 679.3,500.7 679.5,503.7 679.7,501.4 680.0,500.6 680.2,504.0 680.4,502.8 680.7,500.3 680.9,500.7 681.1,500.9 681.4,503.5 681.6,502.9 681.8,501.1 682.1,503.4 682.3,503.5 682.5,501.5 682.8,503.7 683.0,501.6" fill="none" stroke="#00CBCC" stroke-width="1.6" stroke-linejoin="round"/>
<path d="M74.5,445.8 74.7,440.1 75.0,443.8 75.2,442.6 75.4,445.5 75.7,441.1 75.9,440.9 76.1,444.2 76.4,444.9 76.6,445.0 76.8,443.6 77.1,446.9 77.3,443.8 77.5,443.3 77.8,444.3 78.0,447.5 78.2,445.0 78.5,442.6 78.7,446.6 78.9,447.0 79.2,443.4 79.4,444.0 79.6,445.6 79.9,447.5 80.1,441.3 80.4,443.0 80.6,442.8 80.8,445.8 81.1,440.9 81.3,452.6 81.5,440.0 81.8,440.0 82.0,443.1 82.2,441.1 82.5,446.9 82.7,443.3 82.9,446.7 83.2,445.1 83.4,445.8 83.6,445.2 83.9,440.5 84.1,441.8 84.3,442.2 84.6,434.0 84.8,444.5 85.0,438.4 85.3,438.4 85.5,438.9 85.7,441.2 86.0,438.7 86.2,441.8 86.4,445.4 86.7,440.3 86.9,442.8 87.1,443.2 87.4,442.0 87.6,444.8 87.8,434.8 88.1,429.8 88.3,429.4 88.5,434.5 88.8,432.2 89.0,429.1 89.2,426.0 89.5,425.1 89.7,427.8 89.9,426.6 90.2,429.4 90.4,431.2 90.6,433.4 90.9,428.1 91.1,426.6 91.4,432.5 91.6,426.2 91.8,432.1 92.1,429.6 92.3,427.1 92.5,428.0 92.8,429.7 93.0,433.5 93.2,431.2 93.5,427.6 93.7,433.2 93.9,428.1 94.2,432.6 94.4,434.3 94.6,431.6 94.9,423.8 95.1,429.4 95.3,428.4 95.6,429.3 95.8,429.0 96.0,431.4 96.3,428.1 96.5,428.9 96.7,431.1 97.0,424.4 97.2,425.4 97.4,424.5 97.7,428.8 97.9,426.7 98.1,427.3 98.4,431.2 98.6,425.1 98.8,427.3 99.1,433.8 99.3,432.6 99.5,430.4 99.8,433.0 100.0,430.5 100.2,430.2 100.5,432.9 100.7,426.6 100.9,428.9 101.2,428.4 101.4,428.6 101.6,429.5 101.9,429.1 102.1,426.9 102.4,434.6 102.6,427.5 102.8,429.8 103.1,426.7 103.3,442.3 103.5,315.0 103.8,329.0 104.0,415.8 104.2,415.8 104.5,334.7 104.7,391.9 104.9,314.7 105.2,352.7 105.4,372.9 105.6,331.2 105.9,331.2 106.1,339.6 106.3,384.7 106.6,384.7 106.8,365.7 107.0,409.9 107.3,405.9 107.5,363.2 107.7,363.2 108.0,353.4 108.2,353.4 108.4,393.1 108.7,277.5 108.9,324.7 109.1,324.7 109.4,374.7 109.6,354.1 109.8,372.8 110.1,313.0 110.3,313.0 110.5,332.7 110.8,346.3 111.0,429.1 111.2,430.2 111.5,428.5 111.7,433.9 111.9,423.9 112.2,429.1 112.4,432.2 112.6,429.0 112.9,430.7 113.1,427.7 113.4,425.2 113.6,427.2 113.8,428.7 114.1,425.8 114.3,428.3 114.5,429.6 114.8,428.0 115.0,429.5 115.2,427.6 115.5,427.9 115.7,425.0 115.9,429.4 116.2,423.0 116.4,425.0 116.6,424.0 116.9,428.5 117.1,421.8 117.3,424.1 117.6,418.2 117.8,424.1 118.0,337.0 118.3,436.4 118.5,427.4 118.7,423.5 119.0,423.2 119.2,428.0 119.4,425.5 119.7,423.3 119.9,435.1 120.1,428.7 120.4,421.9 120.6,445.0 120.8,428.3 121.1,426.7 121.3,437.3 121.5,427.8 121.8,436.4 122.0,445.7 122.2,443.7 122.5,443.5 122.7,436.4 122.9,431.6 123.2,432.2 123.4,441.7 123.6,441.0 123.9,439.7 124.1,442.0 124.4,440.2 124.6,438.9 124.8,439.2 125.1,433.5 125.3,429.3 125.5,435.0 125.8,430.4 126.0,424.9 126.2,432.9 126.5,411.3 126.7,421.8 126.9,423.0 127.2,420.0 127.4,420.0 127.6,417.1 127.9,422.0 128.1,424.3 128.3,411.6 128.6,419.8 128.8,411.0 129.0,413.2 129.3,420.2 129.5,423.1 129.7,423.3 130.0,435.0 130.2,414.9 130.4,414.9 130.7,424.2 130.9,426.8 131.1,429.2 131.4,429.2 131.6,418.4 131.8,422.1 132.1,427.5 132.3,422.3 132.5,422.4 132.8,418.8 133.0,426.8 133.2,426.8 133.5,421.7 133.7,426.1 133.9,426.1 134.2,418.2 134.4,416.0 134.6,410.4 134.9,399.7 135.1,414.9 135.3,414.3 135.6,409.8 135.8,411.9 136.1,411.1 136.3,409.0 136.5,405.3 136.8,408.4 137.0,412.8 137.2,408.3 137.5,416.8 137.7,417.5 137.9,417.7 138.2,414.0 138.4,418.9 138.6,412.3 138.9,409.9 139.1,417.7 139.3,411.4 139.6,416.9 139.8,420.5 140.0,435.2 140.3,432.6 140.5,435.8 140.7,429.3 141.0,431.4 141.2,428.5 141.4,433.8 141.7,429.8 141.9,429.8 142.1,432.6 142.4,433.0 142.6,426.3 142.8,429.1 143.1,434.6 143.3,428.4 143.5,429.0 143.8,428.0 144.0,433.7 144.2,428.4 144.5,429.1 144.7,427.4 144.9,433.9 145.2,427.5 145.4,434.1 145.6,423.0 145.9,428.8 146.1,430.6 146.3,435.0 146.6,439.7 146.8,428.7 147.1,433.1 147.3,429.2 147.5,433.1 147.8,430.2 148.0,434.4 148.2,422.3 148.5,431.3 148.7,431.5 148.9,424.8 149.2,431.4 149.4,424.5 149.6,430.3 149.9,428.7 150.1,431.9 150.3,431.0 150.6,431.4 150.8,426.4 151.0,429.1 151.3,425.3 151.5,430.0 151.7,426.9 152.0,433.1 152.2,423.3 152.4,427.5 152.7,428.4 152.9,429.9 153.1,431.0 153.4,429.3 153.6,428.8 153.8,425.6 154.1,427.3 154.3,431.2 154.5,428.7 154.8,426.8 155.0,425.6 155.2,421.8 155.5,424.0 155.7,421.3 155.9,427.3 156.2,415.1 156.4,415.3 156.6,401.1 156.9,405.6 157.1,407.1 157.3,404.2 157.6,409.7 157.8,408.0 158.1,407.3 158.3,415.6 158.5,401.1 158.8,412.1 159.0,400.0 159.2,413.6 159.5,400.7 159.7,408.3 159.9,411.3 160.2,412.3 160.4,416.1 160.6,411.3 160.9,408.2 161.1,403.2 161.3,350.7 161.6,362.8 161.8,416.4 162.0,338.0 162.3,404.5 162.5,404.8 162.7,360.0 163.0,360.0 163.2,412.1 163.4,368.1 163.7,368.1 163.9,390.1 164.1,390.0 164.4,381.4 164.6,387.5 164.8,377.1 165.1,338.0 165.3,406.4 165.5,371.7 165.8,384.3 166.0,359.7 166.2,355.9 166.5,355.9 166.7,415.8 166.9,415.8 167.2,415.8 167.4,418.0 167.6,399.0 167.9,345.0 168.1,371.2 168.3,406.7 168.6,182.5 168.8,182.5 169.1,89.6 169.3,170.6 169.5,154.1 169.8,202.0 170.0,150.3 170.2,189.5 170.5,139.7 170.7,196.4 170.9,114.6 171.2,197.6 171.4,164.5 171.6,188.8 171.9,143.5 172.1,137.3 172.3,165.2 172.6,169.3 172.8,169.3 173.0,155.7 173.3,158.9 173.5,176.5 173.7,176.5 174.0,181.9 174.2,113.0 174.4,126.6 174.7,176.3 174.9,168.5 175.1,139.4 175.4,137.4 175.6,145.0 175.8,74.1 176.1,97.0 176.3,97.0 176.5,78.1 176.8,78.1 177.0,71.1 177.2,37.0 177.5,73.3 177.7,95.6 177.9,95.6 178.2,95.6 178.4,104.2 178.6,104.2 178.9,65.9 179.1,65.9 179.3,86.8 179.6,88.2 179.8,88.2 180.1,70.2 180.3,60.5 180.5,60.5 180.8,65.8 181.0,97.1 181.2,107.7 181.5,67.6 181.7,110.8 181.9,70.4 182.2,81.6 182.4,95.0 182.6,95.0 182.9,107.2 183.1,311.8 183.3,317.1 183.6,320.1 183.8,319.3 184.0,315.0 184.3,318.0 184.5,314.9 184.7,322.6 185.0,319.4 185.2,321.4 185.4,318.4 185.7,316.9 185.9,314.9 186.1,321.9 186.4,315.1 186.6,312.6 186.8,317.6 187.1,323.3 187.3,321.9 187.5,324.0 187.8,317.3 188.0,313.7 188.2,310.2 188.5,329.5 188.7,319.1 188.9,319.4 189.2,314.6 189.4,314.9 189.6,315.2 189.9,319.6 190.1,316.7 190.3,311.3 190.6,315.0 190.8,370.9 191.1,363.2 191.3,371.1 191.5,373.1 191.8,381.5 192.0,381.5 192.2,382.8 192.5,382.8 192.7,364.4 192.9,378.6 193.2,366.2 193.4,371.6 193.6,382.1 193.9,382.1 194.1,375.4 194.3,369.3 194.6,359.6 194.8,375.2 195.0,363.0 195.3,373.6 195.5,373.6 195.7,367.1 196.0,370.5 196.2,377.1 196.4,366.3 196.7,369.6 196.9,369.6 197.1,370.0 197.4,370.0 197.6,370.0 197.8,370.0 198.1,407.0 198.3,405.3 198.5,398.5 198.8,401.3 199.0,403.2 199.2,406.3 199.5,402.0 199.7,407.7 199.9,399.8 200.2,407.1 200.4,409.4 200.6,404.8 200.9,401.9 201.1,407.9 201.3,407.9 201.6,400.3 201.8,401.7 202.1,404.7 202.3,408.5 202.5,405.7 202.8,395.5 203.0,409.1 203.2,405.1 203.5,401.5 203.7,400.9 203.9,402.4 204.2,405.5 204.4,409.0 204.6,400.0 204.9,402.9 205.1,465.0 205.3,468.3 205.6,460.6 205.8,464.4 206.0,467.5 206.3,466.4 206.5,466.1 206.7,465.3 207.0,461.6 207.2,456.4 207.4,466.3 207.7,464.2 207.9,463.6 208.1,470.7 208.4,464.0 208.6,468.4 208.8,468.3 209.1,466.3 209.3,468.8 209.5,464.2 209.8,469.8 210.0,466.3 210.2,467.0 210.5,464.9 210.7,468.4 210.9,466.2 211.2,463.7 211.4,466.3 211.6,467.2 211.9,465.4 212.1,460.4 212.3,460.3 212.6,458.3 212.8,464.8 213.1,455.5 213.3,460.3 213.5,463.0 213.8,459.4 214.0,458.1 214.2,463.8 214.5,462.2 214.7,466.0 214.9,462.8 215.2,463.7 215.4,460.2 215.6,458.3 215.9,462.7 216.1,460.4 216.3,468.7 216.6,459.8 216.8,460.7 217.0,462.6 217.3,462.1 217.5,461.0 217.7,461.6 218.0,461.8 218.2,461.3 218.4,463.7 218.7,459.3 218.9,460.2 219.1,462.9 219.4,464.0 219.6,459.4 219.8,460.9 220.1,462.8 220.3,462.2 220.5,460.2 220.8,459.0 221.0,489.7 221.2,492.5 221.5,491.7 221.7,489.0 221.9,493.9 222.2,489.8 222.4,493.6 222.6,496.4 222.9,491.7 223.1,491.4 223.3,493.4 223.6,491.2 223.8,491.4 224.1,491.7 224.3,491.2 224.5,492.8 224.8,489.6 225.0,494.0 225.2,493.7 225.5,487.9 225.7,494.7 225.9,489.8 226.2,494.7 226.4,489.7 226.6,489.9 226.9,492.1 227.1,493.2 227.3,489.7 227.6,490.9 227.8,493.5 228.0,489.9 228.3,484.5 228.5,492.2 228.7,487.7 229.0,491.4 229.2,489.8 229.4,494.7 229.7,493.4 229.9,496.1 230.1,489.8 230.4,495.2 230.6,493.8 230.8,492.8 231.1,491.1 231.3,492.2 231.5,497.0 231.8,490.6 232.0,497.5 232.2,494.3 232.5,490.7 232.7,490.8 232.9,491.7 233.2,492.1 233.4,492.5 233.6,492.5 233.9,492.1 234.1,455.5 234.3,450.4 234.6,441.2 234.8,453.3 235.1,462.5 235.3,469.2 235.5,469.0 235.8,456.6 236.0,468.5 236.2,467.9 236.5,470.3 236.7,470.6 236.9,456.5 237.2,452.8 237.4,454.4 237.6,465.9 237.9,460.1 238.1,448.0 238.3,469.3 238.6,463.7 238.8,455.2 239.0,465.3 239.3,454.9 239.5,467.6 239.7,464.2 240.0,483.7 240.2,460.7 240.4,459.1 240.7,459.0 240.9,465.1 241.1,451.9 241.4,459.6 241.6,501.0 241.8,500.0 242.1,497.1 242.3,498.3 242.5,499.8 242.8,498.8 243.0,506.2 243.2,497.2 243.5,499.3 243.7,495.6 243.9,498.9 244.2,502.0 244.4,496.7 244.6,493.4 244.9,501.7 245.1,493.6 245.3,495.4 245.6,491.8 245.8,492.9 246.1,495.1 246.3,505.1 246.5,499.3 246.8,494.6 247.0,494.6 247.2,491.2 247.5,493.0 247.7,498.2 247.9,493.0 248.2,495.1 248.4,492.7 248.6,497.0 248.9,492.7 249.1,492.5 249.3,496.7 249.6,492.8 249.8,495.7 250.0,497.8 250.3,491.1 250.5,492.9 250.7,494.5 251.0,497.4 251.2,505.3 251.4,496.4 251.7,500.0 251.9,493.8 252.1,494.5 252.4,495.3 252.6,494.3 252.8,494.6 253.1,493.8 253.3,498.0 253.5,498.5 253.8,491.9 254.0,492.9 254.2,494.2 254.5,494.3 254.7,500.4 254.9,494.7 255.2,497.3 255.4,493.4 255.6,498.4 255.9,490.5 256.1,496.5 256.3,494.2 256.6,498.8 256.8,499.0 257.0,496.6 257.3,497.2 257.5,496.4 257.8,494.3 258.0,497.0 258.2,493.6 258.5,493.2 258.7,499.6 258.9,496.9 259.2,495.9 259.4,497.3 259.6,497.9 259.9,494.8 260.1,495.9 260.3,493.4 260.6,498.7 260.8,499.6 261.0,495.3 261.3,492.4 261.5,500.0 261.7,496.5 262.0,497.0 262.2,493.4 262.4,497.4 262.7,497.5 262.9,495.0 263.1,491.9 263.4,494.4 263.6,497.3 263.8,499.3 264.1,496.9 264.3,496.4 264.5,495.4 264.8,492.9 265.0,490.2 265.2,501.3 265.5,494.8 265.7,493.0 265.9,495.6 266.2,492.3 266.4,490.9 266.6,491.8 266.9,490.8 267.1,493.6 267.3,495.6 267.6,491.4 267.8,496.1 268.0,493.2 268.3,492.2 268.5,492.7 268.8,486.0 269.0,490.9 269.2,495.8 269.5,494.1 269.7,496.4 269.9,493.5 270.2,494.2 270.4,495.5 270.6,495.2 270.9,493.3 271.1,494.7 271.3,490.2 271.6,497.6 271.8,502.1 272.0,491.6 272.3,492.2 272.5,491.5 272.7,492.9 273.0,495.5 273.2,490.2 273.4,492.9 273.7,494.0 273.9,491.2 274.1,493.4 274.4,492.3 274.6,492.5 274.8,491.7 275.1,492.0 275.3,492.7 275.5,495.8 275.8,493.1 276.0,496.3 276.2,493.6 276.5,493.0 276.7,492.1 276.9,494.4 277.2,491.8 277.4,495.1 277.6,491.9 277.9,498.1 278.1,497.5 278.3,493.7 278.6,492.6 278.8,496.3 279.0,491.4 279.3,494.3 279.5,496.7 279.8,495.6 280.0,494.1 280.2,498.5 280.5,491.9 280.7,492.8 280.9,495.7 281.2,493.1 281.4,493.0 281.6,493.5 281.9,496.5 282.1,494.8 282.3,492.1 282.6,495.3 282.8,490.9 283.0,491.9 283.3,493.8 283.5,494.5 283.7,490.7 284.0,490.3 284.2,493.7 284.4,493.7 284.7,494.1 284.9,495.3 285.1,493.4 285.4,491.6 285.6,493.8 285.8,493.6 286.1,487.7 286.3,493.6 286.5,490.5 286.8,491.6 287.0,490.6 287.2,491.4 287.5,492.4 287.7,491.5 287.9,487.5 288.2,485.0 288.4,496.9 288.6,491.7 288.9,490.2 289.1,492.7 289.3,493.5 289.6,492.4 289.8,490.7 290.0,493.7 290.3,493.4 290.5,486.3 290.8,490.8 291.0,490.9 291.2,490.9 291.5,491.9 291.7,488.0 291.9,490.8 292.2,493.0 292.4,489.0 292.6,488.8 292.9,492.6 293.1,492.5 293.3,484.5 293.6,488.7 293.8,487.3 294.0,489.9 294.3,493.1 294.5,489.4 294.7,488.1 295.0,487.7 295.2,487.3 295.4,491.9 295.7,491.3 295.9,496.2 296.1,493.3 296.4,493.2 296.6,489.8 296.8,487.6 297.1,489.9 297.3,485.1 297.5,489.6 297.8,489.6 298.0,489.8 298.2,485.3 298.5,493.2 298.7,491.9 298.9,494.7 299.2,491.8 299.4,455.2 299.6,490.0 299.9,448.8 300.1,469.3 300.3,463.1 300.6,453.5 300.8,457.3 301.0,473.4 301.3,473.4 301.5,464.4 301.8,459.1 302.0,480.4 302.2,480.4 302.5,486.0 302.7,475.9 302.9,469.1 303.2,483.0 303.4,462.1 303.6,461.9 303.9,448.4 304.1,474.1 304.3,484.2 304.6,484.2 304.8,484.2 305.0,464.7 305.3,464.7 305.5,464.7 305.7,471.2 306.0,469.4 306.2,449.8 306.4,467.2 306.7,467.2 306.9,477.3 307.1,473.5 307.4,464.6 307.6,463.2 307.8,460.7 308.1,492.0 308.3,448.3 308.5,448.3 308.8,453.5 309.0,484.0 309.2,484.0 309.5,446.3 309.7,430.7 309.9,466.9 310.2,457.8 310.4,468.8 310.6,492.0 310.9,432.4 311.1,474.6 311.3,492.0 311.6,492.0 311.8,474.3 312.0,465.4 312.3,470.1 312.5,471.7 312.8,461.3 313.0,447.8 313.2,443.7 313.5,477.1 313.7,477.1 313.9,459.6 314.2,449.5 314.4,449.5 314.6,449.5 314.9,439.8 315.1,450.2 315.3,463.6 315.6,433.1 315.8,411.0 316.0,440.0 316.3,468.9 316.5,454.9 316.7,431.3 317.0,431.3 317.2,458.7 317.4,428.8 317.7,425.4 317.9,417.2 318.1,415.6 318.4,444.5 318.6,437.9 318.8,435.2 319.1,440.3 319.3,440.3 319.5,431.2 319.8,467.4 320.0,428.1 320.2,438.9 320.5,438.9 320.7,452.5 320.9,419.0 321.2,446.5 321.4,420.3 321.6,446.2 321.9,446.2 322.1,440.9 322.3,438.2 322.6,421.3 322.8,442.5 323.0,442.5 323.3,442.5 323.5,410.2 323.8,442.4 324.0,448.8 324.2,448.8 324.5,441.9 324.7,413.7 324.9,458.0 325.2,416.8 325.4,454.6 325.6,474.6 325.9,461.3 326.1,459.7 326.3,459.7 326.6,460.3 326.8,445.6 327.0,445.6 327.3,445.6 327.5,438.3 327.7,477.0 328.0,440.9 328.2,423.0 328.4,444.3 328.7,461.7 328.9,442.9 329.1,442.9 329.4,424.8 329.6,457.2 329.8,456.9 330.1,483.4 330.3,435.0 330.5,434.6 330.8,408.5 331.0,453.2 331.2,426.2 331.5,456.3 331.7,456.3 331.9,403.1 332.2,467.8 332.4,431.8 332.6,429.9 332.9,429.9 333.1,472.3 333.3,448.7 333.6,431.6 333.8,463.4 334.0,462.4 334.3,462.4 334.5,436.1 334.8,451.7 335.0,472.4 335.2,443.4 335.5,430.6 335.7,464.5 335.9,488.0 336.2,449.5 336.4,427.6 336.6,433.7 336.9,443.4 337.1,443.4 337.3,443.4 337.6,397.3 337.8,417.9 338.0,434.3 338.3,449.5 338.5,449.5 338.7,447.6 339.0,447.6 339.2,447.6 339.4,444.6 339.7,444.6 339.9,459.7 340.1,459.7 340.4,423.8 340.6,442.2 340.8,488.0 341.1,427.4 341.3,445.2 341.5,436.0 341.8,422.0 342.0,415.7 342.2,415.7 342.5,444.5 342.7,444.5 342.9,444.2 343.2,401.0 343.4,418.3 343.6,418.3 343.9,404.5 344.1,467.7 344.3,435.5 344.6,435.5 344.8,418.8 345.0,413.1 345.3,442.4 345.5,409.2 345.8,477.6 346.0,434.9 346.2,434.9 346.5,416.7 346.7,416.7 346.9,401.0 347.2,483.9 347.4,487.9 347.6,460.2 347.9,441.0 348.1,441.0 348.3,450.8 348.6,450.8 348.8,450.8 349.0,446.0 349.3,401.2 349.5,401.2 349.7,457.1 350.0,471.1 350.2,437.4 350.4,460.1 350.7,442.6 350.9,442.5 351.1,429.6 351.4,462.2 351.6,462.2 351.8,462.2 352.1,462.2 352.3,426.1 352.5,476.8 352.8,467.8 353.0,467.8 353.2,467.6 353.5,405.2 353.7,436.0 353.9,436.0 354.2,453.5 354.4,430.6 354.6,479.4 354.9,461.8 355.1,447.5 355.3,450.2 355.6,446.5 355.8,468.1 356.0,454.8 356.3,435.7 356.5,424.5 356.8,432.8 357.0,446.5 357.2,423.6 357.5,420.1 357.7,439.4 357.9,433.0 358.2,424.9 358.4,424.9 358.6,401.7 358.9,405.2 359.1,405.2 359.3,430.4 359.6,426.8 359.8,418.4 360.0,425.0 360.3,425.0 360.5,425.0 360.7,425.0 361.0,414.7 361.2,430.6 361.4,435.6 361.7,435.6 361.9,413.1 362.1,415.5 362.4,431.0 362.6,439.4 362.8,405.9 363.1,472.7 363.3,492.0 363.5,448.7 363.8,448.7 364.0,424.9 364.2,456.8 364.5,439.6 364.7,457.2 364.9,443.0 365.2,434.8 365.4,490.9 365.6,490.9 365.9,466.7 366.1,412.0 366.3,413.8 366.6,413.8 366.8,425.9 367.0,468.7 367.3,468.7 367.5,441.8 367.8,441.8 368.0,452.6 368.2,481.6 368.5,481.6 368.7,455.4 368.9,461.2 369.2,460.8 369.4,460.8 369.6,427.0 369.9,429.6 370.1,422.5 370.3,422.5 370.6,433.1 370.8,469.1 371.0,469.1 371.3,473.6 371.5,491.2 371.7,461.9 372.0,453.6 372.2,477.0 372.4,429.3 372.7,429.3 372.9,425.8 373.1,481.9 373.4,476.0 373.6,478.1 373.8,487.8 374.1,481.6 374.3,480.3 374.5,479.8 374.8,486.0 375.0,475.2 375.2,485.1 375.5,477.2 375.7,483.2 375.9,483.2 376.2,483.1 376.4,483.6 376.6,491.1 376.9,483.4 377.1,481.2 377.3,480.1 377.6,478.5 377.8,481.7 378.0,478.4 378.3,477.5 378.5,482.9 378.8,479.0 379.0,485.3 379.2,477.3 379.5,479.1 379.7,491.9 379.9,491.7 380.2,484.2 380.4,491.0 380.6,494.3 380.9,491.7 381.1,495.5 381.3,489.8 381.6,487.6 381.8,491.6 382.0,494.3 382.3,494.0 382.5,491.1 382.7,496.1 383.0,498.9 383.2,492.7 383.4,490.4 383.7,491.3 383.9,490.1 384.1,495.0 384.4,494.4 384.6,487.5 384.8,488.7 385.1,491.5 385.3,489.7 385.5,495.1 385.8,491.5 386.0,488.0 386.2,489.3 386.5,489.6 386.7,490.9 386.9,488.9 387.2,495.1 387.4,488.3 387.6,492.8 387.9,489.5 388.1,489.8 388.3,491.0 388.6,489.3 388.8,492.4 389.0,489.3 389.3,491.6 389.5,490.7 389.7,489.9 390.0,488.7 390.2,492.7 390.5,488.9 390.7,494.1 390.9,489.2 391.2,494.3 391.4,496.3 391.6,490.7 391.9,492.0 392.1,487.8 392.3,495.0 392.6,493.7 392.8,491.3 393.0,492.3 393.3,490.6 393.5,492.6 393.7,492.1 394.0,490.1 394.2,490.0 394.4,493.8 394.7,489.9 394.9,493.6 395.1,490.8 395.4,495.0 395.6,494.7 395.8,496.2 396.1,488.9 396.3,494.3 396.5,494.2 396.8,489.2 397.0,491.3 397.2,492.8 397.5,492.6 397.7,495.1 397.9,489.5 398.2,494.0 398.4,489.2 398.6,490.0 398.9,493.4 399.1,494.2 399.3,493.6 399.6,493.5 399.8,490.9 400.0,490.6 400.3,495.8 400.5,495.6 400.7,493.8 401.0,496.2 401.2,492.2 401.5,489.9 401.7,494.3 401.9,494.8 402.2,495.5 402.4,491.7 402.6,487.2 402.9,486.0 403.1,493.1 403.3,492.0 403.6,492.3 403.8,487.6 404.0,491.7 404.3,491.3 404.5,490.8 404.7,486.7 405.0,485.3 405.2,488.6 405.4,489.9 405.7,485.8 405.9,487.7 406.1,488.9 406.4,490.6 406.6,490.2 406.8,488.0 407.1,487.0 407.3,483.9 407.5,482.3 407.8,489.3 408.0,488.2 408.2,486.5 408.5,484.8 408.7,489.8 408.9,485.1 409.2,487.7 409.4,488.5 409.6,490.3 409.9,483.9 410.1,489.8 410.3,488.1 410.6,485.6 410.8,481.6 411.0,487.2 411.3,488.5 411.5,488.0 411.7,483.8 412.0,483.2 412.2,484.7 412.5,481.3 412.7,487.1 412.9,482.9 413.2,489.7 413.4,486.5 413.6,490.2 413.9,488.1 414.1,488.9 414.3,495.5 414.6,491.1 414.8,484.7 415.0,479.4 415.3,478.7 415.5,473.9 415.7,478.1 416.0,476.3 416.2,472.1 416.4,477.9 416.7,473.7 416.9,475.1 417.1,471.9 417.4,475.9 417.6,477.7 417.8,480.8 418.1,477.4 418.3,479.9 418.5,479.0 418.8,481.2 419.0,475.1 419.2,471.9 419.5,483.4 419.7,476.1 419.9,477.9 420.2,481.0 420.4,483.0 420.6,483.7 420.9,482.0 421.1,477.2 421.3,477.6 421.6,476.9 421.8,479.5 422.0,478.0 422.3,481.5 422.5,478.4 422.7,467.8 423.0,460.9 423.2,459.8 423.5,464.8 423.7,465.6 423.9,467.2 424.2,456.4 424.4,464.7 424.6,467.5 424.9,460.2 425.1,462.0 425.3,463.9 425.6,463.6 425.8,462.6 426.0,463.5 426.3,459.0 426.5,458.6 426.7,466.0 427.0,461.2 427.2,462.1 427.4,465.7 427.7,461.4 427.9,458.6 428.1,460.2 428.4,463.5 428.6,465.0 428.8,462.4 429.1,462.6 429.3,460.2 429.5,465.9 429.8,463.8 430.0,465.7 430.2,467.8 430.5,477.5 430.7,475.4 430.9,484.1 431.2,473.2 431.4,469.0 431.6,482.7 431.9,482.7 432.1,482.8 432.3,474.1 432.6,481.7 432.8,484.1 433.0,478.6 433.3,476.4 433.5,480.7 433.7,474.7 434.0,486.0 434.2,475.2 434.5,480.9 434.7,474.1 434.9,483.5 435.2,478.4 435.4,480.0 435.6,473.9 435.9,483.8 436.1,475.6 436.3,475.9 436.6,479.6 436.8,448.5 437.0,436.1 437.3,439.9 437.5,439.6 437.7,443.7 438.0,440.9 438.2,439.5 438.4,437.5 438.7,439.8 438.9,439.2 439.1,438.2 439.4,438.4 439.6,438.7 439.8,438.0 440.1,444.3 440.3,437.6 440.5,441.5 440.8,439.7 441.0,439.9 441.2,444.6 441.5,443.5 441.7,440.7 441.9,443.3 442.2,438.7 442.4,440.0 442.6,439.7 442.9,442.5 443.1,439.8 443.3,438.7 443.6,443.4 443.8,441.6 444.0,443.8 444.3,440.0 444.5,444.1 444.7,443.5 445.0,445.1 445.2,444.8 445.5,441.1 445.7,442.2 445.9,443.0 446.2,441.5 446.4,443.9 446.6,443.6 446.9,442.3 447.1,439.7 447.3,448.6 447.6,440.5 447.8,440.0 448.0,442.9 448.3,444.8 448.5,438.4 448.7,439.5 449.0,434.1 449.2,438.6 449.4,441.4 449.7,440.9 449.9,440.6 450.1,439.6 450.4,444.5 450.6,442.5 450.8,443.5 451.1,440.8 451.3,440.3 451.5,439.1 451.8,438.8 452.0,440.4 452.2,437.6 452.5,443.7 452.7,438.1 452.9,443.0 453.2,437.1 453.4,438.6 453.6,442.0 453.9,437.8 454.1,442.7 454.3,441.8 454.6,437.9 454.8,440.7 455.0,436.4 455.3,440.1 455.5,438.7 455.7,440.0 456.0,437.6 456.2,438.6 456.5,438.2 456.7,440.1 456.9,443.7 457.2,443.5 457.4,445.2 457.6,443.3 457.9,439.0 458.1,406.3 458.3,399.1 458.6,407.6 458.8,401.2 459.0,408.0 459.3,405.0 459.5,399.7 459.7,406.0 460.0,401.1 460.2,404.3 460.4,406.1 460.7,404.4 460.9,404.3 461.1,401.6 461.4,401.7 461.6,404.7 461.8,409.1 462.1,407.5 462.3,407.9 462.5,400.1 462.8,408.0 463.0,408.3 463.2,402.0 463.5,408.7 463.7,402.2 463.9,403.7 464.2,401.7 464.4,408.6 464.6,408.9 464.9,405.6 465.1,407.4 465.3,401.7 465.6,401.3 465.8,400.8 466.0,401.4 466.3,399.8 466.5,408.8 466.7,402.2 467.0,404.5 467.2,440.2 467.5,434.2 467.7,435.0 467.9,431.3 468.2,429.2 468.4,436.2 468.6,435.1 468.9,434.9 469.1,435.1 469.3,432.3 469.6,433.0 469.8,423.8 470.0,425.3 470.3,434.8 470.5,433.8 470.7,429.0 471.0,430.7 471.2,425.4 471.4,427.5 471.7,434.3 471.9,430.4 472.1,420.5 472.4,433.5 472.6,430.1 472.8,432.5 473.1,448.3 473.3,460.4 473.5,454.7 473.8,438.6 474.0,459.0 474.2,471.5 474.5,427.0 474.7,467.2 474.9,455.0 475.2,433.8 475.4,451.1 475.6,452.7 475.9,458.5 476.1,427.0 476.3,456.1 476.6,446.4 476.8,455.8 477.0,443.0 477.3,431.3 477.5,455.6 477.7,447.6 478.0,446.4 478.2,460.9 478.5,433.2 478.7,440.8 478.9,447.1 479.2,455.3 479.4,452.3 479.6,435.4 479.9,446.2 480.1,434.6 480.3,430.9 480.6,430.7 480.8,429.5 481.0,426.6 481.3,430.7 481.5,433.7 481.7,434.0 482.0,434.5 482.2,432.9 482.4,426.4 482.7,435.4 482.9,433.5 483.1,426.8 483.4,429.9 483.6,435.2 483.8,431.5 484.1,430.8 484.3,433.6 484.5,435.8 484.8,435.1 485.0,434.6 485.2,433.9 485.5,435.0 485.7,431.3 485.9,430.0 486.2,435.4 486.4,431.8 486.6,430.6 486.9,434.3 487.1,435.0 487.3,433.4 487.6,432.6 487.8,430.2 488.0,432.4 488.3,432.1 488.5,428.0 488.7,430.4 489.0,433.2 489.2,501.0 489.5,471.4 489.7,491.0 489.9,491.3 490.2,464.1 490.4,461.8 490.6,493.7 490.9,463.6 491.1,473.5 491.3,465.0 491.6,460.0 491.8,455.8 492.0,452.6 492.3,480.8 492.5,466.2 492.7,464.8 493.0,453.3 493.2,500.5 493.4,466.9 493.7,452.6 493.9,469.4 494.1,486.7 494.4,457.7 494.6,474.6 494.8,463.4 495.1,473.2 495.3,473.8 495.5,473.3 495.8,474.7 496.0,473.9 496.2,471.9 496.5,476.3 496.7,470.2 496.9,472.7 497.2,475.1 497.4,473.4 497.6,478.0 497.9,474.5 498.1,470.6 498.3,471.0 498.6,472.0 498.8,462.5 499.0,472.5 499.3,474.9 499.5,473.8 499.7,475.5 500.0,471.9 500.2,474.4 500.4,471.8 500.7,477.2 500.9,473.6 501.2,469.7 501.4,475.1 501.6,472.9 501.9,472.2 502.1,472.2 502.3,473.0 502.6,470.4 502.8,475.0 503.0,457.1 503.3,440.5 503.5,440.5 503.7,440.5 504.0,462.7 504.2,462.7 504.4,445.9 504.7,438.3 504.9,415.0 505.1,467.2 505.4,467.2 505.6,467.2 505.8,463.2 506.1,464.4 506.3,464.4 506.5,451.1 506.8,451.1 507.0,420.0 507.2,458.1 507.5,458.1 507.7,455.4 507.9,455.4 508.2,436.9 508.4,436.9 508.6,433.0 508.9,439.1 509.1,472.5 509.3,470.8 509.6,474.5 509.8,475.7 510.0,471.0 510.3,478.2 510.5,471.0 510.7,476.7 511.0,474.6 511.2,478.2 511.4,483.9 511.7,476.8 511.9,472.2 512.2,474.0 512.4,474.5 512.6,473.6 512.9,478.7 513.1,473.1 513.3,473.3 513.6,476.1 513.8,473.8 514.0,473.8 514.3,477.8 514.5,477.5 514.7,472.3 515.0,474.9 515.2,476.4 515.4,474.8 515.7,478.8 515.9,467.7 516.1,478.6 516.4,474.2 516.6,475.9 516.8,473.0 517.1,482.9 517.3,477.0 517.5,476.2 517.8,476.8 518.0,476.3 518.2,473.9 518.5,478.5 518.7,430.1 518.9,467.6 519.2,469.9 519.4,468.9 519.6,431.6 519.9,477.7 520.1,465.5 520.3,461.7 520.6,456.4 520.8,466.1 521.0,453.5 521.3,445.8 521.5,450.3 521.7,439.0 522.0,428.9 522.2,466.3 522.4,447.2 522.7,471.3 522.9,442.2 523.2,457.9 523.4,448.8 523.6,432.1 523.9,449.3 524.1,452.1 524.3,455.9 524.6,460.3 524.8,424.6 525.0,472.4 525.3,445.9 525.5,423.0 525.7,448.0 526.0,427.4 526.2,432.4 526.4,472.0 526.7,470.5 526.9,466.2 527.1,467.8 527.4,479.8 527.6,466.3 527.8,482.4 528.1,477.3 528.3,477.3 528.5,478.5 528.8,478.4 529.0,472.3 529.2,466.6 529.5,473.1 529.7,479.9 529.9,477.3 530.2,480.7 530.4,481.2 530.6,471.3 530.9,479.3 531.1,465.2 531.3,476.0 531.6,467.8 531.8,473.1 532.0,487.8 532.3,477.8 532.5,468.4 532.7,473.1 533.0,479.3 533.2,477.9 533.4,474.4 533.7,478.0 533.9,477.2 534.2,477.5 534.4,479.5 534.6,473.4 534.9,476.2 535.1,475.7 535.3,477.2 535.6,476.5 535.8,474.8 536.0,480.0 536.3,477.2 536.5,466.9 536.7,479.0 537.0,479.4 537.2,477.9 537.4,474.2 537.7,477.9 537.9,474.3 538.1,475.3 538.4,473.7 538.6,478.9 538.8,475.8 539.1,474.8 539.3,473.9 539.5,476.2 539.8,479.3 540.0,473.4 540.2,475.6 540.5,477.5 540.7,476.0 540.9,476.9 541.2,477.9 541.4,473.5 541.6,477.3 541.9,477.2 542.1,477.3 542.3,477.5 542.6,478.3 542.8,475.2 543.0,473.8 543.3,474.0 543.5,477.8 543.7,479.0 544.0,474.8 544.2,474.0 544.4,477.6 544.7,478.2 544.9,480.2 545.2,476.7 545.4,475.4 545.6,476.6 545.9,475.9 546.1,481.8 546.3,478.0 546.6,478.0 546.8,474.7 547.0,479.5 547.3,477.1 547.5,475.2 547.7,478.4 548.0,474.1 548.2,479.3 548.4,478.3 548.7,474.6 548.9,477.9 549.1,475.9 549.4,474.8 549.6,481.5 549.8,474.9 550.1,477.8 550.3,476.4 550.5,478.9 550.8,474.9 551.0,478.5 551.2,474.1 551.5,477.8 551.7,480.8 551.9,476.4 552.2,478.6 552.4,474.2 552.6,478.0 552.9,493.3 553.1,493.3 553.3,472.6 553.6,501.1 553.8,453.0 554.0,473.3 554.3,465.6 554.5,475.8 554.7,499.5 555.0,472.9 555.2,463.8 555.4,463.8 555.7,498.5 555.9,498.5 556.2,471.0 556.4,476.4 556.6,476.4 556.9,481.4 557.1,472.9 557.3,481.9 557.6,474.5 557.8,469.4 558.0,466.3 558.3,466.3 558.5,471.5 558.7,478.5 559.0,456.3 559.2,474.5 559.4,490.9 559.7,456.4 559.9,456.4 560.1,493.7 560.4,496.5 560.6,495.9 560.8,490.2 561.1,490.8 561.3,495.3 561.5,487.8 561.8,494.3 562.0,494.2 562.2,488.1 562.5,486.7 562.7,494.3 562.9,495.5 563.2,495.7 563.4,490.7 563.6,490.8 563.9,495.6 564.1,489.1 564.3,493.5 564.6,488.9 564.8,490.9 565.0,492.5 565.3,489.6 565.5,489.5 565.7,501.2 566.0,491.0 566.2,495.1 566.4,494.8 566.7,494.8 566.9,493.3 567.2,491.5 567.4,502.5 567.6,492.2 567.9,494.2 568.1,492.7 568.3,491.5 568.6,496.8 568.8,491.4 569.0,489.7 569.3,493.7 569.5,489.6 569.7,494.2 570.0,493.4 570.2,492.6 570.4,495.7 570.7,494.5 570.9,487.0 571.1,490.6 571.4,491.2 571.6,491.0 571.8,490.7 572.1,491.4 572.3,492.6 572.5,493.7 572.8,491.6 573.0,492.3 573.2,488.3 573.5,490.2 573.7,493.0 573.9,493.5 574.2,490.7 574.4,487.7 574.6,493.7 574.9,495.1 575.1,488.8 575.3,493.6 575.6,496.5 575.8,500.9 576.0,501.3 576.3,500.8 576.5,500.7 576.7,500.2 577.0,498.7 577.2,498.4 577.4,501.0 577.7,500.1 577.9,498.3 578.2,498.4 578.4,500.5 578.6,499.1 578.9,499.9 579.1,497.9 579.3,499.7 579.6,501.3 579.8,498.7 580.0,500.7 580.3,501.4 580.5,500.8 580.7,501.5 581.0,499.7 581.2,500.1 581.4,499.7 581.7,500.5 581.9,504.0 582.1,501.0 582.4,499.9 582.6,498.6 582.8,498.7 583.1,502.3 583.3,501.2 583.5,500.5 583.8,501.2 584.0,498.6 584.2,498.6 584.5,498.5 584.7,501.0 584.9,499.9 585.2,498.2 585.4,500.3 585.6,501.9 585.9,499.0 586.1,500.9 586.3,501.7 586.6,500.8 586.8,500.3 587.0,500.6 587.3,499.6 587.5,500.7 587.7,500.5 588.0,498.6 588.2,500.3 588.4,500.6 588.7,501.8 588.9,500.6 589.2,501.5 589.4,499.9 589.6,501.5 589.9,499.6 590.1,500.0 590.3,501.5 590.6,501.2 590.8,499.2 591.0,499.2 591.3,500.3 591.5,498.6 591.7,501.1 592.0,498.2 592.2,498.5 592.4,501.1 592.7,498.1 592.9,499.9 593.1,500.3 593.4,500.6 593.6,500.9 593.8,501.3 594.1,499.3 594.3,500.9 594.5,500.6 594.8,501.4 595.0,500.5 595.2,501.4 595.5,499.4 595.7,498.8 595.9,501.6 596.2,500.3 596.4,500.0 596.6,499.1 596.9,500.8 597.1,500.3 597.3,498.7 597.6,500.4 597.8,501.2 598.0,500.7 598.3,500.8 598.5,502.6 598.7,502.3 599.0,498.9 599.2,502.0 599.4,500.9 599.7,499.3 599.9,499.8 600.2,500.8 600.4,498.9 600.6,501.2 600.9,501.1 601.1,500.7 601.3,500.1 601.6,499.9 601.8,499.3 602.0,499.9 602.3,498.8 602.5,504.0 602.7,499.1 603.0,499.9 603.2,499.5 603.4,500.4 603.7,499.2 603.9,500.9 604.1,498.3 604.4,501.0 604.6,499.2 604.8,502.0 605.1,501.2 605.3,499.2 605.5,490.0 605.8,500.5 606.0,496.2 606.2,494.4 606.5,486.4 606.7,497.9 606.9,498.5 607.2,500.5 607.4,502.9 607.6,493.2 607.9,497.3 608.1,491.8 608.3,491.3 608.6,492.2 608.8,496.1 609.0,496.7 609.3,499.4 609.5,497.4 609.7,496.0 610.0,491.9 610.2,493.8 610.4,490.3 610.7,490.1 610.9,496.1 611.2,493.8 611.4,490.1 611.6,493.4 611.9,495.9 612.1,492.5 612.3,496.9 612.6,494.2 612.8,492.9 613.0,497.9 613.3,499.6 613.5,499.8 613.7,497.4 614.0,493.5 614.2,492.7 614.4,502.2 614.7,495.9 614.9,495.3 615.1,494.3 615.4,498.7 615.6,497.7 615.8,498.1 616.1,493.1 616.3,499.2 616.5,500.3 616.8,492.4 617.0,473.3 617.2,484.6 617.5,476.1 617.7,468.0 617.9,468.0 618.2,492.9 618.4,492.9 618.6,492.9 618.9,477.8 619.1,488.0 619.3,476.5 619.6,493.0 619.8,468.0 620.0,477.1 620.3,499.3 620.5,489.9 620.7,487.5 621.0,494.9 621.2,483.4 621.4,473.7 621.7,468.8 621.9,478.2 622.1,495.9 622.4,477.6 622.6,486.6 622.9,497.4 623.1,497.4 623.3,476.7 623.6,483.2 623.8,476.9 624.0,476.9 624.3,493.6 624.5,487.2 624.7,479.3 625.0,487.7 625.2,483.1 625.4,483.1 625.7,483.1 625.9,495.3 626.1,483.3 626.4,483.3 626.6,486.4 626.8,501.7 627.1,472.3 627.3,495.1 627.5,486.9 627.8,493.7 628.0,482.6 628.2,482.6 628.5,483.6 628.7,484.9 628.9,477.4 629.2,477.4 629.4,468.0 629.6,468.0 629.9,468.0 630.1,482.3 630.3,495.9 630.6,480.4 630.8,479.4 631.0,492.4 631.3,469.7 631.5,469.7 631.7,469.7 632.0,493.0 632.2,489.6 632.4,489.6 632.7,489.6 632.9,495.9 633.1,495.9 633.4,495.9 633.6,495.9 633.9,493.9 634.1,487.8 634.3,495.1 634.6,495.1 634.8,489.3 635.0,490.4 635.3,493.1 635.5,490.1 635.7,489.1 636.0,489.6 636.2,489.6 636.4,489.6 636.7,493.6 636.9,493.6 637.1,498.1 637.4,498.1 637.6,493.9 637.8,493.9 638.1,501.9 638.3,501.9 638.5,491.6 638.8,491.6 639.0,501.6 639.2,480.0 639.5,480.4 639.7,499.0 639.9,491.8 640.2,491.8 640.4,491.8 640.6,480.0 640.9,482.5 641.1,482.5 641.3,482.5 641.6,495.9 641.8,495.9 642.0,488.9 642.3,501.4 642.5,494.9 642.7,496.2 643.0,496.2 643.2,496.2 643.4,493.6 643.7,488.5 643.9,489.2 644.1,492.3 644.4,495.4 644.6,480.7 644.9,480.7 645.1,494.2 645.3,491.4 645.6,500.2 645.8,492.6 646.0,492.6 646.3,490.6 646.5,493.9 646.7,487.3 647.0,487.8 647.2,497.9 647.4,502.6 647.7,490.6 647.9,493.1 648.1,493.1 648.4,498.3 648.6,491.1 648.8,503.8 649.1,491.6 649.3,497.0 649.5,489.4 649.8,488.5 650.0,488.7 650.2,490.2 650.5,500.4 650.7,504.0 650.9,480.8 651.2,480.8 651.4,489.9 651.6,502.4 651.9,497.2 652.1,498.0 652.3,493.2 652.6,496.3 652.8,481.6 653.0,486.1 653.3,502.0 653.5,501.0 653.7,501.0 654.0,501.0 654.2,494.0 654.4,482.8 654.7,482.8 654.9,490.9 655.1,502.3 655.4,501.0 655.6,501.0 655.9,487.2 656.1,494.1 656.3,480.9 656.6,480.9 656.8,497.5 657.0,497.5 657.3,482.5 657.5,482.5 657.7,489.6 658.0,489.6 658.2,489.6 658.4,485.7 658.7,485.7 658.9,492.7 659.1,504.0 659.4,504.0 659.6,481.1 659.8,484.8 660.1,503.6 660.3,493.0 660.5,493.8 660.8,493.0 661.0,495.6 661.2,498.0 661.5,485.4 661.7,485.4 661.9,491.3 662.2,485.9 662.4,494.3 662.6,494.3 662.9,491.3 663.1,489.2 663.3,489.2 663.6,491.3 663.8,496.2 664.0,496.3 664.3,492.2 664.5,495.6 664.7,491.6 665.0,492.8 665.2,488.1 665.4,488.1 665.7,488.1 665.9,488.1 666.1,491.6 666.4,491.6 666.6,491.6 666.9,491.6 667.1,495.9 667.3,495.9 667.6,495.9 667.8,494.3 668.0,492.8 668.3,503.0 668.5,501.1 668.7,487.8 669.0,504.0 669.2,481.0 669.4,490.0 669.7,483.5 669.9,493.7 670.1,502.7 670.4,486.4 670.6,487.4 670.8,490.0 671.1,490.0 671.3,500.0 671.5,490.6 671.8,487.2 672.0,501.4 672.2,490.9 672.5,486.3 672.7,486.3 672.9,486.3 673.2,496.6 673.4,491.6 673.6,498.3 673.9,498.3 674.1,498.3 674.3,498.3 674.6,493.8 674.8,493.8 675.0,483.1 675.3,493.7 675.5,493.7 675.7,488.8 676.0,498.2 676.2,498.2 676.4,489.9 676.7,504.0 676.9,489.4 677.1,504.0 677.4,493.0 677.6,485.7 677.9,492.0 678.1,494.8 678.3,491.3 678.6,492.3 678.8,489.6 679.0,489.6 679.3,504.0 679.5,489.5 679.7,491.8 680.0,502.5 680.2,502.5 680.4,502.5 680.7,492.9 680.9,484.3 681.1,486.6 681.4,486.1 681.6,486.1 681.8,486.1 682.1,489.6 682.3,489.0 682.5,496.4 682.8,494.9 683.0,486.9" fill="none" stroke="#7D4E4E" stroke-width="1.6" stroke-linejoin="round"/></g>
<rect x="74.5" y="14.3" width="608.5" height="490.7" fill="none" stroke="#000" stroke-width="1.6"/>
<text x="379.2" y="571.6" text-anchor="middle" font-size="26">Sample points</text>
<text transform="translate(25.7,250.3) rotate(-90)" text-anchor="middle" font-size="25.6">Ranging error (<tspan font-style="italic">m</tspan>)</text>
<rect x="373" y="19.5" width="305.5" height="54" fill="#fff" stroke="#000" stroke-width="1.4"/>
<line x1="375.2" y1="33.4" x2="419.2" y2="33.4" stroke="#515151" stroke-width="1.6"/>
<text x="423.5" y="40.0" font-size="20">A1</text>
<line x1="450.4" y1="33.4" x2="494.4" y2="33.4" stroke="#F14040" stroke-width="1.6"/>
<text x="498.7" y="40.0" font-size="20">A2</text>
<line x1="525.6" y1="33.4" x2="569.6" y2="33.4" stroke="#1A6FDF" stroke-width="1.6"/>
<text x="573.9" y="40.0" font-size="20">A3</text>
<line x1="600.8" y1="33.4" x2="644.8" y2="33.4" stroke="#37AD6B" stroke-width="1.6"/>
<text x="649.1" y="40.0" font-size="20">A4</text>
<line x1="375.2" y1="57.4" x2="419.2" y2="57.4" stroke="#B177DE" stroke-width="1.6"/>
<text x="423.5" y="64.0" font-size="20">A5</text>
<line x1="450.4" y1="57.4" x2="494.4" y2="57.4" stroke="#CC9900" stroke-width="1.6"/>
<text x="498.7" y="64.0" font-size="20">A6</text>
<line x1="525.6" y1="57.4" x2="569.6" y2="57.4" stroke="#00CBCC" stroke-width="1.6"/>
<text x="573.9" y="64.0" font-size="20">A7</text>
<line x1="600.8" y1="57.4" x2="644.8" y2="57.4" stroke="#7D4E4E" stroke-width="1.6"/>
<text x="649.1" y="64.0" font-size="20">A8</text>
</svg>
</body></html>
